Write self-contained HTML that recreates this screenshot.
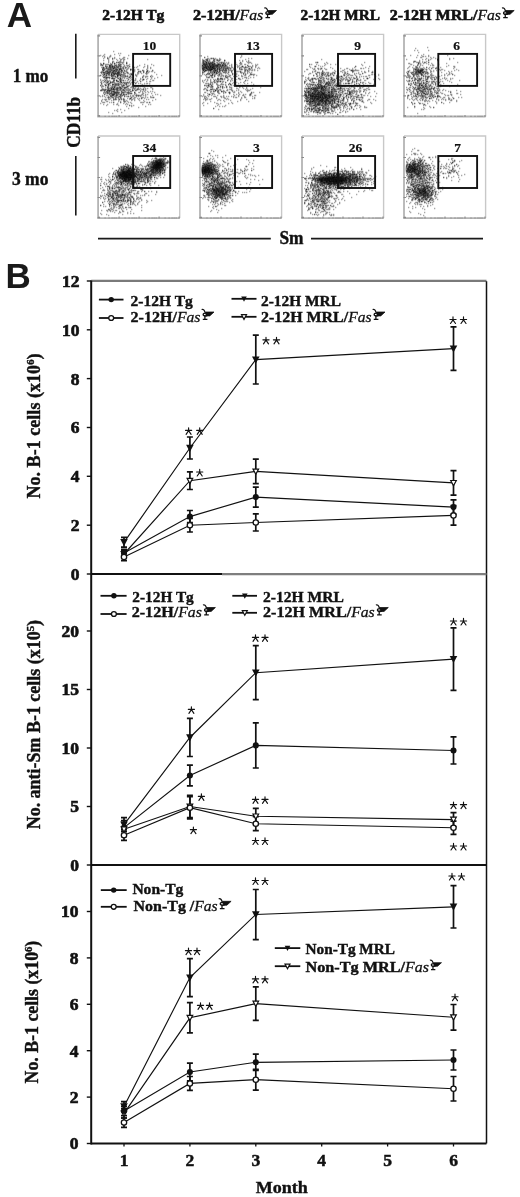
<!DOCTYPE html>
<html><head><meta charset="utf-8"><style>
html,body{margin:0;padding:0;background:#fff;}
body{width:520px;height:1197px;overflow:hidden;}
svg{display:block;font-family:'Liberation Serif', serif;will-change:transform;}
</style></head><body>
<svg width="520" height="1197" viewBox="0 0 520 1197">
<defs><filter id="bl" x="-10%" y="-10%" width="120%" height="120%"><feGaussianBlur stdDeviation="0.5"/></filter><filter id="b1" x="-50%" y="-50%" width="200%" height="200%"><feGaussianBlur stdDeviation="1"/></filter><filter id="b1_2" x="-50%" y="-50%" width="200%" height="200%"><feGaussianBlur stdDeviation="1.2"/></filter><filter id="b1_5" x="-50%" y="-50%" width="200%" height="200%"><feGaussianBlur stdDeviation="1.5"/></filter><filter id="b2" x="-50%" y="-50%" width="200%" height="200%"><feGaussianBlur stdDeviation="2"/></filter><filter id="b3" x="-50%" y="-50%" width="200%" height="200%"><feGaussianBlur stdDeviation="3"/></filter><clipPath id="cp00"><rect x="99.1" y="35.4" width="79.6" height="80.1"/></clipPath><clipPath id="cp01"><rect x="201.0" y="35.4" width="79.6" height="80.1"/></clipPath><clipPath id="cp02"><rect x="303.0" y="35.4" width="79.6" height="80.1"/></clipPath><clipPath id="cp03"><rect x="405.0" y="35.4" width="79.6" height="80.1"/></clipPath><clipPath id="cp10"><rect x="99.1" y="137.0" width="79.6" height="80.1"/></clipPath><clipPath id="cp11"><rect x="201.0" y="137.0" width="79.6" height="80.1"/></clipPath><clipPath id="cp12"><rect x="303.0" y="137.0" width="79.6" height="80.1"/></clipPath><clipPath id="cp13"><rect x="405.0" y="137.0" width="79.6" height="80.1"/></clipPath></defs>
<rect width="520" height="1197" fill="#fff"/>
<text x="6.8" y="27.4" font-size="35" font-weight="bold" font-family="'Liberation Sans', sans-serif" fill="#1a1a1a">A</text>
<text x="5.6" y="288" font-size="35" font-weight="bold" font-family="'Liberation Sans', sans-serif" fill="#1a1a1a">B</text>
<text x="102.3" y="20.2" font-size="15.2" font-weight="bold" textLength="62" lengthAdjust="spacingAndGlyphs" fill="#111" stroke="#111" stroke-width="0.6" >2-12H Tg</text>
<text x="193" y="20.2" font-size="15.2" font-weight="bold" textLength="46.63" lengthAdjust="spacingAndGlyphs" fill="#111" stroke="#111" stroke-width="0.6" >2-12H/</text>
<text x="239.63" y="20.2" font-size="15.2" font-weight="normal" font-style="italic" textLength="23.57" lengthAdjust="spacingAndGlyphs" fill="#111" stroke="#111" stroke-width="0.3" >Fas</text>
<g transform="translate(263.20,20.20) scale(0.950)" fill="none" stroke="#111" stroke-width="1.35"><path d="M1.2 -12.8C3 -13.6 4.2 -12 4.8 -9.6"/><ellipse cx="5.2" cy="-7.6" rx="2.4" ry="1.5"/><path d="M4.6 -7V-2.8M2.4 -2.6H7.2"/><path d="M5.2 -10.2H14L9.6 -6.2H6Z" fill="#111" stroke-width="0.8"/></g>
<text x="300.6" y="20.2" font-size="15.2" font-weight="bold" textLength="79.4" lengthAdjust="spacingAndGlyphs" fill="#111" stroke="#111" stroke-width="0.6" >2-12H MRL</text>
<text x="389.7" y="20.2" font-size="15.2" font-weight="bold" textLength="87.78" lengthAdjust="spacingAndGlyphs" fill="#111" stroke="#111" stroke-width="0.6" >2-12H MRL/</text>
<text x="477.48" y="20.2" font-size="15.2" font-weight="normal" font-style="italic" textLength="23.42" lengthAdjust="spacingAndGlyphs" fill="#111" stroke="#111" stroke-width="0.3" >Fas</text>
<g transform="translate(500.90,20.20) scale(0.950)" fill="none" stroke="#111" stroke-width="1.35"><path d="M1.2 -12.8C3 -13.6 4.2 -12 4.8 -9.6"/><ellipse cx="5.2" cy="-7.6" rx="2.4" ry="1.5"/><path d="M4.6 -7V-2.8M2.4 -2.6H7.2"/><path d="M5.2 -10.2H14L9.6 -6.2H6Z" fill="#111" stroke-width="0.8"/></g>
<text x="12.8" y="81.7" font-size="18" font-weight="bold" textLength="35.6" lengthAdjust="spacingAndGlyphs" fill="#111" stroke="#111" stroke-width="0.4" >1 mo</text>
<text x="11.9" y="185.3" font-size="18" font-weight="bold" textLength="36.5" lengthAdjust="spacingAndGlyphs" fill="#111" stroke="#111" stroke-width="0.4" >3 mo</text>
<text transform="translate(80.2,147.8) rotate(-90)" x="0" y="0" font-size="18" font-weight="bold" textLength="51" lengthAdjust="spacingAndGlyphs" fill="#111" stroke="#111" stroke-width="0.4">CD11b</text>
<path d="M75.8 33.7V78.4M75.8 156V215.4" stroke="#1a1a1a" stroke-width="1.6"/>
<text x="279.4" y="243.5" font-size="18" font-weight="bold" textLength="24.1" lengthAdjust="spacingAndGlyphs" fill="#111" stroke="#111" stroke-width="0.4" >Sm</text>
<path d="M98 238.7H270.8M311 238.7H483" stroke="#1a1a1a" stroke-width="1.7"/>
<g clip-path="url(#cp00)">
<ellipse cx="113.1" cy="70.4" rx="9" ry="5" transform="rotate(0 113.1 70.4)" fill="#000" fill-opacity="0.12" filter="url(#b2)"/>
<ellipse cx="115.1" cy="91.4" rx="9" ry="5" transform="rotate(0 115.1 91.4)" fill="#000" fill-opacity="0.08" filter="url(#b2)"/>
<g filter="url(#bl)" stroke="#000" stroke-width="1.3" stroke-opacity="0.34">
<path d="M111 89.5h1.3M117 87.5h1.3M109 69.5h1.3M113 71.5h1.3M121 74.5h1.3M118 72.5h1.3M120 80.5h1.3M130 76.5h1.3M127 93.5h1.3M136 86.5h1.3M109 90.5h1.3M124 101.5h1.3M112 84.5h1.3M117 90.5h1.3M114 67.5h1.3M118 87.5h1.3M130 78.5h1.3M113 95.5h1.3M112 82.5h1.3M104 72.5h1.3M124 99.5h1.3M117 93.5h1.3M133 87.5h1.3M117 84.5h1.3M105 85.5h1.3M111 92.5h1.3M119 96.5h1.3M110 64.5h1.3M125 68.5h1.3M125 82.5h1.3M111 91.5h1.3M112 63.5h1.3M121 59.5h1.3M100 75.5h1.3M113 72.5h1.3M111 78.5h1.3M110 72.5h1.3M106 85.5h1.3M127 69.5h1.3M106 105.5h1.3M129 82.5h1.3M107 81.5h1.3M114 63.5h1.3M109 73.5h1.3M116 87.5h1.3M107 90.5h1.3M104 90.5h1.3M103 64.5h1.3M103 67.5h1.3M129 77.5h1.3M107 87.5h1.3M107 82.5h1.3M100 55.5h1.3M124 110.5h1.3M120 80.5h1.3M118 93.5h1.3M114 54.5h1.3M128 73.5h1.3M120 62.5h1.3M114 87.5h1.3M102 69.5h1.3M114 92.5h1.3M122 71.5h1.3M114 99.5h1.3M119 84.5h1.3M107 92.5h1.3M108 84.5h1.3M117 75.5h1.3M120 89.5h1.3M108 74.5h1.3M116 59.5h1.3M111 78.5h1.3M120 78.5h1.3M124 102.5h1.3M117 72.5h1.3M100 72.5h1.3M113 80.5h1.3M131 105.5h1.3M105 77.5h1.3M132 90.5h1.3M111 92.5h1.3M115 88.5h1.3M117 67.5h1.3M114 70.5h1.3M111 88.5h1.3M124 57.5h1.3M100 64.5h1.3M111 102.5h1.3M104 99.5h1.3M126 94.5h1.3M116 80.5h1.3M114 63.5h1.3M123 92.5h1.3M108 81.5h1.3M119 99.5h1.3M124 96.5h1.3M117 62.5h1.3M108 75.5h1.3M127 86.5h1.3M120 68.5h1.3M126 83.5h1.3M108 88.5h1.3M105 84.5h1.3M132 82.5h1.3M133 90.5h1.3M116 104.5h1.3M119 58.5h1.3M110 82.5h1.3M103 60.5h1.3M101 81.5h1.3M117 95.5h1.3M109 92.5h1.3M121 82.5h1.3M111 74.5h1.3M123 61.5h1.3M119 84.5h1.3M110 85.5h1.3M113 72.5h1.3M110 82.5h1.3M106 75.5h1.3M101 90.5h1.3M104 56.5h1.3M107 71.5h1.3M121 66.5h1.3M115 71.5h1.3M120 66.5h1.3M116 71.5h1.3M109 66.5h1.3M116 62.5h1.3M113 72.5h1.3M117 81.5h1.3M118 65.5h1.3M117 73.5h1.3M106 70.5h1.3M115 70.5h1.3M109 69.5h1.3M102 65.5h1.3M123 62.5h1.3M105 75.5h1.3M102 76.5h1.3M115 72.5h1.3M112 68.5h1.3M133 67.5h1.3M128 68.5h1.3M123 68.5h1.3M123 73.5h1.3M111 73.5h1.3M109 78.5h1.3M127 68.5h1.3M114 64.5h1.3M117 60.5h1.3M117 60.5h1.3M123 62.5h1.3M102 69.5h1.3M104 74.5h1.3M117 74.5h1.3M102 69.5h1.3M121 70.5h1.3M117 72.5h1.3M114 66.5h1.3M131 73.5h1.3M109 72.5h1.3M109 73.5h1.3M115 68.5h1.3M111 66.5h1.3M111 78.5h1.3M122 74.5h1.3M126 65.5h1.3M111 66.5h1.3M116 73.5h1.3M101 73.5h1.3M125 76.5h1.3M122 68.5h1.3M117 69.5h1.3M121 72.5h1.3M121 68.5h1.3M108 89.5h1.3M112 93.5h1.3M128 91.5h1.3M112 89.5h1.3M124 100.5h1.3M116 93.5h1.3M113 91.5h1.3M118 87.5h1.3M113 97.5h1.3M117 90.5h1.3M122 92.5h1.3M120 94.5h1.3M118 98.5h1.3M116 89.5h1.3M117 90.5h1.3M124 87.5h1.3M114 80.5h1.3M120 97.5h1.3M112 94.5h1.3M117 91.5h1.3M123 94.5h1.3M128 92.5h1.3M118 92.5h1.3M129 89.5h1.3M108 92.5h1.3M118 94.5h1.3M106 99.5h1.3M114 89.5h1.3M113 94.5h1.3M113 88.5h1.3M126 89.5h1.3M120 87.5h1.3M117 88.5h1.3M147 94.5h1.3M143 97.5h1.3M143 88.5h1.3M123 101.5h1.3M143 102.5h1.3M147 102.5h1.3M140 95.5h1.3M136 82.5h1.3M133 105.5h1.3M134 99.5h1.3M130 98.5h1.3M133 98.5h1.3M142 97.5h1.3M147 88.5h1.3M132 88.5h1.3M150 91.5h1.3M142 93.5h1.3M136 95.5h1.3M134 98.5h1.3M142 92.5h1.3M138 89.5h1.3M131 100.5h1.3M130 95.5h1.3M138 95.5h1.3M140 86.5h1.3M147 71.5h1.3M150 76.5h1.3M138 71.5h1.3M142 86.5h1.3M143 72.5h1.3M143 79.5h1.3M143 70.5h1.3M149 71.5h1.3M143 67.5h1.3M147 73.5h1.3M146 73.5h1.3M143 76.5h1.3M150 81.5h1.3M146 76.5h1.3M146 81.5h1.3M134 69.5h1.3M140 71.5h1.3M147 68.5h1.3M142 70.5h1.3M144 64.5h1.3"/>
<path d="M112 78.5h1.3M120 88.5h1.3M107 104.5h1.3M108 98.5h1.3M120 81.5h1.3M109 65.5h1.3M102 95.5h1.3M125 89.5h1.3M118 90.5h1.3M118 84.5h1.3M109 77.5h1.3M117 75.5h1.3M123 84.5h1.3M123 103.5h1.3M131 69.5h1.3M131 103.5h1.3M108 85.5h1.3M125 92.5h1.3M117 76.5h1.3M111 76.5h1.3M114 79.5h1.3M113 89.5h1.3M110 69.5h1.3M115 71.5h1.3M119 79.5h1.3M106 89.5h1.3M112 91.5h1.3M101 84.5h1.3M103 74.5h1.3M134 89.5h1.3M102 68.5h1.3M122 87.5h1.3M119 90.5h1.3M102 80.5h1.3M121 112.5h1.3M117 109.5h1.3M132 82.5h1.3M107 92.5h1.3M129 66.5h1.3M113 86.5h1.3M104 77.5h1.3M111 87.5h1.3M122 86.5h1.3M135 75.5h1.3M124 59.5h1.3M101 86.5h1.3M117 85.5h1.3M123 72.5h1.3M102 56.5h1.3M123 80.5h1.3M121 92.5h1.3M114 79.5h1.3M121 80.5h1.3M116 80.5h1.3M109 91.5h1.3M116 81.5h1.3M122 62.5h1.3M128 85.5h1.3M114 57.5h1.3M127 104.5h1.3M127 58.5h1.3M113 104.5h1.3M110 75.5h1.3M103 92.5h1.3M109 88.5h1.3M128 83.5h1.3M124 91.5h1.3M116 73.5h1.3M110 55.5h1.3M101 90.5h1.3M107 84.5h1.3M112 59.5h1.3M120 53.5h1.3M116 92.5h1.3M124 92.5h1.3M129 81.5h1.3M114 83.5h1.3M124 82.5h1.3M114 89.5h1.3M107 71.5h1.3M128 83.5h1.3M136 90.5h1.3M114 86.5h1.3M113 100.5h1.3M121 74.5h1.3M106 77.5h1.3M117 83.5h1.3M134 92.5h1.3M108 74.5h1.3M108 90.5h1.3M107 80.5h1.3M119 96.5h1.3M131 93.5h1.3M116 92.5h1.3M108 91.5h1.3M120 76.5h1.3M111 89.5h1.3M120 87.5h1.3M124 66.5h1.3M103 89.5h1.3M124 101.5h1.3M127 98.5h1.3M109 80.5h1.3M112 91.5h1.3M130 69.5h1.3M110 88.5h1.3M120 101.5h1.3M108 83.5h1.3M106 91.5h1.3M116 80.5h1.3M102 90.5h1.3M110 98.5h1.3M127 73.5h1.3M108 69.5h1.3M106 78.5h1.3M119 66.5h1.3M109 75.5h1.3M113 74.5h1.3M114 80.5h1.3M104 94.5h1.3M132 74.5h1.3M123 57.5h1.3M111 86.5h1.3M113 78.5h1.3M101 71.5h1.3M122 70.5h1.3M107 68.5h1.3M108 71.5h1.3M118 71.5h1.3M108 70.5h1.3M126 62.5h1.3M110 68.5h1.3M117 66.5h1.3M113 73.5h1.3M116 66.5h1.3M120 78.5h1.3M118 64.5h1.3M112 70.5h1.3M124 70.5h1.3M130 74.5h1.3M113 79.5h1.3M123 64.5h1.3M120 75.5h1.3M114 65.5h1.3M113 75.5h1.3M125 67.5h1.3M108 67.5h1.3M112 75.5h1.3M120 64.5h1.3M115 76.5h1.3M115 71.5h1.3M118 74.5h1.3M116 62.5h1.3M106 67.5h1.3M103 70.5h1.3M119 69.5h1.3M110 65.5h1.3M130 69.5h1.3M115 73.5h1.3M120 64.5h1.3M113 68.5h1.3M111 65.5h1.3M101 72.5h1.3M113 75.5h1.3M120 69.5h1.3M116 74.5h1.3M123 66.5h1.3M103 75.5h1.3M106 74.5h1.3M126 63.5h1.3M118 66.5h1.3M110 75.5h1.3M113 70.5h1.3M118 81.5h1.3M126 67.5h1.3M113 68.5h1.3M108 72.5h1.3M107 80.5h1.3M118 83.5h1.3M112 97.5h1.3M124 96.5h1.3M116 95.5h1.3M123 85.5h1.3M105 89.5h1.3M114 89.5h1.3M113 99.5h1.3M108 90.5h1.3M111 86.5h1.3M112 87.5h1.3M125 88.5h1.3M124 96.5h1.3M130 91.5h1.3M117 97.5h1.3M132 87.5h1.3M116 90.5h1.3M122 86.5h1.3M124 88.5h1.3M123 100.5h1.3M120 102.5h1.3M115 93.5h1.3M102 89.5h1.3M111 100.5h1.3M116 96.5h1.3M114 96.5h1.3M100 96.5h1.3M111 94.5h1.3M120 98.5h1.3M125 94.5h1.3M119 92.5h1.3M104 90.5h1.3M109 93.5h1.3M140 91.5h1.3M139 80.5h1.3M131 106.5h1.3M152 91.5h1.3M150 104.5h1.3M132 90.5h1.3M160 95.5h1.3M142 94.5h1.3M148 99.5h1.3M147 91.5h1.3M139 95.5h1.3M136 96.5h1.3M149 85.5h1.3M141 102.5h1.3M142 102.5h1.3M129 93.5h1.3M128 102.5h1.3M137 88.5h1.3M139 95.5h1.3M128 85.5h1.3M129 99.5h1.3M138 96.5h1.3M145 89.5h1.3M135 87.5h1.3M153 97.5h1.3M140 81.5h1.3M153 65.5h1.3M146 69.5h1.3M141 85.5h1.3M146 72.5h1.3M146 71.5h1.3M154 78.5h1.3M146 71.5h1.3M143 71.5h1.3M130 75.5h1.3M135 88.5h1.3M141 73.5h1.3M140 79.5h1.3M147 71.5h1.3M145 77.5h1.3M146 85.5h1.3M134 67.5h1.3M147 67.5h1.3M142 77.5h1.3M147 83.5h1.3"/>
<path d="M104 79.5h1.3M120 97.5h1.3M105 85.5h1.3M103 75.5h1.3M126 84.5h1.3M115 97.5h1.3M112 78.5h1.3M116 89.5h1.3M114 94.5h1.3M108 81.5h1.3M110 90.5h1.3M113 102.5h1.3M121 69.5h1.3M104 102.5h1.3M127 101.5h1.3M107 93.5h1.3M134 82.5h1.3M114 92.5h1.3M101 87.5h1.3M123 92.5h1.3M104 91.5h1.3M103 77.5h1.3M137 95.5h1.3M113 89.5h1.3M107 82.5h1.3M119 69.5h1.3M120 84.5h1.3M111 96.5h1.3M118 97.5h1.3M114 63.5h1.3M126 70.5h1.3M107 64.5h1.3M113 82.5h1.3M113 73.5h1.3M114 71.5h1.3M109 83.5h1.3M118 99.5h1.3M112 82.5h1.3M117 76.5h1.3M114 86.5h1.3M119 79.5h1.3M117 89.5h1.3M115 92.5h1.3M120 81.5h1.3M116 80.5h1.3M122 80.5h1.3M133 87.5h1.3M100 79.5h1.3M115 92.5h1.3M115 85.5h1.3M117 73.5h1.3M116 85.5h1.3M109 71.5h1.3M101 101.5h1.3M129 77.5h1.3M115 97.5h1.3M106 75.5h1.3M114 87.5h1.3M111 76.5h1.3M105 76.5h1.3M123 85.5h1.3M119 80.5h1.3M124 83.5h1.3M111 78.5h1.3M113 73.5h1.3M116 88.5h1.3M128 86.5h1.3M100 90.5h1.3M109 83.5h1.3M110 82.5h1.3M123 87.5h1.3M104 81.5h1.3M107 73.5h1.3M102 99.5h1.3M120 83.5h1.3M122 89.5h1.3M127 92.5h1.3M131 74.5h1.3M120 79.5h1.3M118 62.5h1.3M105 100.5h1.3M122 80.5h1.3M116 110.5h1.3M118 100.5h1.3M109 65.5h1.3M137 66.5h1.3M118 85.5h1.3M127 78.5h1.3M117 78.5h1.3M102 102.5h1.3M108 60.5h1.3M125 73.5h1.3M126 103.5h1.3M117 92.5h1.3M132 79.5h1.3M112 84.5h1.3M124 74.5h1.3M106 71.5h1.3M106 73.5h1.3M126 76.5h1.3M118 101.5h1.3M109 90.5h1.3M120 65.5h1.3M119 71.5h1.3M110 96.5h1.3M127 101.5h1.3M130 69.5h1.3M101 83.5h1.3M118 81.5h1.3M111 64.5h1.3M118 72.5h1.3M101 65.5h1.3M103 63.5h1.3M115 76.5h1.3M110 95.5h1.3M125 75.5h1.3M115 84.5h1.3M132 89.5h1.3M130 84.5h1.3M106 77.5h1.3M102 96.5h1.3M134 88.5h1.3M116 65.5h1.3M115 73.5h1.3M123 74.5h1.3M115 65.5h1.3M114 71.5h1.3M114 58.5h1.3M113 73.5h1.3M119 74.5h1.3M114 72.5h1.3M118 75.5h1.3M134 70.5h1.3M113 70.5h1.3M112 67.5h1.3M114 72.5h1.3M122 67.5h1.3M103 72.5h1.3M123 68.5h1.3M117 70.5h1.3M118 71.5h1.3M113 67.5h1.3M114 74.5h1.3M107 66.5h1.3M120 60.5h1.3M104 69.5h1.3M108 69.5h1.3M101 67.5h1.3M104 74.5h1.3M120 66.5h1.3M105 76.5h1.3M117 69.5h1.3M104 72.5h1.3M116 74.5h1.3M106 75.5h1.3M123 69.5h1.3M109 70.5h1.3M105 65.5h1.3M110 67.5h1.3M118 72.5h1.3M117 73.5h1.3M113 71.5h1.3M112 66.5h1.3M109 69.5h1.3M113 71.5h1.3M115 67.5h1.3M109 73.5h1.3M106 68.5h1.3M112 72.5h1.3M118 73.5h1.3M109 68.5h1.3M121 71.5h1.3M121 62.5h1.3M113 68.5h1.3M112 61.5h1.3M108 61.5h1.3M111 72.5h1.3M120 75.5h1.3M122 95.5h1.3M113 94.5h1.3M111 93.5h1.3M131 93.5h1.3M113 95.5h1.3M122 85.5h1.3M118 93.5h1.3M107 91.5h1.3M117 94.5h1.3M113 98.5h1.3M127 96.5h1.3M130 98.5h1.3M113 91.5h1.3M130 98.5h1.3M128 93.5h1.3M123 99.5h1.3M113 91.5h1.3M118 93.5h1.3M110 83.5h1.3M112 87.5h1.3M114 91.5h1.3M121 93.5h1.3M127 86.5h1.3M115 86.5h1.3M113 94.5h1.3M114 86.5h1.3M126 94.5h1.3M102 86.5h1.3M125 87.5h1.3M128 94.5h1.3M105 87.5h1.3M104 89.5h1.3M145 94.5h1.3M141 95.5h1.3M152 100.5h1.3M141 98.5h1.3M145 90.5h1.3M124 88.5h1.3M149 102.5h1.3M142 104.5h1.3M146 99.5h1.3M151 87.5h1.3M135 86.5h1.3M141 94.5h1.3M143 93.5h1.3M140 88.5h1.3M138 107.5h1.3M143 90.5h1.3M142 91.5h1.3M124 95.5h1.3M144 101.5h1.3M143 100.5h1.3M143 89.5h1.3M140 88.5h1.3M121 96.5h1.3M142 84.5h1.3M138 87.5h1.3M143 79.5h1.3M147 70.5h1.3M152 70.5h1.3M147 65.5h1.3M140 71.5h1.3M148 72.5h1.3M157 77.5h1.3M143 75.5h1.3M146 71.5h1.3M137 69.5h1.3M143 72.5h1.3M132 70.5h1.3M142 70.5h1.3M135 74.5h1.3M145 88.5h1.3M147 78.5h1.3M143 71.5h1.3M145 73.5h1.3M146 79.5h1.3M151 64.5h1.3"/>
<path d="M126 87.5h1.3M104 76.5h1.3M107 72.5h1.3M119 63.5h1.3M121 94.5h1.3M128 55.5h1.3M117 88.5h1.3M123 58.5h1.3M107 77.5h1.3M130 69.5h1.3M112 86.5h1.3M110 87.5h1.3M112 81.5h1.3M126 63.5h1.3M126 78.5h1.3M103 63.5h1.3M125 80.5h1.3M130 80.5h1.3M118 74.5h1.3M120 95.5h1.3M116 67.5h1.3M121 86.5h1.3M135 80.5h1.3M124 83.5h1.3M118 73.5h1.3M101 64.5h1.3M106 80.5h1.3M113 84.5h1.3M130 91.5h1.3M121 94.5h1.3M123 82.5h1.3M109 56.5h1.3M112 58.5h1.3M114 85.5h1.3M119 61.5h1.3M103 82.5h1.3M113 81.5h1.3M120 77.5h1.3M123 94.5h1.3M127 82.5h1.3M130 73.5h1.3M131 97.5h1.3M127 76.5h1.3M104 84.5h1.3M120 109.5h1.3M131 86.5h1.3M119 87.5h1.3M117 111.5h1.3M108 88.5h1.3M131 77.5h1.3M108 93.5h1.3M117 104.5h1.3M124 87.5h1.3M107 90.5h1.3M119 69.5h1.3M114 78.5h1.3M113 102.5h1.3M108 88.5h1.3M110 93.5h1.3M125 91.5h1.3M119 73.5h1.3M106 81.5h1.3M119 88.5h1.3M102 72.5h1.3M111 74.5h1.3M123 99.5h1.3M138 83.5h1.3M127 92.5h1.3M110 82.5h1.3M117 75.5h1.3M114 78.5h1.3M103 86.5h1.3M122 92.5h1.3M103 82.5h1.3M114 74.5h1.3M121 84.5h1.3M124 70.5h1.3M108 85.5h1.3M105 73.5h1.3M116 99.5h1.3M127 65.5h1.3M114 110.5h1.3M119 99.5h1.3M135 83.5h1.3M107 58.5h1.3M116 80.5h1.3M103 67.5h1.3M135 95.5h1.3M108 62.5h1.3M120 87.5h1.3M114 73.5h1.3M123 67.5h1.3M117 75.5h1.3M112 113.5h1.3M107 73.5h1.3M105 64.5h1.3M108 58.5h1.3M123 90.5h1.3M108 99.5h1.3M103 55.5h1.3M126 92.5h1.3M117 103.5h1.3M100 85.5h1.3M119 74.5h1.3M100 90.5h1.3M113 80.5h1.3M126 106.5h1.3M104 68.5h1.3M103 104.5h1.3M119 70.5h1.3M131 87.5h1.3M127 72.5h1.3M115 85.5h1.3M109 94.5h1.3M125 83.5h1.3M131 82.5h1.3M109 57.5h1.3M116 77.5h1.3M126 100.5h1.3M108 59.5h1.3M122 58.5h1.3M118 78.5h1.3M127 75.5h1.3M119 77.5h1.3M114 67.5h1.3M128 67.5h1.3M116 69.5h1.3M113 75.5h1.3M110 66.5h1.3M112 69.5h1.3M130 76.5h1.3M111 64.5h1.3M105 80.5h1.3M119 72.5h1.3M119 65.5h1.3M116 71.5h1.3M112 65.5h1.3M118 67.5h1.3M123 75.5h1.3M102 69.5h1.3M111 67.5h1.3M103 70.5h1.3M123 59.5h1.3M120 59.5h1.3M110 70.5h1.3M115 69.5h1.3M120 69.5h1.3M117 72.5h1.3M117 77.5h1.3M121 70.5h1.3M121 72.5h1.3M100 63.5h1.3M114 70.5h1.3M112 66.5h1.3M120 75.5h1.3M116 70.5h1.3M100 80.5h1.3M101 72.5h1.3M124 65.5h1.3M111 69.5h1.3M102 70.5h1.3M129 76.5h1.3M129 66.5h1.3M106 79.5h1.3M104 69.5h1.3M109 66.5h1.3M104 76.5h1.3M108 68.5h1.3M110 71.5h1.3M111 73.5h1.3M126 71.5h1.3M128 77.5h1.3M109 67.5h1.3M112 71.5h1.3M110 65.5h1.3M106 66.5h1.3M112 76.5h1.3M110 63.5h1.3M105 78.5h1.3M112 95.5h1.3M117 92.5h1.3M115 92.5h1.3M120 88.5h1.3M120 88.5h1.3M134 85.5h1.3M111 93.5h1.3M111 96.5h1.3M112 97.5h1.3M126 90.5h1.3M108 97.5h1.3M116 94.5h1.3M113 93.5h1.3M112 94.5h1.3M118 96.5h1.3M108 99.5h1.3M101 89.5h1.3M129 98.5h1.3M118 92.5h1.3M111 92.5h1.3M120 96.5h1.3M113 88.5h1.3M108 87.5h1.3M111 88.5h1.3M134 92.5h1.3M124 90.5h1.3M122 90.5h1.3M113 89.5h1.3M122 90.5h1.3M111 97.5h1.3M114 94.5h1.3M110 89.5h1.3M117 92.5h1.3M150 97.5h1.3M141 89.5h1.3M152 97.5h1.3M139 100.5h1.3M140 83.5h1.3M145 106.5h1.3M145 96.5h1.3M139 92.5h1.3M146 102.5h1.3M139 98.5h1.3M129 92.5h1.3M124 85.5h1.3M137 89.5h1.3M138 88.5h1.3M126 96.5h1.3M148 104.5h1.3M144 98.5h1.3M140 90.5h1.3M145 95.5h1.3M143 86.5h1.3M131 99.5h1.3M130 93.5h1.3M130 96.5h1.3M145 97.5h1.3M153 97.5h1.3M142 79.5h1.3M145 76.5h1.3M150 76.5h1.3M128 79.5h1.3M152 70.5h1.3M147 76.5h1.3M143 79.5h1.3M137 81.5h1.3M152 71.5h1.3M147 76.5h1.3M140 81.5h1.3M138 69.5h1.3M152 89.5h1.3M150 79.5h1.3M129 74.5h1.3M151 75.5h1.3M144 83.5h1.3M151 71.5h1.3M156 74.5h1.3M153 80.5h1.3"/>
<path d="M126 85.5h1.3M117 81.5h1.3M110 81.5h1.3M115 99.5h1.3M130 87.5h1.3M132 90.5h1.3M112 95.5h1.3M126 82.5h1.3M128 65.5h1.3M120 82.5h1.3M102 85.5h1.3M125 67.5h1.3M122 63.5h1.3M124 78.5h1.3M128 92.5h1.3M106 95.5h1.3M114 93.5h1.3M112 66.5h1.3M107 57.5h1.3M129 90.5h1.3M120 94.5h1.3M105 71.5h1.3M129 105.5h1.3M133 95.5h1.3M119 87.5h1.3M114 84.5h1.3M104 92.5h1.3M114 90.5h1.3M128 79.5h1.3M123 89.5h1.3M107 89.5h1.3M123 94.5h1.3M121 91.5h1.3M100 82.5h1.3M122 86.5h1.3M140 78.5h1.3M120 80.5h1.3M105 85.5h1.3M122 76.5h1.3M108 112.5h1.3M113 78.5h1.3M109 102.5h1.3M106 82.5h1.3M114 68.5h1.3M119 75.5h1.3M124 73.5h1.3M108 73.5h1.3M113 81.5h1.3M113 84.5h1.3M111 74.5h1.3M107 82.5h1.3M132 66.5h1.3M115 83.5h1.3M126 86.5h1.3M118 83.5h1.3M111 91.5h1.3M102 88.5h1.3M115 77.5h1.3M111 68.5h1.3M104 77.5h1.3M120 64.5h1.3M128 79.5h1.3M116 94.5h1.3M111 90.5h1.3M107 88.5h1.3M105 93.5h1.3M124 76.5h1.3M116 95.5h1.3M117 76.5h1.3M129 85.5h1.3M124 90.5h1.3M120 80.5h1.3M121 76.5h1.3M128 108.5h1.3M114 78.5h1.3M108 77.5h1.3M107 88.5h1.3M127 86.5h1.3M114 67.5h1.3M112 72.5h1.3M114 91.5h1.3M116 84.5h1.3M128 89.5h1.3M116 84.5h1.3M109 94.5h1.3M125 84.5h1.3M121 82.5h1.3M112 91.5h1.3M105 89.5h1.3M115 96.5h1.3M120 94.5h1.3M118 88.5h1.3M134 80.5h1.3M110 68.5h1.3M107 86.5h1.3M123 90.5h1.3M121 99.5h1.3M112 85.5h1.3M127 76.5h1.3M105 97.5h1.3M108 89.5h1.3M108 72.5h1.3M109 74.5h1.3M106 78.5h1.3M135 83.5h1.3M129 85.5h1.3M106 93.5h1.3M105 82.5h1.3M124 71.5h1.3M103 70.5h1.3M118 53.5h1.3M133 96.5h1.3M114 76.5h1.3M107 101.5h1.3M104 96.5h1.3M107 97.5h1.3M117 72.5h1.3M106 77.5h1.3M119 68.5h1.3M114 66.5h1.3M106 75.5h1.3M106 67.5h1.3M113 71.5h1.3M106 67.5h1.3M129 64.5h1.3M100 65.5h1.3M112 67.5h1.3M120 64.5h1.3M124 78.5h1.3M131 74.5h1.3M116 69.5h1.3M117 75.5h1.3M105 66.5h1.3M113 68.5h1.3M120 79.5h1.3M120 61.5h1.3M111 70.5h1.3M125 71.5h1.3M112 72.5h1.3M106 73.5h1.3M120 61.5h1.3M103 72.5h1.3M109 67.5h1.3M109 77.5h1.3M111 75.5h1.3M102 71.5h1.3M117 67.5h1.3M118 64.5h1.3M114 63.5h1.3M104 74.5h1.3M110 69.5h1.3M103 68.5h1.3M108 64.5h1.3M121 70.5h1.3M120 67.5h1.3M100 75.5h1.3M112 77.5h1.3M101 64.5h1.3M106 68.5h1.3M105 80.5h1.3M110 71.5h1.3M121 76.5h1.3M107 70.5h1.3M116 68.5h1.3M121 79.5h1.3M123 76.5h1.3M109 66.5h1.3M112 62.5h1.3M119 64.5h1.3M121 64.5h1.3M113 61.5h1.3M126 72.5h1.3M126 69.5h1.3M114 74.5h1.3M102 89.5h1.3M123 93.5h1.3M131 91.5h1.3M127 88.5h1.3M121 98.5h1.3M108 97.5h1.3M106 92.5h1.3M116 92.5h1.3M108 84.5h1.3M135 90.5h1.3M112 89.5h1.3M107 95.5h1.3M109 91.5h1.3M127 90.5h1.3M114 87.5h1.3M109 83.5h1.3M132 99.5h1.3M121 98.5h1.3M113 94.5h1.3M121 88.5h1.3M105 93.5h1.3M115 98.5h1.3M111 95.5h1.3M107 90.5h1.3M107 93.5h1.3M127 89.5h1.3M116 93.5h1.3M113 91.5h1.3M109 99.5h1.3M110 90.5h1.3M119 94.5h1.3M116 88.5h1.3M103 93.5h1.3M135 93.5h1.3M151 93.5h1.3M125 101.5h1.3M141 98.5h1.3M138 99.5h1.3M130 102.5h1.3M138 92.5h1.3M134 94.5h1.3M149 102.5h1.3M140 96.5h1.3M150 87.5h1.3M140 102.5h1.3M133 88.5h1.3M128 93.5h1.3M130 93.5h1.3M128 96.5h1.3M147 97.5h1.3M136 89.5h1.3M139 89.5h1.3M138 95.5h1.3M145 92.5h1.3M152 88.5h1.3M123 93.5h1.3M155 99.5h1.3M130 98.5h1.3M150 67.5h1.3M138 72.5h1.3M137 72.5h1.3M131 79.5h1.3M147 66.5h1.3M135 79.5h1.3M139 71.5h1.3M146 83.5h1.3M142 80.5h1.3M142 89.5h1.3M144 85.5h1.3M152 76.5h1.3M137 86.5h1.3M149 81.5h1.3M161 75.5h1.3M138 73.5h1.3M146 74.5h1.3M142 76.5h1.3M136 75.5h1.3M142 77.5h1.3"/>
<path d="M118 84.5h1.3M120 74.5h1.3M121 85.5h1.3M115 65.5h1.3M130 89.5h1.3M120 89.5h1.3M100 103.5h1.3M104 94.5h1.3M105 90.5h1.3M123 89.5h1.3M118 85.5h1.3M113 94.5h1.3M116 97.5h1.3M116 91.5h1.3M130 70.5h1.3M113 74.5h1.3M115 84.5h1.3M115 99.5h1.3M101 82.5h1.3M108 96.5h1.3M124 75.5h1.3M122 78.5h1.3M119 55.5h1.3M104 81.5h1.3M121 88.5h1.3M134 92.5h1.3M121 85.5h1.3M113 66.5h1.3M103 102.5h1.3M132 95.5h1.3M110 93.5h1.3M116 83.5h1.3M120 81.5h1.3M131 97.5h1.3M112 78.5h1.3M116 64.5h1.3M106 64.5h1.3M126 83.5h1.3M120 68.5h1.3M121 91.5h1.3M106 91.5h1.3M114 92.5h1.3M113 68.5h1.3M123 80.5h1.3M108 84.5h1.3M103 90.5h1.3M113 92.5h1.3M114 82.5h1.3M131 74.5h1.3M120 89.5h1.3M110 96.5h1.3M119 62.5h1.3M116 95.5h1.3M123 77.5h1.3M112 94.5h1.3M122 77.5h1.3M133 82.5h1.3M120 78.5h1.3M120 102.5h1.3M115 95.5h1.3M114 73.5h1.3M119 82.5h1.3M124 77.5h1.3M119 89.5h1.3M118 66.5h1.3M109 97.5h1.3M120 90.5h1.3M127 72.5h1.3M103 80.5h1.3M103 72.5h1.3M106 83.5h1.3M111 82.5h1.3M112 58.5h1.3M117 75.5h1.3M104 57.5h1.3M107 72.5h1.3M118 73.5h1.3M119 89.5h1.3M105 72.5h1.3M130 83.5h1.3M107 87.5h1.3M117 74.5h1.3M113 68.5h1.3M103 77.5h1.3M113 51.5h1.3M107 58.5h1.3M134 100.5h1.3M101 100.5h1.3M126 62.5h1.3M122 83.5h1.3M127 82.5h1.3M110 67.5h1.3M118 78.5h1.3M116 65.5h1.3M114 93.5h1.3M113 68.5h1.3M106 71.5h1.3M110 56.5h1.3M118 62.5h1.3M116 69.5h1.3M112 95.5h1.3M118 105.5h1.3M123 60.5h1.3M108 86.5h1.3M134 71.5h1.3M119 86.5h1.3M103 58.5h1.3M115 89.5h1.3M100 85.5h1.3M104 54.5h1.3M103 63.5h1.3M123 85.5h1.3M109 65.5h1.3M108 72.5h1.3M128 88.5h1.3M127 80.5h1.3M116 84.5h1.3M102 67.5h1.3M125 104.5h1.3M106 72.5h1.3M135 78.5h1.3M123 82.5h1.3M126 63.5h1.3M102 65.5h1.3M104 73.5h1.3M111 70.5h1.3M115 73.5h1.3M113 76.5h1.3M115 69.5h1.3M119 73.5h1.3M133 72.5h1.3M105 71.5h1.3M112 75.5h1.3M110 67.5h1.3M112 66.5h1.3M118 68.5h1.3M112 73.5h1.3M116 66.5h1.3M109 72.5h1.3M107 77.5h1.3M119 69.5h1.3M103 67.5h1.3M109 71.5h1.3M119 65.5h1.3M123 72.5h1.3M118 70.5h1.3M110 66.5h1.3M122 75.5h1.3M111 74.5h1.3M105 66.5h1.3M103 68.5h1.3M118 72.5h1.3M112 62.5h1.3M105 68.5h1.3M107 73.5h1.3M120 68.5h1.3M127 66.5h1.3M120 73.5h1.3M117 73.5h1.3M108 77.5h1.3M105 68.5h1.3M114 70.5h1.3M105 71.5h1.3M116 66.5h1.3M113 73.5h1.3M125 76.5h1.3M119 72.5h1.3M109 71.5h1.3M102 69.5h1.3M107 77.5h1.3M111 75.5h1.3M102 74.5h1.3M116 70.5h1.3M112 66.5h1.3M120 71.5h1.3M112 72.5h1.3M103 73.5h1.3M107 69.5h1.3M103 69.5h1.3M123 98.5h1.3M121 99.5h1.3M128 96.5h1.3M101 83.5h1.3M128 82.5h1.3M105 99.5h1.3M120 95.5h1.3M126 84.5h1.3M121 90.5h1.3M128 90.5h1.3M106 101.5h1.3M108 90.5h1.3M105 92.5h1.3M103 89.5h1.3M117 89.5h1.3M126 87.5h1.3M122 95.5h1.3M113 88.5h1.3M113 99.5h1.3M125 87.5h1.3M110 95.5h1.3M115 98.5h1.3M121 82.5h1.3M124 94.5h1.3M109 90.5h1.3M121 93.5h1.3M120 95.5h1.3M123 82.5h1.3M111 88.5h1.3M115 92.5h1.3M117 90.5h1.3M112 84.5h1.3M117 87.5h1.3M148 92.5h1.3M135 90.5h1.3M151 97.5h1.3M141 85.5h1.3M121 95.5h1.3M144 91.5h1.3M129 105.5h1.3M136 95.5h1.3M136 94.5h1.3M150 96.5h1.3M134 97.5h1.3M135 97.5h1.3M155 94.5h1.3M137 89.5h1.3M141 97.5h1.3M149 83.5h1.3M144 87.5h1.3M134 93.5h1.3M137 98.5h1.3M132 96.5h1.3M154 92.5h1.3M152 95.5h1.3M133 85.5h1.3M143 95.5h1.3M157 94.5h1.3M137 73.5h1.3M136 76.5h1.3M138 71.5h1.3M151 77.5h1.3M139 65.5h1.3M143 89.5h1.3M140 72.5h1.3M151 78.5h1.3M144 66.5h1.3M147 70.5h1.3M149 85.5h1.3M152 80.5h1.3M150 68.5h1.3M137 74.5h1.3M132 75.5h1.3M146 72.5h1.3M136 67.5h1.3M144 85.5h1.3M147 59.5h1.3M154 72.5h1.3"/>
</g></g>
<path d="M98.1 34.4H179.7V116.5" fill="none" stroke="#c8c8c8" stroke-width="1.4"/>
<path d="M98.1 34.4V116.5H179.7" fill="none" stroke="#b4b4b4" stroke-width="1.8"/>
<path d="M97.6 35.9h2.5M97.6 55.9h2.5M97.6 75.9h2.5M97.6 95.9h2.5M97.6 115.9h2.5M99.1 117.0v-2M119.1 117.0v-2M139.1 117.0v-2M159.1 117.0v-2M179.1 117.0v-2M105.1 117.0v-1.2M109.1 117.0v-1.2M112.1 117.0v-1.2M114.1 117.0v-1.2M116.1 117.0v-1.2M125.1 117.0v-1.2M129.1 117.0v-1.2M132.1 117.0v-1.2M134.1 117.0v-1.2M136.1 117.0v-1.2M145.1 117.0v-1.2M149.1 117.0v-1.2M152.1 117.0v-1.2M154.1 117.0v-1.2M156.1 117.0v-1.2M165.1 117.0v-1.2M169.1 117.0v-1.2M172.1 117.0v-1.2M174.1 117.0v-1.2M176.1 117.0v-1.2" stroke="#8a8a8a" stroke-width="1.1"/>
<rect x="133.1" y="53.9" width="37.1" height="32" fill="none" stroke="#111" stroke-width="1.9"/>
<text x="149.6" y="50.0" font-size="13.5" font-weight="bold" text-anchor="middle" fill="#111" stroke="#111" stroke-width="0.2" >10</text>
<g clip-path="url(#cp01)">
<ellipse cx="208.0" cy="66.4" rx="9" ry="4" transform="rotate(0 208.0 66.4)" fill="#000" fill-opacity="0.3" filter="url(#b1_5)"/>
<g filter="url(#bl)" stroke="#000" stroke-width="1.3" stroke-opacity="0.34">
<path d="M209 64.5h1.3M214 63.5h1.3M203 67.5h1.3M206 67.5h1.3M213 62.5h1.3M206 62.5h1.3M212 74.5h1.3M209 66.5h1.3M218 63.5h1.3M207 68.5h1.3M210 63.5h1.3M206 70.5h1.3M216 65.5h1.3M214 61.5h1.3M215 68.5h1.3M216 73.5h1.3M203 61.5h1.3M224 61.5h1.3M222 66.5h1.3M203 63.5h1.3M219 67.5h1.3M225 66.5h1.3M206 68.5h1.3M207 60.5h1.3M212 62.5h1.3M216 59.5h1.3M218 63.5h1.3M219 69.5h1.3M210 70.5h1.3M210 75.5h1.3M223 65.5h1.3M209 65.5h1.3M207 67.5h1.3M213 67.5h1.3M224 62.5h1.3M209 69.5h1.3M209 70.5h1.3M222 70.5h1.3M209 59.5h1.3M207 73.5h1.3M210 65.5h1.3M203 61.5h1.3M227 67.5h1.3M207 70.5h1.3M210 70.5h1.3M212 64.5h1.3M209 64.5h1.3M203 62.5h1.3M223 64.5h1.3M204 67.5h1.3M218 66.5h1.3M212 68.5h1.3M227 64.5h1.3M215 58.5h1.3M206 64.5h1.3M220 64.5h1.3M220 66.5h1.3M211 66.5h1.3M213 66.5h1.3M219 64.5h1.3M214 72.5h1.3M205 64.5h1.3M203 72.5h1.3M217 69.5h1.3M206 63.5h1.3M210 62.5h1.3M212 64.5h1.3M224 60.5h1.3M209 70.5h1.3M217 62.5h1.3M203 69.5h1.3M207 59.5h1.3M219 59.5h1.3M212 67.5h1.3M202 73.5h1.3M203 69.5h1.3M211 69.5h1.3M219 63.5h1.3M204 65.5h1.3M217 66.5h1.3M206 59.5h1.3M213 60.5h1.3M212 68.5h1.3M205 65.5h1.3M208 66.5h1.3M207 56.5h1.3M211 68.5h1.3M221 63.5h1.3M202 65.5h1.3M227 89.5h1.3M218 66.5h1.3M223 90.5h1.3M206 99.5h1.3M212 94.5h1.3M221 74.5h1.3M211 91.5h1.3M231 102.5h1.3M207 80.5h1.3M216 72.5h1.3M225 70.5h1.3M233 85.5h1.3M220 84.5h1.3M224 97.5h1.3M238 83.5h1.3M217 95.5h1.3M208 83.5h1.3M208 77.5h1.3M227 73.5h1.3M217 85.5h1.3M215 106.5h1.3M206 97.5h1.3M222 91.5h1.3M210 89.5h1.3M207 69.5h1.3M209 90.5h1.3M224 87.5h1.3M211 85.5h1.3M213 93.5h1.3M229 93.5h1.3M212 86.5h1.3M207 98.5h1.3M217 81.5h1.3M229 76.5h1.3M211 82.5h1.3M221 74.5h1.3M221 97.5h1.3M206 74.5h1.3M224 70.5h1.3M221 91.5h1.3M237 101.5h1.3M209 99.5h1.3M205 79.5h1.3M229 89.5h1.3M229 92.5h1.3M225 85.5h1.3M217 90.5h1.3M229 83.5h1.3M204 97.5h1.3M215 79.5h1.3M225 92.5h1.3M209 94.5h1.3M225 75.5h1.3M229 87.5h1.3M231 85.5h1.3M222 82.5h1.3M219 93.5h1.3M207 99.5h1.3M205 100.5h1.3M217 105.5h1.3M224 98.5h1.3M220 73.5h1.3M234 92.5h1.3M218 90.5h1.3M215 90.5h1.3M244 97.5h1.3M210 75.5h1.3M206 76.5h1.3M231 87.5h1.3M233 97.5h1.3M208 85.5h1.3M217 91.5h1.3M257 64.5h1.3M248 68.5h1.3M248 71.5h1.3M251 67.5h1.3M240 71.5h1.3M235 69.5h1.3M242 66.5h1.3M236 71.5h1.3M240 72.5h1.3M252 69.5h1.3M243 74.5h1.3M250 77.5h1.3M257 70.5h1.3M245 74.5h1.3M235 66.5h1.3M255 64.5h1.3M255 65.5h1.3M247 71.5h1.3M252 70.5h1.3M241 76.5h1.3M244 68.5h1.3M248 61.5h1.3M245 77.5h1.3M246 69.5h1.3M247 67.5h1.3M241 76.5h1.3M247 83.5h1.3M243 94.5h1.3M248 101.5h1.3M251 92.5h1.3M254 98.5h1.3M246 87.5h1.3M250 93.5h1.3M234 91.5h1.3M238 92.5h1.3M249 95.5h1.3M218 67.5h1.3M232 67.5h1.3M214 71.5h1.3M233 68.5h1.3M231 78.5h1.3M214 76.5h1.3M209 76.5h1.3M217 68.5h1.3M217 67.5h1.3M231 70.5h1.3M209 67.5h1.3M226 77.5h1.3M223 64.5h1.3M228 72.5h1.3M220 78.5h1.3M207 74.5h1.3M225 73.5h1.3M215 70.5h1.3M226 67.5h1.3M217 69.5h1.3M226 68.5h1.3M225 64.5h1.3M219 75.5h1.3M218 64.5h1.3M226 70.5h1.3"/>
<path d="M219 58.5h1.3M220 65.5h1.3M219 74.5h1.3M219 62.5h1.3M225 69.5h1.3M227 63.5h1.3M211 62.5h1.3M212 69.5h1.3M215 74.5h1.3M209 63.5h1.3M208 58.5h1.3M208 69.5h1.3M214 68.5h1.3M203 70.5h1.3M206 67.5h1.3M217 65.5h1.3M203 68.5h1.3M224 65.5h1.3M208 70.5h1.3M212 67.5h1.3M211 69.5h1.3M210 66.5h1.3M216 67.5h1.3M213 68.5h1.3M202 60.5h1.3M213 59.5h1.3M212 72.5h1.3M215 73.5h1.3M217 59.5h1.3M207 58.5h1.3M205 61.5h1.3M209 65.5h1.3M204 69.5h1.3M215 66.5h1.3M204 71.5h1.3M214 67.5h1.3M209 69.5h1.3M208 67.5h1.3M211 68.5h1.3M212 63.5h1.3M206 64.5h1.3M210 63.5h1.3M209 67.5h1.3M211 67.5h1.3M219 64.5h1.3M219 67.5h1.3M214 63.5h1.3M214 72.5h1.3M204 64.5h1.3M218 72.5h1.3M216 65.5h1.3M215 65.5h1.3M222 69.5h1.3M224 64.5h1.3M213 68.5h1.3M214 72.5h1.3M208 63.5h1.3M225 72.5h1.3M211 67.5h1.3M214 67.5h1.3M214 59.5h1.3M208 70.5h1.3M211 69.5h1.3M221 68.5h1.3M205 70.5h1.3M209 67.5h1.3M217 68.5h1.3M216 72.5h1.3M203 64.5h1.3M214 66.5h1.3M224 66.5h1.3M206 67.5h1.3M212 63.5h1.3M213 64.5h1.3M213 58.5h1.3M209 63.5h1.3M205 65.5h1.3M222 64.5h1.3M211 62.5h1.3M202 72.5h1.3M210 58.5h1.3M206 59.5h1.3M206 60.5h1.3M215 69.5h1.3M214 67.5h1.3M211 67.5h1.3M218 61.5h1.3M214 69.5h1.3M222 62.5h1.3M216 70.5h1.3M214 89.5h1.3M225 98.5h1.3M232 90.5h1.3M240 79.5h1.3M239 87.5h1.3M236 76.5h1.3M208 86.5h1.3M223 84.5h1.3M229 93.5h1.3M218 81.5h1.3M205 88.5h1.3M214 91.5h1.3M208 77.5h1.3M244 81.5h1.3M226 87.5h1.3M230 75.5h1.3M207 65.5h1.3M207 85.5h1.3M235 85.5h1.3M218 78.5h1.3M204 89.5h1.3M228 74.5h1.3M212 77.5h1.3M214 80.5h1.3M210 86.5h1.3M211 72.5h1.3M205 98.5h1.3M205 96.5h1.3M235 83.5h1.3M216 98.5h1.3M218 109.5h1.3M212 93.5h1.3M217 89.5h1.3M207 87.5h1.3M213 108.5h1.3M207 90.5h1.3M213 81.5h1.3M217 88.5h1.3M219 106.5h1.3M220 100.5h1.3M218 87.5h1.3M204 85.5h1.3M229 83.5h1.3M212 89.5h1.3M226 87.5h1.3M214 82.5h1.3M211 75.5h1.3M240 82.5h1.3M243 88.5h1.3M222 87.5h1.3M221 78.5h1.3M214 75.5h1.3M229 83.5h1.3M211 77.5h1.3M226 90.5h1.3M203 82.5h1.3M225 84.5h1.3M223 96.5h1.3M210 84.5h1.3M216 81.5h1.3M209 86.5h1.3M211 69.5h1.3M205 85.5h1.3M203 89.5h1.3M225 77.5h1.3M211 98.5h1.3M244 96.5h1.3M230 84.5h1.3M231 89.5h1.3M246 77.5h1.3M242 78.5h1.3M242 69.5h1.3M235 62.5h1.3M241 66.5h1.3M241 73.5h1.3M254 69.5h1.3M252 74.5h1.3M242 60.5h1.3M247 65.5h1.3M248 58.5h1.3M247 80.5h1.3M245 69.5h1.3M251 68.5h1.3M249 75.5h1.3M240 67.5h1.3M239 71.5h1.3M240 69.5h1.3M235 75.5h1.3M249 69.5h1.3M242 72.5h1.3M251 74.5h1.3M241 72.5h1.3M238 71.5h1.3M245 67.5h1.3M255 66.5h1.3M251 92.5h1.3M249 94.5h1.3M247 89.5h1.3M253 84.5h1.3M249 90.5h1.3M247 90.5h1.3M238 85.5h1.3M250 95.5h1.3M260 87.5h1.3M253 92.5h1.3M215 70.5h1.3M228 67.5h1.3M227 77.5h1.3M219 71.5h1.3M214 67.5h1.3M227 68.5h1.3M225 67.5h1.3M217 71.5h1.3M217 69.5h1.3M231 65.5h1.3M230 70.5h1.3M209 68.5h1.3M210 72.5h1.3M221 65.5h1.3M228 69.5h1.3M237 71.5h1.3M214 68.5h1.3M233 76.5h1.3M210 70.5h1.3M223 68.5h1.3M204 67.5h1.3M217 75.5h1.3M231 71.5h1.3M221 69.5h1.3M235 70.5h1.3"/>
<path d="M221 62.5h1.3M213 65.5h1.3M203 60.5h1.3M203 70.5h1.3M206 68.5h1.3M219 70.5h1.3M220 68.5h1.3M204 61.5h1.3M216 70.5h1.3M222 65.5h1.3M216 70.5h1.3M215 65.5h1.3M208 69.5h1.3M210 62.5h1.3M206 74.5h1.3M210 68.5h1.3M218 67.5h1.3M212 73.5h1.3M212 66.5h1.3M214 72.5h1.3M228 63.5h1.3M216 71.5h1.3M218 72.5h1.3M229 67.5h1.3M212 71.5h1.3M210 72.5h1.3M221 63.5h1.3M215 70.5h1.3M205 66.5h1.3M211 64.5h1.3M202 59.5h1.3M217 68.5h1.3M224 60.5h1.3M204 74.5h1.3M223 67.5h1.3M210 66.5h1.3M206 70.5h1.3M219 60.5h1.3M212 67.5h1.3M219 71.5h1.3M211 69.5h1.3M205 67.5h1.3M202 69.5h1.3M209 68.5h1.3M213 72.5h1.3M208 61.5h1.3M214 64.5h1.3M212 64.5h1.3M221 66.5h1.3M211 65.5h1.3M218 64.5h1.3M218 60.5h1.3M226 70.5h1.3M202 63.5h1.3M210 70.5h1.3M211 69.5h1.3M204 67.5h1.3M207 69.5h1.3M210 66.5h1.3M214 65.5h1.3M206 62.5h1.3M209 68.5h1.3M205 63.5h1.3M211 67.5h1.3M207 61.5h1.3M205 59.5h1.3M229 65.5h1.3M216 67.5h1.3M202 68.5h1.3M214 63.5h1.3M212 75.5h1.3M204 63.5h1.3M223 63.5h1.3M211 69.5h1.3M223 72.5h1.3M212 72.5h1.3M213 71.5h1.3M210 69.5h1.3M207 73.5h1.3M205 70.5h1.3M202 68.5h1.3M218 60.5h1.3M217 66.5h1.3M228 99.5h1.3M243 73.5h1.3M232 74.5h1.3M207 90.5h1.3M217 84.5h1.3M231 79.5h1.3M203 94.5h1.3M223 68.5h1.3M222 84.5h1.3M219 81.5h1.3M217 79.5h1.3M210 79.5h1.3M214 70.5h1.3M230 81.5h1.3M226 77.5h1.3M228 99.5h1.3M212 83.5h1.3M225 92.5h1.3M208 96.5h1.3M236 85.5h1.3M230 84.5h1.3M214 81.5h1.3M226 96.5h1.3M222 79.5h1.3M232 80.5h1.3M218 92.5h1.3M227 98.5h1.3M215 82.5h1.3M203 95.5h1.3M211 76.5h1.3M236 90.5h1.3M217 86.5h1.3M222 86.5h1.3M233 82.5h1.3M206 86.5h1.3M206 85.5h1.3M205 99.5h1.3M216 88.5h1.3M216 97.5h1.3M224 79.5h1.3M210 82.5h1.3M236 88.5h1.3M210 99.5h1.3M219 99.5h1.3M222 67.5h1.3M222 88.5h1.3M231 96.5h1.3M209 73.5h1.3M236 82.5h1.3M212 82.5h1.3M202 74.5h1.3M215 82.5h1.3M214 82.5h1.3M238 78.5h1.3M221 75.5h1.3M204 85.5h1.3M211 85.5h1.3M209 77.5h1.3M214 82.5h1.3M228 92.5h1.3M205 83.5h1.3M220 78.5h1.3M214 96.5h1.3M226 86.5h1.3M218 99.5h1.3M225 92.5h1.3M215 90.5h1.3M237 88.5h1.3M210 89.5h1.3M248 66.5h1.3M244 70.5h1.3M251 70.5h1.3M248 63.5h1.3M247 70.5h1.3M244 77.5h1.3M249 66.5h1.3M248 62.5h1.3M250 73.5h1.3M241 64.5h1.3M245 59.5h1.3M250 62.5h1.3M239 79.5h1.3M249 68.5h1.3M257 68.5h1.3M244 75.5h1.3M250 66.5h1.3M245 64.5h1.3M235 72.5h1.3M246 61.5h1.3M245 70.5h1.3M243 67.5h1.3M245 67.5h1.3M246 61.5h1.3M240 64.5h1.3M239 60.5h1.3M249 68.5h1.3M229 92.5h1.3M242 87.5h1.3M259 92.5h1.3M241 97.5h1.3M242 86.5h1.3M250 94.5h1.3M239 94.5h1.3M243 95.5h1.3M236 94.5h1.3M235 97.5h1.3M214 71.5h1.3M224 70.5h1.3M222 68.5h1.3M231 72.5h1.3M217 71.5h1.3M224 66.5h1.3M231 72.5h1.3M224 72.5h1.3M234 69.5h1.3M221 67.5h1.3M223 70.5h1.3M220 70.5h1.3M219 68.5h1.3M228 76.5h1.3M222 64.5h1.3M222 71.5h1.3M219 74.5h1.3M219 69.5h1.3M226 75.5h1.3M211 64.5h1.3M234 75.5h1.3M211 73.5h1.3M236 74.5h1.3M230 68.5h1.3M223 72.5h1.3"/>
<path d="M217 60.5h1.3M225 65.5h1.3M217 60.5h1.3M225 68.5h1.3M219 65.5h1.3M209 70.5h1.3M207 65.5h1.3M214 60.5h1.3M213 64.5h1.3M205 70.5h1.3M202 65.5h1.3M219 68.5h1.3M223 63.5h1.3M214 69.5h1.3M213 58.5h1.3M219 70.5h1.3M212 62.5h1.3M213 73.5h1.3M204 66.5h1.3M207 60.5h1.3M217 66.5h1.3M223 62.5h1.3M204 57.5h1.3M208 66.5h1.3M205 62.5h1.3M213 66.5h1.3M215 64.5h1.3M221 70.5h1.3M212 67.5h1.3M205 64.5h1.3M204 68.5h1.3M222 65.5h1.3M202 72.5h1.3M214 65.5h1.3M216 66.5h1.3M211 69.5h1.3M206 68.5h1.3M205 62.5h1.3M206 63.5h1.3M218 65.5h1.3M209 70.5h1.3M203 68.5h1.3M220 64.5h1.3M213 64.5h1.3M206 67.5h1.3M210 71.5h1.3M211 71.5h1.3M219 66.5h1.3M209 70.5h1.3M210 68.5h1.3M228 69.5h1.3M203 62.5h1.3M204 65.5h1.3M215 65.5h1.3M214 66.5h1.3M207 66.5h1.3M214 61.5h1.3M215 71.5h1.3M203 70.5h1.3M208 73.5h1.3M208 63.5h1.3M203 61.5h1.3M223 67.5h1.3M213 68.5h1.3M204 66.5h1.3M210 64.5h1.3M202 69.5h1.3M216 69.5h1.3M210 64.5h1.3M214 68.5h1.3M209 64.5h1.3M216 72.5h1.3M217 65.5h1.3M212 64.5h1.3M203 61.5h1.3M209 68.5h1.3M204 71.5h1.3M221 67.5h1.3M211 63.5h1.3M210 67.5h1.3M209 69.5h1.3M203 66.5h1.3M212 65.5h1.3M209 69.5h1.3M213 70.5h1.3M202 68.5h1.3M217 64.5h1.3M211 63.5h1.3M226 87.5h1.3M222 87.5h1.3M218 93.5h1.3M223 91.5h1.3M236 85.5h1.3M236 79.5h1.3M217 91.5h1.3M213 79.5h1.3M212 87.5h1.3M218 104.5h1.3M203 105.5h1.3M220 79.5h1.3M240 99.5h1.3M206 83.5h1.3M227 80.5h1.3M207 77.5h1.3M220 86.5h1.3M218 85.5h1.3M226 86.5h1.3M217 82.5h1.3M216 73.5h1.3M204 80.5h1.3M229 92.5h1.3M220 89.5h1.3M214 94.5h1.3M231 90.5h1.3M219 85.5h1.3M212 88.5h1.3M222 78.5h1.3M220 81.5h1.3M234 95.5h1.3M203 102.5h1.3M223 97.5h1.3M214 80.5h1.3M215 96.5h1.3M217 79.5h1.3M232 83.5h1.3M212 65.5h1.3M233 69.5h1.3M230 87.5h1.3M210 81.5h1.3M207 79.5h1.3M216 88.5h1.3M207 83.5h1.3M209 94.5h1.3M224 106.5h1.3M208 84.5h1.3M206 89.5h1.3M212 75.5h1.3M208 85.5h1.3M210 83.5h1.3M216 84.5h1.3M212 74.5h1.3M223 93.5h1.3M217 79.5h1.3M214 102.5h1.3M238 89.5h1.3M230 80.5h1.3M207 95.5h1.3M220 78.5h1.3M211 86.5h1.3M217 79.5h1.3M236 97.5h1.3M203 99.5h1.3M238 90.5h1.3M225 76.5h1.3M221 83.5h1.3M214 70.5h1.3M213 79.5h1.3M213 91.5h1.3M228 84.5h1.3M236 73.5h1.3M232 73.5h1.3M250 74.5h1.3M245 73.5h1.3M242 61.5h1.3M254 74.5h1.3M258 67.5h1.3M256 75.5h1.3M240 62.5h1.3M238 66.5h1.3M256 65.5h1.3M247 72.5h1.3M243 73.5h1.3M245 70.5h1.3M253 77.5h1.3M248 78.5h1.3M249 72.5h1.3M251 74.5h1.3M242 66.5h1.3M245 74.5h1.3M247 70.5h1.3M239 67.5h1.3M251 63.5h1.3M241 75.5h1.3M240 63.5h1.3M245 75.5h1.3M239 68.5h1.3M252 98.5h1.3M254 97.5h1.3M246 90.5h1.3M240 85.5h1.3M254 97.5h1.3M248 90.5h1.3M251 93.5h1.3M245 89.5h1.3M248 90.5h1.3M250 89.5h1.3M237 65.5h1.3M231 64.5h1.3M228 70.5h1.3M214 68.5h1.3M218 74.5h1.3M212 69.5h1.3M219 68.5h1.3M226 66.5h1.3M211 69.5h1.3M223 76.5h1.3M223 69.5h1.3M223 67.5h1.3M211 69.5h1.3M232 74.5h1.3M216 69.5h1.3M227 68.5h1.3M224 64.5h1.3M237 66.5h1.3M227 76.5h1.3M226 72.5h1.3M224 63.5h1.3M240 72.5h1.3M218 66.5h1.3M210 66.5h1.3M231 66.5h1.3"/>
<path d="M209 74.5h1.3M213 60.5h1.3M219 66.5h1.3M204 64.5h1.3M212 69.5h1.3M215 66.5h1.3M218 69.5h1.3M203 63.5h1.3M220 62.5h1.3M206 60.5h1.3M209 63.5h1.3M214 68.5h1.3M207 68.5h1.3M204 64.5h1.3M209 60.5h1.3M204 69.5h1.3M218 68.5h1.3M217 71.5h1.3M205 61.5h1.3M208 64.5h1.3M225 68.5h1.3M213 61.5h1.3M214 72.5h1.3M215 67.5h1.3M214 67.5h1.3M219 65.5h1.3M217 60.5h1.3M211 69.5h1.3M206 66.5h1.3M221 73.5h1.3M225 65.5h1.3M210 67.5h1.3M224 60.5h1.3M202 65.5h1.3M205 67.5h1.3M209 64.5h1.3M218 75.5h1.3M223 63.5h1.3M212 58.5h1.3M213 70.5h1.3M222 65.5h1.3M217 69.5h1.3M208 64.5h1.3M215 66.5h1.3M202 62.5h1.3M205 66.5h1.3M203 62.5h1.3M213 67.5h1.3M215 67.5h1.3M215 67.5h1.3M219 65.5h1.3M212 65.5h1.3M231 67.5h1.3M205 70.5h1.3M210 66.5h1.3M214 68.5h1.3M207 63.5h1.3M219 66.5h1.3M214 64.5h1.3M207 64.5h1.3M220 59.5h1.3M216 66.5h1.3M205 70.5h1.3M208 62.5h1.3M214 59.5h1.3M213 68.5h1.3M210 69.5h1.3M211 58.5h1.3M226 62.5h1.3M217 68.5h1.3M228 62.5h1.3M203 64.5h1.3M212 67.5h1.3M213 66.5h1.3M222 70.5h1.3M206 68.5h1.3M219 60.5h1.3M220 62.5h1.3M226 68.5h1.3M208 67.5h1.3M217 63.5h1.3M221 66.5h1.3M218 64.5h1.3M214 69.5h1.3M206 62.5h1.3M202 67.5h1.3M203 69.5h1.3M238 93.5h1.3M241 98.5h1.3M220 87.5h1.3M216 80.5h1.3M206 81.5h1.3M204 96.5h1.3M245 80.5h1.3M210 101.5h1.3M230 100.5h1.3M227 78.5h1.3M218 80.5h1.3M231 88.5h1.3M221 91.5h1.3M225 82.5h1.3M224 72.5h1.3M221 91.5h1.3M228 96.5h1.3M235 81.5h1.3M210 84.5h1.3M230 89.5h1.3M228 103.5h1.3M233 96.5h1.3M202 103.5h1.3M205 92.5h1.3M210 92.5h1.3M227 90.5h1.3M234 78.5h1.3M215 90.5h1.3M220 96.5h1.3M232 91.5h1.3M238 78.5h1.3M216 89.5h1.3M229 75.5h1.3M229 86.5h1.3M207 87.5h1.3M209 84.5h1.3M212 68.5h1.3M220 103.5h1.3M221 79.5h1.3M232 70.5h1.3M211 89.5h1.3M217 87.5h1.3M225 105.5h1.3M224 91.5h1.3M224 68.5h1.3M220 81.5h1.3M208 85.5h1.3M211 93.5h1.3M207 103.5h1.3M220 103.5h1.3M210 87.5h1.3M212 84.5h1.3M217 78.5h1.3M223 81.5h1.3M213 108.5h1.3M241 98.5h1.3M222 79.5h1.3M217 65.5h1.3M221 96.5h1.3M232 73.5h1.3M222 106.5h1.3M246 88.5h1.3M202 80.5h1.3M221 84.5h1.3M217 81.5h1.3M223 95.5h1.3M223 100.5h1.3M221 78.5h1.3M207 93.5h1.3M204 71.5h1.3M244 72.5h1.3M242 76.5h1.3M248 69.5h1.3M246 67.5h1.3M244 64.5h1.3M241 69.5h1.3M259 68.5h1.3M247 73.5h1.3M249 70.5h1.3M251 82.5h1.3M248 66.5h1.3M241 67.5h1.3M244 69.5h1.3M253 74.5h1.3M254 70.5h1.3M236 64.5h1.3M241 56.5h1.3M247 65.5h1.3M249 68.5h1.3M239 69.5h1.3M235 74.5h1.3M239 69.5h1.3M243 82.5h1.3M252 66.5h1.3M241 55.5h1.3M246 78.5h1.3M239 78.5h1.3M238 95.5h1.3M241 92.5h1.3M246 85.5h1.3M240 91.5h1.3M246 88.5h1.3M255 95.5h1.3M246 99.5h1.3M242 95.5h1.3M245 94.5h1.3M252 96.5h1.3M230 68.5h1.3M211 75.5h1.3M216 73.5h1.3M230 69.5h1.3M217 69.5h1.3M225 70.5h1.3M231 71.5h1.3M220 66.5h1.3M228 72.5h1.3M218 76.5h1.3M214 69.5h1.3M222 70.5h1.3M221 67.5h1.3M224 71.5h1.3M229 70.5h1.3M223 72.5h1.3M212 77.5h1.3M234 71.5h1.3M228 71.5h1.3M223 65.5h1.3M219 69.5h1.3M211 75.5h1.3M241 68.5h1.3M222 71.5h1.3M218 69.5h1.3"/>
<path d="M216 60.5h1.3M210 69.5h1.3M225 63.5h1.3M213 66.5h1.3M215 68.5h1.3M217 65.5h1.3M212 64.5h1.3M216 62.5h1.3M209 65.5h1.3M204 63.5h1.3M208 68.5h1.3M208 67.5h1.3M202 68.5h1.3M209 61.5h1.3M209 65.5h1.3M212 62.5h1.3M209 61.5h1.3M208 67.5h1.3M213 63.5h1.3M214 68.5h1.3M224 67.5h1.3M212 74.5h1.3M206 62.5h1.3M211 69.5h1.3M227 67.5h1.3M212 67.5h1.3M208 62.5h1.3M206 66.5h1.3M216 64.5h1.3M209 65.5h1.3M206 65.5h1.3M212 66.5h1.3M209 64.5h1.3M227 66.5h1.3M208 66.5h1.3M220 65.5h1.3M209 65.5h1.3M207 59.5h1.3M209 63.5h1.3M212 61.5h1.3M204 60.5h1.3M222 65.5h1.3M217 64.5h1.3M213 65.5h1.3M210 67.5h1.3M209 73.5h1.3M211 65.5h1.3M203 66.5h1.3M209 61.5h1.3M218 64.5h1.3M210 66.5h1.3M219 72.5h1.3M210 67.5h1.3M210 70.5h1.3M202 71.5h1.3M213 68.5h1.3M207 69.5h1.3M202 61.5h1.3M210 70.5h1.3M203 60.5h1.3M208 62.5h1.3M220 68.5h1.3M211 58.5h1.3M204 64.5h1.3M208 72.5h1.3M202 66.5h1.3M203 66.5h1.3M219 69.5h1.3M205 65.5h1.3M211 63.5h1.3M203 67.5h1.3M202 66.5h1.3M206 65.5h1.3M223 69.5h1.3M215 70.5h1.3M208 72.5h1.3M205 68.5h1.3M208 70.5h1.3M210 75.5h1.3M213 63.5h1.3M211 63.5h1.3M221 62.5h1.3M206 64.5h1.3M205 67.5h1.3M204 57.5h1.3M211 63.5h1.3M205 66.5h1.3M213 71.5h1.3M212 67.5h1.3M203 64.5h1.3M203 66.5h1.3M219 72.5h1.3M202 70.5h1.3M223 92.5h1.3M211 89.5h1.3M214 72.5h1.3M221 91.5h1.3M230 77.5h1.3M240 86.5h1.3M210 80.5h1.3M217 100.5h1.3M217 78.5h1.3M204 92.5h1.3M216 83.5h1.3M238 96.5h1.3M220 81.5h1.3M232 78.5h1.3M218 79.5h1.3M204 88.5h1.3M230 84.5h1.3M212 86.5h1.3M228 84.5h1.3M240 100.5h1.3M217 92.5h1.3M218 91.5h1.3M222 86.5h1.3M219 79.5h1.3M233 94.5h1.3M211 89.5h1.3M217 70.5h1.3M220 90.5h1.3M245 85.5h1.3M211 87.5h1.3M232 103.5h1.3M236 76.5h1.3M208 94.5h1.3M220 70.5h1.3M208 74.5h1.3M215 90.5h1.3M206 90.5h1.3M220 76.5h1.3M204 98.5h1.3M225 82.5h1.3M213 96.5h1.3M216 103.5h1.3M217 103.5h1.3M214 74.5h1.3M206 77.5h1.3M211 95.5h1.3M226 99.5h1.3M222 81.5h1.3M227 80.5h1.3M238 75.5h1.3M202 81.5h1.3M214 76.5h1.3M213 91.5h1.3M224 101.5h1.3M239 86.5h1.3M208 69.5h1.3M213 90.5h1.3M219 89.5h1.3M209 94.5h1.3M218 90.5h1.3M218 87.5h1.3M210 91.5h1.3M228 79.5h1.3M220 86.5h1.3M208 74.5h1.3M213 89.5h1.3M202 96.5h1.3M239 68.5h1.3M244 67.5h1.3M245 71.5h1.3M245 66.5h1.3M241 69.5h1.3M250 74.5h1.3M245 80.5h1.3M242 66.5h1.3M251 67.5h1.3M255 67.5h1.3M247 62.5h1.3M244 71.5h1.3M240 71.5h1.3M239 65.5h1.3M248 60.5h1.3M239 63.5h1.3M240 62.5h1.3M240 57.5h1.3M251 72.5h1.3M241 63.5h1.3M249 62.5h1.3M253 75.5h1.3M251 58.5h1.3M252 65.5h1.3M250 69.5h1.3M237 67.5h1.3M248 76.5h1.3M247 91.5h1.3M251 85.5h1.3M236 86.5h1.3M245 97.5h1.3M250 94.5h1.3M254 95.5h1.3M242 85.5h1.3M252 88.5h1.3M233 92.5h1.3M244 83.5h1.3M226 69.5h1.3M225 76.5h1.3M207 66.5h1.3M217 73.5h1.3M226 71.5h1.3M216 65.5h1.3M235 71.5h1.3M226 65.5h1.3M224 78.5h1.3M214 75.5h1.3M223 66.5h1.3M221 76.5h1.3M219 73.5h1.3M222 75.5h1.3M220 72.5h1.3M219 71.5h1.3M225 65.5h1.3M223 75.5h1.3M225 71.5h1.3M229 68.5h1.3M226 69.5h1.3M208 71.5h1.3M225 69.5h1.3M228 68.5h1.3M205 75.5h1.3"/>
</g></g>
<path d="M200.0 34.4H281.6V116.5" fill="none" stroke="#c8c8c8" stroke-width="1.4"/>
<path d="M200.0 34.4V116.5H281.6" fill="none" stroke="#b4b4b4" stroke-width="1.8"/>
<path d="M199.5 35.9h2.5M199.5 55.9h2.5M199.5 75.9h2.5M199.5 95.9h2.5M199.5 115.9h2.5M201.0 117.0v-2M221.0 117.0v-2M241.0 117.0v-2M261.0 117.0v-2M281.0 117.0v-2M207.0 117.0v-1.2M211.0 117.0v-1.2M214.0 117.0v-1.2M216.0 117.0v-1.2M218.0 117.0v-1.2M227.0 117.0v-1.2M231.0 117.0v-1.2M234.0 117.0v-1.2M236.0 117.0v-1.2M238.0 117.0v-1.2M247.0 117.0v-1.2M251.0 117.0v-1.2M254.0 117.0v-1.2M256.0 117.0v-1.2M258.0 117.0v-1.2M267.0 117.0v-1.2M271.0 117.0v-1.2M274.0 117.0v-1.2M276.0 117.0v-1.2M278.0 117.0v-1.2" stroke="#8a8a8a" stroke-width="1.1"/>
<rect x="235.0" y="53.9" width="37.1" height="32" fill="none" stroke="#111" stroke-width="1.9"/>
<text x="253" y="50.0" font-size="13.5" font-weight="bold" text-anchor="middle" fill="#111" stroke="#111" stroke-width="0.2" >13</text>
<g clip-path="url(#cp02)">
<ellipse cx="320.0" cy="97.4" rx="12" ry="7" transform="rotate(0 320.0 97.4)" fill="#000" fill-opacity="0.45" filter="url(#b2)"/>
<ellipse cx="332.0" cy="84.4" rx="12" ry="6" transform="rotate(0 332.0 84.4)" fill="#000" fill-opacity="0.12" filter="url(#b3)"/>
<g filter="url(#bl)" stroke="#000" stroke-width="1.3" stroke-opacity="0.34">
<path d="M333 96.5h1.3M329 91.5h1.3M331 97.5h1.3M314 107.5h1.3M321 99.5h1.3M325 95.5h1.3M317 104.5h1.3M322 108.5h1.3M340 101.5h1.3M319 92.5h1.3M330 94.5h1.3M314 105.5h1.3M324 100.5h1.3M322 100.5h1.3M310 94.5h1.3M327 97.5h1.3M329 95.5h1.3M318 101.5h1.3M312 96.5h1.3M342 99.5h1.3M312 84.5h1.3M308 94.5h1.3M327 100.5h1.3M317 99.5h1.3M323 90.5h1.3M343 104.5h1.3M321 92.5h1.3M313 107.5h1.3M317 88.5h1.3M334 100.5h1.3M339 93.5h1.3M320 97.5h1.3M317 88.5h1.3M313 96.5h1.3M306 109.5h1.3M329 94.5h1.3M329 94.5h1.3M323 98.5h1.3M327 90.5h1.3M325 103.5h1.3M321 97.5h1.3M322 103.5h1.3M334 102.5h1.3M307 88.5h1.3M324 96.5h1.3M334 97.5h1.3M329 96.5h1.3M308 95.5h1.3M317 112.5h1.3M328 84.5h1.3M320 96.5h1.3M315 102.5h1.3M318 99.5h1.3M313 99.5h1.3M323 106.5h1.3M314 102.5h1.3M326 108.5h1.3M317 98.5h1.3M330 84.5h1.3M326 100.5h1.3M330 99.5h1.3M338 102.5h1.3M316 86.5h1.3M315 85.5h1.3M318 99.5h1.3M318 102.5h1.3M333 94.5h1.3M314 111.5h1.3M331 99.5h1.3M320 100.5h1.3M318 112.5h1.3M329 102.5h1.3M325 96.5h1.3M326 92.5h1.3M333 101.5h1.3M335 105.5h1.3M322 96.5h1.3M307 90.5h1.3M312 93.5h1.3M334 97.5h1.3M321 88.5h1.3M315 90.5h1.3M337 98.5h1.3M331 96.5h1.3M312 89.5h1.3M341 90.5h1.3M334 99.5h1.3M310 87.5h1.3M335 95.5h1.3M328 103.5h1.3M315 87.5h1.3M317 88.5h1.3M310 88.5h1.3M333 88.5h1.3M315 90.5h1.3M315 112.5h1.3M337 85.5h1.3M328 95.5h1.3M317 87.5h1.3M324 96.5h1.3M317 104.5h1.3M337 99.5h1.3M309 94.5h1.3M314 90.5h1.3M323 100.5h1.3M327 86.5h1.3M324 82.5h1.3M321 95.5h1.3M330 101.5h1.3M331 111.5h1.3M327 96.5h1.3M327 89.5h1.3M330 94.5h1.3M308 107.5h1.3M333 97.5h1.3M317 98.5h1.3M313 103.5h1.3M313 89.5h1.3M318 104.5h1.3M310 94.5h1.3M317 104.5h1.3M331 108.5h1.3M332 100.5h1.3M321 100.5h1.3M316 89.5h1.3M306 97.5h1.3M334 88.5h1.3M334 91.5h1.3M326 86.5h1.3M318 109.5h1.3M315 96.5h1.3M334 93.5h1.3M315 95.5h1.3M321 104.5h1.3M337 95.5h1.3M328 92.5h1.3M328 98.5h1.3M337 103.5h1.3M320 94.5h1.3M314 87.5h1.3M320 97.5h1.3M331 90.5h1.3M307 104.5h1.3M332 103.5h1.3M318 92.5h1.3M340 94.5h1.3M322 90.5h1.3M325 97.5h1.3M333 98.5h1.3M329 92.5h1.3M314 102.5h1.3M314 99.5h1.3M304 100.5h1.3M334 103.5h1.3M309 94.5h1.3M332 95.5h1.3M325 102.5h1.3M322 94.5h1.3M329 95.5h1.3M331 90.5h1.3M313 102.5h1.3M315 88.5h1.3M321 101.5h1.3M308 107.5h1.3M347 91.5h1.3M327 96.5h1.3M321 94.5h1.3M320 88.5h1.3M324 95.5h1.3M347 101.5h1.3M321 74.5h1.3M310 90.5h1.3M324 65.5h1.3M318 69.5h1.3M326 83.5h1.3M309 108.5h1.3M321 75.5h1.3M329 97.5h1.3M334 82.5h1.3M315 71.5h1.3M323 93.5h1.3M307 99.5h1.3M322 82.5h1.3M335 84.5h1.3M345 83.5h1.3M324 85.5h1.3M327 74.5h1.3M345 79.5h1.3M344 86.5h1.3M311 96.5h1.3M325 73.5h1.3M318 65.5h1.3M325 64.5h1.3M311 97.5h1.3M332 74.5h1.3M312 78.5h1.3M330 83.5h1.3M342 91.5h1.3M322 70.5h1.3M314 90.5h1.3M309 73.5h1.3M334 92.5h1.3M321 94.5h1.3M339 96.5h1.3M322 99.5h1.3M320 86.5h1.3M331 79.5h1.3M307 91.5h1.3M333 92.5h1.3M338 92.5h1.3M342 88.5h1.3M332 100.5h1.3M349 78.5h1.3M335 71.5h1.3M330 103.5h1.3M316 91.5h1.3M328 101.5h1.3M305 88.5h1.3M323 79.5h1.3M342 103.5h1.3M326 69.5h1.3M321 59.5h1.3M325 76.5h1.3M339 90.5h1.3M334 97.5h1.3M338 76.5h1.3M331 83.5h1.3M322 77.5h1.3M334 89.5h1.3M305 81.5h1.3M312 101.5h1.3M312 101.5h1.3M319 73.5h1.3M308 94.5h1.3M318 83.5h1.3M321 96.5h1.3M342 90.5h1.3M341 78.5h1.3M333 80.5h1.3M332 72.5h1.3M307 91.5h1.3M310 98.5h1.3M325 84.5h1.3M320 93.5h1.3M310 79.5h1.3M321 81.5h1.3M307 91.5h1.3M329 103.5h1.3M307 69.5h1.3M324 63.5h1.3M316 106.5h1.3M337 88.5h1.3M334 85.5h1.3M316 90.5h1.3M349 92.5h1.3M309 80.5h1.3M313 78.5h1.3M339 83.5h1.3M352 81.5h1.3M341 88.5h1.3M310 96.5h1.3M309 83.5h1.3M313 88.5h1.3M328 81.5h1.3M331 91.5h1.3M339 88.5h1.3M320 91.5h1.3M312 81.5h1.3M330 64.5h1.3M332 106.5h1.3M323 89.5h1.3M322 95.5h1.3M347 92.5h1.3M317 62.5h1.3M314 88.5h1.3M316 111.5h1.3M311 82.5h1.3M347 71.5h1.3M344 78.5h1.3M369 75.5h1.3M350 75.5h1.3M344 75.5h1.3M343 78.5h1.3M361 76.5h1.3M354 84.5h1.3M367 78.5h1.3M334 79.5h1.3M348 74.5h1.3M359 80.5h1.3M353 70.5h1.3M364 72.5h1.3M348 75.5h1.3M350 78.5h1.3M364 62.5h1.3M372 71.5h1.3M339 76.5h1.3M368 68.5h1.3M357 86.5h1.3M363 68.5h1.3M350 79.5h1.3M345 72.5h1.3M372 72.5h1.3M355 66.5h1.3M360 79.5h1.3M358 80.5h1.3M357 79.5h1.3M353 78.5h1.3M345 83.5h1.3M341 76.5h1.3M354 84.5h1.3M368 82.5h1.3M344 97.5h1.3M374 91.5h1.3M340 109.5h1.3M354 87.5h1.3M356 96.5h1.3M339 91.5h1.3M356 103.5h1.3M355 96.5h1.3M355 94.5h1.3M356 85.5h1.3M365 93.5h1.3M353 101.5h1.3M369 89.5h1.3M364 107.5h1.3M349 93.5h1.3M340 95.5h1.3M359 92.5h1.3M353 103.5h1.3M370 102.5h1.3M333 96.5h1.3M356 93.5h1.3M346 96.5h1.3M336 83.5h1.3M359 105.5h1.3M363 91.5h1.3M334 101.5h1.3M365 107.5h1.3M341 92.5h1.3M353 109.5h1.3M356 104.5h1.3M357 95.5h1.3M365 92.5h1.3M350 94.5h1.3M363 82.5h1.3M354 90.5h1.3M340 90.5h1.3M356 81.5h1.3M350 103.5h1.3M351 96.5h1.3M357 97.5h1.3M352 99.5h1.3M324 109.5h1.3M313 111.5h1.3M320 113.5h1.3M344 105.5h1.3M328 110.5h1.3M314 105.5h1.3M316 106.5h1.3M322 110.5h1.3M321 110.5h1.3M326 110.5h1.3M331 105.5h1.3M335 107.5h1.3M317 112.5h1.3M332 104.5h1.3M305 106.5h1.3M314 108.5h1.3M343 106.5h1.3M339 108.5h1.3M324 114.5h1.3M337 104.5h1.3M315 106.5h1.3M321 110.5h1.3M336 106.5h1.3M334 107.5h1.3M328 112.5h1.3M308 112.5h1.3M318 103.5h1.3M316 99.5h1.3M309 104.5h1.3M310 103.5h1.3M332 107.5h1.3M306 114.5h1.3M320 109.5h1.3M343 110.5h1.3M305 108.5h1.3M345 112.5h1.3M325 110.5h1.3M309 106.5h1.3"/>
<path d="M331 86.5h1.3M319 101.5h1.3M318 99.5h1.3M324 104.5h1.3M317 84.5h1.3M314 94.5h1.3M339 97.5h1.3M318 98.5h1.3M336 85.5h1.3M313 89.5h1.3M321 102.5h1.3M315 94.5h1.3M332 91.5h1.3M326 99.5h1.3M311 105.5h1.3M320 102.5h1.3M319 104.5h1.3M323 93.5h1.3M336 98.5h1.3M324 93.5h1.3M330 97.5h1.3M314 98.5h1.3M322 93.5h1.3M340 104.5h1.3M321 85.5h1.3M328 92.5h1.3M327 98.5h1.3M325 98.5h1.3M324 93.5h1.3M316 101.5h1.3M322 93.5h1.3M319 98.5h1.3M310 97.5h1.3M317 107.5h1.3M315 101.5h1.3M309 93.5h1.3M309 103.5h1.3M342 96.5h1.3M309 92.5h1.3M320 86.5h1.3M331 95.5h1.3M310 91.5h1.3M320 107.5h1.3M315 103.5h1.3M315 92.5h1.3M309 109.5h1.3M343 88.5h1.3M318 96.5h1.3M322 92.5h1.3M332 95.5h1.3M324 96.5h1.3M313 82.5h1.3M338 99.5h1.3M334 107.5h1.3M305 91.5h1.3M322 97.5h1.3M313 101.5h1.3M325 94.5h1.3M343 97.5h1.3M309 88.5h1.3M333 89.5h1.3M321 105.5h1.3M321 91.5h1.3M323 91.5h1.3M315 96.5h1.3M312 106.5h1.3M310 89.5h1.3M313 100.5h1.3M324 85.5h1.3M316 96.5h1.3M318 88.5h1.3M308 92.5h1.3M310 101.5h1.3M324 101.5h1.3M325 97.5h1.3M310 98.5h1.3M321 88.5h1.3M329 95.5h1.3M322 88.5h1.3M314 105.5h1.3M314 100.5h1.3M325 105.5h1.3M333 98.5h1.3M307 86.5h1.3M336 93.5h1.3M337 89.5h1.3M331 91.5h1.3M318 94.5h1.3M309 102.5h1.3M319 90.5h1.3M305 96.5h1.3M344 90.5h1.3M342 100.5h1.3M319 97.5h1.3M317 94.5h1.3M330 85.5h1.3M330 98.5h1.3M313 96.5h1.3M326 100.5h1.3M319 94.5h1.3M317 90.5h1.3M314 90.5h1.3M305 100.5h1.3M312 101.5h1.3M332 89.5h1.3M316 105.5h1.3M322 100.5h1.3M331 93.5h1.3M326 90.5h1.3M311 88.5h1.3M323 103.5h1.3M315 89.5h1.3M310 84.5h1.3M339 104.5h1.3M305 95.5h1.3M332 101.5h1.3M318 88.5h1.3M316 104.5h1.3M325 101.5h1.3M319 86.5h1.3M331 89.5h1.3M326 101.5h1.3M309 105.5h1.3M312 92.5h1.3M317 87.5h1.3M320 93.5h1.3M318 105.5h1.3M340 102.5h1.3M331 87.5h1.3M319 109.5h1.3M318 93.5h1.3M330 85.5h1.3M324 96.5h1.3M315 103.5h1.3M323 86.5h1.3M319 100.5h1.3M318 96.5h1.3M323 94.5h1.3M334 102.5h1.3M343 101.5h1.3M324 86.5h1.3M326 94.5h1.3M341 86.5h1.3M312 99.5h1.3M337 94.5h1.3M328 85.5h1.3M327 95.5h1.3M318 88.5h1.3M319 108.5h1.3M322 102.5h1.3M336 94.5h1.3M306 91.5h1.3M338 102.5h1.3M339 106.5h1.3M332 96.5h1.3M316 98.5h1.3M339 94.5h1.3M320 94.5h1.3M323 86.5h1.3M314 89.5h1.3M340 87.5h1.3M331 96.5h1.3M329 102.5h1.3M328 84.5h1.3M308 100.5h1.3M318 108.5h1.3M312 96.5h1.3M322 101.5h1.3M313 96.5h1.3M351 96.5h1.3M335 96.5h1.3M327 63.5h1.3M342 105.5h1.3M313 75.5h1.3M322 75.5h1.3M309 64.5h1.3M319 87.5h1.3M320 100.5h1.3M328 79.5h1.3M332 89.5h1.3M311 89.5h1.3M304 93.5h1.3M320 84.5h1.3M308 91.5h1.3M315 66.5h1.3M306 101.5h1.3M306 88.5h1.3M312 93.5h1.3M317 68.5h1.3M329 82.5h1.3M322 87.5h1.3M312 95.5h1.3M310 95.5h1.3M329 99.5h1.3M319 96.5h1.3M351 96.5h1.3M308 79.5h1.3M307 101.5h1.3M324 94.5h1.3M331 106.5h1.3M318 84.5h1.3M304 82.5h1.3M334 89.5h1.3M311 84.5h1.3M340 94.5h1.3M330 77.5h1.3M313 112.5h1.3M334 81.5h1.3M343 99.5h1.3M314 71.5h1.3M311 110.5h1.3M322 72.5h1.3M306 90.5h1.3M319 80.5h1.3M315 88.5h1.3M304 81.5h1.3M321 86.5h1.3M320 90.5h1.3M326 87.5h1.3M329 97.5h1.3M338 94.5h1.3M323 103.5h1.3M304 90.5h1.3M312 78.5h1.3M307 97.5h1.3M310 80.5h1.3M328 76.5h1.3M310 92.5h1.3M313 82.5h1.3M305 94.5h1.3M319 93.5h1.3M319 87.5h1.3M349 93.5h1.3M329 85.5h1.3M319 81.5h1.3M335 86.5h1.3M339 82.5h1.3M315 78.5h1.3M350 92.5h1.3M334 79.5h1.3M315 97.5h1.3M347 90.5h1.3M330 74.5h1.3M333 95.5h1.3M345 83.5h1.3M320 80.5h1.3M320 69.5h1.3M310 85.5h1.3M337 85.5h1.3M324 103.5h1.3M321 72.5h1.3M318 82.5h1.3M314 93.5h1.3M331 77.5h1.3M306 80.5h1.3M348 90.5h1.3M324 68.5h1.3M340 78.5h1.3M304 95.5h1.3M331 95.5h1.3M320 78.5h1.3M336 99.5h1.3M323 92.5h1.3M330 79.5h1.3M313 84.5h1.3M317 72.5h1.3M308 77.5h1.3M343 101.5h1.3M315 84.5h1.3M309 84.5h1.3M330 102.5h1.3M326 82.5h1.3M331 81.5h1.3M318 108.5h1.3M310 90.5h1.3M328 108.5h1.3M360 87.5h1.3M365 76.5h1.3M348 83.5h1.3M354 81.5h1.3M352 79.5h1.3M340 80.5h1.3M356 90.5h1.3M360 74.5h1.3M356 76.5h1.3M343 74.5h1.3M360 82.5h1.3M367 78.5h1.3M356 79.5h1.3M363 76.5h1.3M369 77.5h1.3M374 81.5h1.3M347 81.5h1.3M354 81.5h1.3M352 70.5h1.3M372 72.5h1.3M351 70.5h1.3M379 79.5h1.3M361 68.5h1.3M354 81.5h1.3M350 79.5h1.3M349 69.5h1.3M364 71.5h1.3M353 71.5h1.3M342 77.5h1.3M359 84.5h1.3M345 77.5h1.3M356 77.5h1.3M351 77.5h1.3M363 84.5h1.3M353 102.5h1.3M357 91.5h1.3M370 96.5h1.3M361 97.5h1.3M342 103.5h1.3M349 104.5h1.3M351 106.5h1.3M352 90.5h1.3M340 102.5h1.3M350 93.5h1.3M351 86.5h1.3M366 90.5h1.3M358 97.5h1.3M350 91.5h1.3M353 100.5h1.3M357 103.5h1.3M334 99.5h1.3M364 106.5h1.3M346 98.5h1.3M348 94.5h1.3M344 85.5h1.3M337 97.5h1.3M368 93.5h1.3M361 101.5h1.3M339 84.5h1.3M352 92.5h1.3M362 97.5h1.3M349 87.5h1.3M340 83.5h1.3M376 93.5h1.3M345 93.5h1.3M366 90.5h1.3M352 98.5h1.3M346 95.5h1.3M373 99.5h1.3M359 97.5h1.3M358 95.5h1.3M349 83.5h1.3M344 103.5h1.3M341 85.5h1.3M360 100.5h1.3M324 111.5h1.3M317 103.5h1.3M311 108.5h1.3M334 108.5h1.3M322 110.5h1.3M307 108.5h1.3M340 112.5h1.3M347 111.5h1.3M319 110.5h1.3M311 107.5h1.3M319 102.5h1.3M335 112.5h1.3M326 104.5h1.3M310 111.5h1.3M327 108.5h1.3M315 100.5h1.3M327 108.5h1.3M319 109.5h1.3M324 110.5h1.3M323 111.5h1.3M317 112.5h1.3M343 101.5h1.3M338 105.5h1.3M319 109.5h1.3M323 111.5h1.3M315 107.5h1.3M317 111.5h1.3M317 114.5h1.3M318 105.5h1.3M324 108.5h1.3M354 106.5h1.3M324 105.5h1.3M323 108.5h1.3M317 110.5h1.3M337 114.5h1.3M314 110.5h1.3"/>
<path d="M338 99.5h1.3M317 97.5h1.3M308 86.5h1.3M309 99.5h1.3M310 101.5h1.3M338 88.5h1.3M332 102.5h1.3M342 86.5h1.3M310 93.5h1.3M306 101.5h1.3M320 105.5h1.3M314 102.5h1.3M313 100.5h1.3M319 96.5h1.3M318 102.5h1.3M327 88.5h1.3M314 91.5h1.3M315 100.5h1.3M324 101.5h1.3M330 103.5h1.3M314 91.5h1.3M307 110.5h1.3M315 102.5h1.3M312 101.5h1.3M316 89.5h1.3M323 95.5h1.3M312 87.5h1.3M328 103.5h1.3M304 107.5h1.3M310 105.5h1.3M315 97.5h1.3M328 100.5h1.3M310 95.5h1.3M333 98.5h1.3M326 96.5h1.3M322 107.5h1.3M327 109.5h1.3M325 96.5h1.3M318 97.5h1.3M315 103.5h1.3M336 103.5h1.3M325 103.5h1.3M332 96.5h1.3M319 86.5h1.3M328 90.5h1.3M317 96.5h1.3M318 85.5h1.3M314 101.5h1.3M325 96.5h1.3M323 83.5h1.3M314 97.5h1.3M312 109.5h1.3M318 86.5h1.3M319 96.5h1.3M343 98.5h1.3M305 96.5h1.3M337 84.5h1.3M319 105.5h1.3M327 98.5h1.3M309 95.5h1.3M308 93.5h1.3M313 89.5h1.3M326 103.5h1.3M325 90.5h1.3M327 93.5h1.3M322 93.5h1.3M333 108.5h1.3M314 97.5h1.3M319 107.5h1.3M322 96.5h1.3M331 99.5h1.3M329 87.5h1.3M336 96.5h1.3M318 110.5h1.3M326 99.5h1.3M311 101.5h1.3M326 89.5h1.3M333 83.5h1.3M326 102.5h1.3M306 95.5h1.3M328 88.5h1.3M331 100.5h1.3M324 94.5h1.3M342 102.5h1.3M312 105.5h1.3M318 108.5h1.3M312 95.5h1.3M331 97.5h1.3M328 88.5h1.3M323 94.5h1.3M329 95.5h1.3M323 94.5h1.3M323 86.5h1.3M308 88.5h1.3M346 104.5h1.3M329 103.5h1.3M315 90.5h1.3M305 98.5h1.3M327 93.5h1.3M313 90.5h1.3M311 95.5h1.3M311 91.5h1.3M316 109.5h1.3M313 108.5h1.3M308 93.5h1.3M308 91.5h1.3M338 95.5h1.3M334 100.5h1.3M338 88.5h1.3M324 89.5h1.3M341 104.5h1.3M308 98.5h1.3M338 86.5h1.3M312 109.5h1.3M328 95.5h1.3M331 92.5h1.3M334 91.5h1.3M319 84.5h1.3M321 98.5h1.3M324 92.5h1.3M322 87.5h1.3M326 100.5h1.3M311 96.5h1.3M348 97.5h1.3M328 92.5h1.3M335 94.5h1.3M315 88.5h1.3M341 98.5h1.3M329 96.5h1.3M304 91.5h1.3M314 97.5h1.3M313 105.5h1.3M333 99.5h1.3M338 105.5h1.3M320 104.5h1.3M328 83.5h1.3M331 104.5h1.3M323 88.5h1.3M318 91.5h1.3M327 100.5h1.3M321 92.5h1.3M316 90.5h1.3M316 95.5h1.3M324 101.5h1.3M327 101.5h1.3M321 91.5h1.3M316 85.5h1.3M336 91.5h1.3M320 81.5h1.3M314 91.5h1.3M322 99.5h1.3M337 97.5h1.3M330 93.5h1.3M326 96.5h1.3M309 97.5h1.3M313 93.5h1.3M327 85.5h1.3M324 94.5h1.3M321 92.5h1.3M308 100.5h1.3M317 88.5h1.3M305 94.5h1.3M327 98.5h1.3M339 97.5h1.3M306 96.5h1.3M336 103.5h1.3M306 110.5h1.3M326 100.5h1.3M326 105.5h1.3M322 74.5h1.3M341 79.5h1.3M321 94.5h1.3M315 102.5h1.3M312 89.5h1.3M329 87.5h1.3M310 96.5h1.3M308 95.5h1.3M316 74.5h1.3M321 85.5h1.3M332 82.5h1.3M309 66.5h1.3M335 97.5h1.3M320 66.5h1.3M314 102.5h1.3M308 84.5h1.3M312 71.5h1.3M320 68.5h1.3M305 92.5h1.3M316 89.5h1.3M324 75.5h1.3M336 78.5h1.3M313 93.5h1.3M324 94.5h1.3M317 94.5h1.3M340 102.5h1.3M314 78.5h1.3M319 80.5h1.3M313 75.5h1.3M328 97.5h1.3M318 95.5h1.3M317 98.5h1.3M343 79.5h1.3M331 79.5h1.3M347 88.5h1.3M332 99.5h1.3M326 88.5h1.3M323 73.5h1.3M322 89.5h1.3M321 89.5h1.3M314 69.5h1.3M321 74.5h1.3M330 67.5h1.3M319 98.5h1.3M332 88.5h1.3M354 84.5h1.3M327 74.5h1.3M316 87.5h1.3M328 97.5h1.3M343 99.5h1.3M315 98.5h1.3M336 86.5h1.3M329 82.5h1.3M312 103.5h1.3M326 78.5h1.3M327 75.5h1.3M327 73.5h1.3M340 71.5h1.3M311 94.5h1.3M322 88.5h1.3M319 77.5h1.3M308 95.5h1.3M331 79.5h1.3M329 94.5h1.3M319 103.5h1.3M325 104.5h1.3M333 98.5h1.3M324 95.5h1.3M325 74.5h1.3M309 88.5h1.3M312 98.5h1.3M323 72.5h1.3M331 73.5h1.3M324 87.5h1.3M313 82.5h1.3M318 104.5h1.3M312 96.5h1.3M315 73.5h1.3M328 81.5h1.3M332 80.5h1.3M325 88.5h1.3M342 92.5h1.3M331 97.5h1.3M320 97.5h1.3M318 78.5h1.3M313 89.5h1.3M312 99.5h1.3M346 88.5h1.3M314 96.5h1.3M336 94.5h1.3M312 85.5h1.3M309 97.5h1.3M327 103.5h1.3M335 85.5h1.3M321 98.5h1.3M341 71.5h1.3M311 79.5h1.3M310 96.5h1.3M344 74.5h1.3M321 101.5h1.3M321 94.5h1.3M329 87.5h1.3M339 80.5h1.3M320 87.5h1.3M311 93.5h1.3M317 76.5h1.3M324 97.5h1.3M326 62.5h1.3M320 109.5h1.3M344 75.5h1.3M321 87.5h1.3M374 74.5h1.3M366 76.5h1.3M354 67.5h1.3M349 80.5h1.3M357 78.5h1.3M354 73.5h1.3M366 78.5h1.3M354 88.5h1.3M354 82.5h1.3M350 70.5h1.3M346 79.5h1.3M351 70.5h1.3M346 68.5h1.3M368 70.5h1.3M371 72.5h1.3M352 72.5h1.3M352 81.5h1.3M354 73.5h1.3M351 75.5h1.3M360 82.5h1.3M345 73.5h1.3M339 79.5h1.3M351 85.5h1.3M362 65.5h1.3M373 79.5h1.3M356 85.5h1.3M358 72.5h1.3M364 80.5h1.3M365 80.5h1.3M358 73.5h1.3M351 75.5h1.3M342 72.5h1.3M355 69.5h1.3M356 97.5h1.3M351 100.5h1.3M359 87.5h1.3M362 100.5h1.3M360 94.5h1.3M354 98.5h1.3M345 104.5h1.3M356 83.5h1.3M346 93.5h1.3M375 100.5h1.3M342 100.5h1.3M333 90.5h1.3M343 99.5h1.3M368 89.5h1.3M338 101.5h1.3M361 94.5h1.3M353 87.5h1.3M352 103.5h1.3M349 92.5h1.3M362 101.5h1.3M349 94.5h1.3M339 99.5h1.3M351 90.5h1.3M354 92.5h1.3M350 103.5h1.3M352 86.5h1.3M354 100.5h1.3M350 97.5h1.3M358 95.5h1.3M347 106.5h1.3M360 97.5h1.3M352 93.5h1.3M367 100.5h1.3M360 106.5h1.3M359 99.5h1.3M358 85.5h1.3M352 95.5h1.3M340 105.5h1.3M356 99.5h1.3M351 108.5h1.3M343 83.5h1.3M349 105.5h1.3M325 108.5h1.3M318 110.5h1.3M333 111.5h1.3M307 108.5h1.3M340 107.5h1.3M329 104.5h1.3M325 102.5h1.3M333 108.5h1.3M340 107.5h1.3M314 103.5h1.3M321 111.5h1.3M337 101.5h1.3M334 109.5h1.3M345 111.5h1.3M311 111.5h1.3M337 114.5h1.3M314 99.5h1.3M315 109.5h1.3M311 109.5h1.3M319 105.5h1.3M332 100.5h1.3M329 101.5h1.3M323 112.5h1.3M305 105.5h1.3M309 101.5h1.3M316 109.5h1.3M322 107.5h1.3M335 106.5h1.3M331 110.5h1.3M334 109.5h1.3M334 110.5h1.3M323 106.5h1.3M319 109.5h1.3M307 101.5h1.3M304 109.5h1.3M327 109.5h1.3M333 108.5h1.3"/>
<path d="M306 96.5h1.3M332 92.5h1.3M325 101.5h1.3M305 95.5h1.3M306 100.5h1.3M310 92.5h1.3M321 101.5h1.3M339 95.5h1.3M316 94.5h1.3M313 91.5h1.3M317 108.5h1.3M321 89.5h1.3M336 107.5h1.3M317 89.5h1.3M325 84.5h1.3M312 98.5h1.3M328 92.5h1.3M306 95.5h1.3M321 92.5h1.3M325 99.5h1.3M338 84.5h1.3M315 95.5h1.3M333 107.5h1.3M333 87.5h1.3M325 88.5h1.3M326 86.5h1.3M336 89.5h1.3M315 89.5h1.3M325 90.5h1.3M339 89.5h1.3M329 101.5h1.3M313 88.5h1.3M314 93.5h1.3M331 96.5h1.3M334 99.5h1.3M343 91.5h1.3M317 93.5h1.3M347 93.5h1.3M335 97.5h1.3M319 92.5h1.3M312 98.5h1.3M326 102.5h1.3M314 90.5h1.3M332 93.5h1.3M336 91.5h1.3M331 94.5h1.3M315 105.5h1.3M322 97.5h1.3M338 89.5h1.3M332 85.5h1.3M324 80.5h1.3M334 96.5h1.3M319 87.5h1.3M325 107.5h1.3M324 101.5h1.3M320 96.5h1.3M319 103.5h1.3M319 88.5h1.3M328 100.5h1.3M338 101.5h1.3M316 91.5h1.3M320 91.5h1.3M308 91.5h1.3M331 94.5h1.3M322 108.5h1.3M332 93.5h1.3M312 103.5h1.3M326 96.5h1.3M305 94.5h1.3M318 104.5h1.3M329 92.5h1.3M335 93.5h1.3M317 87.5h1.3M325 94.5h1.3M316 94.5h1.3M331 95.5h1.3M324 98.5h1.3M326 99.5h1.3M336 104.5h1.3M317 94.5h1.3M315 93.5h1.3M313 92.5h1.3M328 94.5h1.3M324 86.5h1.3M306 98.5h1.3M338 91.5h1.3M326 97.5h1.3M324 90.5h1.3M313 94.5h1.3M317 88.5h1.3M318 99.5h1.3M318 92.5h1.3M335 90.5h1.3M321 83.5h1.3M309 104.5h1.3M314 96.5h1.3M336 93.5h1.3M317 94.5h1.3M331 106.5h1.3M325 102.5h1.3M312 101.5h1.3M324 89.5h1.3M309 99.5h1.3M329 93.5h1.3M317 86.5h1.3M320 100.5h1.3M330 100.5h1.3M322 99.5h1.3M314 98.5h1.3M324 106.5h1.3M322 106.5h1.3M316 96.5h1.3M321 98.5h1.3M318 96.5h1.3M324 107.5h1.3M321 86.5h1.3M321 100.5h1.3M318 93.5h1.3M328 107.5h1.3M310 100.5h1.3M327 98.5h1.3M322 105.5h1.3M323 100.5h1.3M317 105.5h1.3M321 92.5h1.3M342 89.5h1.3M322 93.5h1.3M320 95.5h1.3M312 93.5h1.3M316 93.5h1.3M314 82.5h1.3M318 86.5h1.3M304 91.5h1.3M327 82.5h1.3M338 104.5h1.3M317 99.5h1.3M325 94.5h1.3M334 89.5h1.3M318 105.5h1.3M325 94.5h1.3M317 92.5h1.3M314 91.5h1.3M316 91.5h1.3M308 92.5h1.3M304 95.5h1.3M316 102.5h1.3M323 90.5h1.3M319 97.5h1.3M343 98.5h1.3M317 103.5h1.3M335 98.5h1.3M322 93.5h1.3M318 101.5h1.3M321 98.5h1.3M332 102.5h1.3M315 85.5h1.3M315 95.5h1.3M322 100.5h1.3M322 93.5h1.3M324 96.5h1.3M306 99.5h1.3M306 103.5h1.3M348 91.5h1.3M333 100.5h1.3M323 98.5h1.3M321 105.5h1.3M327 108.5h1.3M332 95.5h1.3M308 92.5h1.3M323 93.5h1.3M313 95.5h1.3M329 97.5h1.3M319 87.5h1.3M308 91.5h1.3M333 72.5h1.3M340 81.5h1.3M336 75.5h1.3M322 87.5h1.3M310 95.5h1.3M340 88.5h1.3M338 91.5h1.3M309 80.5h1.3M322 71.5h1.3M329 75.5h1.3M317 100.5h1.3M325 87.5h1.3M344 71.5h1.3M322 87.5h1.3M338 85.5h1.3M339 86.5h1.3M316 86.5h1.3M310 102.5h1.3M339 89.5h1.3M340 68.5h1.3M307 78.5h1.3M306 69.5h1.3M334 73.5h1.3M321 76.5h1.3M311 78.5h1.3M318 94.5h1.3M318 80.5h1.3M318 88.5h1.3M318 100.5h1.3M344 72.5h1.3M342 91.5h1.3M309 86.5h1.3M304 83.5h1.3M314 88.5h1.3M323 88.5h1.3M330 95.5h1.3M328 82.5h1.3M324 92.5h1.3M326 83.5h1.3M320 84.5h1.3M328 96.5h1.3M304 71.5h1.3M318 81.5h1.3M318 83.5h1.3M337 63.5h1.3M321 78.5h1.3M332 73.5h1.3M311 88.5h1.3M322 73.5h1.3M304 81.5h1.3M311 98.5h1.3M319 75.5h1.3M332 80.5h1.3M330 81.5h1.3M320 82.5h1.3M323 77.5h1.3M319 74.5h1.3M305 92.5h1.3M312 96.5h1.3M316 91.5h1.3M331 89.5h1.3M311 64.5h1.3M315 62.5h1.3M320 97.5h1.3M311 96.5h1.3M334 90.5h1.3M321 99.5h1.3M331 78.5h1.3M342 79.5h1.3M325 69.5h1.3M330 75.5h1.3M310 73.5h1.3M332 68.5h1.3M313 87.5h1.3M321 88.5h1.3M319 75.5h1.3M328 82.5h1.3M317 84.5h1.3M312 72.5h1.3M308 87.5h1.3M312 87.5h1.3M318 88.5h1.3M328 75.5h1.3M306 84.5h1.3M324 74.5h1.3M331 82.5h1.3M316 99.5h1.3M334 98.5h1.3M312 79.5h1.3M326 94.5h1.3M323 88.5h1.3M335 64.5h1.3M337 101.5h1.3M315 92.5h1.3M353 91.5h1.3M329 83.5h1.3M333 103.5h1.3M317 62.5h1.3M315 89.5h1.3M330 74.5h1.3M306 92.5h1.3M329 88.5h1.3M330 80.5h1.3M336 96.5h1.3M328 78.5h1.3M325 97.5h1.3M328 72.5h1.3M317 78.5h1.3M340 87.5h1.3M348 81.5h1.3M359 74.5h1.3M352 71.5h1.3M368 75.5h1.3M355 78.5h1.3M349 74.5h1.3M342 80.5h1.3M347 73.5h1.3M343 70.5h1.3M341 76.5h1.3M356 83.5h1.3M344 72.5h1.3M353 77.5h1.3M363 78.5h1.3M369 66.5h1.3M336 78.5h1.3M378 75.5h1.3M356 80.5h1.3M356 81.5h1.3M365 67.5h1.3M354 78.5h1.3M356 73.5h1.3M363 86.5h1.3M371 74.5h1.3M347 79.5h1.3M347 75.5h1.3M349 77.5h1.3M348 80.5h1.3M362 83.5h1.3M378 74.5h1.3M348 77.5h1.3M349 80.5h1.3M378 75.5h1.3M360 90.5h1.3M359 91.5h1.3M362 97.5h1.3M348 97.5h1.3M349 103.5h1.3M356 92.5h1.3M363 102.5h1.3M363 95.5h1.3M350 88.5h1.3M340 100.5h1.3M368 99.5h1.3M361 99.5h1.3M351 92.5h1.3M347 108.5h1.3M347 100.5h1.3M364 90.5h1.3M364 95.5h1.3M360 88.5h1.3M361 96.5h1.3M345 103.5h1.3M353 97.5h1.3M343 107.5h1.3M362 98.5h1.3M351 107.5h1.3M344 88.5h1.3M354 96.5h1.3M352 91.5h1.3M359 90.5h1.3M365 89.5h1.3M368 87.5h1.3M353 109.5h1.3M349 91.5h1.3M347 99.5h1.3M349 108.5h1.3M361 95.5h1.3M350 95.5h1.3M353 98.5h1.3M340 110.5h1.3M356 108.5h1.3M355 103.5h1.3M343 85.5h1.3M356 91.5h1.3M332 100.5h1.3M339 112.5h1.3M325 106.5h1.3M332 103.5h1.3M327 104.5h1.3M327 112.5h1.3M315 106.5h1.3M304 112.5h1.3M317 108.5h1.3M323 110.5h1.3M313 108.5h1.3M317 112.5h1.3M307 103.5h1.3M309 110.5h1.3M317 108.5h1.3M318 110.5h1.3M316 112.5h1.3M330 108.5h1.3M316 105.5h1.3M325 111.5h1.3M328 108.5h1.3M330 109.5h1.3M325 104.5h1.3M328 105.5h1.3M325 108.5h1.3M315 110.5h1.3M312 109.5h1.3M329 107.5h1.3M319 113.5h1.3M319 107.5h1.3M305 112.5h1.3M333 107.5h1.3M326 106.5h1.3M330 113.5h1.3M314 107.5h1.3M327 110.5h1.3M313 100.5h1.3M332 111.5h1.3M318 101.5h1.3"/>
<path d="M329 103.5h1.3M306 95.5h1.3M333 88.5h1.3M330 85.5h1.3M335 91.5h1.3M312 101.5h1.3M320 97.5h1.3M313 84.5h1.3M313 97.5h1.3M309 92.5h1.3M328 106.5h1.3M326 97.5h1.3M325 100.5h1.3M308 97.5h1.3M308 104.5h1.3M328 98.5h1.3M312 82.5h1.3M340 95.5h1.3M326 99.5h1.3M320 100.5h1.3M314 109.5h1.3M315 98.5h1.3M321 87.5h1.3M314 84.5h1.3M309 94.5h1.3M306 93.5h1.3M324 95.5h1.3M309 101.5h1.3M337 96.5h1.3M308 93.5h1.3M343 95.5h1.3M312 93.5h1.3M336 85.5h1.3M311 104.5h1.3M325 95.5h1.3M319 109.5h1.3M324 95.5h1.3M311 95.5h1.3M314 94.5h1.3M319 109.5h1.3M321 99.5h1.3M317 90.5h1.3M331 103.5h1.3M335 96.5h1.3M306 84.5h1.3M325 96.5h1.3M309 90.5h1.3M322 93.5h1.3M329 87.5h1.3M332 96.5h1.3M311 95.5h1.3M325 95.5h1.3M316 88.5h1.3M307 101.5h1.3M328 87.5h1.3M316 96.5h1.3M341 94.5h1.3M320 96.5h1.3M329 96.5h1.3M307 89.5h1.3M325 102.5h1.3M316 98.5h1.3M313 95.5h1.3M325 96.5h1.3M307 100.5h1.3M323 107.5h1.3M318 97.5h1.3M308 95.5h1.3M323 102.5h1.3M338 101.5h1.3M326 95.5h1.3M325 89.5h1.3M328 102.5h1.3M343 100.5h1.3M312 108.5h1.3M330 91.5h1.3M320 89.5h1.3M319 94.5h1.3M329 98.5h1.3M331 103.5h1.3M332 90.5h1.3M327 99.5h1.3M311 93.5h1.3M319 104.5h1.3M335 100.5h1.3M315 94.5h1.3M317 104.5h1.3M323 97.5h1.3M332 91.5h1.3M335 107.5h1.3M317 99.5h1.3M315 96.5h1.3M318 103.5h1.3M311 109.5h1.3M333 107.5h1.3M320 103.5h1.3M306 94.5h1.3M317 98.5h1.3M310 101.5h1.3M343 103.5h1.3M342 93.5h1.3M309 108.5h1.3M329 89.5h1.3M346 102.5h1.3M308 101.5h1.3M310 98.5h1.3M315 97.5h1.3M331 104.5h1.3M331 94.5h1.3M314 88.5h1.3M311 94.5h1.3M310 94.5h1.3M325 96.5h1.3M332 90.5h1.3M319 92.5h1.3M333 94.5h1.3M328 105.5h1.3M318 111.5h1.3M312 89.5h1.3M320 85.5h1.3M310 81.5h1.3M325 88.5h1.3M322 104.5h1.3M333 107.5h1.3M331 101.5h1.3M314 84.5h1.3M310 102.5h1.3M320 95.5h1.3M307 92.5h1.3M328 89.5h1.3M310 89.5h1.3M322 101.5h1.3M306 95.5h1.3M323 94.5h1.3M309 101.5h1.3M333 96.5h1.3M319 112.5h1.3M317 92.5h1.3M311 106.5h1.3M320 83.5h1.3M318 88.5h1.3M309 101.5h1.3M328 100.5h1.3M322 93.5h1.3M312 97.5h1.3M321 87.5h1.3M308 92.5h1.3M310 96.5h1.3M333 106.5h1.3M323 102.5h1.3M321 82.5h1.3M327 95.5h1.3M327 98.5h1.3M324 87.5h1.3M331 87.5h1.3M308 88.5h1.3M317 96.5h1.3M330 102.5h1.3M315 91.5h1.3M304 101.5h1.3M322 103.5h1.3M315 104.5h1.3M322 98.5h1.3M309 102.5h1.3M325 105.5h1.3M306 89.5h1.3M319 100.5h1.3M311 108.5h1.3M328 102.5h1.3M318 96.5h1.3M320 97.5h1.3M323 94.5h1.3M311 109.5h1.3M327 100.5h1.3M322 87.5h1.3M340 82.5h1.3M322 71.5h1.3M322 66.5h1.3M312 68.5h1.3M310 84.5h1.3M312 85.5h1.3M309 64.5h1.3M321 95.5h1.3M332 87.5h1.3M340 94.5h1.3M306 90.5h1.3M331 92.5h1.3M327 91.5h1.3M312 79.5h1.3M331 77.5h1.3M322 86.5h1.3M334 70.5h1.3M307 97.5h1.3M327 84.5h1.3M320 78.5h1.3M321 77.5h1.3M333 79.5h1.3M327 72.5h1.3M321 68.5h1.3M347 73.5h1.3M328 87.5h1.3M340 90.5h1.3M333 91.5h1.3M318 97.5h1.3M323 81.5h1.3M326 75.5h1.3M338 92.5h1.3M333 75.5h1.3M328 91.5h1.3M330 97.5h1.3M316 62.5h1.3M333 82.5h1.3M326 72.5h1.3M313 69.5h1.3M346 105.5h1.3M312 108.5h1.3M314 78.5h1.3M325 84.5h1.3M320 82.5h1.3M328 84.5h1.3M322 96.5h1.3M318 87.5h1.3M318 85.5h1.3M331 93.5h1.3M325 86.5h1.3M336 101.5h1.3M340 82.5h1.3M314 85.5h1.3M321 88.5h1.3M314 98.5h1.3M316 64.5h1.3M324 86.5h1.3M323 98.5h1.3M326 83.5h1.3M336 76.5h1.3M318 88.5h1.3M328 73.5h1.3M311 88.5h1.3M327 83.5h1.3M328 75.5h1.3M312 97.5h1.3M318 80.5h1.3M330 73.5h1.3M334 72.5h1.3M336 87.5h1.3M319 87.5h1.3M328 85.5h1.3M340 88.5h1.3M310 67.5h1.3M320 80.5h1.3M315 70.5h1.3M335 96.5h1.3M318 72.5h1.3M307 85.5h1.3M324 78.5h1.3M337 62.5h1.3M304 97.5h1.3M321 82.5h1.3M322 73.5h1.3M324 78.5h1.3M322 79.5h1.3M316 79.5h1.3M314 68.5h1.3M314 86.5h1.3M331 78.5h1.3M323 89.5h1.3M332 104.5h1.3M334 102.5h1.3M314 66.5h1.3M332 78.5h1.3M311 98.5h1.3M304 82.5h1.3M314 89.5h1.3M323 78.5h1.3M305 77.5h1.3M316 73.5h1.3M313 98.5h1.3M328 85.5h1.3M324 72.5h1.3M322 86.5h1.3M329 90.5h1.3M340 89.5h1.3M341 81.5h1.3M343 75.5h1.3M354 70.5h1.3M346 74.5h1.3M345 80.5h1.3M356 70.5h1.3M354 78.5h1.3M359 77.5h1.3M351 70.5h1.3M352 82.5h1.3M352 75.5h1.3M359 76.5h1.3M353 85.5h1.3M347 80.5h1.3M354 74.5h1.3M365 83.5h1.3M341 76.5h1.3M373 84.5h1.3M347 83.5h1.3M358 83.5h1.3M355 66.5h1.3M352 75.5h1.3M342 70.5h1.3M346 76.5h1.3M367 78.5h1.3M368 71.5h1.3M360 68.5h1.3M372 74.5h1.3M348 83.5h1.3M348 81.5h1.3M362 82.5h1.3M352 80.5h1.3M362 73.5h1.3M354 91.5h1.3M335 91.5h1.3M348 88.5h1.3M340 87.5h1.3M366 88.5h1.3M356 97.5h1.3M375 96.5h1.3M343 94.5h1.3M348 103.5h1.3M349 94.5h1.3M362 101.5h1.3M355 105.5h1.3M351 91.5h1.3M345 93.5h1.3M358 99.5h1.3M371 103.5h1.3M356 94.5h1.3M350 96.5h1.3M356 99.5h1.3M359 100.5h1.3M346 95.5h1.3M350 93.5h1.3M363 91.5h1.3M335 89.5h1.3M349 94.5h1.3M348 83.5h1.3M360 91.5h1.3M367 85.5h1.3M334 101.5h1.3M346 83.5h1.3M359 107.5h1.3M361 94.5h1.3M363 89.5h1.3M351 86.5h1.3M350 104.5h1.3M367 95.5h1.3M347 94.5h1.3M345 104.5h1.3M345 86.5h1.3M349 91.5h1.3M359 88.5h1.3M367 88.5h1.3M326 107.5h1.3M325 107.5h1.3M306 106.5h1.3M312 108.5h1.3M318 111.5h1.3M313 100.5h1.3M331 106.5h1.3M308 108.5h1.3M337 105.5h1.3M313 105.5h1.3M331 107.5h1.3M323 103.5h1.3M308 114.5h1.3M336 105.5h1.3M332 113.5h1.3M328 110.5h1.3M343 108.5h1.3M328 110.5h1.3M323 109.5h1.3M338 106.5h1.3M317 104.5h1.3M322 107.5h1.3M316 110.5h1.3M322 110.5h1.3M313 108.5h1.3M346 109.5h1.3M337 104.5h1.3M331 109.5h1.3M329 112.5h1.3M310 103.5h1.3M313 108.5h1.3M334 107.5h1.3M304 111.5h1.3"/>
<path d="M322 92.5h1.3M328 96.5h1.3M317 84.5h1.3M326 95.5h1.3M311 88.5h1.3M310 99.5h1.3M340 84.5h1.3M308 97.5h1.3M338 100.5h1.3M320 112.5h1.3M306 111.5h1.3M313 94.5h1.3M324 81.5h1.3M306 98.5h1.3M325 109.5h1.3M317 93.5h1.3M318 98.5h1.3M309 88.5h1.3M308 88.5h1.3M331 91.5h1.3M318 93.5h1.3M309 102.5h1.3M324 87.5h1.3M327 82.5h1.3M314 101.5h1.3M316 110.5h1.3M307 101.5h1.3M329 96.5h1.3M324 86.5h1.3M346 97.5h1.3M326 97.5h1.3M314 105.5h1.3M328 95.5h1.3M318 85.5h1.3M333 86.5h1.3M338 105.5h1.3M320 97.5h1.3M332 97.5h1.3M316 90.5h1.3M318 86.5h1.3M331 92.5h1.3M336 85.5h1.3M318 93.5h1.3M322 92.5h1.3M321 88.5h1.3M316 100.5h1.3M323 102.5h1.3M332 98.5h1.3M318 108.5h1.3M322 89.5h1.3M313 91.5h1.3M335 103.5h1.3M324 93.5h1.3M320 91.5h1.3M321 90.5h1.3M325 97.5h1.3M322 105.5h1.3M315 104.5h1.3M324 98.5h1.3M319 101.5h1.3M331 91.5h1.3M308 89.5h1.3M327 109.5h1.3M322 92.5h1.3M320 100.5h1.3M305 92.5h1.3M322 87.5h1.3M307 96.5h1.3M305 98.5h1.3M322 97.5h1.3M310 100.5h1.3M308 103.5h1.3M325 108.5h1.3M331 91.5h1.3M314 97.5h1.3M325 100.5h1.3M345 90.5h1.3M330 101.5h1.3M328 94.5h1.3M305 95.5h1.3M344 93.5h1.3M319 95.5h1.3M324 87.5h1.3M312 95.5h1.3M343 98.5h1.3M322 101.5h1.3M333 93.5h1.3M315 87.5h1.3M330 105.5h1.3M320 95.5h1.3M316 96.5h1.3M318 92.5h1.3M318 91.5h1.3M321 94.5h1.3M307 92.5h1.3M316 108.5h1.3M317 98.5h1.3M320 101.5h1.3M321 89.5h1.3M309 91.5h1.3M311 102.5h1.3M327 79.5h1.3M322 90.5h1.3M311 90.5h1.3M336 107.5h1.3M322 99.5h1.3M310 95.5h1.3M325 98.5h1.3M312 93.5h1.3M317 94.5h1.3M340 84.5h1.3M337 106.5h1.3M332 100.5h1.3M316 88.5h1.3M314 101.5h1.3M318 95.5h1.3M322 94.5h1.3M306 88.5h1.3M349 93.5h1.3M322 95.5h1.3M306 101.5h1.3M321 87.5h1.3M325 92.5h1.3M317 90.5h1.3M317 96.5h1.3M317 93.5h1.3M332 99.5h1.3M328 101.5h1.3M325 101.5h1.3M314 92.5h1.3M318 90.5h1.3M329 92.5h1.3M315 91.5h1.3M325 91.5h1.3M312 96.5h1.3M328 95.5h1.3M311 101.5h1.3M317 90.5h1.3M314 94.5h1.3M314 104.5h1.3M323 93.5h1.3M304 94.5h1.3M330 96.5h1.3M325 98.5h1.3M325 111.5h1.3M332 89.5h1.3M317 104.5h1.3M340 96.5h1.3M310 99.5h1.3M326 103.5h1.3M317 101.5h1.3M316 94.5h1.3M332 110.5h1.3M323 90.5h1.3M331 105.5h1.3M343 97.5h1.3M308 94.5h1.3M319 84.5h1.3M310 86.5h1.3M323 94.5h1.3M312 80.5h1.3M317 96.5h1.3M321 93.5h1.3M331 100.5h1.3M328 96.5h1.3M332 93.5h1.3M327 104.5h1.3M329 92.5h1.3M336 99.5h1.3M335 91.5h1.3M335 99.5h1.3M311 103.5h1.3M307 96.5h1.3M325 103.5h1.3M334 102.5h1.3M345 102.5h1.3M313 105.5h1.3M326 76.5h1.3M323 90.5h1.3M308 91.5h1.3M320 76.5h1.3M340 92.5h1.3M321 86.5h1.3M341 100.5h1.3M312 98.5h1.3M306 96.5h1.3M311 99.5h1.3M315 92.5h1.3M329 85.5h1.3M332 95.5h1.3M340 76.5h1.3M310 104.5h1.3M334 85.5h1.3M304 88.5h1.3M336 77.5h1.3M305 86.5h1.3M316 76.5h1.3M336 85.5h1.3M315 79.5h1.3M322 87.5h1.3M319 88.5h1.3M320 85.5h1.3M320 99.5h1.3M321 80.5h1.3M344 69.5h1.3M314 96.5h1.3M313 87.5h1.3M313 88.5h1.3M318 68.5h1.3M323 80.5h1.3M315 66.5h1.3M321 68.5h1.3M307 83.5h1.3M334 101.5h1.3M344 73.5h1.3M317 75.5h1.3M316 106.5h1.3M324 91.5h1.3M332 80.5h1.3M319 82.5h1.3M319 72.5h1.3M337 97.5h1.3M307 98.5h1.3M308 74.5h1.3M325 83.5h1.3M345 96.5h1.3M336 98.5h1.3M306 99.5h1.3M316 74.5h1.3M317 72.5h1.3M351 82.5h1.3M328 94.5h1.3M337 104.5h1.3M326 82.5h1.3M324 87.5h1.3M315 108.5h1.3M322 73.5h1.3M327 83.5h1.3M322 75.5h1.3M337 96.5h1.3M326 78.5h1.3M323 86.5h1.3M332 100.5h1.3M305 79.5h1.3M307 96.5h1.3M312 92.5h1.3M311 84.5h1.3M316 82.5h1.3M339 77.5h1.3M322 101.5h1.3M322 86.5h1.3M320 91.5h1.3M334 73.5h1.3M321 85.5h1.3M308 78.5h1.3M323 98.5h1.3M346 78.5h1.3M334 81.5h1.3M332 84.5h1.3M329 83.5h1.3M318 92.5h1.3M318 97.5h1.3M338 98.5h1.3M321 73.5h1.3M319 77.5h1.3M331 89.5h1.3M318 81.5h1.3M318 79.5h1.3M324 104.5h1.3M313 111.5h1.3M336 98.5h1.3M323 74.5h1.3M315 88.5h1.3M309 91.5h1.3M318 94.5h1.3M334 96.5h1.3M325 98.5h1.3M344 89.5h1.3M315 110.5h1.3M322 85.5h1.3M326 84.5h1.3M335 80.5h1.3M341 100.5h1.3M321 93.5h1.3M338 88.5h1.3M360 80.5h1.3M361 71.5h1.3M357 79.5h1.3M338 73.5h1.3M369 83.5h1.3M356 77.5h1.3M356 76.5h1.3M359 84.5h1.3M349 83.5h1.3M374 74.5h1.3M347 68.5h1.3M333 75.5h1.3M357 70.5h1.3M378 78.5h1.3M351 83.5h1.3M358 89.5h1.3M365 72.5h1.3M375 76.5h1.3M356 80.5h1.3M355 75.5h1.3M340 80.5h1.3M355 70.5h1.3M352 70.5h1.3M352 68.5h1.3M362 73.5h1.3M348 83.5h1.3M348 80.5h1.3M346 77.5h1.3M358 70.5h1.3M352 71.5h1.3M352 69.5h1.3M361 64.5h1.3M370 83.5h1.3M349 89.5h1.3M349 92.5h1.3M369 92.5h1.3M353 101.5h1.3M341 103.5h1.3M359 99.5h1.3M355 105.5h1.3M349 104.5h1.3M357 96.5h1.3M335 95.5h1.3M351 100.5h1.3M334 106.5h1.3M353 93.5h1.3M348 89.5h1.3M353 96.5h1.3M366 107.5h1.3M351 86.5h1.3M353 89.5h1.3M350 106.5h1.3M348 96.5h1.3M351 99.5h1.3M350 92.5h1.3M340 88.5h1.3M353 90.5h1.3M364 89.5h1.3M347 99.5h1.3M356 103.5h1.3M362 87.5h1.3M350 103.5h1.3M344 89.5h1.3M355 102.5h1.3M351 94.5h1.3M350 98.5h1.3M348 94.5h1.3M369 99.5h1.3M360 109.5h1.3M354 88.5h1.3M351 107.5h1.3M355 91.5h1.3M347 90.5h1.3M346 95.5h1.3M357 105.5h1.3M349 109.5h1.3M325 113.5h1.3M310 106.5h1.3M332 106.5h1.3M333 105.5h1.3M324 104.5h1.3M326 103.5h1.3M332 107.5h1.3M323 105.5h1.3M309 109.5h1.3M311 109.5h1.3M327 106.5h1.3M344 106.5h1.3M326 110.5h1.3M315 108.5h1.3M317 108.5h1.3M339 107.5h1.3M332 107.5h1.3M324 112.5h1.3M337 109.5h1.3M319 110.5h1.3M317 104.5h1.3M324 113.5h1.3M321 110.5h1.3M328 109.5h1.3M327 104.5h1.3M327 112.5h1.3M328 112.5h1.3M344 105.5h1.3M345 107.5h1.3M309 108.5h1.3M342 111.5h1.3M326 109.5h1.3M315 106.5h1.3M337 109.5h1.3M336 106.5h1.3"/>
</g></g>
<path d="M302.0 34.4H383.6V116.5" fill="none" stroke="#c8c8c8" stroke-width="1.4"/>
<path d="M302.0 34.4V116.5H383.6" fill="none" stroke="#b4b4b4" stroke-width="1.8"/>
<path d="M301.5 35.9h2.5M301.5 55.9h2.5M301.5 75.9h2.5M301.5 95.9h2.5M301.5 115.9h2.5M303.0 117.0v-2M323.0 117.0v-2M343.0 117.0v-2M363.0 117.0v-2M383.0 117.0v-2M309.0 117.0v-1.2M313.0 117.0v-1.2M316.0 117.0v-1.2M318.0 117.0v-1.2M320.0 117.0v-1.2M329.0 117.0v-1.2M333.0 117.0v-1.2M336.0 117.0v-1.2M338.0 117.0v-1.2M340.0 117.0v-1.2M349.0 117.0v-1.2M353.0 117.0v-1.2M356.0 117.0v-1.2M358.0 117.0v-1.2M360.0 117.0v-1.2M369.0 117.0v-1.2M373.0 117.0v-1.2M376.0 117.0v-1.2M378.0 117.0v-1.2M380.0 117.0v-1.2" stroke="#8a8a8a" stroke-width="1.1"/>
<rect x="338.0" y="53.9" width="37.1" height="32" fill="none" stroke="#111" stroke-width="1.9"/>
<text x="357.5" y="50.0" font-size="13.5" font-weight="bold" text-anchor="middle" fill="#111" stroke="#111" stroke-width="0.2" >9</text>
<g clip-path="url(#cp03)">
<ellipse cx="419.0" cy="70.9" rx="3" ry="1.5" transform="rotate(0 419.0 70.9)" fill="#000" fill-opacity="0.6" filter="url(#b1)"/>
<ellipse cx="424.0" cy="89.4" rx="7" ry="7" transform="rotate(0 424.0 89.4)" fill="#000" fill-opacity="0.12" filter="url(#b2)"/>
<g filter="url(#bl)" stroke="#000" stroke-width="1.3" stroke-opacity="0.34">
<path d="M416 66.5h1.3M426 73.5h1.3M409 80.5h1.3M406 80.5h1.3M428 73.5h1.3M431 73.5h1.3M424 71.5h1.3M418 72.5h1.3M425 80.5h1.3M424 96.5h1.3M407 97.5h1.3M432 65.5h1.3M419 85.5h1.3M425 94.5h1.3M418 83.5h1.3M407 77.5h1.3M421 55.5h1.3M416 57.5h1.3M412 97.5h1.3M413 76.5h1.3M408 81.5h1.3M432 75.5h1.3M422 85.5h1.3M425 73.5h1.3M427 88.5h1.3M434 79.5h1.3M422 86.5h1.3M416 96.5h1.3M431 71.5h1.3M437 59.5h1.3M415 74.5h1.3M419 61.5h1.3M425 99.5h1.3M415 69.5h1.3M412 78.5h1.3M437 96.5h1.3M415 48.5h1.3M414 80.5h1.3M413 90.5h1.3M417 65.5h1.3M422 89.5h1.3M418 63.5h1.3M422 96.5h1.3M408 80.5h1.3M424 93.5h1.3M416 85.5h1.3M429 98.5h1.3M423 75.5h1.3M413 65.5h1.3M419 72.5h1.3M425 77.5h1.3M414 78.5h1.3M422 96.5h1.3M428 64.5h1.3M416 89.5h1.3M408 77.5h1.3M414 88.5h1.3M409 63.5h1.3M414 107.5h1.3M426 79.5h1.3M408 84.5h1.3M420 72.5h1.3M422 84.5h1.3M422 74.5h1.3M411 73.5h1.3M415 82.5h1.3M422 71.5h1.3M408 71.5h1.3M431 86.5h1.3M423 63.5h1.3M426 98.5h1.3M428 55.5h1.3M418 82.5h1.3M431 93.5h1.3M407 73.5h1.3M426 67.5h1.3M427 78.5h1.3M417 77.5h1.3M423 56.5h1.3M419 79.5h1.3M420 65.5h1.3M407 107.5h1.3M425 99.5h1.3M432 88.5h1.3M426 58.5h1.3M441 69.5h1.3M414 106.5h1.3M433 75.5h1.3M429 67.5h1.3M409 87.5h1.3M428 100.5h1.3M414 61.5h1.3M419 67.5h1.3M425 99.5h1.3M426 85.5h1.3M414 88.5h1.3M430 85.5h1.3M424 104.5h1.3M428 76.5h1.3M417 64.5h1.3M442 78.5h1.3M424 68.5h1.3M419 99.5h1.3M431 83.5h1.3M412 99.5h1.3M420 100.5h1.3M421 83.5h1.3M425 97.5h1.3M434 91.5h1.3M440 84.5h1.3M430 96.5h1.3M424 95.5h1.3M423 87.5h1.3M416 98.5h1.3M419 90.5h1.3M435 96.5h1.3M419 103.5h1.3M428 84.5h1.3M423 104.5h1.3M426 85.5h1.3M439 96.5h1.3M418 88.5h1.3M423 92.5h1.3M440 92.5h1.3M428 85.5h1.3M421 85.5h1.3M432 86.5h1.3M424 91.5h1.3M419 85.5h1.3M431 88.5h1.3M430 95.5h1.3M425 91.5h1.3M430 91.5h1.3M420 90.5h1.3M426 88.5h1.3M419 72.5h1.3M422 70.5h1.3M420 69.5h1.3M422 70.5h1.3M423 69.5h1.3M422 70.5h1.3M422 69.5h1.3M414 71.5h1.3M419 73.5h1.3M420 70.5h1.3M417 70.5h1.3M421 68.5h1.3M449 81.5h1.3M450 78.5h1.3M459 80.5h1.3M452 74.5h1.3M442 69.5h1.3M449 72.5h1.3M441 72.5h1.3M451 82.5h1.3M443 99.5h1.3M433 97.5h1.3M456 100.5h1.3M438 95.5h1.3M428 96.5h1.3M460 94.5h1.3M449 102.5h1.3M441 93.5h1.3M436 99.5h1.3M450 92.5h1.3M451 94.5h1.3M437 90.5h1.3"/>
<path d="M415 85.5h1.3M413 83.5h1.3M419 84.5h1.3M432 67.5h1.3M425 71.5h1.3M430 75.5h1.3M415 71.5h1.3M412 67.5h1.3M407 95.5h1.3M421 93.5h1.3M416 79.5h1.3M411 84.5h1.3M411 78.5h1.3M413 76.5h1.3M444 77.5h1.3M424 88.5h1.3M427 78.5h1.3M414 99.5h1.3M438 96.5h1.3M408 76.5h1.3M440 67.5h1.3M436 70.5h1.3M416 75.5h1.3M436 88.5h1.3M421 91.5h1.3M431 76.5h1.3M430 92.5h1.3M412 72.5h1.3M406 76.5h1.3M421 73.5h1.3M415 87.5h1.3M410 85.5h1.3M412 74.5h1.3M418 71.5h1.3M420 74.5h1.3M422 92.5h1.3M438 82.5h1.3M435 85.5h1.3M415 70.5h1.3M421 57.5h1.3M418 63.5h1.3M430 107.5h1.3M430 85.5h1.3M434 88.5h1.3M419 78.5h1.3M415 84.5h1.3M417 69.5h1.3M428 60.5h1.3M422 95.5h1.3M430 59.5h1.3M417 93.5h1.3M423 80.5h1.3M411 64.5h1.3M414 84.5h1.3M415 66.5h1.3M429 96.5h1.3M409 99.5h1.3M418 96.5h1.3M424 62.5h1.3M408 74.5h1.3M416 73.5h1.3M422 80.5h1.3M416 74.5h1.3M422 75.5h1.3M421 82.5h1.3M421 94.5h1.3M408 84.5h1.3M426 83.5h1.3M431 68.5h1.3M415 66.5h1.3M422 100.5h1.3M433 57.5h1.3M428 62.5h1.3M417 80.5h1.3M407 74.5h1.3M420 79.5h1.3M433 67.5h1.3M425 91.5h1.3M427 81.5h1.3M426 83.5h1.3M423 54.5h1.3M421 91.5h1.3M417 68.5h1.3M419 83.5h1.3M417 78.5h1.3M434 79.5h1.3M437 86.5h1.3M431 58.5h1.3M421 97.5h1.3M415 73.5h1.3M431 95.5h1.3M432 94.5h1.3M423 76.5h1.3M418 91.5h1.3M431 79.5h1.3M425 73.5h1.3M423 96.5h1.3M419 85.5h1.3M427 76.5h1.3M423 69.5h1.3M413 74.5h1.3M436 91.5h1.3M424 62.5h1.3M435 92.5h1.3M435 84.5h1.3M436 86.5h1.3M413 95.5h1.3M414 93.5h1.3M437 92.5h1.3M425 86.5h1.3M432 96.5h1.3M421 96.5h1.3M420 95.5h1.3M421 85.5h1.3M430 96.5h1.3M437 89.5h1.3M432 92.5h1.3M430 90.5h1.3M422 87.5h1.3M411 94.5h1.3M432 83.5h1.3M439 96.5h1.3M433 97.5h1.3M434 90.5h1.3M423 98.5h1.3M426 83.5h1.3M431 97.5h1.3M429 89.5h1.3M420 80.5h1.3M420 95.5h1.3M418 89.5h1.3M428 92.5h1.3M437 95.5h1.3M419 84.5h1.3M432 94.5h1.3M425 94.5h1.3M423 72.5h1.3M424 71.5h1.3M422 70.5h1.3M422 72.5h1.3M418 71.5h1.3M418 68.5h1.3M414 69.5h1.3M413 70.5h1.3M418 69.5h1.3M416 67.5h1.3M420 73.5h1.3M421 70.5h1.3M439 76.5h1.3M446 73.5h1.3M449 58.5h1.3M440 67.5h1.3M454 66.5h1.3M454 70.5h1.3M450 79.5h1.3M450 79.5h1.3M430 89.5h1.3M448 95.5h1.3M434 96.5h1.3M450 94.5h1.3M442 90.5h1.3M433 89.5h1.3M451 99.5h1.3M448 91.5h1.3M436 92.5h1.3M450 91.5h1.3M449 86.5h1.3M449 99.5h1.3"/>
<path d="M411 72.5h1.3M425 78.5h1.3M416 91.5h1.3M428 62.5h1.3M426 94.5h1.3M413 82.5h1.3M407 71.5h1.3M435 79.5h1.3M436 103.5h1.3M424 87.5h1.3M420 70.5h1.3M426 76.5h1.3M424 93.5h1.3M428 90.5h1.3M411 98.5h1.3M417 65.5h1.3M417 74.5h1.3M422 59.5h1.3M427 72.5h1.3M435 83.5h1.3M425 96.5h1.3M428 77.5h1.3M412 103.5h1.3M435 79.5h1.3M417 55.5h1.3M418 81.5h1.3M417 80.5h1.3M431 68.5h1.3M411 96.5h1.3M415 68.5h1.3M429 69.5h1.3M420 87.5h1.3M433 81.5h1.3M419 90.5h1.3M420 71.5h1.3M437 95.5h1.3M416 89.5h1.3M421 85.5h1.3M427 89.5h1.3M408 83.5h1.3M435 68.5h1.3M424 62.5h1.3M427 79.5h1.3M433 88.5h1.3M432 77.5h1.3M423 76.5h1.3M426 83.5h1.3M423 83.5h1.3M419 103.5h1.3M421 74.5h1.3M422 68.5h1.3M414 84.5h1.3M424 101.5h1.3M410 76.5h1.3M433 107.5h1.3M409 78.5h1.3M413 75.5h1.3M418 79.5h1.3M431 63.5h1.3M438 91.5h1.3M414 73.5h1.3M417 50.5h1.3M417 74.5h1.3M408 75.5h1.3M425 76.5h1.3M423 89.5h1.3M424 93.5h1.3M413 68.5h1.3M414 68.5h1.3M417 92.5h1.3M409 81.5h1.3M431 93.5h1.3M425 90.5h1.3M415 87.5h1.3M409 91.5h1.3M415 82.5h1.3M437 92.5h1.3M440 70.5h1.3M408 95.5h1.3M414 50.5h1.3M418 88.5h1.3M416 67.5h1.3M426 93.5h1.3M427 79.5h1.3M415 72.5h1.3M417 81.5h1.3M421 78.5h1.3M435 84.5h1.3M418 62.5h1.3M427 83.5h1.3M409 89.5h1.3M407 98.5h1.3M415 67.5h1.3M431 82.5h1.3M417 97.5h1.3M425 90.5h1.3M417 94.5h1.3M426 69.5h1.3M414 75.5h1.3M424 88.5h1.3M436 77.5h1.3M431 88.5h1.3M428 93.5h1.3M429 95.5h1.3M417 97.5h1.3M423 93.5h1.3M429 94.5h1.3M427 103.5h1.3M415 93.5h1.3M422 91.5h1.3M407 81.5h1.3M418 80.5h1.3M432 79.5h1.3M427 91.5h1.3M429 86.5h1.3M416 99.5h1.3M420 91.5h1.3M414 103.5h1.3M413 89.5h1.3M434 87.5h1.3M425 101.5h1.3M423 107.5h1.3M419 86.5h1.3M426 100.5h1.3M432 96.5h1.3M429 101.5h1.3M423 91.5h1.3M436 102.5h1.3M437 96.5h1.3M425 89.5h1.3M414 89.5h1.3M423 86.5h1.3M434 81.5h1.3M418 85.5h1.3M415 84.5h1.3M415 69.5h1.3M420 70.5h1.3M416 71.5h1.3M422 69.5h1.3M418 72.5h1.3M416 71.5h1.3M421 71.5h1.3M418 69.5h1.3M413 72.5h1.3M421 69.5h1.3M422 72.5h1.3M447 55.5h1.3M444 75.5h1.3M446 78.5h1.3M453 66.5h1.3M453 68.5h1.3M451 73.5h1.3M446 66.5h1.3M454 67.5h1.3M452 78.5h1.3M450 92.5h1.3M450 100.5h1.3M438 88.5h1.3M443 97.5h1.3M451 95.5h1.3M435 96.5h1.3M453 98.5h1.3M443 103.5h1.3M439 90.5h1.3M460 91.5h1.3M456 93.5h1.3"/>
<path d="M409 76.5h1.3M418 80.5h1.3M431 91.5h1.3M423 105.5h1.3M423 80.5h1.3M407 68.5h1.3M432 95.5h1.3M408 71.5h1.3M427 74.5h1.3M417 72.5h1.3M413 75.5h1.3M414 77.5h1.3M413 71.5h1.3M410 90.5h1.3M418 102.5h1.3M437 59.5h1.3M425 97.5h1.3M417 70.5h1.3M423 67.5h1.3M427 86.5h1.3M418 75.5h1.3M433 81.5h1.3M407 73.5h1.3M423 72.5h1.3M434 78.5h1.3M415 94.5h1.3M416 96.5h1.3M410 85.5h1.3M429 81.5h1.3M436 77.5h1.3M421 109.5h1.3M427 87.5h1.3M426 72.5h1.3M417 88.5h1.3M421 74.5h1.3M416 76.5h1.3M422 85.5h1.3M410 87.5h1.3M419 84.5h1.3M426 79.5h1.3M409 75.5h1.3M425 100.5h1.3M410 90.5h1.3M423 72.5h1.3M435 83.5h1.3M423 73.5h1.3M418 64.5h1.3M426 86.5h1.3M428 60.5h1.3M422 103.5h1.3M417 62.5h1.3M420 68.5h1.3M423 82.5h1.3M428 50.5h1.3M428 68.5h1.3M420 63.5h1.3M430 94.5h1.3M425 86.5h1.3M434 94.5h1.3M415 79.5h1.3M433 89.5h1.3M426 81.5h1.3M419 95.5h1.3M435 68.5h1.3M413 74.5h1.3M411 73.5h1.3M433 107.5h1.3M426 67.5h1.3M418 78.5h1.3M423 67.5h1.3M430 77.5h1.3M428 68.5h1.3M418 73.5h1.3M410 55.5h1.3M423 93.5h1.3M419 84.5h1.3M422 72.5h1.3M416 71.5h1.3M419 84.5h1.3M435 82.5h1.3M408 63.5h1.3M409 89.5h1.3M426 61.5h1.3M430 89.5h1.3M422 92.5h1.3M440 81.5h1.3M421 88.5h1.3M418 63.5h1.3M419 71.5h1.3M431 75.5h1.3M418 78.5h1.3M418 71.5h1.3M413 73.5h1.3M414 79.5h1.3M428 59.5h1.3M415 61.5h1.3M425 85.5h1.3M417 70.5h1.3M418 80.5h1.3M430 71.5h1.3M433 77.5h1.3M429 76.5h1.3M412 80.5h1.3M422 99.5h1.3M426 97.5h1.3M425 84.5h1.3M421 85.5h1.3M409 80.5h1.3M421 78.5h1.3M427 94.5h1.3M424 100.5h1.3M422 91.5h1.3M428 91.5h1.3M411 92.5h1.3M420 83.5h1.3M439 82.5h1.3M436 93.5h1.3M417 87.5h1.3M429 89.5h1.3M425 85.5h1.3M426 88.5h1.3M419 87.5h1.3M419 93.5h1.3M417 94.5h1.3M415 95.5h1.3M423 95.5h1.3M419 87.5h1.3M436 93.5h1.3M436 78.5h1.3M424 89.5h1.3M422 95.5h1.3M425 94.5h1.3M421 95.5h1.3M440 86.5h1.3M413 92.5h1.3M432 95.5h1.3M418 70.5h1.3M419 72.5h1.3M416 72.5h1.3M421 70.5h1.3M416 68.5h1.3M420 68.5h1.3M413 71.5h1.3M416 70.5h1.3M421 70.5h1.3M420 71.5h1.3M416 71.5h1.3M436 67.5h1.3M449 59.5h1.3M445 79.5h1.3M449 74.5h1.3M448 74.5h1.3M448 65.5h1.3M448 71.5h1.3M458 70.5h1.3M456 69.5h1.3M441 102.5h1.3M445 95.5h1.3M438 99.5h1.3M456 90.5h1.3M441 99.5h1.3M442 93.5h1.3M456 101.5h1.3M445 100.5h1.3M429 98.5h1.3M441 99.5h1.3M437 96.5h1.3"/>
<path d="M417 94.5h1.3M409 84.5h1.3M422 97.5h1.3M420 64.5h1.3M427 77.5h1.3M408 72.5h1.3M427 73.5h1.3M419 78.5h1.3M420 88.5h1.3M417 89.5h1.3M418 95.5h1.3M438 78.5h1.3M423 97.5h1.3M415 95.5h1.3M419 60.5h1.3M422 99.5h1.3M412 86.5h1.3M415 72.5h1.3M408 67.5h1.3M417 76.5h1.3M421 77.5h1.3M433 65.5h1.3M417 73.5h1.3M435 76.5h1.3M417 83.5h1.3M411 83.5h1.3M426 69.5h1.3M413 93.5h1.3M431 81.5h1.3M408 88.5h1.3M414 88.5h1.3M406 77.5h1.3M423 83.5h1.3M417 85.5h1.3M423 109.5h1.3M412 104.5h1.3M425 84.5h1.3M427 101.5h1.3M408 95.5h1.3M430 57.5h1.3M412 77.5h1.3M418 52.5h1.3M411 81.5h1.3M422 62.5h1.3M417 86.5h1.3M415 73.5h1.3M430 98.5h1.3M425 76.5h1.3M424 108.5h1.3M422 56.5h1.3M414 96.5h1.3M425 62.5h1.3M432 82.5h1.3M413 62.5h1.3M437 59.5h1.3M417 76.5h1.3M434 87.5h1.3M424 89.5h1.3M428 56.5h1.3M425 56.5h1.3M419 76.5h1.3M414 80.5h1.3M424 85.5h1.3M430 84.5h1.3M415 78.5h1.3M421 94.5h1.3M422 61.5h1.3M419 72.5h1.3M417 91.5h1.3M425 88.5h1.3M412 74.5h1.3M430 72.5h1.3M418 87.5h1.3M407 89.5h1.3M410 94.5h1.3M414 61.5h1.3M431 78.5h1.3M417 80.5h1.3M412 77.5h1.3M425 75.5h1.3M416 73.5h1.3M422 65.5h1.3M416 74.5h1.3M438 100.5h1.3M406 87.5h1.3M413 87.5h1.3M421 88.5h1.3M425 88.5h1.3M424 85.5h1.3M441 85.5h1.3M433 84.5h1.3M418 76.5h1.3M411 102.5h1.3M426 63.5h1.3M430 70.5h1.3M413 91.5h1.3M413 93.5h1.3M417 92.5h1.3M411 78.5h1.3M420 90.5h1.3M426 81.5h1.3M410 64.5h1.3M425 79.5h1.3M420 73.5h1.3M420 103.5h1.3M421 90.5h1.3M427 97.5h1.3M420 87.5h1.3M419 88.5h1.3M420 87.5h1.3M422 96.5h1.3M413 100.5h1.3M431 77.5h1.3M440 85.5h1.3M429 106.5h1.3M429 88.5h1.3M430 88.5h1.3M437 88.5h1.3M416 90.5h1.3M438 93.5h1.3M429 98.5h1.3M421 94.5h1.3M421 75.5h1.3M421 93.5h1.3M416 94.5h1.3M443 89.5h1.3M423 90.5h1.3M430 91.5h1.3M428 82.5h1.3M422 90.5h1.3M424 83.5h1.3M415 89.5h1.3M431 87.5h1.3M431 94.5h1.3M420 79.5h1.3M415 69.5h1.3M418 71.5h1.3M426 70.5h1.3M426 71.5h1.3M420 72.5h1.3M420 70.5h1.3M421 70.5h1.3M421 73.5h1.3M421 69.5h1.3M420 70.5h1.3M425 69.5h1.3M422 69.5h1.3M452 74.5h1.3M442 81.5h1.3M457 62.5h1.3M440 79.5h1.3M449 73.5h1.3M444 78.5h1.3M443 83.5h1.3M457 84.5h1.3M433 95.5h1.3M453 98.5h1.3M435 101.5h1.3M447 95.5h1.3M448 97.5h1.3M437 93.5h1.3M436 93.5h1.3M458 97.5h1.3M449 98.5h1.3M448 99.5h1.3M437 97.5h1.3M457 93.5h1.3"/>
<path d="M426 81.5h1.3M420 78.5h1.3M423 78.5h1.3M415 83.5h1.3M426 81.5h1.3M427 72.5h1.3M415 82.5h1.3M419 83.5h1.3M427 89.5h1.3M424 104.5h1.3M406 92.5h1.3M431 74.5h1.3M423 82.5h1.3M419 80.5h1.3M430 93.5h1.3M418 86.5h1.3M418 86.5h1.3M420 83.5h1.3M412 80.5h1.3M415 79.5h1.3M425 82.5h1.3M433 70.5h1.3M427 81.5h1.3M425 72.5h1.3M409 70.5h1.3M426 87.5h1.3M433 88.5h1.3M411 93.5h1.3M406 59.5h1.3M433 71.5h1.3M414 74.5h1.3M441 75.5h1.3M411 102.5h1.3M432 81.5h1.3M422 87.5h1.3M430 78.5h1.3M409 66.5h1.3M419 88.5h1.3M438 64.5h1.3M419 85.5h1.3M435 58.5h1.3M418 86.5h1.3M417 113.5h1.3M410 83.5h1.3M418 74.5h1.3M439 69.5h1.3M413 82.5h1.3M423 78.5h1.3M432 64.5h1.3M417 67.5h1.3M415 96.5h1.3M430 74.5h1.3M430 65.5h1.3M434 82.5h1.3M419 62.5h1.3M415 78.5h1.3M412 88.5h1.3M406 72.5h1.3M414 74.5h1.3M425 84.5h1.3M428 76.5h1.3M406 89.5h1.3M435 90.5h1.3M417 88.5h1.3M413 61.5h1.3M412 72.5h1.3M417 100.5h1.3M421 81.5h1.3M429 86.5h1.3M421 75.5h1.3M410 83.5h1.3M424 74.5h1.3M436 68.5h1.3M423 89.5h1.3M423 72.5h1.3M427 77.5h1.3M407 75.5h1.3M414 106.5h1.3M417 74.5h1.3M437 60.5h1.3M416 62.5h1.3M420 98.5h1.3M436 81.5h1.3M416 69.5h1.3M420 57.5h1.3M420 96.5h1.3M414 103.5h1.3M419 84.5h1.3M421 74.5h1.3M417 92.5h1.3M417 91.5h1.3M419 66.5h1.3M427 47.5h1.3M434 77.5h1.3M420 72.5h1.3M419 81.5h1.3M438 82.5h1.3M436 98.5h1.3M413 69.5h1.3M425 105.5h1.3M409 77.5h1.3M410 72.5h1.3M425 59.5h1.3M427 93.5h1.3M424 93.5h1.3M428 87.5h1.3M432 100.5h1.3M407 90.5h1.3M438 87.5h1.3M434 92.5h1.3M427 94.5h1.3M428 89.5h1.3M421 91.5h1.3M425 86.5h1.3M417 82.5h1.3M421 98.5h1.3M426 92.5h1.3M413 96.5h1.3M439 89.5h1.3M416 83.5h1.3M419 79.5h1.3M420 84.5h1.3M418 89.5h1.3M415 98.5h1.3M413 87.5h1.3M418 93.5h1.3M410 92.5h1.3M417 91.5h1.3M407 96.5h1.3M423 86.5h1.3M419 89.5h1.3M429 85.5h1.3M412 91.5h1.3M423 87.5h1.3M431 98.5h1.3M420 92.5h1.3M423 71.5h1.3M423 72.5h1.3M416 72.5h1.3M420 70.5h1.3M417 71.5h1.3M420 72.5h1.3M422 70.5h1.3M421 71.5h1.3M420 71.5h1.3M422 70.5h1.3M419 72.5h1.3M419 70.5h1.3M453 58.5h1.3M447 80.5h1.3M447 75.5h1.3M454 75.5h1.3M451 71.5h1.3M444 74.5h1.3M444 70.5h1.3M446 63.5h1.3M438 90.5h1.3M448 98.5h1.3M440 97.5h1.3M445 90.5h1.3M444 97.5h1.3M451 100.5h1.3M441 102.5h1.3M442 98.5h1.3M445 99.5h1.3M461 97.5h1.3M452 97.5h1.3M444 94.5h1.3"/>
</g></g>
<path d="M404.0 34.4H485.6V116.5" fill="none" stroke="#c8c8c8" stroke-width="1.4"/>
<path d="M404.0 34.4V116.5H485.6" fill="none" stroke="#b4b4b4" stroke-width="1.8"/>
<path d="M403.5 35.9h2.5M403.5 55.9h2.5M403.5 75.9h2.5M403.5 95.9h2.5M403.5 115.9h2.5M405.0 117.0v-2M425.0 117.0v-2M445.0 117.0v-2M465.0 117.0v-2M485.0 117.0v-2M411.0 117.0v-1.2M415.0 117.0v-1.2M418.0 117.0v-1.2M420.0 117.0v-1.2M422.0 117.0v-1.2M431.0 117.0v-1.2M435.0 117.0v-1.2M438.0 117.0v-1.2M440.0 117.0v-1.2M442.0 117.0v-1.2M451.0 117.0v-1.2M455.0 117.0v-1.2M458.0 117.0v-1.2M460.0 117.0v-1.2M462.0 117.0v-1.2M471.0 117.0v-1.2M475.0 117.0v-1.2M478.0 117.0v-1.2M480.0 117.0v-1.2M482.0 117.0v-1.2" stroke="#8a8a8a" stroke-width="1.1"/>
<rect x="438.3" y="53.9" width="38.8" height="32" fill="none" stroke="#111" stroke-width="1.9"/>
<text x="456.6" y="50.0" font-size="13.5" font-weight="bold" text-anchor="middle" fill="#111" stroke="#111" stroke-width="0.2" >6</text>
<g clip-path="url(#cp10)">
<ellipse cx="127.1" cy="175.0" rx="8" ry="5.5" transform="rotate(0 127.1 175.0)" fill="#000" fill-opacity="0.75" filter="url(#b1_5)"/>
<ellipse cx="158.1" cy="165.0" rx="6" ry="4" transform="rotate(-30 158.1 165.0)" fill="#000" fill-opacity="0.75" filter="url(#b1_5)"/>
<ellipse cx="145.1" cy="176.0" rx="8" ry="4" transform="rotate(-15 145.1 176.0)" fill="#000" fill-opacity="0.3" filter="url(#b2)"/>
<ellipse cx="118.1" cy="196.0" rx="10" ry="8" transform="rotate(0 118.1 196.0)" fill="#000" fill-opacity="0.1" filter="url(#b3)"/>
<g filter="url(#bl)" stroke="#000" stroke-width="1.3" stroke-opacity="0.34">
<path d="M122 175.5h1.3M126 170.5h1.3M132 173.5h1.3M121 175.5h1.3M129 171.5h1.3M125 174.5h1.3M124 168.5h1.3M125 176.5h1.3M134 174.5h1.3M126 172.5h1.3M127 179.5h1.3M123 171.5h1.3M134 175.5h1.3M123 175.5h1.3M133 177.5h1.3M124 176.5h1.3M118 171.5h1.3M135 181.5h1.3M131 177.5h1.3M135 173.5h1.3M138 171.5h1.3M117 172.5h1.3M117 173.5h1.3M132 178.5h1.3M119 168.5h1.3M129 182.5h1.3M129 170.5h1.3M135 180.5h1.3M121 179.5h1.3M132 184.5h1.3M129 178.5h1.3M132 173.5h1.3M126 170.5h1.3M128 166.5h1.3M125 173.5h1.3M122 174.5h1.3M120 174.5h1.3M124 173.5h1.3M123 173.5h1.3M135 176.5h1.3M127 167.5h1.3M128 173.5h1.3M136 177.5h1.3M133 175.5h1.3M130 179.5h1.3M121 181.5h1.3M121 172.5h1.3M123 180.5h1.3M134 175.5h1.3M124 167.5h1.3M120 172.5h1.3M122 179.5h1.3M131 174.5h1.3M120 166.5h1.3M128 170.5h1.3M127 179.5h1.3M140 175.5h1.3M121 184.5h1.3M119 177.5h1.3M124 179.5h1.3M112 176.5h1.3M126 167.5h1.3M118 173.5h1.3M121 175.5h1.3M127 174.5h1.3M135 173.5h1.3M118 174.5h1.3M129 179.5h1.3M129 171.5h1.3M125 180.5h1.3M123 168.5h1.3M129 168.5h1.3M117 179.5h1.3M124 172.5h1.3M129 177.5h1.3M112 174.5h1.3M124 175.5h1.3M134 175.5h1.3M128 174.5h1.3M125 175.5h1.3M124 178.5h1.3M132 170.5h1.3M118 174.5h1.3M122 178.5h1.3M120 167.5h1.3M125 173.5h1.3M121 176.5h1.3M125 179.5h1.3M119 176.5h1.3M129 169.5h1.3M137 168.5h1.3M128 181.5h1.3M128 180.5h1.3M123 175.5h1.3M130 175.5h1.3M124 175.5h1.3M136 170.5h1.3M125 181.5h1.3M132 170.5h1.3M136 174.5h1.3M119 175.5h1.3M130 178.5h1.3M141 170.5h1.3M129 179.5h1.3M124 171.5h1.3M127 179.5h1.3M128 178.5h1.3M133 179.5h1.3M119 175.5h1.3M127 166.5h1.3M130 170.5h1.3M126 171.5h1.3M130 177.5h1.3M130 171.5h1.3M130 171.5h1.3M125 179.5h1.3M125 172.5h1.3M131 174.5h1.3M123 176.5h1.3M130 168.5h1.3M124 174.5h1.3M131 170.5h1.3M126 172.5h1.3M126 174.5h1.3M127 172.5h1.3M135 174.5h1.3M134 176.5h1.3M128 180.5h1.3M125 177.5h1.3M131 174.5h1.3M131 167.5h1.3M125 176.5h1.3M123 180.5h1.3M117 178.5h1.3M124 174.5h1.3M121 179.5h1.3M129 170.5h1.3M128 177.5h1.3M126 176.5h1.3M127 177.5h1.3M123 178.5h1.3M118 180.5h1.3M123 170.5h1.3M122 179.5h1.3M123 178.5h1.3M116 172.5h1.3M120 172.5h1.3M122 181.5h1.3M128 177.5h1.3M122 171.5h1.3M114 177.5h1.3M126 177.5h1.3M134 184.5h1.3M140 172.5h1.3M136 174.5h1.3M121 183.5h1.3M134 169.5h1.3M127 175.5h1.3M137 167.5h1.3M114 174.5h1.3M130 167.5h1.3M122 172.5h1.3M126 179.5h1.3M142 172.5h1.3M130 183.5h1.3M129 173.5h1.3M116 178.5h1.3M152 170.5h1.3M156 170.5h1.3M150 168.5h1.3M157 171.5h1.3M159 162.5h1.3M162 164.5h1.3M155 170.5h1.3M147 171.5h1.3M153 163.5h1.3M160 170.5h1.3M167 163.5h1.3M160 163.5h1.3M156 156.5h1.3M158 164.5h1.3M148 170.5h1.3M163 166.5h1.3M158 163.5h1.3M155 167.5h1.3M156 161.5h1.3M163 164.5h1.3M160 173.5h1.3M165 169.5h1.3M162 164.5h1.3M151 170.5h1.3M159 158.5h1.3M159 166.5h1.3M152 164.5h1.3M163 163.5h1.3M150 166.5h1.3M147 171.5h1.3M153 168.5h1.3M164 163.5h1.3M158 166.5h1.3M159 165.5h1.3M162 173.5h1.3M159 162.5h1.3M157 168.5h1.3M159 167.5h1.3M157 162.5h1.3M151 169.5h1.3M159 168.5h1.3M150 173.5h1.3M155 171.5h1.3M151 164.5h1.3M163 159.5h1.3M167 161.5h1.3M160 170.5h1.3M155 164.5h1.3M158 170.5h1.3M155 170.5h1.3M146 166.5h1.3M157 165.5h1.3M156 166.5h1.3M158 172.5h1.3M147 168.5h1.3M160 166.5h1.3M156 168.5h1.3M160 169.5h1.3M149 163.5h1.3M163 168.5h1.3M152 166.5h1.3M156 164.5h1.3M156 166.5h1.3M160 163.5h1.3M157 160.5h1.3M165 169.5h1.3M156 170.5h1.3M160 166.5h1.3M162 170.5h1.3M153 162.5h1.3M156 165.5h1.3M158 160.5h1.3M155 169.5h1.3M155 161.5h1.3M150 168.5h1.3M156 162.5h1.3M163 168.5h1.3M156 165.5h1.3M164 170.5h1.3M154 170.5h1.3M160 164.5h1.3M156 165.5h1.3M161 163.5h1.3M158 164.5h1.3M160 161.5h1.3M157 173.5h1.3M155 166.5h1.3M148 162.5h1.3M158 165.5h1.3M167 167.5h1.3M164 166.5h1.3M154 167.5h1.3M152 169.5h1.3M150 167.5h1.3M153 171.5h1.3M152 171.5h1.3M159 170.5h1.3M157 164.5h1.3M155 169.5h1.3M169 162.5h1.3M163 162.5h1.3M156 169.5h1.3M153 161.5h1.3M161 163.5h1.3M152 171.5h1.3M155 158.5h1.3M153 161.5h1.3M158 172.5h1.3M156 164.5h1.3M161 166.5h1.3M152 163.5h1.3M165 168.5h1.3M154 170.5h1.3M153 163.5h1.3M159 159.5h1.3M157 166.5h1.3M155 169.5h1.3M162 165.5h1.3M141 175.5h1.3M143 181.5h1.3M147 180.5h1.3M141 177.5h1.3M152 181.5h1.3M139 179.5h1.3M148 180.5h1.3M150 170.5h1.3M157 178.5h1.3M149 177.5h1.3M137 172.5h1.3M146 172.5h1.3M136 184.5h1.3M138 183.5h1.3M150 175.5h1.3M144 173.5h1.3M147 163.5h1.3M159 171.5h1.3M157 162.5h1.3M139 174.5h1.3M142 177.5h1.3M148 180.5h1.3M152 167.5h1.3M145 173.5h1.3M148 173.5h1.3M144 170.5h1.3M147 182.5h1.3M132 179.5h1.3M145 178.5h1.3M147 181.5h1.3M133 182.5h1.3M140 176.5h1.3M145 182.5h1.3M153 166.5h1.3M147 171.5h1.3M147 169.5h1.3M140 171.5h1.3M153 172.5h1.3M146 173.5h1.3M160 173.5h1.3M145 179.5h1.3M145 173.5h1.3M152 172.5h1.3M151 173.5h1.3M152 161.5h1.3M146 175.5h1.3M149 180.5h1.3M151 170.5h1.3M139 165.5h1.3M156 168.5h1.3M157 170.5h1.3M150 171.5h1.3M148 179.5h1.3M164 174.5h1.3M144 184.5h1.3M153 167.5h1.3M136 181.5h1.3M117 202.5h1.3M123 200.5h1.3M124 188.5h1.3M133 190.5h1.3M121 195.5h1.3M127 188.5h1.3M109 177.5h1.3M109 202.5h1.3M124 203.5h1.3M125 187.5h1.3M112 190.5h1.3M129 197.5h1.3M101 214.5h1.3M128 197.5h1.3M110 203.5h1.3M117 194.5h1.3M116 184.5h1.3M119 211.5h1.3M108 176.5h1.3M110 181.5h1.3M112 203.5h1.3M109 205.5h1.3M125 187.5h1.3M100 213.5h1.3M123 198.5h1.3M100 179.5h1.3M125 200.5h1.3M128 193.5h1.3M130 204.5h1.3M118 187.5h1.3M108 193.5h1.3M118 200.5h1.3M120 204.5h1.3M113 204.5h1.3M106 184.5h1.3M103 189.5h1.3M112 209.5h1.3M122 192.5h1.3M146 193.5h1.3M134 194.5h1.3M125 207.5h1.3M122 191.5h1.3M118 194.5h1.3M102 202.5h1.3M108 182.5h1.3M116 191.5h1.3M116 183.5h1.3M111 197.5h1.3M120 202.5h1.3M109 204.5h1.3M132 190.5h1.3M125 184.5h1.3M115 194.5h1.3M116 190.5h1.3M111 197.5h1.3M132 197.5h1.3M109 187.5h1.3M107 186.5h1.3M126 197.5h1.3M113 200.5h1.3M130 201.5h1.3M137 178.5h1.3M113 203.5h1.3M116 197.5h1.3M122 195.5h1.3M130 196.5h1.3M102 190.5h1.3M118 208.5h1.3M116 190.5h1.3M109 209.5h1.3M131 189.5h1.3M122 211.5h1.3M114 201.5h1.3M125 190.5h1.3M121 195.5h1.3M136 186.5h1.3M116 183.5h1.3M130 202.5h1.3M120 212.5h1.3M140 181.5h1.3M138 193.5h1.3M123 188.5h1.3M105 206.5h1.3M115 193.5h1.3M121 197.5h1.3M133 198.5h1.3M106 194.5h1.3M130 204.5h1.3M127 197.5h1.3M107 195.5h1.3M127 187.5h1.3M112 188.5h1.3M122 186.5h1.3M134 190.5h1.3M140 198.5h1.3M127 181.5h1.3M100 195.5h1.3M100 185.5h1.3M100 213.5h1.3M106 194.5h1.3M130 196.5h1.3M112 177.5h1.3M151 200.5h1.3M128 170.5h1.3M112 179.5h1.3M140 188.5h1.3M135 180.5h1.3M110 181.5h1.3M141 191.5h1.3M130 196.5h1.3M128 193.5h1.3M129 191.5h1.3M109 173.5h1.3M131 196.5h1.3M132 172.5h1.3M140 189.5h1.3M109 181.5h1.3M122 176.5h1.3M142 171.5h1.3M132 170.5h1.3M119 200.5h1.3M134 184.5h1.3M115 193.5h1.3M121 186.5h1.3M131 181.5h1.3M118 196.5h1.3"/>
<path d="M130 176.5h1.3M125 169.5h1.3M133 180.5h1.3M131 170.5h1.3M134 182.5h1.3M129 168.5h1.3M140 176.5h1.3M128 173.5h1.3M129 169.5h1.3M123 175.5h1.3M128 171.5h1.3M122 167.5h1.3M120 173.5h1.3M124 175.5h1.3M123 172.5h1.3M124 173.5h1.3M116 176.5h1.3M127 184.5h1.3M125 181.5h1.3M128 175.5h1.3M135 176.5h1.3M127 176.5h1.3M134 169.5h1.3M131 177.5h1.3M132 173.5h1.3M132 178.5h1.3M126 182.5h1.3M137 175.5h1.3M140 178.5h1.3M115 176.5h1.3M126 177.5h1.3M130 168.5h1.3M127 177.5h1.3M117 172.5h1.3M123 175.5h1.3M129 177.5h1.3M124 172.5h1.3M125 164.5h1.3M127 175.5h1.3M129 171.5h1.3M124 176.5h1.3M120 180.5h1.3M128 177.5h1.3M123 173.5h1.3M126 177.5h1.3M134 176.5h1.3M120 173.5h1.3M126 172.5h1.3M130 177.5h1.3M128 174.5h1.3M132 177.5h1.3M135 167.5h1.3M133 177.5h1.3M124 177.5h1.3M134 179.5h1.3M132 168.5h1.3M121 182.5h1.3M131 176.5h1.3M142 177.5h1.3M136 170.5h1.3M123 165.5h1.3M135 173.5h1.3M136 174.5h1.3M122 185.5h1.3M122 174.5h1.3M136 176.5h1.3M128 170.5h1.3M137 169.5h1.3M129 171.5h1.3M137 177.5h1.3M126 177.5h1.3M127 176.5h1.3M129 180.5h1.3M130 167.5h1.3M120 174.5h1.3M117 180.5h1.3M113 173.5h1.3M129 175.5h1.3M128 181.5h1.3M124 174.5h1.3M123 172.5h1.3M129 179.5h1.3M128 171.5h1.3M121 170.5h1.3M134 176.5h1.3M124 178.5h1.3M123 172.5h1.3M133 176.5h1.3M124 173.5h1.3M130 181.5h1.3M124 181.5h1.3M119 174.5h1.3M124 176.5h1.3M123 169.5h1.3M129 173.5h1.3M127 172.5h1.3M122 177.5h1.3M123 175.5h1.3M120 175.5h1.3M131 172.5h1.3M120 178.5h1.3M134 180.5h1.3M130 178.5h1.3M121 167.5h1.3M129 171.5h1.3M131 169.5h1.3M120 182.5h1.3M129 172.5h1.3M126 175.5h1.3M130 174.5h1.3M129 173.5h1.3M133 174.5h1.3M126 176.5h1.3M128 173.5h1.3M121 173.5h1.3M136 172.5h1.3M125 185.5h1.3M115 180.5h1.3M119 178.5h1.3M124 171.5h1.3M123 174.5h1.3M129 177.5h1.3M129 180.5h1.3M119 176.5h1.3M118 171.5h1.3M130 184.5h1.3M125 180.5h1.3M130 172.5h1.3M126 181.5h1.3M121 172.5h1.3M116 182.5h1.3M127 183.5h1.3M130 179.5h1.3M131 179.5h1.3M129 175.5h1.3M128 178.5h1.3M126 174.5h1.3M121 173.5h1.3M132 170.5h1.3M126 173.5h1.3M124 178.5h1.3M121 176.5h1.3M122 177.5h1.3M137 174.5h1.3M126 177.5h1.3M131 175.5h1.3M127 180.5h1.3M120 181.5h1.3M135 180.5h1.3M120 170.5h1.3M131 180.5h1.3M116 176.5h1.3M128 169.5h1.3M130 171.5h1.3M133 175.5h1.3M134 175.5h1.3M137 179.5h1.3M140 171.5h1.3M129 181.5h1.3M123 183.5h1.3M126 183.5h1.3M124 179.5h1.3M131 177.5h1.3M134 174.5h1.3M130 168.5h1.3M140 177.5h1.3M134 181.5h1.3M158 168.5h1.3M157 167.5h1.3M161 166.5h1.3M157 163.5h1.3M162 170.5h1.3M156 171.5h1.3M150 170.5h1.3M162 162.5h1.3M161 163.5h1.3M158 164.5h1.3M152 164.5h1.3M160 164.5h1.3M149 164.5h1.3M153 173.5h1.3M154 168.5h1.3M160 160.5h1.3M157 168.5h1.3M151 167.5h1.3M160 162.5h1.3M158 163.5h1.3M151 165.5h1.3M153 164.5h1.3M162 160.5h1.3M151 162.5h1.3M162 158.5h1.3M160 156.5h1.3M152 169.5h1.3M155 168.5h1.3M158 164.5h1.3M158 163.5h1.3M155 163.5h1.3M154 168.5h1.3M157 167.5h1.3M157 164.5h1.3M160 161.5h1.3M154 160.5h1.3M159 171.5h1.3M168 162.5h1.3M157 159.5h1.3M159 159.5h1.3M160 170.5h1.3M163 170.5h1.3M156 165.5h1.3M154 172.5h1.3M157 163.5h1.3M157 168.5h1.3M152 172.5h1.3M164 169.5h1.3M164 163.5h1.3M156 161.5h1.3M154 165.5h1.3M155 170.5h1.3M157 169.5h1.3M154 164.5h1.3M148 164.5h1.3M164 165.5h1.3M163 169.5h1.3M156 167.5h1.3M160 172.5h1.3M150 174.5h1.3M161 163.5h1.3M154 171.5h1.3M161 168.5h1.3M164 162.5h1.3M157 165.5h1.3M160 164.5h1.3M158 165.5h1.3M155 161.5h1.3M158 159.5h1.3M154 175.5h1.3M155 161.5h1.3M151 167.5h1.3M167 160.5h1.3M162 167.5h1.3M159 168.5h1.3M155 175.5h1.3M156 170.5h1.3M155 157.5h1.3M162 160.5h1.3M159 169.5h1.3M158 165.5h1.3M157 162.5h1.3M156 158.5h1.3M154 158.5h1.3M159 164.5h1.3M161 165.5h1.3M160 170.5h1.3M160 169.5h1.3M167 162.5h1.3M165 165.5h1.3M156 168.5h1.3M155 166.5h1.3M153 167.5h1.3M160 156.5h1.3M156 162.5h1.3M161 165.5h1.3M155 167.5h1.3M159 162.5h1.3M155 165.5h1.3M155 167.5h1.3M162 163.5h1.3M155 171.5h1.3M160 163.5h1.3M156 164.5h1.3M154 167.5h1.3M151 167.5h1.3M161 167.5h1.3M155 168.5h1.3M153 166.5h1.3M152 163.5h1.3M157 162.5h1.3M153 162.5h1.3M163 163.5h1.3M162 163.5h1.3M157 167.5h1.3M161 162.5h1.3M158 166.5h1.3M153 169.5h1.3M143 180.5h1.3M141 165.5h1.3M162 172.5h1.3M143 179.5h1.3M151 169.5h1.3M145 173.5h1.3M154 177.5h1.3M142 175.5h1.3M159 174.5h1.3M147 173.5h1.3M147 165.5h1.3M149 171.5h1.3M145 182.5h1.3M141 180.5h1.3M147 168.5h1.3M153 169.5h1.3M136 167.5h1.3M164 172.5h1.3M142 168.5h1.3M148 176.5h1.3M149 175.5h1.3M144 178.5h1.3M147 165.5h1.3M140 176.5h1.3M151 176.5h1.3M149 174.5h1.3M133 173.5h1.3M140 164.5h1.3M139 178.5h1.3M147 179.5h1.3M158 166.5h1.3M153 167.5h1.3M136 174.5h1.3M141 178.5h1.3M151 171.5h1.3M147 169.5h1.3M154 171.5h1.3M159 169.5h1.3M153 165.5h1.3M151 169.5h1.3M151 171.5h1.3M132 181.5h1.3M143 177.5h1.3M146 165.5h1.3M150 177.5h1.3M154 182.5h1.3M155 171.5h1.3M146 175.5h1.3M152 168.5h1.3M162 171.5h1.3M153 170.5h1.3M154 179.5h1.3M144 175.5h1.3M164 165.5h1.3M153 167.5h1.3M148 174.5h1.3M151 167.5h1.3M135 205.5h1.3M123 180.5h1.3M134 193.5h1.3M104 184.5h1.3M116 207.5h1.3M124 195.5h1.3M108 191.5h1.3M117 193.5h1.3M137 204.5h1.3M107 210.5h1.3M121 178.5h1.3M111 197.5h1.3M108 196.5h1.3M117 195.5h1.3M119 187.5h1.3M129 188.5h1.3M114 197.5h1.3M123 190.5h1.3M141 189.5h1.3M118 202.5h1.3M130 204.5h1.3M100 205.5h1.3M127 213.5h1.3M107 210.5h1.3M108 198.5h1.3M134 180.5h1.3M127 201.5h1.3M111 202.5h1.3M141 210.5h1.3M120 184.5h1.3M110 195.5h1.3M127 196.5h1.3M127 212.5h1.3M119 206.5h1.3M124 198.5h1.3M120 205.5h1.3M131 197.5h1.3M112 186.5h1.3M104 190.5h1.3M131 201.5h1.3M133 201.5h1.3M127 199.5h1.3M138 191.5h1.3M118 189.5h1.3M112 198.5h1.3M130 207.5h1.3M117 191.5h1.3M111 200.5h1.3M115 195.5h1.3M108 209.5h1.3M137 197.5h1.3M138 180.5h1.3M114 192.5h1.3M123 194.5h1.3M133 199.5h1.3M120 194.5h1.3M128 200.5h1.3M112 201.5h1.3M130 200.5h1.3M107 192.5h1.3M130 199.5h1.3M116 203.5h1.3M126 192.5h1.3M114 212.5h1.3M117 196.5h1.3M119 207.5h1.3M113 205.5h1.3M109 181.5h1.3M134 186.5h1.3M100 185.5h1.3M121 184.5h1.3M102 187.5h1.3M115 184.5h1.3M128 203.5h1.3M119 190.5h1.3M111 180.5h1.3M118 200.5h1.3M118 191.5h1.3M112 191.5h1.3M119 190.5h1.3M128 194.5h1.3M142 195.5h1.3M132 202.5h1.3M114 188.5h1.3M113 191.5h1.3M123 192.5h1.3M108 192.5h1.3M121 200.5h1.3M125 188.5h1.3M109 188.5h1.3M122 194.5h1.3M107 211.5h1.3M123 201.5h1.3M141 181.5h1.3M123 184.5h1.3M110 192.5h1.3M144 194.5h1.3M115 190.5h1.3M131 183.5h1.3M117 193.5h1.3M121 196.5h1.3M145 171.5h1.3M114 188.5h1.3M140 181.5h1.3M118 188.5h1.3M147 201.5h1.3M129 188.5h1.3M119 178.5h1.3M127 175.5h1.3M121 183.5h1.3M118 201.5h1.3M131 181.5h1.3M141 178.5h1.3M143 173.5h1.3M128 192.5h1.3M131 184.5h1.3M129 200.5h1.3M133 202.5h1.3M129 181.5h1.3M104 182.5h1.3M106 183.5h1.3M123 187.5h1.3M129 194.5h1.3M142 195.5h1.3M114 186.5h1.3M130 186.5h1.3"/>
<path d="M126 175.5h1.3M131 168.5h1.3M130 178.5h1.3M123 167.5h1.3M123 172.5h1.3M120 184.5h1.3M132 175.5h1.3M131 184.5h1.3M120 182.5h1.3M135 169.5h1.3M128 166.5h1.3M131 183.5h1.3M115 174.5h1.3M132 174.5h1.3M126 171.5h1.3M130 179.5h1.3M127 174.5h1.3M121 178.5h1.3M129 177.5h1.3M133 177.5h1.3M129 177.5h1.3M122 173.5h1.3M138 175.5h1.3M135 176.5h1.3M132 173.5h1.3M120 172.5h1.3M128 166.5h1.3M119 175.5h1.3M129 167.5h1.3M127 181.5h1.3M124 173.5h1.3M114 171.5h1.3M126 174.5h1.3M130 168.5h1.3M137 181.5h1.3M131 164.5h1.3M122 178.5h1.3M122 182.5h1.3M124 176.5h1.3M120 169.5h1.3M130 178.5h1.3M130 171.5h1.3M122 172.5h1.3M123 180.5h1.3M128 176.5h1.3M129 174.5h1.3M122 173.5h1.3M132 171.5h1.3M118 182.5h1.3M121 174.5h1.3M131 182.5h1.3M130 174.5h1.3M132 167.5h1.3M127 168.5h1.3M124 169.5h1.3M132 182.5h1.3M135 167.5h1.3M133 170.5h1.3M126 177.5h1.3M126 167.5h1.3M121 177.5h1.3M121 171.5h1.3M133 174.5h1.3M123 180.5h1.3M127 171.5h1.3M122 179.5h1.3M126 181.5h1.3M131 176.5h1.3M130 173.5h1.3M134 173.5h1.3M126 172.5h1.3M129 176.5h1.3M127 167.5h1.3M127 185.5h1.3M139 181.5h1.3M136 177.5h1.3M127 174.5h1.3M122 168.5h1.3M125 175.5h1.3M128 185.5h1.3M118 176.5h1.3M135 182.5h1.3M127 169.5h1.3M139 173.5h1.3M124 178.5h1.3M125 174.5h1.3M127 184.5h1.3M134 179.5h1.3M127 174.5h1.3M124 173.5h1.3M127 170.5h1.3M120 177.5h1.3M129 175.5h1.3M133 173.5h1.3M123 173.5h1.3M127 167.5h1.3M135 166.5h1.3M134 181.5h1.3M140 175.5h1.3M124 175.5h1.3M121 177.5h1.3M135 171.5h1.3M118 173.5h1.3M129 173.5h1.3M130 174.5h1.3M128 179.5h1.3M130 175.5h1.3M128 170.5h1.3M127 172.5h1.3M128 180.5h1.3M125 176.5h1.3M120 174.5h1.3M124 178.5h1.3M125 168.5h1.3M132 181.5h1.3M117 183.5h1.3M136 166.5h1.3M138 171.5h1.3M121 166.5h1.3M125 182.5h1.3M122 169.5h1.3M121 171.5h1.3M128 171.5h1.3M132 178.5h1.3M128 173.5h1.3M130 168.5h1.3M123 169.5h1.3M136 173.5h1.3M129 176.5h1.3M126 169.5h1.3M122 171.5h1.3M121 174.5h1.3M123 171.5h1.3M129 185.5h1.3M126 179.5h1.3M126 179.5h1.3M136 171.5h1.3M129 174.5h1.3M121 169.5h1.3M129 171.5h1.3M136 177.5h1.3M125 174.5h1.3M128 179.5h1.3M131 169.5h1.3M123 177.5h1.3M130 168.5h1.3M137 175.5h1.3M119 174.5h1.3M125 171.5h1.3M117 171.5h1.3M125 180.5h1.3M119 172.5h1.3M133 175.5h1.3M128 180.5h1.3M127 168.5h1.3M128 176.5h1.3M140 172.5h1.3M133 177.5h1.3M132 174.5h1.3M126 180.5h1.3M128 168.5h1.3M130 177.5h1.3M142 172.5h1.3M125 166.5h1.3M122 175.5h1.3M127 180.5h1.3M131 168.5h1.3M159 160.5h1.3M159 162.5h1.3M152 170.5h1.3M156 160.5h1.3M156 174.5h1.3M157 161.5h1.3M156 162.5h1.3M163 164.5h1.3M152 170.5h1.3M156 170.5h1.3M157 172.5h1.3M162 161.5h1.3M160 166.5h1.3M154 165.5h1.3M153 168.5h1.3M156 170.5h1.3M157 163.5h1.3M158 165.5h1.3M157 166.5h1.3M163 165.5h1.3M165 165.5h1.3M156 172.5h1.3M156 169.5h1.3M156 166.5h1.3M160 171.5h1.3M156 170.5h1.3M157 161.5h1.3M160 166.5h1.3M160 165.5h1.3M157 160.5h1.3M159 163.5h1.3M154 166.5h1.3M157 167.5h1.3M156 169.5h1.3M163 160.5h1.3M154 164.5h1.3M159 173.5h1.3M158 169.5h1.3M161 166.5h1.3M151 167.5h1.3M157 164.5h1.3M161 160.5h1.3M158 167.5h1.3M154 168.5h1.3M157 165.5h1.3M158 159.5h1.3M160 158.5h1.3M159 171.5h1.3M157 172.5h1.3M160 165.5h1.3M162 170.5h1.3M158 164.5h1.3M158 169.5h1.3M159 171.5h1.3M157 169.5h1.3M160 167.5h1.3M148 172.5h1.3M161 163.5h1.3M156 164.5h1.3M158 162.5h1.3M151 172.5h1.3M157 166.5h1.3M154 172.5h1.3M159 162.5h1.3M148 172.5h1.3M158 168.5h1.3M160 163.5h1.3M151 163.5h1.3M159 166.5h1.3M159 169.5h1.3M159 159.5h1.3M158 169.5h1.3M155 175.5h1.3M150 162.5h1.3M164 170.5h1.3M159 171.5h1.3M158 163.5h1.3M158 172.5h1.3M160 162.5h1.3M165 158.5h1.3M153 172.5h1.3M156 165.5h1.3M151 166.5h1.3M152 162.5h1.3M152 170.5h1.3M149 171.5h1.3M155 168.5h1.3M153 166.5h1.3M160 159.5h1.3M159 168.5h1.3M160 171.5h1.3M164 159.5h1.3M159 168.5h1.3M165 162.5h1.3M164 166.5h1.3M149 168.5h1.3M148 165.5h1.3M152 162.5h1.3M152 167.5h1.3M163 164.5h1.3M153 174.5h1.3M156 169.5h1.3M162 163.5h1.3M155 167.5h1.3M164 161.5h1.3M153 165.5h1.3M148 166.5h1.3M147 169.5h1.3M155 167.5h1.3M160 166.5h1.3M166 163.5h1.3M153 167.5h1.3M162 167.5h1.3M153 165.5h1.3M155 162.5h1.3M157 165.5h1.3M152 172.5h1.3M144 172.5h1.3M141 174.5h1.3M145 168.5h1.3M150 183.5h1.3M149 172.5h1.3M135 175.5h1.3M131 174.5h1.3M137 178.5h1.3M151 174.5h1.3M155 175.5h1.3M150 164.5h1.3M153 171.5h1.3M136 183.5h1.3M151 170.5h1.3M135 173.5h1.3M149 183.5h1.3M141 174.5h1.3M150 185.5h1.3M155 175.5h1.3M144 176.5h1.3M138 183.5h1.3M147 180.5h1.3M147 165.5h1.3M148 181.5h1.3M140 174.5h1.3M155 173.5h1.3M139 169.5h1.3M154 165.5h1.3M148 172.5h1.3M152 175.5h1.3M155 172.5h1.3M155 168.5h1.3M147 170.5h1.3M153 174.5h1.3M152 172.5h1.3M160 170.5h1.3M138 179.5h1.3M139 169.5h1.3M144 174.5h1.3M151 177.5h1.3M151 168.5h1.3M146 172.5h1.3M160 171.5h1.3M145 177.5h1.3M159 172.5h1.3M151 164.5h1.3M146 169.5h1.3M150 175.5h1.3M144 166.5h1.3M155 172.5h1.3M150 171.5h1.3M153 175.5h1.3M137 178.5h1.3M142 172.5h1.3M153 173.5h1.3M151 169.5h1.3M147 171.5h1.3M139 174.5h1.3M120 196.5h1.3M112 179.5h1.3M109 193.5h1.3M133 201.5h1.3M112 211.5h1.3M134 204.5h1.3M121 204.5h1.3M117 193.5h1.3M127 175.5h1.3M121 192.5h1.3M112 196.5h1.3M130 195.5h1.3M109 187.5h1.3M122 204.5h1.3M118 186.5h1.3M128 189.5h1.3M117 198.5h1.3M121 191.5h1.3M127 186.5h1.3M141 205.5h1.3M101 192.5h1.3M113 210.5h1.3M125 195.5h1.3M112 193.5h1.3M135 201.5h1.3M110 190.5h1.3M133 180.5h1.3M135 190.5h1.3M116 187.5h1.3M121 208.5h1.3M112 185.5h1.3M125 201.5h1.3M107 197.5h1.3M130 213.5h1.3M114 183.5h1.3M122 194.5h1.3M107 197.5h1.3M118 197.5h1.3M130 198.5h1.3M116 195.5h1.3M115 205.5h1.3M121 209.5h1.3M121 191.5h1.3M139 198.5h1.3M115 191.5h1.3M113 198.5h1.3M132 203.5h1.3M110 201.5h1.3M102 202.5h1.3M104 195.5h1.3M118 195.5h1.3M138 181.5h1.3M108 200.5h1.3M109 196.5h1.3M111 187.5h1.3M103 204.5h1.3M120 185.5h1.3M125 196.5h1.3M114 185.5h1.3M128 186.5h1.3M119 205.5h1.3M136 198.5h1.3M129 197.5h1.3M130 202.5h1.3M127 200.5h1.3M124 195.5h1.3M110 194.5h1.3M118 183.5h1.3M130 200.5h1.3M113 208.5h1.3M126 196.5h1.3M112 194.5h1.3M122 207.5h1.3M142 190.5h1.3M114 206.5h1.3M105 198.5h1.3M123 181.5h1.3M120 195.5h1.3M119 197.5h1.3M100 188.5h1.3M114 185.5h1.3M117 200.5h1.3M122 203.5h1.3M114 188.5h1.3M113 204.5h1.3M128 183.5h1.3M119 195.5h1.3M123 195.5h1.3M112 195.5h1.3M124 195.5h1.3M115 193.5h1.3M110 211.5h1.3M116 177.5h1.3M113 199.5h1.3M119 181.5h1.3M124 183.5h1.3M130 172.5h1.3M141 179.5h1.3M122 204.5h1.3M132 182.5h1.3M112 168.5h1.3M110 179.5h1.3M117 180.5h1.3M137 186.5h1.3M134 182.5h1.3M120 184.5h1.3M103 183.5h1.3M124 191.5h1.3M144 195.5h1.3M118 175.5h1.3M137 192.5h1.3M158 185.5h1.3M111 188.5h1.3M142 181.5h1.3M132 196.5h1.3M105 179.5h1.3M145 174.5h1.3M132 184.5h1.3M148 195.5h1.3M134 176.5h1.3M110 193.5h1.3"/>
<path d="M129 170.5h1.3M127 174.5h1.3M119 177.5h1.3M123 166.5h1.3M137 181.5h1.3M116 175.5h1.3M125 180.5h1.3M114 181.5h1.3M128 174.5h1.3M118 179.5h1.3M132 181.5h1.3M118 174.5h1.3M135 179.5h1.3M119 177.5h1.3M133 165.5h1.3M133 174.5h1.3M129 174.5h1.3M117 177.5h1.3M136 173.5h1.3M115 172.5h1.3M125 178.5h1.3M129 179.5h1.3M112 176.5h1.3M131 176.5h1.3M130 174.5h1.3M128 174.5h1.3M126 175.5h1.3M130 172.5h1.3M129 174.5h1.3M127 170.5h1.3M128 179.5h1.3M123 169.5h1.3M129 176.5h1.3M124 180.5h1.3M126 169.5h1.3M123 176.5h1.3M132 176.5h1.3M133 169.5h1.3M127 175.5h1.3M121 173.5h1.3M125 174.5h1.3M140 171.5h1.3M131 175.5h1.3M127 176.5h1.3M124 176.5h1.3M132 179.5h1.3M130 169.5h1.3M120 177.5h1.3M123 172.5h1.3M116 177.5h1.3M125 172.5h1.3M133 173.5h1.3M121 176.5h1.3M127 175.5h1.3M132 172.5h1.3M133 174.5h1.3M126 167.5h1.3M133 173.5h1.3M120 175.5h1.3M122 176.5h1.3M127 178.5h1.3M121 175.5h1.3M120 171.5h1.3M119 178.5h1.3M131 175.5h1.3M130 179.5h1.3M124 179.5h1.3M128 182.5h1.3M123 177.5h1.3M119 176.5h1.3M128 174.5h1.3M123 168.5h1.3M126 173.5h1.3M116 179.5h1.3M122 170.5h1.3M131 177.5h1.3M143 174.5h1.3M125 177.5h1.3M123 177.5h1.3M128 175.5h1.3M127 177.5h1.3M116 170.5h1.3M125 173.5h1.3M125 171.5h1.3M127 183.5h1.3M134 174.5h1.3M122 170.5h1.3M124 178.5h1.3M138 174.5h1.3M135 176.5h1.3M129 174.5h1.3M122 173.5h1.3M127 172.5h1.3M129 168.5h1.3M121 174.5h1.3M134 172.5h1.3M117 182.5h1.3M129 177.5h1.3M128 174.5h1.3M125 170.5h1.3M115 175.5h1.3M128 177.5h1.3M130 177.5h1.3M126 174.5h1.3M134 177.5h1.3M128 169.5h1.3M132 178.5h1.3M132 182.5h1.3M128 174.5h1.3M133 173.5h1.3M131 170.5h1.3M126 176.5h1.3M121 182.5h1.3M119 172.5h1.3M140 175.5h1.3M127 177.5h1.3M117 172.5h1.3M131 172.5h1.3M132 173.5h1.3M130 177.5h1.3M135 166.5h1.3M120 177.5h1.3M127 171.5h1.3M120 175.5h1.3M127 172.5h1.3M123 176.5h1.3M133 175.5h1.3M138 169.5h1.3M134 168.5h1.3M127 172.5h1.3M134 176.5h1.3M124 176.5h1.3M120 174.5h1.3M133 175.5h1.3M141 173.5h1.3M125 180.5h1.3M128 172.5h1.3M136 171.5h1.3M130 166.5h1.3M125 174.5h1.3M118 175.5h1.3M124 175.5h1.3M129 175.5h1.3M128 168.5h1.3M131 181.5h1.3M131 177.5h1.3M131 174.5h1.3M130 173.5h1.3M121 175.5h1.3M126 178.5h1.3M128 170.5h1.3M128 180.5h1.3M125 175.5h1.3M131 173.5h1.3M133 177.5h1.3M125 181.5h1.3M125 173.5h1.3M133 170.5h1.3M124 166.5h1.3M121 168.5h1.3M122 181.5h1.3M124 172.5h1.3M141 169.5h1.3M133 170.5h1.3M132 169.5h1.3M131 173.5h1.3M132 175.5h1.3M157 169.5h1.3M152 158.5h1.3M154 172.5h1.3M157 164.5h1.3M159 173.5h1.3M159 164.5h1.3M155 161.5h1.3M161 168.5h1.3M164 172.5h1.3M155 169.5h1.3M156 173.5h1.3M154 162.5h1.3M158 164.5h1.3M155 167.5h1.3M158 165.5h1.3M158 166.5h1.3M151 167.5h1.3M150 170.5h1.3M154 172.5h1.3M153 165.5h1.3M160 163.5h1.3M153 165.5h1.3M156 158.5h1.3M154 164.5h1.3M155 172.5h1.3M150 167.5h1.3M155 161.5h1.3M160 160.5h1.3M160 167.5h1.3M156 167.5h1.3M159 167.5h1.3M150 169.5h1.3M154 168.5h1.3M159 167.5h1.3M160 161.5h1.3M161 164.5h1.3M159 161.5h1.3M156 163.5h1.3M156 160.5h1.3M156 165.5h1.3M154 172.5h1.3M161 167.5h1.3M151 169.5h1.3M157 170.5h1.3M159 168.5h1.3M155 158.5h1.3M163 164.5h1.3M152 163.5h1.3M164 158.5h1.3M153 169.5h1.3M160 174.5h1.3M154 169.5h1.3M158 169.5h1.3M154 173.5h1.3M153 167.5h1.3M159 160.5h1.3M161 170.5h1.3M156 168.5h1.3M159 167.5h1.3M159 170.5h1.3M158 162.5h1.3M151 167.5h1.3M162 166.5h1.3M158 173.5h1.3M151 170.5h1.3M150 165.5h1.3M157 167.5h1.3M150 167.5h1.3M157 163.5h1.3M163 166.5h1.3M156 163.5h1.3M153 160.5h1.3M155 165.5h1.3M155 168.5h1.3M153 166.5h1.3M159 162.5h1.3M161 169.5h1.3M158 174.5h1.3M162 165.5h1.3M150 165.5h1.3M162 173.5h1.3M153 168.5h1.3M161 162.5h1.3M163 157.5h1.3M155 172.5h1.3M152 166.5h1.3M158 160.5h1.3M151 166.5h1.3M159 170.5h1.3M161 159.5h1.3M167 162.5h1.3M161 168.5h1.3M160 167.5h1.3M161 169.5h1.3M168 161.5h1.3M156 165.5h1.3M162 168.5h1.3M151 162.5h1.3M154 164.5h1.3M156 167.5h1.3M155 167.5h1.3M155 174.5h1.3M154 163.5h1.3M156 161.5h1.3M162 159.5h1.3M156 167.5h1.3M159 165.5h1.3M159 160.5h1.3M158 170.5h1.3M149 161.5h1.3M155 165.5h1.3M161 165.5h1.3M156 164.5h1.3M161 167.5h1.3M159 164.5h1.3M160 161.5h1.3M155 181.5h1.3M141 171.5h1.3M144 181.5h1.3M143 173.5h1.3M151 179.5h1.3M147 182.5h1.3M156 168.5h1.3M143 174.5h1.3M148 177.5h1.3M139 175.5h1.3M152 174.5h1.3M158 168.5h1.3M144 180.5h1.3M154 177.5h1.3M146 170.5h1.3M134 182.5h1.3M143 173.5h1.3M143 179.5h1.3M148 166.5h1.3M160 172.5h1.3M150 175.5h1.3M145 166.5h1.3M134 178.5h1.3M155 168.5h1.3M144 176.5h1.3M150 174.5h1.3M143 175.5h1.3M143 168.5h1.3M152 171.5h1.3M138 183.5h1.3M140 171.5h1.3M139 179.5h1.3M144 173.5h1.3M139 177.5h1.3M151 171.5h1.3M136 179.5h1.3M141 168.5h1.3M142 169.5h1.3M142 176.5h1.3M157 173.5h1.3M138 167.5h1.3M150 169.5h1.3M152 173.5h1.3M157 173.5h1.3M160 177.5h1.3M147 172.5h1.3M158 169.5h1.3M164 175.5h1.3M145 169.5h1.3M155 172.5h1.3M150 181.5h1.3M147 172.5h1.3M150 169.5h1.3M150 165.5h1.3M157 170.5h1.3M147 177.5h1.3M138 172.5h1.3M146 173.5h1.3M144 172.5h1.3M109 194.5h1.3M132 187.5h1.3M119 191.5h1.3M109 204.5h1.3M121 193.5h1.3M128 177.5h1.3M122 206.5h1.3M103 198.5h1.3M109 201.5h1.3M128 199.5h1.3M136 196.5h1.3M121 188.5h1.3M114 178.5h1.3M130 201.5h1.3M114 200.5h1.3M108 190.5h1.3M125 184.5h1.3M123 191.5h1.3M118 204.5h1.3M112 187.5h1.3M122 181.5h1.3M122 206.5h1.3M124 194.5h1.3M110 182.5h1.3M106 214.5h1.3M107 188.5h1.3M123 211.5h1.3M130 207.5h1.3M140 197.5h1.3M113 192.5h1.3M120 180.5h1.3M112 194.5h1.3M108 186.5h1.3M101 177.5h1.3M130 211.5h1.3M109 210.5h1.3M113 206.5h1.3M100 183.5h1.3M119 208.5h1.3M129 207.5h1.3M119 183.5h1.3M125 179.5h1.3M127 195.5h1.3M115 193.5h1.3M123 197.5h1.3M131 196.5h1.3M110 196.5h1.3M120 189.5h1.3M109 199.5h1.3M113 198.5h1.3M116 202.5h1.3M121 183.5h1.3M123 199.5h1.3M114 203.5h1.3M133 203.5h1.3M108 196.5h1.3M120 200.5h1.3M124 179.5h1.3M116 199.5h1.3M106 210.5h1.3M109 191.5h1.3M119 192.5h1.3M128 189.5h1.3M115 182.5h1.3M110 194.5h1.3M116 210.5h1.3M126 207.5h1.3M139 201.5h1.3M122 197.5h1.3M103 190.5h1.3M121 204.5h1.3M127 204.5h1.3M115 173.5h1.3M110 196.5h1.3M119 187.5h1.3M125 193.5h1.3M137 203.5h1.3M114 191.5h1.3M127 198.5h1.3M112 198.5h1.3M117 187.5h1.3M135 182.5h1.3M108 195.5h1.3M129 192.5h1.3M108 195.5h1.3M130 190.5h1.3M116 195.5h1.3M112 197.5h1.3M108 199.5h1.3M141 199.5h1.3M114 207.5h1.3M121 189.5h1.3M115 201.5h1.3M124 197.5h1.3M104 201.5h1.3M121 204.5h1.3M113 195.5h1.3M119 200.5h1.3M117 204.5h1.3M156 192.5h1.3M121 194.5h1.3M148 178.5h1.3M109 188.5h1.3M142 189.5h1.3M135 187.5h1.3M127 174.5h1.3M119 189.5h1.3M121 175.5h1.3M123 181.5h1.3M116 197.5h1.3M122 201.5h1.3M130 199.5h1.3M136 195.5h1.3M129 188.5h1.3M126 187.5h1.3M119 196.5h1.3M126 202.5h1.3M117 183.5h1.3M150 167.5h1.3M140 188.5h1.3M131 192.5h1.3M125 178.5h1.3M130 187.5h1.3M113 207.5h1.3"/>
<path d="M126 178.5h1.3M125 176.5h1.3M118 174.5h1.3M117 176.5h1.3M127 177.5h1.3M132 177.5h1.3M133 177.5h1.3M124 180.5h1.3M118 170.5h1.3M118 173.5h1.3M126 178.5h1.3M130 172.5h1.3M127 176.5h1.3M126 172.5h1.3M128 173.5h1.3M137 173.5h1.3M125 173.5h1.3M122 179.5h1.3M138 179.5h1.3M129 175.5h1.3M126 178.5h1.3M135 172.5h1.3M137 172.5h1.3M128 171.5h1.3M129 183.5h1.3M124 166.5h1.3M135 175.5h1.3M132 174.5h1.3M122 166.5h1.3M127 176.5h1.3M137 174.5h1.3M134 173.5h1.3M125 179.5h1.3M129 171.5h1.3M118 175.5h1.3M130 178.5h1.3M119 172.5h1.3M132 175.5h1.3M130 172.5h1.3M117 174.5h1.3M126 177.5h1.3M122 173.5h1.3M129 170.5h1.3M121 169.5h1.3M130 175.5h1.3M126 176.5h1.3M128 180.5h1.3M127 172.5h1.3M122 170.5h1.3M120 177.5h1.3M115 170.5h1.3M126 181.5h1.3M135 181.5h1.3M123 181.5h1.3M120 174.5h1.3M130 168.5h1.3M134 165.5h1.3M130 176.5h1.3M117 175.5h1.3M115 173.5h1.3M125 177.5h1.3M125 178.5h1.3M120 176.5h1.3M120 173.5h1.3M123 180.5h1.3M127 181.5h1.3M121 170.5h1.3M126 172.5h1.3M132 168.5h1.3M116 182.5h1.3M136 169.5h1.3M133 173.5h1.3M129 174.5h1.3M128 179.5h1.3M126 179.5h1.3M139 179.5h1.3M126 174.5h1.3M126 178.5h1.3M129 171.5h1.3M139 176.5h1.3M122 169.5h1.3M124 171.5h1.3M124 174.5h1.3M136 177.5h1.3M119 176.5h1.3M129 174.5h1.3M116 177.5h1.3M128 178.5h1.3M129 179.5h1.3M132 173.5h1.3M126 177.5h1.3M125 176.5h1.3M126 180.5h1.3M126 174.5h1.3M126 179.5h1.3M127 167.5h1.3M130 168.5h1.3M125 174.5h1.3M117 171.5h1.3M125 177.5h1.3M134 171.5h1.3M128 169.5h1.3M112 176.5h1.3M126 176.5h1.3M115 174.5h1.3M132 177.5h1.3M113 179.5h1.3M122 172.5h1.3M123 173.5h1.3M129 180.5h1.3M125 174.5h1.3M141 177.5h1.3M126 176.5h1.3M120 176.5h1.3M131 175.5h1.3M126 166.5h1.3M123 178.5h1.3M126 172.5h1.3M124 179.5h1.3M128 165.5h1.3M133 169.5h1.3M129 179.5h1.3M123 183.5h1.3M133 172.5h1.3M133 174.5h1.3M119 168.5h1.3M126 179.5h1.3M127 164.5h1.3M131 175.5h1.3M138 173.5h1.3M122 178.5h1.3M126 176.5h1.3M120 178.5h1.3M137 173.5h1.3M118 172.5h1.3M133 175.5h1.3M122 176.5h1.3M126 177.5h1.3M142 172.5h1.3M116 177.5h1.3M121 183.5h1.3M137 171.5h1.3M127 176.5h1.3M133 175.5h1.3M126 175.5h1.3M137 178.5h1.3M119 177.5h1.3M121 175.5h1.3M125 175.5h1.3M116 176.5h1.3M130 179.5h1.3M127 170.5h1.3M120 175.5h1.3M138 178.5h1.3M123 175.5h1.3M123 172.5h1.3M132 171.5h1.3M133 175.5h1.3M130 172.5h1.3M133 173.5h1.3M137 178.5h1.3M134 172.5h1.3M123 171.5h1.3M131 172.5h1.3M121 167.5h1.3M125 175.5h1.3M150 163.5h1.3M156 170.5h1.3M155 169.5h1.3M158 162.5h1.3M155 167.5h1.3M156 171.5h1.3M155 162.5h1.3M166 162.5h1.3M154 166.5h1.3M155 170.5h1.3M160 167.5h1.3M158 162.5h1.3M154 163.5h1.3M154 168.5h1.3M157 167.5h1.3M159 167.5h1.3M157 169.5h1.3M154 162.5h1.3M155 171.5h1.3M156 162.5h1.3M151 174.5h1.3M157 166.5h1.3M161 162.5h1.3M157 169.5h1.3M159 160.5h1.3M151 167.5h1.3M159 165.5h1.3M158 164.5h1.3M153 170.5h1.3M153 173.5h1.3M158 167.5h1.3M165 159.5h1.3M151 174.5h1.3M163 159.5h1.3M163 172.5h1.3M159 165.5h1.3M159 170.5h1.3M158 171.5h1.3M157 165.5h1.3M156 168.5h1.3M163 164.5h1.3M153 160.5h1.3M154 174.5h1.3M156 159.5h1.3M164 166.5h1.3M160 169.5h1.3M153 169.5h1.3M156 167.5h1.3M160 165.5h1.3M151 167.5h1.3M157 163.5h1.3M156 167.5h1.3M152 165.5h1.3M155 164.5h1.3M159 163.5h1.3M154 167.5h1.3M154 168.5h1.3M155 169.5h1.3M160 166.5h1.3M160 159.5h1.3M153 172.5h1.3M149 173.5h1.3M155 165.5h1.3M155 168.5h1.3M151 167.5h1.3M146 170.5h1.3M160 172.5h1.3M159 161.5h1.3M159 167.5h1.3M163 163.5h1.3M153 163.5h1.3M162 161.5h1.3M156 169.5h1.3M161 167.5h1.3M163 163.5h1.3M156 169.5h1.3M156 162.5h1.3M160 169.5h1.3M163 160.5h1.3M163 162.5h1.3M157 171.5h1.3M156 164.5h1.3M161 167.5h1.3M157 161.5h1.3M156 168.5h1.3M157 166.5h1.3M147 164.5h1.3M152 167.5h1.3M160 161.5h1.3M162 167.5h1.3M163 166.5h1.3M153 165.5h1.3M165 158.5h1.3M159 164.5h1.3M157 163.5h1.3M152 169.5h1.3M160 162.5h1.3M154 167.5h1.3M159 169.5h1.3M164 164.5h1.3M152 167.5h1.3M165 167.5h1.3M164 160.5h1.3M160 163.5h1.3M149 171.5h1.3M148 169.5h1.3M149 166.5h1.3M163 169.5h1.3M151 159.5h1.3M163 161.5h1.3M153 170.5h1.3M161 162.5h1.3M155 160.5h1.3M163 160.5h1.3M160 169.5h1.3M148 165.5h1.3M157 162.5h1.3M141 170.5h1.3M146 173.5h1.3M137 171.5h1.3M141 174.5h1.3M142 169.5h1.3M160 175.5h1.3M158 163.5h1.3M146 185.5h1.3M144 176.5h1.3M138 172.5h1.3M142 166.5h1.3M153 175.5h1.3M140 172.5h1.3M150 175.5h1.3M145 176.5h1.3M162 169.5h1.3M138 174.5h1.3M150 178.5h1.3M137 180.5h1.3M151 174.5h1.3M154 174.5h1.3M148 177.5h1.3M151 177.5h1.3M138 174.5h1.3M147 176.5h1.3M147 176.5h1.3M144 182.5h1.3M146 175.5h1.3M145 167.5h1.3M145 169.5h1.3M139 177.5h1.3M148 172.5h1.3M146 170.5h1.3M147 179.5h1.3M154 177.5h1.3M146 172.5h1.3M145 174.5h1.3M158 176.5h1.3M146 177.5h1.3M157 175.5h1.3M139 183.5h1.3M137 175.5h1.3M156 166.5h1.3M150 175.5h1.3M149 168.5h1.3M134 177.5h1.3M146 176.5h1.3M157 165.5h1.3M145 183.5h1.3M162 173.5h1.3M144 184.5h1.3M147 178.5h1.3M142 184.5h1.3M156 178.5h1.3M152 164.5h1.3M149 176.5h1.3M150 179.5h1.3M157 171.5h1.3M120 207.5h1.3M127 195.5h1.3M121 188.5h1.3M116 204.5h1.3M131 191.5h1.3M100 205.5h1.3M108 209.5h1.3M112 201.5h1.3M119 189.5h1.3M146 200.5h1.3M102 195.5h1.3M113 199.5h1.3M110 183.5h1.3M117 195.5h1.3M121 195.5h1.3M137 191.5h1.3M121 205.5h1.3M113 184.5h1.3M120 198.5h1.3M121 195.5h1.3M114 193.5h1.3M128 189.5h1.3M108 203.5h1.3M110 198.5h1.3M121 200.5h1.3M111 208.5h1.3M116 192.5h1.3M128 200.5h1.3M122 199.5h1.3M108 199.5h1.3M121 201.5h1.3M118 187.5h1.3M127 194.5h1.3M133 190.5h1.3M120 187.5h1.3M132 197.5h1.3M112 179.5h1.3M101 196.5h1.3M115 198.5h1.3M113 172.5h1.3M118 201.5h1.3M145 193.5h1.3M130 192.5h1.3M111 205.5h1.3M117 199.5h1.3M127 189.5h1.3M104 193.5h1.3M118 190.5h1.3M118 191.5h1.3M106 180.5h1.3M111 196.5h1.3M122 187.5h1.3M113 199.5h1.3M101 179.5h1.3M130 194.5h1.3M100 198.5h1.3M134 183.5h1.3M138 199.5h1.3M144 191.5h1.3M112 199.5h1.3M108 195.5h1.3M119 212.5h1.3M137 193.5h1.3M112 195.5h1.3M126 209.5h1.3M103 197.5h1.3M127 189.5h1.3M120 200.5h1.3M122 188.5h1.3M127 177.5h1.3M109 206.5h1.3M114 204.5h1.3M124 201.5h1.3M112 194.5h1.3M132 204.5h1.3M111 207.5h1.3M130 203.5h1.3M123 208.5h1.3M111 190.5h1.3M116 186.5h1.3M136 187.5h1.3M127 201.5h1.3M122 194.5h1.3M129 192.5h1.3M141 207.5h1.3M115 210.5h1.3M120 195.5h1.3M121 184.5h1.3M119 205.5h1.3M109 204.5h1.3M110 208.5h1.3M114 204.5h1.3M118 213.5h1.3M117 201.5h1.3M131 209.5h1.3M113 184.5h1.3M138 202.5h1.3M116 200.5h1.3M121 178.5h1.3M123 200.5h1.3M107 201.5h1.3M117 174.5h1.3M109 186.5h1.3M124 197.5h1.3M137 185.5h1.3M133 181.5h1.3M109 189.5h1.3M141 189.5h1.3M133 179.5h1.3M131 182.5h1.3M139 186.5h1.3M125 200.5h1.3M145 193.5h1.3M112 188.5h1.3M141 181.5h1.3M109 184.5h1.3M113 198.5h1.3M108 174.5h1.3M137 198.5h1.3M157 175.5h1.3M105 186.5h1.3M125 179.5h1.3M108 186.5h1.3M123 190.5h1.3M116 190.5h1.3M134 188.5h1.3"/>
<path d="M124 180.5h1.3M129 172.5h1.3M122 171.5h1.3M133 171.5h1.3M117 173.5h1.3M127 168.5h1.3M131 178.5h1.3M121 174.5h1.3M120 174.5h1.3M128 182.5h1.3M120 181.5h1.3M117 176.5h1.3M124 175.5h1.3M131 171.5h1.3M120 177.5h1.3M118 167.5h1.3M127 170.5h1.3M128 179.5h1.3M128 168.5h1.3M132 177.5h1.3M122 179.5h1.3M127 173.5h1.3M135 178.5h1.3M116 170.5h1.3M137 180.5h1.3M122 174.5h1.3M136 176.5h1.3M132 175.5h1.3M130 179.5h1.3M122 171.5h1.3M130 183.5h1.3M128 175.5h1.3M130 181.5h1.3M126 175.5h1.3M129 172.5h1.3M118 181.5h1.3M127 176.5h1.3M122 178.5h1.3M119 174.5h1.3M117 177.5h1.3M123 174.5h1.3M131 181.5h1.3M129 168.5h1.3M129 173.5h1.3M124 168.5h1.3M133 168.5h1.3M128 169.5h1.3M130 179.5h1.3M134 175.5h1.3M128 165.5h1.3M131 171.5h1.3M124 176.5h1.3M127 171.5h1.3M130 179.5h1.3M131 171.5h1.3M124 172.5h1.3M139 170.5h1.3M136 169.5h1.3M132 182.5h1.3M132 181.5h1.3M121 170.5h1.3M120 174.5h1.3M138 178.5h1.3M128 175.5h1.3M124 166.5h1.3M133 173.5h1.3M133 174.5h1.3M130 166.5h1.3M119 173.5h1.3M129 180.5h1.3M113 174.5h1.3M119 181.5h1.3M131 169.5h1.3M128 176.5h1.3M133 172.5h1.3M136 170.5h1.3M125 168.5h1.3M122 173.5h1.3M121 169.5h1.3M131 172.5h1.3M134 175.5h1.3M126 171.5h1.3M119 169.5h1.3M129 181.5h1.3M133 178.5h1.3M127 165.5h1.3M127 171.5h1.3M129 184.5h1.3M137 170.5h1.3M125 173.5h1.3M132 168.5h1.3M119 168.5h1.3M130 180.5h1.3M125 179.5h1.3M124 185.5h1.3M131 169.5h1.3M124 178.5h1.3M123 176.5h1.3M138 169.5h1.3M122 176.5h1.3M127 171.5h1.3M138 174.5h1.3M137 168.5h1.3M124 174.5h1.3M131 175.5h1.3M134 175.5h1.3M126 171.5h1.3M113 173.5h1.3M123 169.5h1.3M126 176.5h1.3M121 176.5h1.3M136 174.5h1.3M128 167.5h1.3M118 175.5h1.3M127 170.5h1.3M129 170.5h1.3M137 171.5h1.3M126 175.5h1.3M127 183.5h1.3M136 183.5h1.3M125 166.5h1.3M118 170.5h1.3M131 183.5h1.3M131 172.5h1.3M129 172.5h1.3M126 167.5h1.3M126 177.5h1.3M130 180.5h1.3M135 175.5h1.3M128 175.5h1.3M120 182.5h1.3M134 169.5h1.3M123 177.5h1.3M128 182.5h1.3M118 169.5h1.3M118 170.5h1.3M133 168.5h1.3M127 173.5h1.3M118 184.5h1.3M128 177.5h1.3M128 169.5h1.3M130 177.5h1.3M127 177.5h1.3M134 180.5h1.3M130 174.5h1.3M123 171.5h1.3M123 167.5h1.3M138 177.5h1.3M123 181.5h1.3M126 175.5h1.3M129 174.5h1.3M123 172.5h1.3M129 180.5h1.3M135 175.5h1.3M131 177.5h1.3M126 168.5h1.3M125 164.5h1.3M123 173.5h1.3M125 176.5h1.3M119 179.5h1.3M118 178.5h1.3M125 177.5h1.3M132 180.5h1.3M130 170.5h1.3M139 176.5h1.3M136 168.5h1.3M151 170.5h1.3M161 167.5h1.3M148 161.5h1.3M155 166.5h1.3M155 160.5h1.3M157 171.5h1.3M160 168.5h1.3M160 160.5h1.3M163 164.5h1.3M155 166.5h1.3M161 165.5h1.3M153 168.5h1.3M150 168.5h1.3M153 167.5h1.3M164 170.5h1.3M153 168.5h1.3M156 162.5h1.3M159 175.5h1.3M160 171.5h1.3M152 170.5h1.3M160 167.5h1.3M158 162.5h1.3M158 168.5h1.3M160 172.5h1.3M152 162.5h1.3M160 165.5h1.3M155 163.5h1.3M157 166.5h1.3M153 170.5h1.3M150 166.5h1.3M165 164.5h1.3M164 171.5h1.3M159 163.5h1.3M156 171.5h1.3M160 170.5h1.3M151 173.5h1.3M156 170.5h1.3M161 158.5h1.3M157 166.5h1.3M161 167.5h1.3M151 173.5h1.3M163 168.5h1.3M161 167.5h1.3M160 164.5h1.3M162 168.5h1.3M158 172.5h1.3M156 161.5h1.3M157 166.5h1.3M157 161.5h1.3M154 166.5h1.3M157 164.5h1.3M153 161.5h1.3M157 170.5h1.3M159 164.5h1.3M154 164.5h1.3M161 169.5h1.3M149 169.5h1.3M155 163.5h1.3M163 164.5h1.3M161 165.5h1.3M164 170.5h1.3M156 162.5h1.3M159 165.5h1.3M163 156.5h1.3M154 162.5h1.3M161 165.5h1.3M153 169.5h1.3M154 165.5h1.3M151 172.5h1.3M151 161.5h1.3M157 167.5h1.3M152 167.5h1.3M152 168.5h1.3M159 167.5h1.3M158 167.5h1.3M166 162.5h1.3M159 164.5h1.3M161 169.5h1.3M155 169.5h1.3M158 160.5h1.3M158 164.5h1.3M156 163.5h1.3M158 165.5h1.3M156 164.5h1.3M156 167.5h1.3M160 160.5h1.3M156 168.5h1.3M162 161.5h1.3M154 170.5h1.3M150 168.5h1.3M158 172.5h1.3M165 163.5h1.3M155 165.5h1.3M162 164.5h1.3M146 169.5h1.3M162 167.5h1.3M158 162.5h1.3M158 163.5h1.3M150 166.5h1.3M157 167.5h1.3M155 166.5h1.3M160 169.5h1.3M156 162.5h1.3M149 164.5h1.3M161 160.5h1.3M157 169.5h1.3M155 172.5h1.3M162 167.5h1.3M153 162.5h1.3M157 162.5h1.3M161 159.5h1.3M156 167.5h1.3M157 163.5h1.3M156 167.5h1.3M160 171.5h1.3M157 169.5h1.3M160 169.5h1.3M155 173.5h1.3M150 177.5h1.3M145 173.5h1.3M146 177.5h1.3M157 166.5h1.3M142 185.5h1.3M153 171.5h1.3M146 175.5h1.3M140 174.5h1.3M153 170.5h1.3M153 175.5h1.3M163 177.5h1.3M150 178.5h1.3M133 171.5h1.3M152 169.5h1.3M132 178.5h1.3M157 172.5h1.3M152 171.5h1.3M152 171.5h1.3M150 176.5h1.3M145 174.5h1.3M148 171.5h1.3M146 177.5h1.3M153 169.5h1.3M143 170.5h1.3M161 171.5h1.3M140 168.5h1.3M145 175.5h1.3M144 174.5h1.3M141 177.5h1.3M147 180.5h1.3M147 178.5h1.3M143 174.5h1.3M152 172.5h1.3M134 181.5h1.3M151 161.5h1.3M159 171.5h1.3M148 165.5h1.3M149 167.5h1.3M154 183.5h1.3M136 171.5h1.3M151 174.5h1.3M138 176.5h1.3M156 173.5h1.3M143 169.5h1.3M143 171.5h1.3M156 171.5h1.3M141 169.5h1.3M139 171.5h1.3M143 173.5h1.3M149 184.5h1.3M156 177.5h1.3M141 173.5h1.3M149 175.5h1.3M138 172.5h1.3M133 173.5h1.3M148 168.5h1.3M151 172.5h1.3M108 180.5h1.3M115 199.5h1.3M138 197.5h1.3M115 204.5h1.3M107 193.5h1.3M115 183.5h1.3M122 195.5h1.3M117 194.5h1.3M111 209.5h1.3M108 179.5h1.3M136 199.5h1.3M109 192.5h1.3M122 190.5h1.3M121 200.5h1.3M107 186.5h1.3M122 195.5h1.3M103 206.5h1.3M120 205.5h1.3M127 193.5h1.3M109 192.5h1.3M130 186.5h1.3M122 194.5h1.3M115 191.5h1.3M118 182.5h1.3M121 197.5h1.3M125 189.5h1.3M117 201.5h1.3M127 193.5h1.3M129 192.5h1.3M124 195.5h1.3M129 198.5h1.3M125 207.5h1.3M120 188.5h1.3M107 190.5h1.3M144 191.5h1.3M128 174.5h1.3M117 200.5h1.3M112 196.5h1.3M116 197.5h1.3M115 187.5h1.3M113 193.5h1.3M131 190.5h1.3M120 198.5h1.3M112 193.5h1.3M101 210.5h1.3M118 196.5h1.3M116 198.5h1.3M116 185.5h1.3M130 178.5h1.3M106 194.5h1.3M123 174.5h1.3M116 202.5h1.3M128 190.5h1.3M120 175.5h1.3M128 205.5h1.3M146 202.5h1.3M136 193.5h1.3M124 196.5h1.3M113 194.5h1.3M107 189.5h1.3M108 215.5h1.3M119 190.5h1.3M121 182.5h1.3M100 196.5h1.3M133 199.5h1.3M119 194.5h1.3M110 210.5h1.3M125 181.5h1.3M113 196.5h1.3M125 194.5h1.3M133 213.5h1.3M122 195.5h1.3M133 198.5h1.3M128 207.5h1.3M113 194.5h1.3M105 196.5h1.3M117 192.5h1.3M120 196.5h1.3M120 197.5h1.3M107 194.5h1.3M101 181.5h1.3M116 197.5h1.3M104 199.5h1.3M112 188.5h1.3M126 194.5h1.3M113 203.5h1.3M141 200.5h1.3M132 182.5h1.3M134 200.5h1.3M118 206.5h1.3M108 180.5h1.3M114 192.5h1.3M122 210.5h1.3M122 214.5h1.3M113 195.5h1.3M127 200.5h1.3M111 197.5h1.3M113 191.5h1.3M124 189.5h1.3M127 183.5h1.3M118 182.5h1.3M147 181.5h1.3M118 197.5h1.3M156 191.5h1.3M155 194.5h1.3M148 181.5h1.3M140 195.5h1.3M116 193.5h1.3M121 176.5h1.3M151 191.5h1.3M119 178.5h1.3M123 199.5h1.3M150 188.5h1.3M112 193.5h1.3M123 173.5h1.3M148 191.5h1.3M126 185.5h1.3M133 179.5h1.3M133 193.5h1.3M117 187.5h1.3M109 194.5h1.3M129 192.5h1.3"/>
</g></g>
<path d="M98.1 136.0H179.7V218.1" fill="none" stroke="#c8c8c8" stroke-width="1.4"/>
<path d="M98.1 136.0V218.1H179.7" fill="none" stroke="#b4b4b4" stroke-width="1.8"/>
<path d="M97.6 137.5h2.5M97.6 157.5h2.5M97.6 177.5h2.5M97.6 197.5h2.5M97.6 217.5h2.5M99.1 218.6v-2M119.1 218.6v-2M139.1 218.6v-2M159.1 218.6v-2M179.1 218.6v-2M105.1 218.6v-1.2M109.1 218.6v-1.2M112.1 218.6v-1.2M114.1 218.6v-1.2M116.1 218.6v-1.2M125.1 218.6v-1.2M129.1 218.6v-1.2M132.1 218.6v-1.2M134.1 218.6v-1.2M136.1 218.6v-1.2M145.1 218.6v-1.2M149.1 218.6v-1.2M152.1 218.6v-1.2M154.1 218.6v-1.2M156.1 218.6v-1.2M165.1 218.6v-1.2M169.1 218.6v-1.2M172.1 218.6v-1.2M174.1 218.6v-1.2M176.1 218.6v-1.2" stroke="#8a8a8a" stroke-width="1.1"/>
<rect x="133.1" y="156.0" width="37.1" height="32" fill="none" stroke="#111" stroke-width="1.9"/>
<text x="149.6" y="151.6" font-size="13.5" font-weight="bold" text-anchor="middle" fill="#111" stroke="#111" stroke-width="0.2" >34</text>
<g clip-path="url(#cp11)">
<ellipse cx="206.0" cy="170.0" rx="6" ry="4.5" transform="rotate(0 206.0 170.0)" fill="#000" fill-opacity="0.65" filter="url(#b1_5)"/>
<ellipse cx="220.0" cy="192.0" rx="7" ry="5" transform="rotate(0 220.0 192.0)" fill="#000" fill-opacity="0.45" filter="url(#b1_5)"/>
<ellipse cx="215.0" cy="182.0" rx="8" ry="10" transform="rotate(0 215.0 182.0)" fill="#000" fill-opacity="0.15" filter="url(#b3)"/>
<g filter="url(#bl)" stroke="#000" stroke-width="1.3" stroke-opacity="0.34">
<path d="M208 171.5h1.3M212 172.5h1.3M207 176.5h1.3M206 169.5h1.3M203 165.5h1.3M206 168.5h1.3M204 172.5h1.3M206 174.5h1.3M207 174.5h1.3M202 174.5h1.3M210 171.5h1.3M209 172.5h1.3M204 166.5h1.3M209 160.5h1.3M204 167.5h1.3M211 170.5h1.3M203 170.5h1.3M213 165.5h1.3M209 168.5h1.3M204 170.5h1.3M213 167.5h1.3M213 172.5h1.3M210 173.5h1.3M203 170.5h1.3M212 173.5h1.3M212 170.5h1.3M205 167.5h1.3M208 168.5h1.3M214 168.5h1.3M210 169.5h1.3M209 171.5h1.3M202 163.5h1.3M214 168.5h1.3M205 170.5h1.3M205 176.5h1.3M209 171.5h1.3M212 170.5h1.3M211 175.5h1.3M205 174.5h1.3M210 167.5h1.3M202 177.5h1.3M207 176.5h1.3M210 171.5h1.3M213 169.5h1.3M202 169.5h1.3M202 171.5h1.3M208 168.5h1.3M206 174.5h1.3M206 169.5h1.3M208 165.5h1.3M208 167.5h1.3M210 176.5h1.3M202 172.5h1.3M215 170.5h1.3M205 172.5h1.3M213 172.5h1.3M213 170.5h1.3M204 173.5h1.3M207 167.5h1.3M208 172.5h1.3M215 172.5h1.3M202 170.5h1.3M204 169.5h1.3M205 174.5h1.3M205 171.5h1.3M209 163.5h1.3M209 172.5h1.3M211 178.5h1.3M215 174.5h1.3M210 167.5h1.3M211 172.5h1.3M204 167.5h1.3M204 164.5h1.3M205 163.5h1.3M209 170.5h1.3M207 170.5h1.3M205 163.5h1.3M213 174.5h1.3M213 172.5h1.3M205 175.5h1.3M212 176.5h1.3M202 169.5h1.3M205 166.5h1.3M205 169.5h1.3M208 169.5h1.3M213 166.5h1.3M208 168.5h1.3M207 160.5h1.3M203 169.5h1.3M210 202.5h1.3M217 186.5h1.3M220 193.5h1.3M225 198.5h1.3M221 190.5h1.3M216 189.5h1.3M213 188.5h1.3M226 187.5h1.3M208 186.5h1.3M224 189.5h1.3M206 191.5h1.3M218 189.5h1.3M225 187.5h1.3M223 200.5h1.3M217 190.5h1.3M218 187.5h1.3M227 192.5h1.3M216 191.5h1.3M215 192.5h1.3M228 187.5h1.3M226 199.5h1.3M219 188.5h1.3M214 196.5h1.3M217 183.5h1.3M212 188.5h1.3M230 184.5h1.3M228 188.5h1.3M219 193.5h1.3M218 190.5h1.3M218 191.5h1.3M222 189.5h1.3M230 190.5h1.3M215 191.5h1.3M226 191.5h1.3M215 184.5h1.3M227 188.5h1.3M225 185.5h1.3M214 187.5h1.3M211 183.5h1.3M224 184.5h1.3M207 189.5h1.3M222 182.5h1.3M229 193.5h1.3M214 192.5h1.3M216 201.5h1.3M228 189.5h1.3M216 193.5h1.3M235 192.5h1.3M216 190.5h1.3M221 187.5h1.3M227 201.5h1.3M230 197.5h1.3M208 187.5h1.3M216 181.5h1.3M223 190.5h1.3M214 197.5h1.3M223 198.5h1.3M218 191.5h1.3M224 185.5h1.3M216 188.5h1.3M204 190.5h1.3M215 187.5h1.3M215 189.5h1.3M223 188.5h1.3M228 194.5h1.3M216 195.5h1.3M213 190.5h1.3M221 196.5h1.3M211 198.5h1.3M217 194.5h1.3M222 187.5h1.3M227 191.5h1.3M220 185.5h1.3M225 193.5h1.3M215 194.5h1.3M229 188.5h1.3M219 173.5h1.3M215 155.5h1.3M228 169.5h1.3M211 189.5h1.3M218 183.5h1.3M223 161.5h1.3M218 165.5h1.3M212 201.5h1.3M227 181.5h1.3M208 181.5h1.3M211 210.5h1.3M218 175.5h1.3M224 179.5h1.3M213 186.5h1.3M216 189.5h1.3M217 177.5h1.3M230 171.5h1.3M224 173.5h1.3M223 187.5h1.3M213 186.5h1.3M208 187.5h1.3M218 190.5h1.3M208 206.5h1.3M215 180.5h1.3M226 170.5h1.3M211 181.5h1.3M220 183.5h1.3M235 192.5h1.3M223 178.5h1.3M224 201.5h1.3M204 182.5h1.3M211 170.5h1.3M222 178.5h1.3M211 190.5h1.3M213 189.5h1.3M225 186.5h1.3M217 180.5h1.3M215 197.5h1.3M211 178.5h1.3M217 155.5h1.3M222 170.5h1.3M209 153.5h1.3M218 190.5h1.3M215 165.5h1.3M210 164.5h1.3M206 185.5h1.3M224 194.5h1.3M204 179.5h1.3M228 163.5h1.3M203 167.5h1.3M212 201.5h1.3M218 189.5h1.3M210 190.5h1.3M219 180.5h1.3M212 193.5h1.3M220 193.5h1.3M206 181.5h1.3M209 162.5h1.3M208 168.5h1.3M211 181.5h1.3M232 170.5h1.3M217 205.5h1.3M213 158.5h1.3M214 179.5h1.3M209 184.5h1.3M211 166.5h1.3M211 171.5h1.3M224 195.5h1.3M207 177.5h1.3M229 175.5h1.3M225 205.5h1.3M214 180.5h1.3M222 180.5h1.3M209 189.5h1.3M213 198.5h1.3M219 195.5h1.3M216 172.5h1.3M208 170.5h1.3M215 177.5h1.3M214 189.5h1.3M234 188.5h1.3M232 173.5h1.3M206 188.5h1.3M208 187.5h1.3M210 165.5h1.3M210 158.5h1.3M204 171.5h1.3M207 193.5h1.3M217 171.5h1.3M217 174.5h1.3M228 176.5h1.3M213 179.5h1.3M215 198.5h1.3M217 178.5h1.3M214 182.5h1.3M226 181.5h1.3M204 185.5h1.3M225 205.5h1.3M212 189.5h1.3M206 180.5h1.3M211 191.5h1.3M230 178.5h1.3M218 199.5h1.3M234 167.5h1.3M229 174.5h1.3M220 185.5h1.3M204 176.5h1.3M221 188.5h1.3M227 185.5h1.3M246 166.5h1.3M246 192.5h1.3M244 171.5h1.3M244 192.5h1.3M255 176.5h1.3M239 173.5h1.3M242 171.5h1.3M242 173.5h1.3M248 164.5h1.3M252 175.5h1.3M244 170.5h1.3M244 168.5h1.3"/>
<path d="M210 169.5h1.3M208 168.5h1.3M204 169.5h1.3M205 173.5h1.3M213 172.5h1.3M206 166.5h1.3M208 168.5h1.3M212 168.5h1.3M208 176.5h1.3M203 165.5h1.3M203 171.5h1.3M214 171.5h1.3M207 168.5h1.3M211 173.5h1.3M205 170.5h1.3M202 175.5h1.3M206 177.5h1.3M205 169.5h1.3M216 173.5h1.3M204 167.5h1.3M215 166.5h1.3M209 166.5h1.3M207 173.5h1.3M206 171.5h1.3M209 171.5h1.3M207 165.5h1.3M215 169.5h1.3M203 171.5h1.3M208 168.5h1.3M205 167.5h1.3M209 172.5h1.3M205 168.5h1.3M210 167.5h1.3M204 172.5h1.3M208 176.5h1.3M211 173.5h1.3M214 168.5h1.3M204 171.5h1.3M207 170.5h1.3M214 170.5h1.3M203 163.5h1.3M203 164.5h1.3M206 174.5h1.3M213 166.5h1.3M212 167.5h1.3M205 173.5h1.3M208 163.5h1.3M204 176.5h1.3M205 168.5h1.3M215 171.5h1.3M202 171.5h1.3M207 163.5h1.3M202 165.5h1.3M209 170.5h1.3M206 176.5h1.3M202 171.5h1.3M207 163.5h1.3M205 173.5h1.3M211 166.5h1.3M213 164.5h1.3M212 172.5h1.3M202 175.5h1.3M204 170.5h1.3M208 176.5h1.3M210 164.5h1.3M207 170.5h1.3M205 175.5h1.3M207 176.5h1.3M208 172.5h1.3M212 178.5h1.3M212 166.5h1.3M202 172.5h1.3M208 174.5h1.3M202 170.5h1.3M205 169.5h1.3M210 169.5h1.3M212 169.5h1.3M209 176.5h1.3M209 190.5h1.3M221 195.5h1.3M214 182.5h1.3M220 183.5h1.3M214 194.5h1.3M221 198.5h1.3M221 191.5h1.3M214 193.5h1.3M226 189.5h1.3M214 189.5h1.3M215 196.5h1.3M224 195.5h1.3M229 195.5h1.3M229 189.5h1.3M207 197.5h1.3M222 195.5h1.3M227 194.5h1.3M223 194.5h1.3M229 183.5h1.3M228 186.5h1.3M219 184.5h1.3M220 189.5h1.3M218 194.5h1.3M223 187.5h1.3M220 190.5h1.3M222 198.5h1.3M226 185.5h1.3M234 191.5h1.3M216 188.5h1.3M222 184.5h1.3M214 199.5h1.3M217 197.5h1.3M215 192.5h1.3M213 194.5h1.3M228 186.5h1.3M219 197.5h1.3M226 193.5h1.3M231 189.5h1.3M209 189.5h1.3M211 193.5h1.3M233 184.5h1.3M225 189.5h1.3M230 195.5h1.3M217 196.5h1.3M222 192.5h1.3M227 199.5h1.3M219 188.5h1.3M216 200.5h1.3M212 187.5h1.3M227 196.5h1.3M220 195.5h1.3M216 193.5h1.3M216 197.5h1.3M224 198.5h1.3M213 196.5h1.3M223 187.5h1.3M218 191.5h1.3M212 188.5h1.3M222 188.5h1.3M208 193.5h1.3M220 187.5h1.3M225 192.5h1.3M229 187.5h1.3M216 187.5h1.3M210 188.5h1.3M233 190.5h1.3M220 197.5h1.3M215 197.5h1.3M220 191.5h1.3M225 193.5h1.3M228 190.5h1.3M220 195.5h1.3M237 193.5h1.3M227 190.5h1.3M206 192.5h1.3M214 181.5h1.3M223 186.5h1.3M231 171.5h1.3M211 164.5h1.3M212 164.5h1.3M235 191.5h1.3M219 188.5h1.3M209 192.5h1.3M225 201.5h1.3M213 199.5h1.3M212 175.5h1.3M214 197.5h1.3M212 196.5h1.3M212 185.5h1.3M223 161.5h1.3M210 176.5h1.3M208 176.5h1.3M221 191.5h1.3M212 197.5h1.3M209 193.5h1.3M212 171.5h1.3M220 197.5h1.3M226 170.5h1.3M218 177.5h1.3M211 165.5h1.3M220 186.5h1.3M214 169.5h1.3M217 174.5h1.3M206 168.5h1.3M210 188.5h1.3M221 187.5h1.3M207 156.5h1.3M217 175.5h1.3M211 178.5h1.3M211 165.5h1.3M227 187.5h1.3M222 160.5h1.3M215 170.5h1.3M232 169.5h1.3M230 166.5h1.3M217 195.5h1.3M203 188.5h1.3M211 198.5h1.3M212 176.5h1.3M213 151.5h1.3M205 171.5h1.3M208 190.5h1.3M211 195.5h1.3M230 169.5h1.3M208 191.5h1.3M212 204.5h1.3M219 185.5h1.3M221 195.5h1.3M216 178.5h1.3M222 177.5h1.3M207 175.5h1.3M219 174.5h1.3M208 176.5h1.3M210 180.5h1.3M217 164.5h1.3M238 191.5h1.3M224 194.5h1.3M219 183.5h1.3M204 180.5h1.3M225 176.5h1.3M213 208.5h1.3M218 179.5h1.3M209 175.5h1.3M207 197.5h1.3M215 171.5h1.3M207 192.5h1.3M206 172.5h1.3M216 180.5h1.3M214 176.5h1.3M212 183.5h1.3M206 175.5h1.3M202 183.5h1.3M213 190.5h1.3M227 197.5h1.3M211 185.5h1.3M223 182.5h1.3M214 173.5h1.3M209 184.5h1.3M210 178.5h1.3M210 163.5h1.3M230 187.5h1.3M211 173.5h1.3M222 170.5h1.3M217 176.5h1.3M227 172.5h1.3M221 194.5h1.3M215 179.5h1.3M223 182.5h1.3M222 183.5h1.3M230 189.5h1.3M208 197.5h1.3M213 195.5h1.3M231 185.5h1.3M218 191.5h1.3M214 191.5h1.3M215 171.5h1.3M235 169.5h1.3M203 195.5h1.3M227 163.5h1.3M204 170.5h1.3M211 169.5h1.3M210 155.5h1.3M213 184.5h1.3M246 189.5h1.3M254 175.5h1.3M250 175.5h1.3M258 180.5h1.3M250 174.5h1.3M236 181.5h1.3M247 169.5h1.3M245 169.5h1.3M241 170.5h1.3M253 169.5h1.3M248 174.5h1.3M246 178.5h1.3"/>
<path d="M214 164.5h1.3M207 165.5h1.3M211 169.5h1.3M209 168.5h1.3M209 170.5h1.3M214 168.5h1.3M204 171.5h1.3M210 173.5h1.3M211 172.5h1.3M202 175.5h1.3M215 171.5h1.3M206 163.5h1.3M207 163.5h1.3M206 171.5h1.3M207 172.5h1.3M212 170.5h1.3M210 174.5h1.3M209 171.5h1.3M205 166.5h1.3M207 169.5h1.3M204 170.5h1.3M204 173.5h1.3M203 171.5h1.3M215 173.5h1.3M206 171.5h1.3M204 170.5h1.3M207 164.5h1.3M211 170.5h1.3M207 174.5h1.3M204 173.5h1.3M206 172.5h1.3M205 170.5h1.3M206 171.5h1.3M208 168.5h1.3M202 167.5h1.3M206 160.5h1.3M208 164.5h1.3M205 175.5h1.3M207 168.5h1.3M202 168.5h1.3M203 174.5h1.3M206 173.5h1.3M203 175.5h1.3M207 163.5h1.3M206 163.5h1.3M213 168.5h1.3M205 169.5h1.3M203 174.5h1.3M205 171.5h1.3M205 175.5h1.3M204 170.5h1.3M214 170.5h1.3M207 165.5h1.3M205 173.5h1.3M203 175.5h1.3M213 173.5h1.3M207 169.5h1.3M205 169.5h1.3M211 175.5h1.3M212 174.5h1.3M211 167.5h1.3M212 164.5h1.3M208 174.5h1.3M210 173.5h1.3M207 170.5h1.3M211 170.5h1.3M208 171.5h1.3M205 164.5h1.3M205 174.5h1.3M205 174.5h1.3M217 169.5h1.3M214 165.5h1.3M209 176.5h1.3M207 167.5h1.3M213 177.5h1.3M213 166.5h1.3M202 171.5h1.3M209 165.5h1.3M204 166.5h1.3M206 170.5h1.3M208 169.5h1.3M208 171.5h1.3M229 192.5h1.3M220 191.5h1.3M230 182.5h1.3M230 188.5h1.3M215 198.5h1.3M217 189.5h1.3M226 192.5h1.3M226 194.5h1.3M226 191.5h1.3M228 181.5h1.3M207 193.5h1.3M220 197.5h1.3M232 195.5h1.3M225 197.5h1.3M211 182.5h1.3M220 196.5h1.3M216 192.5h1.3M226 186.5h1.3M226 201.5h1.3M214 180.5h1.3M220 194.5h1.3M211 188.5h1.3M217 196.5h1.3M213 199.5h1.3M221 190.5h1.3M224 198.5h1.3M218 191.5h1.3M225 198.5h1.3M232 185.5h1.3M217 183.5h1.3M219 189.5h1.3M219 189.5h1.3M221 191.5h1.3M219 195.5h1.3M227 197.5h1.3M217 188.5h1.3M217 203.5h1.3M232 191.5h1.3M215 195.5h1.3M217 188.5h1.3M219 191.5h1.3M227 191.5h1.3M213 185.5h1.3M207 193.5h1.3M221 192.5h1.3M225 194.5h1.3M220 196.5h1.3M221 182.5h1.3M222 192.5h1.3M218 195.5h1.3M230 182.5h1.3M232 188.5h1.3M212 196.5h1.3M220 192.5h1.3M215 194.5h1.3M216 198.5h1.3M222 191.5h1.3M215 186.5h1.3M224 188.5h1.3M219 190.5h1.3M212 186.5h1.3M229 190.5h1.3M223 194.5h1.3M215 187.5h1.3M222 192.5h1.3M221 184.5h1.3M230 195.5h1.3M221 189.5h1.3M214 190.5h1.3M214 192.5h1.3M213 186.5h1.3M221 198.5h1.3M220 194.5h1.3M222 190.5h1.3M215 186.5h1.3M230 193.5h1.3M218 190.5h1.3M212 159.5h1.3M221 208.5h1.3M216 178.5h1.3M208 187.5h1.3M223 190.5h1.3M226 200.5h1.3M217 176.5h1.3M215 201.5h1.3M212 191.5h1.3M206 194.5h1.3M205 181.5h1.3M214 184.5h1.3M203 186.5h1.3M207 189.5h1.3M231 174.5h1.3M221 181.5h1.3M202 198.5h1.3M217 175.5h1.3M212 180.5h1.3M207 189.5h1.3M211 173.5h1.3M227 174.5h1.3M227 178.5h1.3M218 190.5h1.3M212 207.5h1.3M205 174.5h1.3M214 170.5h1.3M212 177.5h1.3M215 190.5h1.3M202 190.5h1.3M225 179.5h1.3M210 188.5h1.3M213 170.5h1.3M211 150.5h1.3M203 184.5h1.3M222 193.5h1.3M215 164.5h1.3M217 167.5h1.3M213 190.5h1.3M216 165.5h1.3M205 175.5h1.3M208 153.5h1.3M209 186.5h1.3M215 194.5h1.3M204 191.5h1.3M229 175.5h1.3M216 171.5h1.3M204 195.5h1.3M219 185.5h1.3M209 183.5h1.3M204 188.5h1.3M205 197.5h1.3M229 178.5h1.3M213 173.5h1.3M226 193.5h1.3M212 187.5h1.3M214 194.5h1.3M214 204.5h1.3M215 173.5h1.3M231 185.5h1.3M226 181.5h1.3M212 163.5h1.3M212 156.5h1.3M217 177.5h1.3M221 183.5h1.3M211 200.5h1.3M208 162.5h1.3M218 167.5h1.3M204 183.5h1.3M217 163.5h1.3M209 166.5h1.3M224 170.5h1.3M224 168.5h1.3M207 184.5h1.3M216 171.5h1.3M226 173.5h1.3M221 199.5h1.3M221 188.5h1.3M224 170.5h1.3M215 195.5h1.3M232 177.5h1.3M220 178.5h1.3M212 170.5h1.3M215 206.5h1.3M206 187.5h1.3M216 194.5h1.3M219 185.5h1.3M213 167.5h1.3M215 167.5h1.3M217 179.5h1.3M210 185.5h1.3M214 178.5h1.3M209 172.5h1.3M208 200.5h1.3M202 185.5h1.3M211 185.5h1.3M224 162.5h1.3M210 183.5h1.3M208 173.5h1.3M224 180.5h1.3M207 194.5h1.3M206 179.5h1.3M223 193.5h1.3M244 170.5h1.3M245 177.5h1.3M251 170.5h1.3M253 160.5h1.3M232 178.5h1.3M249 191.5h1.3M240 172.5h1.3M237 159.5h1.3M250 182.5h1.3M238 173.5h1.3M242 192.5h1.3"/>
<path d="M203 167.5h1.3M205 168.5h1.3M209 175.5h1.3M213 170.5h1.3M205 176.5h1.3M205 169.5h1.3M203 169.5h1.3M204 169.5h1.3M205 170.5h1.3M210 162.5h1.3M202 169.5h1.3M210 167.5h1.3M209 173.5h1.3M213 171.5h1.3M210 168.5h1.3M206 162.5h1.3M205 170.5h1.3M205 166.5h1.3M208 163.5h1.3M209 170.5h1.3M205 169.5h1.3M209 171.5h1.3M214 169.5h1.3M205 162.5h1.3M205 168.5h1.3M215 167.5h1.3M202 172.5h1.3M205 169.5h1.3M217 171.5h1.3M214 166.5h1.3M210 172.5h1.3M207 172.5h1.3M208 168.5h1.3M209 172.5h1.3M204 173.5h1.3M203 168.5h1.3M208 166.5h1.3M205 172.5h1.3M210 170.5h1.3M206 161.5h1.3M211 170.5h1.3M215 172.5h1.3M211 172.5h1.3M216 169.5h1.3M203 168.5h1.3M208 173.5h1.3M203 167.5h1.3M212 169.5h1.3M210 166.5h1.3M211 172.5h1.3M211 167.5h1.3M207 170.5h1.3M202 167.5h1.3M214 171.5h1.3M208 169.5h1.3M204 170.5h1.3M205 169.5h1.3M209 169.5h1.3M209 164.5h1.3M205 167.5h1.3M206 169.5h1.3M204 171.5h1.3M205 166.5h1.3M211 169.5h1.3M203 173.5h1.3M208 167.5h1.3M216 174.5h1.3M205 165.5h1.3M203 174.5h1.3M204 172.5h1.3M207 171.5h1.3M210 169.5h1.3M202 169.5h1.3M207 167.5h1.3M210 172.5h1.3M206 164.5h1.3M212 174.5h1.3M202 173.5h1.3M205 167.5h1.3M207 176.5h1.3M213 172.5h1.3M204 173.5h1.3M206 192.5h1.3M211 185.5h1.3M224 196.5h1.3M216 197.5h1.3M207 186.5h1.3M229 191.5h1.3M223 187.5h1.3M228 192.5h1.3M219 194.5h1.3M225 189.5h1.3M213 189.5h1.3M218 185.5h1.3M212 194.5h1.3M221 197.5h1.3M222 181.5h1.3M221 185.5h1.3M227 189.5h1.3M226 186.5h1.3M227 188.5h1.3M215 190.5h1.3M213 190.5h1.3M230 191.5h1.3M219 193.5h1.3M219 186.5h1.3M220 192.5h1.3M220 203.5h1.3M228 187.5h1.3M230 198.5h1.3M224 185.5h1.3M216 192.5h1.3M230 190.5h1.3M218 190.5h1.3M215 193.5h1.3M232 199.5h1.3M213 194.5h1.3M209 194.5h1.3M213 186.5h1.3M217 190.5h1.3M217 189.5h1.3M225 186.5h1.3M221 191.5h1.3M211 190.5h1.3M214 200.5h1.3M221 197.5h1.3M217 195.5h1.3M220 184.5h1.3M212 189.5h1.3M216 182.5h1.3M221 191.5h1.3M223 189.5h1.3M235 195.5h1.3M221 189.5h1.3M217 188.5h1.3M224 193.5h1.3M215 195.5h1.3M226 192.5h1.3M218 194.5h1.3M218 191.5h1.3M222 188.5h1.3M214 201.5h1.3M216 197.5h1.3M218 194.5h1.3M209 197.5h1.3M222 197.5h1.3M211 191.5h1.3M225 184.5h1.3M209 186.5h1.3M214 181.5h1.3M222 194.5h1.3M221 186.5h1.3M228 186.5h1.3M225 192.5h1.3M208 199.5h1.3M215 186.5h1.3M222 193.5h1.3M214 165.5h1.3M220 178.5h1.3M238 187.5h1.3M210 173.5h1.3M205 178.5h1.3M222 196.5h1.3M209 185.5h1.3M209 165.5h1.3M213 167.5h1.3M218 182.5h1.3M221 187.5h1.3M207 160.5h1.3M210 193.5h1.3M233 190.5h1.3M226 178.5h1.3M221 178.5h1.3M211 167.5h1.3M227 187.5h1.3M229 197.5h1.3M216 188.5h1.3M213 194.5h1.3M221 178.5h1.3M227 184.5h1.3M211 170.5h1.3M212 192.5h1.3M232 193.5h1.3M217 191.5h1.3M211 179.5h1.3M227 165.5h1.3M224 205.5h1.3M226 182.5h1.3M221 175.5h1.3M215 206.5h1.3M218 189.5h1.3M213 177.5h1.3M221 199.5h1.3M212 169.5h1.3M207 189.5h1.3M211 172.5h1.3M212 176.5h1.3M219 179.5h1.3M219 164.5h1.3M237 172.5h1.3M220 165.5h1.3M204 191.5h1.3M215 185.5h1.3M223 171.5h1.3M214 178.5h1.3M209 159.5h1.3M229 174.5h1.3M208 194.5h1.3M214 160.5h1.3M219 174.5h1.3M219 184.5h1.3M212 170.5h1.3M224 172.5h1.3M228 171.5h1.3M217 185.5h1.3M207 191.5h1.3M214 200.5h1.3M214 161.5h1.3M212 164.5h1.3M206 187.5h1.3M222 171.5h1.3M224 194.5h1.3M204 190.5h1.3M222 186.5h1.3M212 172.5h1.3M235 164.5h1.3M223 178.5h1.3M220 190.5h1.3M219 164.5h1.3M205 187.5h1.3M213 185.5h1.3M220 175.5h1.3M212 174.5h1.3M202 166.5h1.3M214 181.5h1.3M218 168.5h1.3M219 164.5h1.3M203 190.5h1.3M211 179.5h1.3M212 179.5h1.3M219 166.5h1.3M206 175.5h1.3M217 178.5h1.3M216 191.5h1.3M219 186.5h1.3M218 168.5h1.3M208 189.5h1.3M219 176.5h1.3M223 186.5h1.3M218 186.5h1.3M220 192.5h1.3M218 168.5h1.3M213 201.5h1.3M220 182.5h1.3M228 188.5h1.3M211 164.5h1.3M212 193.5h1.3M214 190.5h1.3M217 180.5h1.3M227 175.5h1.3M209 183.5h1.3M218 177.5h1.3M206 179.5h1.3M221 176.5h1.3M246 170.5h1.3M259 184.5h1.3M240 170.5h1.3M244 173.5h1.3M252 163.5h1.3M251 170.5h1.3M246 166.5h1.3M233 165.5h1.3M250 179.5h1.3M250 189.5h1.3M242 171.5h1.3"/>
<path d="M206 164.5h1.3M206 172.5h1.3M214 165.5h1.3M207 167.5h1.3M205 168.5h1.3M209 171.5h1.3M212 170.5h1.3M208 172.5h1.3M204 171.5h1.3M205 165.5h1.3M208 168.5h1.3M215 171.5h1.3M207 165.5h1.3M202 173.5h1.3M205 177.5h1.3M202 165.5h1.3M205 169.5h1.3M212 170.5h1.3M207 169.5h1.3M209 177.5h1.3M211 169.5h1.3M207 170.5h1.3M211 173.5h1.3M213 174.5h1.3M208 163.5h1.3M205 168.5h1.3M218 172.5h1.3M205 170.5h1.3M210 162.5h1.3M205 168.5h1.3M208 166.5h1.3M203 178.5h1.3M208 163.5h1.3M204 171.5h1.3M206 170.5h1.3M211 162.5h1.3M211 168.5h1.3M205 172.5h1.3M202 170.5h1.3M212 169.5h1.3M209 179.5h1.3M212 171.5h1.3M207 168.5h1.3M208 170.5h1.3M208 166.5h1.3M205 166.5h1.3M204 164.5h1.3M207 175.5h1.3M202 165.5h1.3M208 165.5h1.3M208 167.5h1.3M211 165.5h1.3M208 169.5h1.3M212 172.5h1.3M210 168.5h1.3M207 161.5h1.3M203 167.5h1.3M211 172.5h1.3M205 167.5h1.3M208 171.5h1.3M208 172.5h1.3M205 170.5h1.3M211 162.5h1.3M212 172.5h1.3M214 170.5h1.3M205 165.5h1.3M207 169.5h1.3M204 169.5h1.3M208 178.5h1.3M206 167.5h1.3M210 168.5h1.3M203 173.5h1.3M208 172.5h1.3M218 170.5h1.3M214 169.5h1.3M209 163.5h1.3M206 171.5h1.3M206 169.5h1.3M208 171.5h1.3M212 171.5h1.3M209 174.5h1.3M206 165.5h1.3M204 163.5h1.3M220 198.5h1.3M222 199.5h1.3M229 191.5h1.3M226 194.5h1.3M221 183.5h1.3M226 192.5h1.3M208 197.5h1.3M219 192.5h1.3M228 190.5h1.3M225 192.5h1.3M218 192.5h1.3M208 196.5h1.3M221 184.5h1.3M224 189.5h1.3M218 195.5h1.3M216 191.5h1.3M215 198.5h1.3M213 189.5h1.3M219 192.5h1.3M226 184.5h1.3M220 203.5h1.3M222 195.5h1.3M224 181.5h1.3M211 193.5h1.3M225 198.5h1.3M224 183.5h1.3M222 197.5h1.3M216 193.5h1.3M222 187.5h1.3M218 200.5h1.3M225 186.5h1.3M216 197.5h1.3M211 190.5h1.3M220 186.5h1.3M219 184.5h1.3M215 187.5h1.3M215 191.5h1.3M223 196.5h1.3M218 184.5h1.3M211 194.5h1.3M225 188.5h1.3M225 197.5h1.3M228 187.5h1.3M223 193.5h1.3M220 187.5h1.3M213 191.5h1.3M220 186.5h1.3M218 199.5h1.3M210 194.5h1.3M222 188.5h1.3M212 192.5h1.3M216 191.5h1.3M208 192.5h1.3M224 196.5h1.3M229 187.5h1.3M222 197.5h1.3M217 190.5h1.3M219 190.5h1.3M219 194.5h1.3M218 193.5h1.3M221 189.5h1.3M221 192.5h1.3M222 194.5h1.3M219 197.5h1.3M210 190.5h1.3M218 196.5h1.3M225 185.5h1.3M218 194.5h1.3M216 189.5h1.3M220 192.5h1.3M222 194.5h1.3M222 190.5h1.3M209 195.5h1.3M223 200.5h1.3M222 198.5h1.3M216 162.5h1.3M217 173.5h1.3M229 202.5h1.3M224 175.5h1.3M228 179.5h1.3M218 210.5h1.3M205 165.5h1.3M228 196.5h1.3M214 190.5h1.3M211 179.5h1.3M215 169.5h1.3M227 173.5h1.3M220 175.5h1.3M225 182.5h1.3M203 158.5h1.3M214 196.5h1.3M223 191.5h1.3M222 157.5h1.3M222 190.5h1.3M203 184.5h1.3M227 190.5h1.3M216 206.5h1.3M207 171.5h1.3M228 181.5h1.3M228 190.5h1.3M207 176.5h1.3M223 166.5h1.3M205 177.5h1.3M216 184.5h1.3M226 177.5h1.3M209 165.5h1.3M218 182.5h1.3M217 184.5h1.3M203 190.5h1.3M206 176.5h1.3M224 203.5h1.3M217 200.5h1.3M204 178.5h1.3M223 194.5h1.3M228 182.5h1.3M206 185.5h1.3M212 173.5h1.3M229 185.5h1.3M212 186.5h1.3M209 175.5h1.3M218 175.5h1.3M227 179.5h1.3M214 189.5h1.3M222 166.5h1.3M222 182.5h1.3M216 193.5h1.3M210 191.5h1.3M222 164.5h1.3M222 178.5h1.3M234 186.5h1.3M220 204.5h1.3M212 188.5h1.3M221 193.5h1.3M213 181.5h1.3M217 180.5h1.3M227 187.5h1.3M228 168.5h1.3M211 173.5h1.3M203 190.5h1.3M208 195.5h1.3M226 186.5h1.3M226 191.5h1.3M219 192.5h1.3M217 157.5h1.3M224 176.5h1.3M218 204.5h1.3M221 178.5h1.3M228 190.5h1.3M222 204.5h1.3M208 190.5h1.3M221 201.5h1.3M204 184.5h1.3M229 179.5h1.3M217 212.5h1.3M212 176.5h1.3M217 176.5h1.3M225 190.5h1.3M202 180.5h1.3M223 188.5h1.3M215 179.5h1.3M229 182.5h1.3M214 171.5h1.3M215 198.5h1.3M213 202.5h1.3M204 196.5h1.3M218 174.5h1.3M204 178.5h1.3M213 180.5h1.3M215 203.5h1.3M211 167.5h1.3M216 169.5h1.3M212 178.5h1.3M234 184.5h1.3M225 155.5h1.3M207 181.5h1.3M205 168.5h1.3M211 179.5h1.3M232 201.5h1.3M204 187.5h1.3M202 171.5h1.3M212 182.5h1.3M217 171.5h1.3M230 187.5h1.3M203 197.5h1.3M218 181.5h1.3M239 181.5h1.3M249 162.5h1.3M240 184.5h1.3M244 176.5h1.3M246 159.5h1.3M262 179.5h1.3M232 171.5h1.3M236 172.5h1.3M240 169.5h1.3M254 179.5h1.3M245 166.5h1.3M237 169.5h1.3"/>
<path d="M203 168.5h1.3M210 165.5h1.3M210 171.5h1.3M207 162.5h1.3M204 175.5h1.3M206 170.5h1.3M206 166.5h1.3M203 168.5h1.3M208 172.5h1.3M207 165.5h1.3M204 169.5h1.3M210 174.5h1.3M211 163.5h1.3M203 174.5h1.3M211 169.5h1.3M204 178.5h1.3M212 166.5h1.3M208 168.5h1.3M202 168.5h1.3M204 171.5h1.3M206 172.5h1.3M204 164.5h1.3M204 174.5h1.3M204 168.5h1.3M206 165.5h1.3M202 172.5h1.3M208 167.5h1.3M210 172.5h1.3M203 170.5h1.3M211 173.5h1.3M213 169.5h1.3M206 164.5h1.3M202 172.5h1.3M208 165.5h1.3M213 165.5h1.3M203 174.5h1.3M209 168.5h1.3M208 173.5h1.3M217 166.5h1.3M218 170.5h1.3M208 177.5h1.3M210 173.5h1.3M209 167.5h1.3M211 169.5h1.3M202 176.5h1.3M202 173.5h1.3M207 166.5h1.3M203 167.5h1.3M211 169.5h1.3M203 173.5h1.3M209 165.5h1.3M209 169.5h1.3M203 174.5h1.3M212 161.5h1.3M210 171.5h1.3M205 168.5h1.3M202 169.5h1.3M203 161.5h1.3M206 172.5h1.3M204 176.5h1.3M206 168.5h1.3M211 165.5h1.3M207 169.5h1.3M209 174.5h1.3M202 167.5h1.3M207 161.5h1.3M210 172.5h1.3M208 174.5h1.3M211 168.5h1.3M205 174.5h1.3M211 172.5h1.3M208 168.5h1.3M216 167.5h1.3M206 178.5h1.3M202 171.5h1.3M205 171.5h1.3M203 172.5h1.3M211 169.5h1.3M208 169.5h1.3M205 168.5h1.3M205 174.5h1.3M204 165.5h1.3M214 184.5h1.3M213 181.5h1.3M227 190.5h1.3M216 195.5h1.3M233 184.5h1.3M216 188.5h1.3M233 190.5h1.3M214 190.5h1.3M222 202.5h1.3M209 189.5h1.3M219 187.5h1.3M217 194.5h1.3M226 190.5h1.3M230 190.5h1.3M222 193.5h1.3M214 190.5h1.3M226 195.5h1.3M216 197.5h1.3M215 186.5h1.3M220 197.5h1.3M215 188.5h1.3M222 187.5h1.3M227 198.5h1.3M222 194.5h1.3M220 181.5h1.3M225 190.5h1.3M207 199.5h1.3M210 185.5h1.3M228 198.5h1.3M224 189.5h1.3M217 196.5h1.3M232 187.5h1.3M219 192.5h1.3M222 191.5h1.3M216 192.5h1.3M217 188.5h1.3M225 191.5h1.3M217 194.5h1.3M211 201.5h1.3M213 192.5h1.3M213 192.5h1.3M219 195.5h1.3M220 202.5h1.3M213 193.5h1.3M226 195.5h1.3M227 194.5h1.3M213 194.5h1.3M227 190.5h1.3M220 196.5h1.3M229 189.5h1.3M235 192.5h1.3M205 188.5h1.3M219 196.5h1.3M224 183.5h1.3M215 196.5h1.3M216 193.5h1.3M222 192.5h1.3M216 196.5h1.3M225 185.5h1.3M213 191.5h1.3M217 196.5h1.3M213 188.5h1.3M221 197.5h1.3M228 195.5h1.3M224 193.5h1.3M218 184.5h1.3M229 196.5h1.3M217 189.5h1.3M225 199.5h1.3M215 200.5h1.3M216 195.5h1.3M225 188.5h1.3M217 195.5h1.3M214 189.5h1.3M210 197.5h1.3M207 176.5h1.3M203 174.5h1.3M220 197.5h1.3M225 189.5h1.3M218 182.5h1.3M226 169.5h1.3M211 171.5h1.3M227 164.5h1.3M225 172.5h1.3M224 178.5h1.3M223 193.5h1.3M232 182.5h1.3M232 195.5h1.3M214 181.5h1.3M225 168.5h1.3M217 177.5h1.3M225 162.5h1.3M213 202.5h1.3M216 190.5h1.3M215 180.5h1.3M214 181.5h1.3M226 169.5h1.3M214 197.5h1.3M217 201.5h1.3M212 189.5h1.3M237 176.5h1.3M233 184.5h1.3M213 183.5h1.3M214 173.5h1.3M217 173.5h1.3M223 185.5h1.3M216 171.5h1.3M216 179.5h1.3M227 160.5h1.3M218 191.5h1.3M217 193.5h1.3M216 198.5h1.3M223 183.5h1.3M217 183.5h1.3M223 173.5h1.3M210 211.5h1.3M209 191.5h1.3M211 195.5h1.3M212 161.5h1.3M225 191.5h1.3M221 183.5h1.3M223 191.5h1.3M229 182.5h1.3M223 194.5h1.3M206 181.5h1.3M206 178.5h1.3M232 183.5h1.3M218 188.5h1.3M230 174.5h1.3M205 189.5h1.3M221 172.5h1.3M219 183.5h1.3M221 178.5h1.3M205 174.5h1.3M205 178.5h1.3M211 179.5h1.3M210 173.5h1.3M207 194.5h1.3M202 176.5h1.3M208 195.5h1.3M209 153.5h1.3M202 170.5h1.3M207 175.5h1.3M209 165.5h1.3M213 168.5h1.3M231 200.5h1.3M216 170.5h1.3M210 183.5h1.3M216 185.5h1.3M233 173.5h1.3M220 186.5h1.3M211 182.5h1.3M222 191.5h1.3M224 182.5h1.3M216 173.5h1.3M229 182.5h1.3M208 182.5h1.3M213 206.5h1.3M230 158.5h1.3M206 182.5h1.3M219 176.5h1.3M229 185.5h1.3M217 181.5h1.3M216 182.5h1.3M203 163.5h1.3M208 192.5h1.3M224 183.5h1.3M224 194.5h1.3M212 198.5h1.3M206 178.5h1.3M205 181.5h1.3M216 209.5h1.3M213 180.5h1.3M227 190.5h1.3M228 180.5h1.3M204 178.5h1.3M217 182.5h1.3M215 202.5h1.3M219 173.5h1.3M208 184.5h1.3M206 190.5h1.3M225 187.5h1.3M253 166.5h1.3M251 168.5h1.3M245 175.5h1.3M258 175.5h1.3M248 187.5h1.3M249 184.5h1.3M244 173.5h1.3M246 183.5h1.3M233 175.5h1.3M247 177.5h1.3M234 167.5h1.3M248 160.5h1.3"/>
</g></g>
<path d="M200.0 136.0H281.6V218.1" fill="none" stroke="#c8c8c8" stroke-width="1.4"/>
<path d="M200.0 136.0V218.1H281.6" fill="none" stroke="#b4b4b4" stroke-width="1.8"/>
<path d="M199.5 137.5h2.5M199.5 157.5h2.5M199.5 177.5h2.5M199.5 197.5h2.5M199.5 217.5h2.5M201.0 218.6v-2M221.0 218.6v-2M241.0 218.6v-2M261.0 218.6v-2M281.0 218.6v-2M207.0 218.6v-1.2M211.0 218.6v-1.2M214.0 218.6v-1.2M216.0 218.6v-1.2M218.0 218.6v-1.2M227.0 218.6v-1.2M231.0 218.6v-1.2M234.0 218.6v-1.2M236.0 218.6v-1.2M238.0 218.6v-1.2M247.0 218.6v-1.2M251.0 218.6v-1.2M254.0 218.6v-1.2M256.0 218.6v-1.2M258.0 218.6v-1.2M267.0 218.6v-1.2M271.0 218.6v-1.2M274.0 218.6v-1.2M276.0 218.6v-1.2M278.0 218.6v-1.2" stroke="#8a8a8a" stroke-width="1.1"/>
<rect x="235.0" y="156.0" width="37.1" height="32" fill="none" stroke="#111" stroke-width="1.9"/>
<text x="256.3" y="151.6" font-size="13.5" font-weight="bold" text-anchor="middle" fill="#111" stroke="#111" stroke-width="0.2" >3</text>
<g clip-path="url(#cp12)">
<ellipse cx="332.0" cy="180.0" rx="15" ry="4.2" transform="rotate(0 332.0 180.0)" fill="#000" fill-opacity="0.7" filter="url(#b1_2)"/>
<ellipse cx="352.0" cy="178.0" rx="10" ry="3" transform="rotate(0 352.0 178.0)" fill="#000" fill-opacity="0.3" filter="url(#b1_5)"/>
<ellipse cx="320.0" cy="196.0" rx="8" ry="8" transform="rotate(40 320.0 196.0)" fill="#000" fill-opacity="0.12" filter="url(#b3)"/>
<g filter="url(#bl)" stroke="#000" stroke-width="1.3" stroke-opacity="0.34">
<path d="M333 183.5h1.3M324 185.5h1.3M351 181.5h1.3M326 183.5h1.3M331 180.5h1.3M347 178.5h1.3M336 176.5h1.3M351 180.5h1.3M349 175.5h1.3M342 180.5h1.3M315 175.5h1.3M335 178.5h1.3M318 185.5h1.3M337 177.5h1.3M340 174.5h1.3M326 175.5h1.3M349 181.5h1.3M347 184.5h1.3M310 178.5h1.3M332 177.5h1.3M330 182.5h1.3M343 173.5h1.3M332 179.5h1.3M333 182.5h1.3M348 181.5h1.3M333 179.5h1.3M319 179.5h1.3M344 171.5h1.3M349 181.5h1.3M339 180.5h1.3M333 174.5h1.3M360 184.5h1.3M342 178.5h1.3M337 180.5h1.3M340 176.5h1.3M330 181.5h1.3M327 181.5h1.3M320 177.5h1.3M334 173.5h1.3M336 177.5h1.3M349 177.5h1.3M356 182.5h1.3M345 177.5h1.3M320 171.5h1.3M332 170.5h1.3M351 181.5h1.3M329 177.5h1.3M321 184.5h1.3M340 183.5h1.3M325 177.5h1.3M331 181.5h1.3M325 177.5h1.3M336 173.5h1.3M325 175.5h1.3M354 184.5h1.3M320 183.5h1.3M350 180.5h1.3M327 176.5h1.3M339 180.5h1.3M340 174.5h1.3M332 178.5h1.3M346 181.5h1.3M348 180.5h1.3M324 180.5h1.3M333 170.5h1.3M325 179.5h1.3M329 173.5h1.3M320 179.5h1.3M336 180.5h1.3M342 174.5h1.3M326 181.5h1.3M323 174.5h1.3M345 178.5h1.3M337 184.5h1.3M335 187.5h1.3M359 177.5h1.3M320 175.5h1.3M315 172.5h1.3M344 180.5h1.3M330 185.5h1.3M320 179.5h1.3M323 174.5h1.3M337 187.5h1.3M333 179.5h1.3M315 181.5h1.3M340 180.5h1.3M337 180.5h1.3M320 178.5h1.3M324 182.5h1.3M349 181.5h1.3M321 181.5h1.3M314 177.5h1.3M337 180.5h1.3M359 176.5h1.3M317 175.5h1.3M326 175.5h1.3M325 179.5h1.3M331 174.5h1.3M341 177.5h1.3M345 182.5h1.3M337 175.5h1.3M342 183.5h1.3M344 173.5h1.3M336 181.5h1.3M351 180.5h1.3M344 180.5h1.3M333 177.5h1.3M350 175.5h1.3M345 178.5h1.3M344 185.5h1.3M323 180.5h1.3M335 178.5h1.3M329 179.5h1.3M340 186.5h1.3M318 173.5h1.3M335 180.5h1.3M344 187.5h1.3M331 175.5h1.3M329 183.5h1.3M328 184.5h1.3M338 176.5h1.3M322 183.5h1.3M325 179.5h1.3M351 180.5h1.3M353 178.5h1.3M348 177.5h1.3M337 178.5h1.3M357 179.5h1.3M328 173.5h1.3M332 181.5h1.3M328 180.5h1.3M355 177.5h1.3M349 183.5h1.3M330 187.5h1.3M336 175.5h1.3M321 180.5h1.3M333 187.5h1.3M316 184.5h1.3M340 179.5h1.3M349 177.5h1.3M336 177.5h1.3M333 188.5h1.3M331 175.5h1.3M324 172.5h1.3M340 176.5h1.3M326 181.5h1.3M350 182.5h1.3M331 177.5h1.3M321 183.5h1.3M320 181.5h1.3M324 179.5h1.3M336 189.5h1.3M340 182.5h1.3M356 185.5h1.3M335 175.5h1.3M326 171.5h1.3M353 178.5h1.3M314 177.5h1.3M327 178.5h1.3M329 171.5h1.3M352 185.5h1.3M327 184.5h1.3M357 173.5h1.3M348 186.5h1.3M329 178.5h1.3M325 177.5h1.3M341 176.5h1.3M336 177.5h1.3M338 180.5h1.3M326 181.5h1.3M354 181.5h1.3M339 186.5h1.3M344 173.5h1.3M337 180.5h1.3M333 181.5h1.3M341 175.5h1.3M356 176.5h1.3M335 178.5h1.3M331 174.5h1.3M341 171.5h1.3M354 178.5h1.3M332 177.5h1.3M328 183.5h1.3M331 181.5h1.3M360 173.5h1.3M334 182.5h1.3M320 180.5h1.3M339 171.5h1.3M343 175.5h1.3M354 183.5h1.3M341 186.5h1.3M349 180.5h1.3M334 181.5h1.3M340 178.5h1.3M321 180.5h1.3M345 183.5h1.3M328 176.5h1.3M331 179.5h1.3M325 174.5h1.3M321 182.5h1.3M349 179.5h1.3M369 175.5h1.3M347 178.5h1.3M346 171.5h1.3M345 170.5h1.3M343 180.5h1.3M365 175.5h1.3M344 170.5h1.3M336 176.5h1.3M362 183.5h1.3M345 171.5h1.3M337 180.5h1.3M339 174.5h1.3M360 171.5h1.3M329 180.5h1.3M357 178.5h1.3M353 181.5h1.3M363 179.5h1.3M345 179.5h1.3M343 179.5h1.3M348 178.5h1.3M370 178.5h1.3M353 181.5h1.3M332 178.5h1.3M356 183.5h1.3M353 174.5h1.3M358 187.5h1.3M340 177.5h1.3M374 181.5h1.3M339 181.5h1.3M355 177.5h1.3M342 175.5h1.3M341 181.5h1.3M354 174.5h1.3M353 180.5h1.3M349 177.5h1.3M364 178.5h1.3M346 179.5h1.3M352 177.5h1.3M350 176.5h1.3M341 179.5h1.3M359 171.5h1.3M351 174.5h1.3M343 174.5h1.3M336 179.5h1.3M346 173.5h1.3M360 182.5h1.3M371 179.5h1.3M361 171.5h1.3M352 178.5h1.3M323 201.5h1.3M335 198.5h1.3M319 200.5h1.3M312 214.5h1.3M324 209.5h1.3M318 200.5h1.3M318 190.5h1.3M315 191.5h1.3M317 184.5h1.3M334 198.5h1.3M309 209.5h1.3M323 201.5h1.3M325 192.5h1.3M326 209.5h1.3M310 191.5h1.3M313 204.5h1.3M328 190.5h1.3M333 183.5h1.3M315 190.5h1.3M316 200.5h1.3M311 198.5h1.3M309 208.5h1.3M314 204.5h1.3M334 184.5h1.3M318 191.5h1.3M317 204.5h1.3M305 189.5h1.3M318 214.5h1.3M329 194.5h1.3M321 193.5h1.3M319 193.5h1.3M311 175.5h1.3M323 198.5h1.3M332 203.5h1.3M318 201.5h1.3M325 205.5h1.3M310 203.5h1.3M314 192.5h1.3M316 200.5h1.3M327 192.5h1.3M323 207.5h1.3M310 205.5h1.3M326 202.5h1.3M324 199.5h1.3M315 211.5h1.3M308 189.5h1.3M322 200.5h1.3M333 205.5h1.3M314 186.5h1.3M341 199.5h1.3M329 194.5h1.3M337 204.5h1.3M308 209.5h1.3M328 197.5h1.3M305 200.5h1.3M324 204.5h1.3M320 188.5h1.3M324 200.5h1.3M325 188.5h1.3M320 204.5h1.3M319 210.5h1.3M323 203.5h1.3M316 199.5h1.3M318 197.5h1.3M313 186.5h1.3M321 198.5h1.3M308 204.5h1.3M318 194.5h1.3M314 214.5h1.3M323 205.5h1.3M323 215.5h1.3M323 190.5h1.3M312 200.5h1.3M308 196.5h1.3M314 185.5h1.3M316 191.5h1.3M312 198.5h1.3M312 202.5h1.3M308 193.5h1.3M320 206.5h1.3M316 190.5h1.3M333 214.5h1.3M304 203.5h1.3M328 188.5h1.3M325 193.5h1.3M317 201.5h1.3M330 215.5h1.3M325 206.5h1.3M338 191.5h1.3M318 207.5h1.3M324 199.5h1.3M325 203.5h1.3M324 210.5h1.3M322 189.5h1.3M318 189.5h1.3M323 191.5h1.3M343 196.5h1.3M317 186.5h1.3M317 215.5h1.3M328 180.5h1.3M325 188.5h1.3M323 192.5h1.3M305 193.5h1.3M325 208.5h1.3M318 199.5h1.3M318 197.5h1.3M318 186.5h1.3M310 199.5h1.3M314 179.5h1.3M371 176.5h1.3M323 175.5h1.3M330 190.5h1.3M310 185.5h1.3M317 179.5h1.3M356 181.5h1.3M313 167.5h1.3M350 173.5h1.3M321 175.5h1.3M331 187.5h1.3M330 183.5h1.3M336 195.5h1.3M327 191.5h1.3M334 177.5h1.3M325 174.5h1.3M349 182.5h1.3M340 180.5h1.3M328 192.5h1.3M342 186.5h1.3M305 193.5h1.3M323 170.5h1.3M360 180.5h1.3M344 182.5h1.3M317 182.5h1.3M349 193.5h1.3M339 185.5h1.3M331 179.5h1.3M331 196.5h1.3M354 176.5h1.3"/>
<path d="M328 180.5h1.3M327 178.5h1.3M313 178.5h1.3M344 175.5h1.3M334 172.5h1.3M320 179.5h1.3M340 171.5h1.3M339 184.5h1.3M339 178.5h1.3M336 175.5h1.3M360 182.5h1.3M353 185.5h1.3M338 183.5h1.3M324 178.5h1.3M338 185.5h1.3M333 179.5h1.3M329 181.5h1.3M315 182.5h1.3M343 188.5h1.3M316 177.5h1.3M345 177.5h1.3M327 179.5h1.3M359 174.5h1.3M316 178.5h1.3M352 175.5h1.3M350 184.5h1.3M323 182.5h1.3M328 182.5h1.3M348 172.5h1.3M350 180.5h1.3M333 183.5h1.3M344 178.5h1.3M321 181.5h1.3M343 176.5h1.3M355 177.5h1.3M333 177.5h1.3M337 178.5h1.3M363 180.5h1.3M339 174.5h1.3M320 178.5h1.3M337 188.5h1.3M337 182.5h1.3M316 181.5h1.3M354 183.5h1.3M338 176.5h1.3M322 178.5h1.3M326 176.5h1.3M345 179.5h1.3M325 179.5h1.3M329 179.5h1.3M346 180.5h1.3M332 174.5h1.3M349 181.5h1.3M329 170.5h1.3M326 172.5h1.3M329 180.5h1.3M347 177.5h1.3M342 174.5h1.3M320 176.5h1.3M326 188.5h1.3M316 182.5h1.3M336 182.5h1.3M351 179.5h1.3M350 180.5h1.3M347 181.5h1.3M330 178.5h1.3M326 181.5h1.3M337 181.5h1.3M345 174.5h1.3M343 173.5h1.3M333 177.5h1.3M327 184.5h1.3M317 178.5h1.3M346 171.5h1.3M360 182.5h1.3M338 172.5h1.3M357 180.5h1.3M327 184.5h1.3M355 182.5h1.3M343 182.5h1.3M339 179.5h1.3M316 175.5h1.3M335 187.5h1.3M334 183.5h1.3M351 179.5h1.3M346 183.5h1.3M338 178.5h1.3M317 181.5h1.3M322 179.5h1.3M315 178.5h1.3M359 181.5h1.3M348 173.5h1.3M332 178.5h1.3M306 182.5h1.3M352 174.5h1.3M345 179.5h1.3M341 183.5h1.3M338 177.5h1.3M334 177.5h1.3M342 176.5h1.3M327 180.5h1.3M334 180.5h1.3M317 180.5h1.3M345 180.5h1.3M320 178.5h1.3M336 174.5h1.3M329 174.5h1.3M340 179.5h1.3M347 185.5h1.3M331 175.5h1.3M335 179.5h1.3M338 176.5h1.3M324 176.5h1.3M337 170.5h1.3M338 185.5h1.3M315 181.5h1.3M355 177.5h1.3M340 179.5h1.3M339 181.5h1.3M330 174.5h1.3M339 178.5h1.3M338 176.5h1.3M334 182.5h1.3M326 186.5h1.3M328 177.5h1.3M332 180.5h1.3M320 179.5h1.3M314 174.5h1.3M354 178.5h1.3M326 178.5h1.3M338 186.5h1.3M317 180.5h1.3M342 176.5h1.3M346 183.5h1.3M354 185.5h1.3M331 182.5h1.3M324 174.5h1.3M344 178.5h1.3M344 177.5h1.3M347 184.5h1.3M340 183.5h1.3M334 176.5h1.3M333 181.5h1.3M314 177.5h1.3M318 176.5h1.3M344 175.5h1.3M330 181.5h1.3M343 175.5h1.3M345 185.5h1.3M355 184.5h1.3M350 182.5h1.3M336 177.5h1.3M335 187.5h1.3M344 184.5h1.3M335 173.5h1.3M348 186.5h1.3M319 179.5h1.3M343 186.5h1.3M337 176.5h1.3M328 172.5h1.3M333 175.5h1.3M349 179.5h1.3M330 181.5h1.3M351 180.5h1.3M340 178.5h1.3M341 180.5h1.3M351 186.5h1.3M332 181.5h1.3M347 176.5h1.3M341 176.5h1.3M324 174.5h1.3M330 182.5h1.3M336 181.5h1.3M333 179.5h1.3M338 178.5h1.3M336 175.5h1.3M331 183.5h1.3M323 182.5h1.3M334 176.5h1.3M326 176.5h1.3M320 178.5h1.3M322 177.5h1.3M341 182.5h1.3M325 180.5h1.3M332 180.5h1.3M315 179.5h1.3M360 181.5h1.3M350 174.5h1.3M334 176.5h1.3M323 177.5h1.3M341 169.5h1.3M355 180.5h1.3M334 182.5h1.3M355 180.5h1.3M353 182.5h1.3M319 178.5h1.3M356 177.5h1.3M314 185.5h1.3M326 180.5h1.3M315 174.5h1.3M342 182.5h1.3M341 178.5h1.3M350 181.5h1.3M363 184.5h1.3M334 180.5h1.3M352 178.5h1.3M359 180.5h1.3M357 172.5h1.3M339 183.5h1.3M342 171.5h1.3M341 176.5h1.3M342 174.5h1.3M334 173.5h1.3M352 176.5h1.3M348 174.5h1.3M343 173.5h1.3M354 173.5h1.3M344 178.5h1.3M354 180.5h1.3M357 180.5h1.3M354 174.5h1.3M356 177.5h1.3M338 179.5h1.3M349 173.5h1.3M353 178.5h1.3M364 180.5h1.3M359 172.5h1.3M338 175.5h1.3M355 180.5h1.3M354 182.5h1.3M356 179.5h1.3M346 182.5h1.3M358 183.5h1.3M362 171.5h1.3M355 175.5h1.3M356 180.5h1.3M367 179.5h1.3M352 174.5h1.3M373 178.5h1.3M336 181.5h1.3M356 182.5h1.3M352 176.5h1.3M339 176.5h1.3M368 181.5h1.3M349 180.5h1.3M355 180.5h1.3M338 183.5h1.3M346 176.5h1.3M332 178.5h1.3M365 186.5h1.3M327 209.5h1.3M332 181.5h1.3M304 200.5h1.3M313 195.5h1.3M325 192.5h1.3M322 185.5h1.3M325 187.5h1.3M320 197.5h1.3M324 193.5h1.3M324 194.5h1.3M326 207.5h1.3M316 189.5h1.3M316 196.5h1.3M316 189.5h1.3M317 186.5h1.3M327 202.5h1.3M304 196.5h1.3M314 198.5h1.3M328 194.5h1.3M332 177.5h1.3M321 208.5h1.3M329 187.5h1.3M339 185.5h1.3M326 199.5h1.3M328 196.5h1.3M342 194.5h1.3M307 198.5h1.3M316 187.5h1.3M313 190.5h1.3M306 189.5h1.3M315 198.5h1.3M321 196.5h1.3M305 191.5h1.3M304 202.5h1.3M321 203.5h1.3M325 200.5h1.3M328 188.5h1.3M309 204.5h1.3M307 185.5h1.3M312 198.5h1.3M324 194.5h1.3M321 179.5h1.3M332 188.5h1.3M314 193.5h1.3M304 178.5h1.3M315 199.5h1.3M323 188.5h1.3M323 209.5h1.3M323 191.5h1.3M322 197.5h1.3M331 215.5h1.3M319 187.5h1.3M327 202.5h1.3M336 190.5h1.3M304 203.5h1.3M311 202.5h1.3M310 207.5h1.3M328 174.5h1.3M311 204.5h1.3M329 193.5h1.3M325 197.5h1.3M332 196.5h1.3M316 194.5h1.3M322 206.5h1.3M311 202.5h1.3M323 201.5h1.3M315 196.5h1.3M318 206.5h1.3M311 201.5h1.3M322 195.5h1.3M324 210.5h1.3M311 203.5h1.3M332 174.5h1.3M312 197.5h1.3M318 194.5h1.3M335 195.5h1.3M314 190.5h1.3M317 204.5h1.3M320 193.5h1.3M310 173.5h1.3M311 180.5h1.3M312 196.5h1.3M315 212.5h1.3M321 196.5h1.3M323 199.5h1.3M308 178.5h1.3M323 192.5h1.3M310 186.5h1.3M311 186.5h1.3M313 191.5h1.3M325 198.5h1.3M319 193.5h1.3M341 194.5h1.3M340 192.5h1.3M313 201.5h1.3M329 187.5h1.3M312 208.5h1.3M330 192.5h1.3M309 198.5h1.3M317 212.5h1.3M338 199.5h1.3M347 182.5h1.3M348 186.5h1.3M344 174.5h1.3M327 180.5h1.3M304 173.5h1.3M332 188.5h1.3M330 181.5h1.3M312 185.5h1.3M332 183.5h1.3M317 180.5h1.3M314 184.5h1.3M324 174.5h1.3M335 167.5h1.3M340 189.5h1.3M339 191.5h1.3M346 177.5h1.3M344 168.5h1.3M340 177.5h1.3M335 184.5h1.3M338 182.5h1.3M335 183.5h1.3M320 190.5h1.3M313 187.5h1.3M320 178.5h1.3M322 170.5h1.3M320 176.5h1.3M312 193.5h1.3M348 179.5h1.3M306 180.5h1.3M328 184.5h1.3M318 177.5h1.3"/>
<path d="M323 173.5h1.3M359 182.5h1.3M325 179.5h1.3M348 185.5h1.3M346 180.5h1.3M355 184.5h1.3M338 175.5h1.3M358 173.5h1.3M331 179.5h1.3M330 181.5h1.3M339 175.5h1.3M330 183.5h1.3M336 174.5h1.3M348 183.5h1.3M334 179.5h1.3M342 175.5h1.3M319 176.5h1.3M326 174.5h1.3M332 178.5h1.3M328 179.5h1.3M362 182.5h1.3M345 178.5h1.3M352 174.5h1.3M326 171.5h1.3M318 180.5h1.3M354 181.5h1.3M339 174.5h1.3M340 184.5h1.3M341 174.5h1.3M344 181.5h1.3M319 175.5h1.3M345 182.5h1.3M334 184.5h1.3M327 178.5h1.3M341 186.5h1.3M354 185.5h1.3M333 180.5h1.3M345 182.5h1.3M324 172.5h1.3M343 173.5h1.3M344 178.5h1.3M333 175.5h1.3M338 184.5h1.3M348 185.5h1.3M347 178.5h1.3M340 183.5h1.3M344 180.5h1.3M341 182.5h1.3M321 183.5h1.3M327 175.5h1.3M326 186.5h1.3M319 176.5h1.3M344 171.5h1.3M337 179.5h1.3M359 176.5h1.3M326 182.5h1.3M325 178.5h1.3M324 178.5h1.3M312 178.5h1.3M343 184.5h1.3M352 181.5h1.3M349 177.5h1.3M323 185.5h1.3M341 182.5h1.3M324 174.5h1.3M319 184.5h1.3M329 176.5h1.3M305 178.5h1.3M317 179.5h1.3M348 179.5h1.3M328 178.5h1.3M329 183.5h1.3M346 174.5h1.3M315 179.5h1.3M324 179.5h1.3M353 175.5h1.3M341 187.5h1.3M332 185.5h1.3M327 182.5h1.3M315 179.5h1.3M329 179.5h1.3M334 182.5h1.3M333 174.5h1.3M335 183.5h1.3M317 178.5h1.3M314 175.5h1.3M333 184.5h1.3M336 180.5h1.3M341 177.5h1.3M348 187.5h1.3M333 178.5h1.3M331 184.5h1.3M330 188.5h1.3M335 177.5h1.3M333 177.5h1.3M331 181.5h1.3M356 178.5h1.3M336 181.5h1.3M348 179.5h1.3M334 179.5h1.3M334 181.5h1.3M322 177.5h1.3M327 182.5h1.3M326 174.5h1.3M330 184.5h1.3M312 177.5h1.3M326 176.5h1.3M346 177.5h1.3M349 181.5h1.3M333 182.5h1.3M319 176.5h1.3M332 177.5h1.3M339 176.5h1.3M339 175.5h1.3M337 174.5h1.3M336 170.5h1.3M358 178.5h1.3M350 175.5h1.3M356 174.5h1.3M329 181.5h1.3M326 186.5h1.3M335 181.5h1.3M331 179.5h1.3M314 176.5h1.3M335 178.5h1.3M349 177.5h1.3M334 177.5h1.3M334 177.5h1.3M333 174.5h1.3M355 178.5h1.3M325 174.5h1.3M344 181.5h1.3M341 181.5h1.3M341 179.5h1.3M323 174.5h1.3M327 182.5h1.3M339 174.5h1.3M320 179.5h1.3M346 182.5h1.3M324 179.5h1.3M322 181.5h1.3M352 183.5h1.3M336 185.5h1.3M328 178.5h1.3M329 173.5h1.3M318 173.5h1.3M323 172.5h1.3M311 182.5h1.3M358 185.5h1.3M322 174.5h1.3M352 183.5h1.3M338 183.5h1.3M330 179.5h1.3M355 179.5h1.3M334 185.5h1.3M336 179.5h1.3M326 181.5h1.3M317 180.5h1.3M319 180.5h1.3M344 188.5h1.3M339 175.5h1.3M337 175.5h1.3M344 180.5h1.3M306 178.5h1.3M347 180.5h1.3M345 182.5h1.3M350 183.5h1.3M332 183.5h1.3M347 174.5h1.3M322 178.5h1.3M345 182.5h1.3M322 184.5h1.3M328 183.5h1.3M334 176.5h1.3M323 183.5h1.3M345 184.5h1.3M326 173.5h1.3M319 179.5h1.3M321 180.5h1.3M327 182.5h1.3M324 182.5h1.3M340 181.5h1.3M343 183.5h1.3M345 173.5h1.3M341 186.5h1.3M325 179.5h1.3M317 186.5h1.3M342 183.5h1.3M314 180.5h1.3M336 177.5h1.3M335 178.5h1.3M365 183.5h1.3M327 176.5h1.3M329 178.5h1.3M312 184.5h1.3M335 182.5h1.3M325 179.5h1.3M341 187.5h1.3M329 177.5h1.3M349 175.5h1.3M338 172.5h1.3M361 183.5h1.3M364 177.5h1.3M349 182.5h1.3M346 181.5h1.3M367 181.5h1.3M344 181.5h1.3M357 178.5h1.3M356 176.5h1.3M348 176.5h1.3M367 184.5h1.3M360 186.5h1.3M338 175.5h1.3M356 179.5h1.3M352 183.5h1.3M354 171.5h1.3M370 178.5h1.3M369 178.5h1.3M353 177.5h1.3M357 176.5h1.3M352 169.5h1.3M351 174.5h1.3M350 176.5h1.3M349 176.5h1.3M352 171.5h1.3M359 183.5h1.3M363 179.5h1.3M354 185.5h1.3M345 175.5h1.3M351 184.5h1.3M337 177.5h1.3M365 179.5h1.3M347 186.5h1.3M348 180.5h1.3M351 177.5h1.3M347 176.5h1.3M362 177.5h1.3M349 181.5h1.3M345 177.5h1.3M350 171.5h1.3M351 174.5h1.3M361 181.5h1.3M339 182.5h1.3M358 172.5h1.3M347 178.5h1.3M365 172.5h1.3M350 179.5h1.3M368 179.5h1.3M351 170.5h1.3M368 178.5h1.3M320 195.5h1.3M317 195.5h1.3M325 205.5h1.3M311 206.5h1.3M311 187.5h1.3M311 183.5h1.3M317 204.5h1.3M327 198.5h1.3M304 195.5h1.3M314 195.5h1.3M328 197.5h1.3M328 192.5h1.3M343 189.5h1.3M314 214.5h1.3M308 195.5h1.3M317 200.5h1.3M336 187.5h1.3M310 201.5h1.3M326 192.5h1.3M318 195.5h1.3M335 189.5h1.3M308 203.5h1.3M314 205.5h1.3M306 192.5h1.3M327 200.5h1.3M336 188.5h1.3M320 194.5h1.3M323 196.5h1.3M322 184.5h1.3M333 206.5h1.3M333 215.5h1.3M336 182.5h1.3M324 201.5h1.3M313 185.5h1.3M313 184.5h1.3M318 189.5h1.3M329 214.5h1.3M316 193.5h1.3M320 205.5h1.3M316 191.5h1.3M318 190.5h1.3M313 179.5h1.3M330 205.5h1.3M326 190.5h1.3M338 183.5h1.3M316 214.5h1.3M315 206.5h1.3M327 193.5h1.3M319 183.5h1.3M324 193.5h1.3M320 192.5h1.3M323 202.5h1.3M316 192.5h1.3M324 188.5h1.3M327 200.5h1.3M322 201.5h1.3M319 192.5h1.3M315 178.5h1.3M329 200.5h1.3M320 198.5h1.3M333 198.5h1.3M329 177.5h1.3M313 188.5h1.3M327 205.5h1.3M312 200.5h1.3M312 208.5h1.3M312 188.5h1.3M320 185.5h1.3M312 189.5h1.3M320 194.5h1.3M315 205.5h1.3M323 205.5h1.3M323 205.5h1.3M320 204.5h1.3M306 189.5h1.3M325 191.5h1.3M317 189.5h1.3M307 195.5h1.3M305 185.5h1.3M335 187.5h1.3M323 193.5h1.3M328 201.5h1.3M315 194.5h1.3M334 202.5h1.3M318 201.5h1.3M320 199.5h1.3M315 197.5h1.3M312 183.5h1.3M321 175.5h1.3M330 192.5h1.3M322 207.5h1.3M313 200.5h1.3M320 199.5h1.3M309 191.5h1.3M321 198.5h1.3M314 178.5h1.3M318 207.5h1.3M318 196.5h1.3M312 190.5h1.3M317 199.5h1.3M322 203.5h1.3M329 186.5h1.3M351 186.5h1.3M333 173.5h1.3M346 172.5h1.3M341 180.5h1.3M363 175.5h1.3M319 172.5h1.3M315 185.5h1.3M358 173.5h1.3M315 173.5h1.3M322 185.5h1.3M331 178.5h1.3M361 169.5h1.3M337 177.5h1.3M313 184.5h1.3M334 184.5h1.3M335 180.5h1.3M315 176.5h1.3M326 188.5h1.3M331 189.5h1.3M364 190.5h1.3M342 181.5h1.3M323 194.5h1.3M333 181.5h1.3M321 178.5h1.3M338 176.5h1.3M316 185.5h1.3M323 192.5h1.3M323 177.5h1.3M331 189.5h1.3M358 185.5h1.3M339 173.5h1.3M334 178.5h1.3M334 185.5h1.3"/>
<path d="M322 178.5h1.3M362 177.5h1.3M348 174.5h1.3M331 180.5h1.3M324 176.5h1.3M335 186.5h1.3M326 180.5h1.3M337 174.5h1.3M357 177.5h1.3M326 182.5h1.3M335 181.5h1.3M339 180.5h1.3M332 176.5h1.3M350 176.5h1.3M336 173.5h1.3M326 175.5h1.3M338 179.5h1.3M328 179.5h1.3M341 178.5h1.3M342 177.5h1.3M327 174.5h1.3M338 175.5h1.3M334 175.5h1.3M331 174.5h1.3M336 183.5h1.3M323 182.5h1.3M341 180.5h1.3M342 179.5h1.3M328 176.5h1.3M314 186.5h1.3M342 176.5h1.3M334 176.5h1.3M335 179.5h1.3M323 176.5h1.3M355 176.5h1.3M343 180.5h1.3M330 176.5h1.3M322 175.5h1.3M325 177.5h1.3M311 182.5h1.3M320 184.5h1.3M331 177.5h1.3M357 179.5h1.3M342 176.5h1.3M310 174.5h1.3M329 178.5h1.3M340 180.5h1.3M344 181.5h1.3M344 179.5h1.3M359 176.5h1.3M348 178.5h1.3M319 182.5h1.3M323 187.5h1.3M327 178.5h1.3M331 179.5h1.3M360 176.5h1.3M346 178.5h1.3M334 179.5h1.3M322 181.5h1.3M332 178.5h1.3M317 180.5h1.3M321 186.5h1.3M336 182.5h1.3M331 173.5h1.3M353 180.5h1.3M336 182.5h1.3M349 185.5h1.3M319 178.5h1.3M335 177.5h1.3M349 177.5h1.3M341 184.5h1.3M332 181.5h1.3M320 182.5h1.3M349 185.5h1.3M349 180.5h1.3M336 180.5h1.3M326 184.5h1.3M313 178.5h1.3M343 180.5h1.3M338 183.5h1.3M336 182.5h1.3M337 180.5h1.3M331 178.5h1.3M322 180.5h1.3M349 173.5h1.3M332 179.5h1.3M333 173.5h1.3M349 177.5h1.3M321 179.5h1.3M333 177.5h1.3M320 174.5h1.3M355 176.5h1.3M335 183.5h1.3M321 181.5h1.3M326 174.5h1.3M347 177.5h1.3M342 179.5h1.3M312 172.5h1.3M322 180.5h1.3M331 178.5h1.3M322 179.5h1.3M329 181.5h1.3M323 172.5h1.3M343 178.5h1.3M318 176.5h1.3M329 184.5h1.3M350 185.5h1.3M356 180.5h1.3M322 175.5h1.3M321 179.5h1.3M326 179.5h1.3M345 176.5h1.3M324 178.5h1.3M340 180.5h1.3M342 173.5h1.3M341 175.5h1.3M320 175.5h1.3M344 175.5h1.3M345 180.5h1.3M331 181.5h1.3M317 177.5h1.3M339 177.5h1.3M350 174.5h1.3M336 182.5h1.3M355 184.5h1.3M344 179.5h1.3M318 182.5h1.3M331 179.5h1.3M340 179.5h1.3M337 175.5h1.3M340 177.5h1.3M313 178.5h1.3M356 174.5h1.3M331 178.5h1.3M305 179.5h1.3M329 174.5h1.3M333 172.5h1.3M327 178.5h1.3M352 179.5h1.3M337 178.5h1.3M355 182.5h1.3M341 181.5h1.3M333 185.5h1.3M336 183.5h1.3M332 176.5h1.3M324 183.5h1.3M325 172.5h1.3M324 186.5h1.3M345 178.5h1.3M338 177.5h1.3M340 177.5h1.3M329 180.5h1.3M344 177.5h1.3M321 183.5h1.3M328 178.5h1.3M311 183.5h1.3M333 175.5h1.3M333 178.5h1.3M347 185.5h1.3M332 175.5h1.3M338 178.5h1.3M320 180.5h1.3M324 178.5h1.3M321 183.5h1.3M325 174.5h1.3M325 175.5h1.3M324 182.5h1.3M312 184.5h1.3M323 178.5h1.3M361 183.5h1.3M332 179.5h1.3M313 174.5h1.3M345 178.5h1.3M328 186.5h1.3M343 174.5h1.3M342 180.5h1.3M347 177.5h1.3M360 178.5h1.3M328 183.5h1.3M339 178.5h1.3M332 176.5h1.3M338 170.5h1.3M322 176.5h1.3M349 178.5h1.3M321 184.5h1.3M337 179.5h1.3M345 181.5h1.3M337 180.5h1.3M333 180.5h1.3M338 187.5h1.3M347 174.5h1.3M337 175.5h1.3M331 183.5h1.3M356 177.5h1.3M346 180.5h1.3M318 180.5h1.3M349 184.5h1.3M317 175.5h1.3M336 177.5h1.3M330 178.5h1.3M344 175.5h1.3M360 175.5h1.3M359 179.5h1.3M337 183.5h1.3M356 181.5h1.3M332 173.5h1.3M331 177.5h1.3M354 178.5h1.3M349 173.5h1.3M353 173.5h1.3M341 181.5h1.3M370 175.5h1.3M353 171.5h1.3M374 177.5h1.3M343 178.5h1.3M340 173.5h1.3M342 180.5h1.3M331 175.5h1.3M352 179.5h1.3M366 173.5h1.3M344 176.5h1.3M352 178.5h1.3M339 182.5h1.3M343 177.5h1.3M352 172.5h1.3M336 173.5h1.3M356 175.5h1.3M335 184.5h1.3M342 177.5h1.3M347 185.5h1.3M359 174.5h1.3M346 182.5h1.3M357 180.5h1.3M330 173.5h1.3M349 177.5h1.3M334 175.5h1.3M348 182.5h1.3M350 173.5h1.3M359 183.5h1.3M362 178.5h1.3M342 183.5h1.3M352 178.5h1.3M348 171.5h1.3M359 184.5h1.3M359 184.5h1.3M342 172.5h1.3M364 179.5h1.3M364 179.5h1.3M351 179.5h1.3M364 176.5h1.3M317 195.5h1.3M315 183.5h1.3M319 191.5h1.3M319 194.5h1.3M318 189.5h1.3M318 210.5h1.3M327 179.5h1.3M324 176.5h1.3M321 191.5h1.3M307 195.5h1.3M307 199.5h1.3M331 176.5h1.3M305 190.5h1.3M314 181.5h1.3M313 189.5h1.3M307 187.5h1.3M319 173.5h1.3M307 210.5h1.3M318 192.5h1.3M313 199.5h1.3M338 192.5h1.3M326 194.5h1.3M325 214.5h1.3M327 212.5h1.3M328 177.5h1.3M331 197.5h1.3M313 189.5h1.3M324 186.5h1.3M333 183.5h1.3M326 187.5h1.3M329 208.5h1.3M313 202.5h1.3M318 180.5h1.3M310 188.5h1.3M318 209.5h1.3M312 189.5h1.3M325 178.5h1.3M326 198.5h1.3M337 182.5h1.3M307 205.5h1.3M334 188.5h1.3M322 211.5h1.3M323 207.5h1.3M325 192.5h1.3M312 189.5h1.3M321 196.5h1.3M320 188.5h1.3M331 193.5h1.3M317 190.5h1.3M328 209.5h1.3M322 199.5h1.3M324 191.5h1.3M308 209.5h1.3M331 193.5h1.3M314 199.5h1.3M328 208.5h1.3M317 190.5h1.3M305 200.5h1.3M327 197.5h1.3M318 181.5h1.3M335 200.5h1.3M323 189.5h1.3M322 189.5h1.3M311 185.5h1.3M310 185.5h1.3M315 187.5h1.3M328 194.5h1.3M328 194.5h1.3M329 196.5h1.3M325 192.5h1.3M329 185.5h1.3M328 205.5h1.3M314 203.5h1.3M323 214.5h1.3M317 185.5h1.3M323 185.5h1.3M311 207.5h1.3M330 196.5h1.3M329 187.5h1.3M334 199.5h1.3M324 203.5h1.3M324 196.5h1.3M320 185.5h1.3M322 202.5h1.3M334 189.5h1.3M311 184.5h1.3M316 206.5h1.3M316 180.5h1.3M306 189.5h1.3M339 202.5h1.3M309 197.5h1.3M325 195.5h1.3M322 194.5h1.3M328 191.5h1.3M332 206.5h1.3M308 207.5h1.3M325 213.5h1.3M316 175.5h1.3M321 201.5h1.3M338 185.5h1.3M322 198.5h1.3M324 186.5h1.3M322 193.5h1.3M333 192.5h1.3M340 183.5h1.3M320 165.5h1.3M370 180.5h1.3M357 171.5h1.3M333 181.5h1.3M324 176.5h1.3M342 178.5h1.3M321 185.5h1.3M355 182.5h1.3M327 195.5h1.3M347 191.5h1.3M334 183.5h1.3M371 190.5h1.3M312 180.5h1.3M321 183.5h1.3M348 182.5h1.3M369 189.5h1.3M367 178.5h1.3M312 179.5h1.3M329 175.5h1.3M350 183.5h1.3M365 184.5h1.3M361 179.5h1.3M358 191.5h1.3M350 167.5h1.3M330 177.5h1.3M328 183.5h1.3M346 176.5h1.3M339 192.5h1.3M342 172.5h1.3"/>
<path d="M341 186.5h1.3M340 174.5h1.3M332 181.5h1.3M342 182.5h1.3M315 180.5h1.3M323 177.5h1.3M333 177.5h1.3M343 177.5h1.3M338 180.5h1.3M340 185.5h1.3M352 171.5h1.3M317 187.5h1.3M321 180.5h1.3M324 180.5h1.3M344 181.5h1.3M329 182.5h1.3M327 178.5h1.3M348 183.5h1.3M323 177.5h1.3M342 176.5h1.3M333 179.5h1.3M349 179.5h1.3M334 183.5h1.3M350 175.5h1.3M335 180.5h1.3M331 176.5h1.3M320 182.5h1.3M350 178.5h1.3M349 176.5h1.3M342 179.5h1.3M350 179.5h1.3M324 173.5h1.3M337 174.5h1.3M345 178.5h1.3M327 180.5h1.3M331 186.5h1.3M353 176.5h1.3M334 183.5h1.3M346 177.5h1.3M333 176.5h1.3M348 178.5h1.3M351 179.5h1.3M336 174.5h1.3M338 179.5h1.3M331 183.5h1.3M333 174.5h1.3M336 181.5h1.3M335 179.5h1.3M330 178.5h1.3M338 181.5h1.3M336 180.5h1.3M348 181.5h1.3M323 185.5h1.3M328 183.5h1.3M345 177.5h1.3M336 179.5h1.3M345 185.5h1.3M334 173.5h1.3M331 183.5h1.3M337 177.5h1.3M322 183.5h1.3M333 182.5h1.3M336 180.5h1.3M312 178.5h1.3M331 175.5h1.3M322 178.5h1.3M330 177.5h1.3M309 177.5h1.3M313 179.5h1.3M317 175.5h1.3M328 179.5h1.3M340 178.5h1.3M317 184.5h1.3M340 178.5h1.3M342 177.5h1.3M339 177.5h1.3M350 176.5h1.3M339 183.5h1.3M343 178.5h1.3M336 176.5h1.3M321 177.5h1.3M343 179.5h1.3M334 178.5h1.3M334 180.5h1.3M330 179.5h1.3M337 175.5h1.3M320 174.5h1.3M346 172.5h1.3M334 181.5h1.3M351 179.5h1.3M345 186.5h1.3M338 181.5h1.3M323 185.5h1.3M346 183.5h1.3M330 181.5h1.3M336 178.5h1.3M325 180.5h1.3M339 182.5h1.3M325 178.5h1.3M315 186.5h1.3M322 179.5h1.3M350 184.5h1.3M333 181.5h1.3M347 184.5h1.3M345 182.5h1.3M325 182.5h1.3M338 173.5h1.3M333 178.5h1.3M345 179.5h1.3M343 180.5h1.3M340 177.5h1.3M320 177.5h1.3M335 181.5h1.3M341 176.5h1.3M335 185.5h1.3M329 183.5h1.3M310 177.5h1.3M329 183.5h1.3M321 179.5h1.3M344 188.5h1.3M357 176.5h1.3M340 180.5h1.3M312 185.5h1.3M336 183.5h1.3M334 183.5h1.3M327 183.5h1.3M349 179.5h1.3M344 185.5h1.3M325 181.5h1.3M318 178.5h1.3M343 176.5h1.3M352 173.5h1.3M333 181.5h1.3M331 178.5h1.3M326 178.5h1.3M347 179.5h1.3M353 182.5h1.3M316 184.5h1.3M333 184.5h1.3M331 184.5h1.3M353 179.5h1.3M329 174.5h1.3M334 179.5h1.3M313 176.5h1.3M348 174.5h1.3M324 179.5h1.3M341 183.5h1.3M330 173.5h1.3M325 184.5h1.3M330 185.5h1.3M325 175.5h1.3M351 175.5h1.3M356 181.5h1.3M316 178.5h1.3M320 177.5h1.3M329 188.5h1.3M332 178.5h1.3M314 178.5h1.3M343 179.5h1.3M338 176.5h1.3M352 182.5h1.3M341 176.5h1.3M317 182.5h1.3M312 178.5h1.3M350 182.5h1.3M329 176.5h1.3M342 177.5h1.3M355 177.5h1.3M334 169.5h1.3M324 173.5h1.3M351 180.5h1.3M324 187.5h1.3M329 175.5h1.3M349 184.5h1.3M324 179.5h1.3M347 179.5h1.3M334 178.5h1.3M332 180.5h1.3M347 183.5h1.3M343 182.5h1.3M337 182.5h1.3M330 184.5h1.3M328 184.5h1.3M337 173.5h1.3M332 176.5h1.3M339 175.5h1.3M353 172.5h1.3M319 176.5h1.3M329 185.5h1.3M349 188.5h1.3M331 179.5h1.3M330 177.5h1.3M322 171.5h1.3M339 186.5h1.3M344 175.5h1.3M351 175.5h1.3M331 171.5h1.3M315 184.5h1.3M334 174.5h1.3M329 181.5h1.3M334 170.5h1.3M361 168.5h1.3M354 172.5h1.3M349 182.5h1.3M348 175.5h1.3M354 174.5h1.3M346 184.5h1.3M357 181.5h1.3M359 174.5h1.3M357 178.5h1.3M352 181.5h1.3M359 178.5h1.3M355 177.5h1.3M361 172.5h1.3M367 184.5h1.3M361 174.5h1.3M358 180.5h1.3M363 182.5h1.3M361 169.5h1.3M363 174.5h1.3M359 176.5h1.3M341 181.5h1.3M354 181.5h1.3M345 177.5h1.3M369 179.5h1.3M348 178.5h1.3M341 174.5h1.3M362 172.5h1.3M347 178.5h1.3M341 180.5h1.3M357 180.5h1.3M339 182.5h1.3M345 178.5h1.3M371 182.5h1.3M344 174.5h1.3M357 178.5h1.3M341 171.5h1.3M366 178.5h1.3M345 175.5h1.3M339 181.5h1.3M352 177.5h1.3M333 175.5h1.3M340 184.5h1.3M345 170.5h1.3M372 179.5h1.3M353 174.5h1.3M375 176.5h1.3M367 179.5h1.3M338 178.5h1.3M362 173.5h1.3M318 187.5h1.3M328 186.5h1.3M324 192.5h1.3M322 204.5h1.3M324 183.5h1.3M323 211.5h1.3M308 204.5h1.3M318 196.5h1.3M306 199.5h1.3M328 197.5h1.3M326 205.5h1.3M313 195.5h1.3M312 201.5h1.3M316 193.5h1.3M308 200.5h1.3M322 184.5h1.3M322 195.5h1.3M329 196.5h1.3M329 196.5h1.3M312 207.5h1.3M308 203.5h1.3M336 198.5h1.3M333 186.5h1.3M320 185.5h1.3M310 212.5h1.3M318 196.5h1.3M335 207.5h1.3M331 195.5h1.3M328 195.5h1.3M308 208.5h1.3M325 187.5h1.3M322 207.5h1.3M314 183.5h1.3M313 188.5h1.3M320 207.5h1.3M310 184.5h1.3M315 212.5h1.3M315 197.5h1.3M312 200.5h1.3M328 193.5h1.3M326 213.5h1.3M312 193.5h1.3M336 195.5h1.3M314 206.5h1.3M315 188.5h1.3M328 195.5h1.3M329 192.5h1.3M310 184.5h1.3M312 190.5h1.3M324 190.5h1.3M335 201.5h1.3M324 179.5h1.3M321 201.5h1.3M319 190.5h1.3M325 211.5h1.3M329 186.5h1.3M306 206.5h1.3M318 182.5h1.3M323 207.5h1.3M321 188.5h1.3M314 183.5h1.3M339 203.5h1.3M311 182.5h1.3M314 202.5h1.3M306 191.5h1.3M320 185.5h1.3M314 196.5h1.3M323 195.5h1.3M331 214.5h1.3M331 192.5h1.3M319 199.5h1.3M344 200.5h1.3M315 197.5h1.3M323 209.5h1.3M319 205.5h1.3M313 201.5h1.3M316 201.5h1.3M328 178.5h1.3M309 194.5h1.3M316 204.5h1.3M331 178.5h1.3M323 178.5h1.3M316 206.5h1.3M329 209.5h1.3M314 203.5h1.3M326 190.5h1.3M322 208.5h1.3M334 193.5h1.3M323 190.5h1.3M330 191.5h1.3M336 196.5h1.3M304 188.5h1.3M320 212.5h1.3M316 205.5h1.3M329 192.5h1.3M324 202.5h1.3M322 205.5h1.3M316 192.5h1.3M327 179.5h1.3M316 193.5h1.3M313 197.5h1.3M363 191.5h1.3M322 171.5h1.3M373 183.5h1.3M355 174.5h1.3M311 168.5h1.3M329 186.5h1.3M327 191.5h1.3M323 185.5h1.3M335 175.5h1.3M308 183.5h1.3M311 169.5h1.3M360 179.5h1.3M335 181.5h1.3M323 194.5h1.3M342 198.5h1.3M340 173.5h1.3M325 181.5h1.3M328 174.5h1.3M345 182.5h1.3M366 172.5h1.3M334 167.5h1.3M306 189.5h1.3M343 186.5h1.3M339 180.5h1.3M346 182.5h1.3M326 166.5h1.3M310 171.5h1.3M351 197.5h1.3M324 186.5h1.3M325 173.5h1.3M356 194.5h1.3M368 170.5h1.3"/>
<path d="M340 181.5h1.3M339 177.5h1.3M323 177.5h1.3M362 179.5h1.3M338 180.5h1.3M330 187.5h1.3M335 176.5h1.3M326 178.5h1.3M316 178.5h1.3M315 179.5h1.3M334 175.5h1.3M334 175.5h1.3M326 180.5h1.3M335 181.5h1.3M346 177.5h1.3M346 179.5h1.3M321 176.5h1.3M337 184.5h1.3M338 188.5h1.3M328 180.5h1.3M343 180.5h1.3M318 178.5h1.3M357 182.5h1.3M350 178.5h1.3M350 180.5h1.3M334 176.5h1.3M330 178.5h1.3M317 183.5h1.3M347 182.5h1.3M343 175.5h1.3M341 183.5h1.3M340 183.5h1.3M355 177.5h1.3M343 178.5h1.3M339 184.5h1.3M324 183.5h1.3M337 175.5h1.3M337 174.5h1.3M332 177.5h1.3M316 178.5h1.3M345 181.5h1.3M342 176.5h1.3M352 181.5h1.3M327 178.5h1.3M308 178.5h1.3M327 182.5h1.3M326 178.5h1.3M348 182.5h1.3M343 181.5h1.3M352 184.5h1.3M335 182.5h1.3M321 180.5h1.3M341 177.5h1.3M325 178.5h1.3M330 177.5h1.3M354 177.5h1.3M315 175.5h1.3M328 181.5h1.3M362 180.5h1.3M341 181.5h1.3M339 180.5h1.3M342 181.5h1.3M354 174.5h1.3M323 179.5h1.3M326 185.5h1.3M360 179.5h1.3M314 175.5h1.3M331 174.5h1.3M349 175.5h1.3M321 180.5h1.3M348 184.5h1.3M326 179.5h1.3M349 176.5h1.3M323 182.5h1.3M305 182.5h1.3M341 180.5h1.3M333 180.5h1.3M345 183.5h1.3M330 173.5h1.3M342 179.5h1.3M343 177.5h1.3M318 179.5h1.3M365 180.5h1.3M319 177.5h1.3M329 180.5h1.3M318 186.5h1.3M350 177.5h1.3M347 186.5h1.3M336 172.5h1.3M334 173.5h1.3M331 176.5h1.3M337 179.5h1.3M349 180.5h1.3M334 177.5h1.3M331 180.5h1.3M352 174.5h1.3M334 184.5h1.3M327 179.5h1.3M318 178.5h1.3M325 180.5h1.3M326 177.5h1.3M342 178.5h1.3M315 179.5h1.3M327 177.5h1.3M338 177.5h1.3M347 182.5h1.3M332 177.5h1.3M329 183.5h1.3M331 184.5h1.3M342 183.5h1.3M366 181.5h1.3M349 181.5h1.3M328 180.5h1.3M348 173.5h1.3M334 173.5h1.3M343 177.5h1.3M333 186.5h1.3M327 181.5h1.3M339 174.5h1.3M347 187.5h1.3M336 185.5h1.3M321 174.5h1.3M348 176.5h1.3M321 178.5h1.3M326 181.5h1.3M354 174.5h1.3M308 182.5h1.3M341 178.5h1.3M365 178.5h1.3M333 174.5h1.3M329 181.5h1.3M327 174.5h1.3M333 175.5h1.3M319 177.5h1.3M315 180.5h1.3M356 179.5h1.3M341 176.5h1.3M337 187.5h1.3M333 177.5h1.3M337 180.5h1.3M328 177.5h1.3M333 177.5h1.3M338 179.5h1.3M342 176.5h1.3M340 176.5h1.3M318 179.5h1.3M336 181.5h1.3M341 175.5h1.3M349 178.5h1.3M342 184.5h1.3M326 177.5h1.3M330 183.5h1.3M335 172.5h1.3M309 175.5h1.3M311 178.5h1.3M357 182.5h1.3M332 186.5h1.3M343 183.5h1.3M338 173.5h1.3M343 173.5h1.3M319 179.5h1.3M357 181.5h1.3M323 180.5h1.3M304 178.5h1.3M329 173.5h1.3M342 184.5h1.3M347 171.5h1.3M309 178.5h1.3M326 178.5h1.3M322 180.5h1.3M350 183.5h1.3M340 187.5h1.3M336 181.5h1.3M359 178.5h1.3M329 173.5h1.3M322 186.5h1.3M342 176.5h1.3M342 186.5h1.3M325 175.5h1.3M342 184.5h1.3M352 180.5h1.3M320 181.5h1.3M308 183.5h1.3M340 180.5h1.3M342 180.5h1.3M335 179.5h1.3M338 178.5h1.3M339 178.5h1.3M319 178.5h1.3M342 174.5h1.3M336 180.5h1.3M352 178.5h1.3M336 177.5h1.3M344 183.5h1.3M355 185.5h1.3M356 181.5h1.3M354 179.5h1.3M327 180.5h1.3M315 174.5h1.3M336 183.5h1.3M341 178.5h1.3M355 184.5h1.3M354 181.5h1.3M339 179.5h1.3M349 179.5h1.3M342 179.5h1.3M347 172.5h1.3M340 180.5h1.3M358 183.5h1.3M331 180.5h1.3M352 175.5h1.3M349 179.5h1.3M346 176.5h1.3M336 174.5h1.3M361 176.5h1.3M346 174.5h1.3M348 171.5h1.3M345 178.5h1.3M348 181.5h1.3M350 181.5h1.3M337 177.5h1.3M354 183.5h1.3M364 174.5h1.3M365 180.5h1.3M343 181.5h1.3M341 175.5h1.3M373 181.5h1.3M342 183.5h1.3M347 182.5h1.3M355 177.5h1.3M363 178.5h1.3M348 178.5h1.3M346 180.5h1.3M340 177.5h1.3M354 180.5h1.3M341 175.5h1.3M358 179.5h1.3M356 185.5h1.3M356 180.5h1.3M365 180.5h1.3M363 174.5h1.3M371 184.5h1.3M361 179.5h1.3M339 177.5h1.3M342 170.5h1.3M345 179.5h1.3M342 172.5h1.3M352 176.5h1.3M363 175.5h1.3M343 180.5h1.3M319 190.5h1.3M316 190.5h1.3M329 202.5h1.3M330 184.5h1.3M326 199.5h1.3M326 194.5h1.3M306 196.5h1.3M312 208.5h1.3M318 194.5h1.3M341 188.5h1.3M321 200.5h1.3M317 208.5h1.3M329 207.5h1.3M314 187.5h1.3M317 198.5h1.3M325 188.5h1.3M315 190.5h1.3M322 192.5h1.3M304 202.5h1.3M318 193.5h1.3M321 197.5h1.3M321 177.5h1.3M326 180.5h1.3M323 201.5h1.3M316 199.5h1.3M321 205.5h1.3M319 204.5h1.3M330 205.5h1.3M306 196.5h1.3M324 198.5h1.3M307 187.5h1.3M308 189.5h1.3M329 177.5h1.3M320 199.5h1.3M331 206.5h1.3M336 185.5h1.3M318 186.5h1.3M320 194.5h1.3M327 192.5h1.3M328 191.5h1.3M319 184.5h1.3M327 193.5h1.3M318 201.5h1.3M338 191.5h1.3M316 208.5h1.3M324 203.5h1.3M310 187.5h1.3M326 206.5h1.3M306 200.5h1.3M329 195.5h1.3M325 203.5h1.3M312 206.5h1.3M328 197.5h1.3M309 198.5h1.3M315 203.5h1.3M307 191.5h1.3M324 203.5h1.3M308 188.5h1.3M319 205.5h1.3M318 188.5h1.3M314 200.5h1.3M321 211.5h1.3M308 195.5h1.3M326 212.5h1.3M311 175.5h1.3M327 191.5h1.3M321 201.5h1.3M316 209.5h1.3M337 197.5h1.3M325 183.5h1.3M317 201.5h1.3M323 189.5h1.3M322 182.5h1.3M325 187.5h1.3M337 192.5h1.3M324 180.5h1.3M326 203.5h1.3M334 185.5h1.3M327 199.5h1.3M329 212.5h1.3M324 199.5h1.3M322 208.5h1.3M312 180.5h1.3M329 196.5h1.3M327 184.5h1.3M325 201.5h1.3M314 177.5h1.3M307 194.5h1.3M320 184.5h1.3M320 201.5h1.3M321 181.5h1.3M324 197.5h1.3M306 191.5h1.3M318 193.5h1.3M324 193.5h1.3M315 190.5h1.3M333 209.5h1.3M315 209.5h1.3M325 207.5h1.3M331 203.5h1.3M310 213.5h1.3M313 175.5h1.3M305 178.5h1.3M330 181.5h1.3M372 190.5h1.3M326 179.5h1.3M327 181.5h1.3M323 195.5h1.3M306 176.5h1.3M319 189.5h1.3M327 190.5h1.3M321 176.5h1.3M332 190.5h1.3M352 172.5h1.3M362 185.5h1.3M362 181.5h1.3M315 180.5h1.3M321 179.5h1.3M351 182.5h1.3M344 174.5h1.3M339 173.5h1.3M343 181.5h1.3M329 185.5h1.3M326 180.5h1.3M328 174.5h1.3M335 177.5h1.3M312 177.5h1.3M324 184.5h1.3M313 179.5h1.3M356 174.5h1.3M343 191.5h1.3M337 177.5h1.3M338 173.5h1.3M326 178.5h1.3"/>
</g></g>
<path d="M302.0 136.0H383.6V218.1" fill="none" stroke="#c8c8c8" stroke-width="1.4"/>
<path d="M302.0 136.0V218.1H383.6" fill="none" stroke="#b4b4b4" stroke-width="1.8"/>
<path d="M301.5 137.5h2.5M301.5 157.5h2.5M301.5 177.5h2.5M301.5 197.5h2.5M301.5 217.5h2.5M303.0 218.6v-2M323.0 218.6v-2M343.0 218.6v-2M363.0 218.6v-2M383.0 218.6v-2M309.0 218.6v-1.2M313.0 218.6v-1.2M316.0 218.6v-1.2M318.0 218.6v-1.2M320.0 218.6v-1.2M329.0 218.6v-1.2M333.0 218.6v-1.2M336.0 218.6v-1.2M338.0 218.6v-1.2M340.0 218.6v-1.2M349.0 218.6v-1.2M353.0 218.6v-1.2M356.0 218.6v-1.2M358.0 218.6v-1.2M360.0 218.6v-1.2M369.0 218.6v-1.2M373.0 218.6v-1.2M376.0 218.6v-1.2M378.0 218.6v-1.2M380.0 218.6v-1.2" stroke="#8a8a8a" stroke-width="1.1"/>
<rect x="338.0" y="156.0" width="37.1" height="32" fill="none" stroke="#111" stroke-width="1.9"/>
<text x="355.6" y="151.6" font-size="13.5" font-weight="bold" text-anchor="middle" fill="#111" stroke="#111" stroke-width="0.2" >26</text>
<g clip-path="url(#cp13)">
<ellipse cx="412.0" cy="169.0" rx="7" ry="4.5" transform="rotate(0 412.0 169.0)" fill="#000" fill-opacity="0.45" filter="url(#b1_5)"/>
<ellipse cx="422.0" cy="193.0" rx="6" ry="4" transform="rotate(0 422.0 193.0)" fill="#000" fill-opacity="0.35" filter="url(#b1_5)"/>
<ellipse cx="419.0" cy="182.0" rx="8" ry="10" transform="rotate(0 419.0 182.0)" fill="#000" fill-opacity="0.12" filter="url(#b3)"/>
<g filter="url(#bl)" stroke="#000" stroke-width="1.3" stroke-opacity="0.34">
<path d="M413 164.5h1.3M424 171.5h1.3M415 174.5h1.3M406 165.5h1.3M413 171.5h1.3M419 160.5h1.3M407 169.5h1.3M407 162.5h1.3M412 160.5h1.3M406 175.5h1.3M413 168.5h1.3M412 167.5h1.3M415 168.5h1.3M408 169.5h1.3M422 167.5h1.3M411 174.5h1.3M414 164.5h1.3M413 169.5h1.3M421 163.5h1.3M421 166.5h1.3M414 170.5h1.3M419 168.5h1.3M423 165.5h1.3M412 171.5h1.3M409 170.5h1.3M409 164.5h1.3M412 168.5h1.3M417 163.5h1.3M410 170.5h1.3M412 166.5h1.3M420 164.5h1.3M409 165.5h1.3M417 159.5h1.3M408 170.5h1.3M420 165.5h1.3M408 167.5h1.3M411 171.5h1.3M428 164.5h1.3M414 161.5h1.3M422 172.5h1.3M422 166.5h1.3M411 165.5h1.3M416 163.5h1.3M425 170.5h1.3M415 169.5h1.3M406 166.5h1.3M413 175.5h1.3M415 161.5h1.3M418 168.5h1.3M415 166.5h1.3M419 167.5h1.3M412 168.5h1.3M417 168.5h1.3M413 165.5h1.3M407 171.5h1.3M426 168.5h1.3M412 172.5h1.3M424 167.5h1.3M418 173.5h1.3M419 171.5h1.3M412 166.5h1.3M416 174.5h1.3M422 168.5h1.3M418 162.5h1.3M409 174.5h1.3M415 172.5h1.3M412 162.5h1.3M406 161.5h1.3M422 170.5h1.3M421 178.5h1.3M421 165.5h1.3M418 175.5h1.3M409 172.5h1.3M416 167.5h1.3M413 162.5h1.3M414 166.5h1.3M413 170.5h1.3M415 198.5h1.3M431 193.5h1.3M427 193.5h1.3M425 195.5h1.3M413 198.5h1.3M411 195.5h1.3M418 189.5h1.3M423 185.5h1.3M430 198.5h1.3M424 192.5h1.3M434 191.5h1.3M435 193.5h1.3M412 190.5h1.3M427 193.5h1.3M425 195.5h1.3M427 195.5h1.3M416 198.5h1.3M432 191.5h1.3M421 184.5h1.3M424 186.5h1.3M421 192.5h1.3M414 194.5h1.3M431 198.5h1.3M418 191.5h1.3M415 194.5h1.3M426 203.5h1.3M426 195.5h1.3M424 202.5h1.3M416 191.5h1.3M424 192.5h1.3M419 193.5h1.3M423 188.5h1.3M410 194.5h1.3M428 191.5h1.3M419 190.5h1.3M424 186.5h1.3M418 199.5h1.3M424 192.5h1.3M421 195.5h1.3M415 192.5h1.3M417 188.5h1.3M413 192.5h1.3M421 194.5h1.3M424 190.5h1.3M431 198.5h1.3M417 197.5h1.3M426 188.5h1.3M414 192.5h1.3M429 194.5h1.3M415 185.5h1.3M420 193.5h1.3M414 191.5h1.3M425 192.5h1.3M428 197.5h1.3M429 195.5h1.3M431 192.5h1.3M429 200.5h1.3M426 194.5h1.3M414 192.5h1.3M418 200.5h1.3M414 203.5h1.3M427 190.5h1.3M430 191.5h1.3M412 195.5h1.3M423 191.5h1.3M426 193.5h1.3M420 193.5h1.3M412 200.5h1.3M424 191.5h1.3M427 194.5h1.3M426 200.5h1.3M416 195.5h1.3M419 199.5h1.3M423 199.5h1.3M425 186.5h1.3M428 203.5h1.3M416 169.5h1.3M427 183.5h1.3M408 160.5h1.3M406 154.5h1.3M417 190.5h1.3M420 158.5h1.3M424 180.5h1.3M424 192.5h1.3M433 167.5h1.3M433 165.5h1.3M425 182.5h1.3M406 201.5h1.3M413 178.5h1.3M432 165.5h1.3M425 191.5h1.3M422 190.5h1.3M416 195.5h1.3M416 195.5h1.3M436 182.5h1.3M424 191.5h1.3M442 189.5h1.3M430 202.5h1.3M428 189.5h1.3M409 211.5h1.3M406 166.5h1.3M418 189.5h1.3M421 164.5h1.3M419 165.5h1.3M429 186.5h1.3M413 176.5h1.3M406 175.5h1.3M420 172.5h1.3M417 171.5h1.3M428 157.5h1.3M431 188.5h1.3M429 182.5h1.3M414 199.5h1.3M421 185.5h1.3M421 185.5h1.3M414 197.5h1.3M417 195.5h1.3M415 194.5h1.3M419 191.5h1.3M419 162.5h1.3M423 182.5h1.3M418 191.5h1.3M415 199.5h1.3M417 184.5h1.3M420 175.5h1.3M412 199.5h1.3M425 202.5h1.3M422 188.5h1.3M415 180.5h1.3M413 183.5h1.3M425 175.5h1.3M432 161.5h1.3M416 166.5h1.3M410 167.5h1.3M422 171.5h1.3M436 178.5h1.3M419 178.5h1.3M409 169.5h1.3M428 179.5h1.3M421 181.5h1.3M410 212.5h1.3M431 187.5h1.3M427 169.5h1.3M417 180.5h1.3M410 172.5h1.3M426 177.5h1.3M426 184.5h1.3M414 169.5h1.3M425 185.5h1.3M418 184.5h1.3M422 184.5h1.3M418 200.5h1.3M423 165.5h1.3M408 179.5h1.3M440 188.5h1.3M422 166.5h1.3M410 183.5h1.3M439 175.5h1.3M429 175.5h1.3M411 178.5h1.3M430 198.5h1.3M415 207.5h1.3M421 193.5h1.3M425 189.5h1.3M408 178.5h1.3M430 199.5h1.3M409 196.5h1.3M420 163.5h1.3M413 165.5h1.3M413 153.5h1.3M435 198.5h1.3M442 187.5h1.3M419 192.5h1.3M411 185.5h1.3M413 186.5h1.3M421 179.5h1.3M407 186.5h1.3M424 174.5h1.3M426 178.5h1.3M417 175.5h1.3M425 199.5h1.3M428 192.5h1.3M419 175.5h1.3M411 182.5h1.3M417 176.5h1.3M410 189.5h1.3M426 177.5h1.3M423 175.5h1.3M410 170.5h1.3M427 188.5h1.3M424 167.5h1.3M424 170.5h1.3M411 179.5h1.3M414 158.5h1.3M413 168.5h1.3M421 186.5h1.3M406 190.5h1.3M420 162.5h1.3M430 198.5h1.3M432 191.5h1.3M427 186.5h1.3M423 183.5h1.3M440 168.5h1.3M454 171.5h1.3M448 173.5h1.3M448 169.5h1.3M443 173.5h1.3M449 164.5h1.3M451 170.5h1.3M439 161.5h1.3M442 173.5h1.3M446 164.5h1.3M458 171.5h1.3M443 177.5h1.3M457 173.5h1.3M452 169.5h1.3M456 172.5h1.3M456 164.5h1.3M452 160.5h1.3"/>
<path d="M422 164.5h1.3M413 164.5h1.3M414 169.5h1.3M414 167.5h1.3M417 165.5h1.3M411 166.5h1.3M415 172.5h1.3M407 169.5h1.3M415 161.5h1.3M418 171.5h1.3M411 166.5h1.3M414 163.5h1.3M406 173.5h1.3M412 163.5h1.3M411 168.5h1.3M418 160.5h1.3M414 164.5h1.3M407 164.5h1.3M424 172.5h1.3M420 164.5h1.3M414 166.5h1.3M418 167.5h1.3M418 172.5h1.3M409 166.5h1.3M420 168.5h1.3M419 176.5h1.3M418 164.5h1.3M417 168.5h1.3M416 175.5h1.3M415 172.5h1.3M408 166.5h1.3M410 175.5h1.3M418 171.5h1.3M412 176.5h1.3M424 172.5h1.3M427 171.5h1.3M422 175.5h1.3M418 173.5h1.3M411 177.5h1.3M426 176.5h1.3M417 170.5h1.3M413 165.5h1.3M416 173.5h1.3M411 175.5h1.3M425 174.5h1.3M421 171.5h1.3M419 169.5h1.3M416 159.5h1.3M427 165.5h1.3M409 164.5h1.3M412 176.5h1.3M411 173.5h1.3M414 176.5h1.3M414 163.5h1.3M419 166.5h1.3M417 170.5h1.3M419 163.5h1.3M410 169.5h1.3M414 171.5h1.3M417 175.5h1.3M418 165.5h1.3M419 175.5h1.3M412 170.5h1.3M409 174.5h1.3M415 163.5h1.3M416 175.5h1.3M411 168.5h1.3M417 168.5h1.3M411 171.5h1.3M408 171.5h1.3M412 169.5h1.3M417 174.5h1.3M410 170.5h1.3M408 169.5h1.3M419 171.5h1.3M414 169.5h1.3M413 173.5h1.3M412 169.5h1.3M421 193.5h1.3M418 193.5h1.3M412 198.5h1.3M421 189.5h1.3M428 190.5h1.3M416 187.5h1.3M435 188.5h1.3M416 191.5h1.3M412 190.5h1.3M413 184.5h1.3M414 194.5h1.3M425 191.5h1.3M421 199.5h1.3M430 195.5h1.3M421 199.5h1.3M422 197.5h1.3M421 190.5h1.3M421 193.5h1.3M432 190.5h1.3M434 189.5h1.3M425 188.5h1.3M428 186.5h1.3M424 191.5h1.3M420 190.5h1.3M423 195.5h1.3M421 197.5h1.3M418 198.5h1.3M421 191.5h1.3M422 191.5h1.3M421 190.5h1.3M432 200.5h1.3M423 197.5h1.3M427 199.5h1.3M431 193.5h1.3M419 182.5h1.3M419 201.5h1.3M416 184.5h1.3M423 193.5h1.3M413 195.5h1.3M418 190.5h1.3M419 192.5h1.3M425 195.5h1.3M429 183.5h1.3M419 191.5h1.3M425 197.5h1.3M432 188.5h1.3M413 190.5h1.3M425 198.5h1.3M422 192.5h1.3M420 195.5h1.3M430 199.5h1.3M420 193.5h1.3M414 185.5h1.3M430 193.5h1.3M417 192.5h1.3M408 190.5h1.3M427 201.5h1.3M427 197.5h1.3M420 196.5h1.3M428 193.5h1.3M417 192.5h1.3M431 194.5h1.3M423 194.5h1.3M421 188.5h1.3M418 197.5h1.3M424 202.5h1.3M426 199.5h1.3M415 189.5h1.3M418 199.5h1.3M423 187.5h1.3M417 192.5h1.3M424 188.5h1.3M425 193.5h1.3M418 199.5h1.3M427 188.5h1.3M429 191.5h1.3M419 169.5h1.3M431 188.5h1.3M422 175.5h1.3M425 180.5h1.3M418 182.5h1.3M413 196.5h1.3M429 178.5h1.3M409 203.5h1.3M423 206.5h1.3M421 160.5h1.3M415 154.5h1.3M414 166.5h1.3M416 186.5h1.3M415 196.5h1.3M406 172.5h1.3M420 194.5h1.3M422 169.5h1.3M416 159.5h1.3M424 178.5h1.3M430 182.5h1.3M414 188.5h1.3M424 187.5h1.3M430 174.5h1.3M418 162.5h1.3M418 190.5h1.3M418 201.5h1.3M430 159.5h1.3M409 191.5h1.3M429 187.5h1.3M422 179.5h1.3M411 154.5h1.3M421 194.5h1.3M409 181.5h1.3M426 186.5h1.3M410 185.5h1.3M432 175.5h1.3M422 163.5h1.3M409 177.5h1.3M425 172.5h1.3M428 187.5h1.3M415 198.5h1.3M419 173.5h1.3M431 182.5h1.3M439 182.5h1.3M432 157.5h1.3M408 182.5h1.3M409 175.5h1.3M415 196.5h1.3M409 182.5h1.3M415 188.5h1.3M427 169.5h1.3M417 188.5h1.3M409 171.5h1.3M414 189.5h1.3M421 161.5h1.3M420 189.5h1.3M426 182.5h1.3M412 189.5h1.3M437 179.5h1.3M429 157.5h1.3M440 166.5h1.3M438 185.5h1.3M422 201.5h1.3M422 175.5h1.3M419 200.5h1.3M415 187.5h1.3M408 189.5h1.3M410 177.5h1.3M429 175.5h1.3M428 165.5h1.3M420 159.5h1.3M424 201.5h1.3M415 202.5h1.3M408 194.5h1.3M418 174.5h1.3M409 175.5h1.3M416 179.5h1.3M418 157.5h1.3M422 173.5h1.3M414 172.5h1.3M433 175.5h1.3M428 201.5h1.3M424 198.5h1.3M423 162.5h1.3M430 169.5h1.3M416 197.5h1.3M411 188.5h1.3M424 173.5h1.3M422 159.5h1.3M422 175.5h1.3M417 173.5h1.3M435 194.5h1.3M422 186.5h1.3M421 204.5h1.3M420 161.5h1.3M407 193.5h1.3M414 187.5h1.3M422 183.5h1.3M420 192.5h1.3M415 181.5h1.3M435 191.5h1.3M420 176.5h1.3M423 156.5h1.3M407 180.5h1.3M408 187.5h1.3M428 171.5h1.3M438 189.5h1.3M424 160.5h1.3M412 174.5h1.3M427 194.5h1.3M418 150.5h1.3M407 172.5h1.3M443 177.5h1.3M437 178.5h1.3M433 174.5h1.3M433 168.5h1.3M429 178.5h1.3M425 183.5h1.3M417 192.5h1.3M419 165.5h1.3M422 157.5h1.3M415 198.5h1.3M433 183.5h1.3M413 184.5h1.3M449 167.5h1.3M452 162.5h1.3M459 161.5h1.3M449 172.5h1.3M450 172.5h1.3M452 169.5h1.3M437 171.5h1.3M454 165.5h1.3M443 166.5h1.3M449 170.5h1.3M454 166.5h1.3M440 172.5h1.3M446 177.5h1.3M446 166.5h1.3M443 173.5h1.3M443 168.5h1.3M454 160.5h1.3"/>
<path d="M411 174.5h1.3M420 178.5h1.3M407 168.5h1.3M410 164.5h1.3M409 171.5h1.3M422 163.5h1.3M408 166.5h1.3M406 171.5h1.3M411 166.5h1.3M418 165.5h1.3M415 167.5h1.3M417 165.5h1.3M414 163.5h1.3M425 165.5h1.3M411 177.5h1.3M417 173.5h1.3M411 165.5h1.3M408 175.5h1.3M423 161.5h1.3M427 166.5h1.3M422 162.5h1.3M414 173.5h1.3M419 173.5h1.3M417 174.5h1.3M417 166.5h1.3M415 168.5h1.3M409 171.5h1.3M406 164.5h1.3M414 164.5h1.3M414 175.5h1.3M422 172.5h1.3M417 169.5h1.3M415 169.5h1.3M408 169.5h1.3M418 174.5h1.3M407 176.5h1.3M411 172.5h1.3M409 172.5h1.3M410 178.5h1.3M418 162.5h1.3M412 166.5h1.3M408 177.5h1.3M413 162.5h1.3M414 159.5h1.3M413 165.5h1.3M411 175.5h1.3M417 166.5h1.3M420 164.5h1.3M419 167.5h1.3M414 171.5h1.3M415 170.5h1.3M414 173.5h1.3M409 164.5h1.3M406 165.5h1.3M413 165.5h1.3M420 171.5h1.3M414 167.5h1.3M414 165.5h1.3M415 164.5h1.3M409 167.5h1.3M414 175.5h1.3M408 172.5h1.3M420 164.5h1.3M420 177.5h1.3M407 159.5h1.3M414 171.5h1.3M410 168.5h1.3M420 167.5h1.3M425 169.5h1.3M425 168.5h1.3M425 171.5h1.3M422 167.5h1.3M411 171.5h1.3M421 169.5h1.3M417 164.5h1.3M411 169.5h1.3M417 173.5h1.3M415 171.5h1.3M417 168.5h1.3M423 170.5h1.3M428 196.5h1.3M425 187.5h1.3M428 185.5h1.3M416 197.5h1.3M427 189.5h1.3M416 189.5h1.3M414 188.5h1.3M422 181.5h1.3M421 192.5h1.3M427 197.5h1.3M419 196.5h1.3M419 190.5h1.3M416 195.5h1.3M426 191.5h1.3M425 189.5h1.3M429 197.5h1.3M430 194.5h1.3M424 194.5h1.3M420 189.5h1.3M421 192.5h1.3M430 197.5h1.3M432 187.5h1.3M421 190.5h1.3M424 191.5h1.3M411 190.5h1.3M413 192.5h1.3M423 189.5h1.3M412 190.5h1.3M423 195.5h1.3M423 192.5h1.3M417 197.5h1.3M428 190.5h1.3M423 197.5h1.3M428 189.5h1.3M425 191.5h1.3M431 195.5h1.3M425 192.5h1.3M407 189.5h1.3M430 202.5h1.3M432 194.5h1.3M424 191.5h1.3M422 194.5h1.3M423 192.5h1.3M427 190.5h1.3M426 198.5h1.3M427 187.5h1.3M414 186.5h1.3M414 188.5h1.3M424 192.5h1.3M406 191.5h1.3M415 194.5h1.3M427 188.5h1.3M415 191.5h1.3M425 199.5h1.3M419 191.5h1.3M428 196.5h1.3M416 194.5h1.3M423 191.5h1.3M432 185.5h1.3M409 189.5h1.3M419 189.5h1.3M427 190.5h1.3M424 181.5h1.3M420 192.5h1.3M419 196.5h1.3M424 188.5h1.3M418 193.5h1.3M426 192.5h1.3M423 194.5h1.3M415 185.5h1.3M424 190.5h1.3M427 186.5h1.3M417 187.5h1.3M428 196.5h1.3M411 194.5h1.3M413 191.5h1.3M406 189.5h1.3M417 187.5h1.3M419 169.5h1.3M414 154.5h1.3M413 162.5h1.3M414 175.5h1.3M408 158.5h1.3M415 195.5h1.3M411 168.5h1.3M428 170.5h1.3M417 166.5h1.3M437 175.5h1.3M437 199.5h1.3M406 171.5h1.3M432 177.5h1.3M418 195.5h1.3M413 192.5h1.3M422 192.5h1.3M410 189.5h1.3M415 194.5h1.3M418 176.5h1.3M429 179.5h1.3M420 188.5h1.3M429 200.5h1.3M430 188.5h1.3M410 175.5h1.3M406 194.5h1.3M423 188.5h1.3M426 163.5h1.3M411 181.5h1.3M434 177.5h1.3M422 182.5h1.3M437 173.5h1.3M408 164.5h1.3M434 174.5h1.3M408 183.5h1.3M424 189.5h1.3M437 194.5h1.3M435 196.5h1.3M417 192.5h1.3M416 195.5h1.3M407 178.5h1.3M429 189.5h1.3M415 173.5h1.3M429 199.5h1.3M427 205.5h1.3M430 167.5h1.3M419 180.5h1.3M419 170.5h1.3M427 198.5h1.3M410 194.5h1.3M430 178.5h1.3M417 193.5h1.3M427 175.5h1.3M433 173.5h1.3M426 172.5h1.3M432 170.5h1.3M416 170.5h1.3M423 174.5h1.3M417 193.5h1.3M416 192.5h1.3M422 167.5h1.3M426 171.5h1.3M414 167.5h1.3M420 170.5h1.3M422 190.5h1.3M420 185.5h1.3M407 180.5h1.3M430 177.5h1.3M416 171.5h1.3M432 180.5h1.3M422 170.5h1.3M412 165.5h1.3M431 200.5h1.3M420 174.5h1.3M430 196.5h1.3M433 186.5h1.3M424 196.5h1.3M411 184.5h1.3M422 198.5h1.3M420 177.5h1.3M418 186.5h1.3M413 186.5h1.3M408 187.5h1.3M416 185.5h1.3M408 176.5h1.3M423 181.5h1.3M417 187.5h1.3M424 183.5h1.3M412 184.5h1.3M420 174.5h1.3M432 186.5h1.3M424 172.5h1.3M411 176.5h1.3M416 169.5h1.3M416 174.5h1.3M424 188.5h1.3M415 190.5h1.3M413 168.5h1.3M422 185.5h1.3M416 192.5h1.3M409 179.5h1.3M419 185.5h1.3M423 180.5h1.3M415 187.5h1.3M407 174.5h1.3M413 187.5h1.3M413 161.5h1.3M414 169.5h1.3M408 172.5h1.3M428 174.5h1.3M425 167.5h1.3M427 195.5h1.3M419 204.5h1.3M411 168.5h1.3M423 174.5h1.3M412 179.5h1.3M447 171.5h1.3M451 170.5h1.3M458 175.5h1.3M453 170.5h1.3M452 162.5h1.3M453 172.5h1.3M451 163.5h1.3M449 172.5h1.3M448 176.5h1.3M446 163.5h1.3M451 180.5h1.3M458 177.5h1.3M445 165.5h1.3M457 174.5h1.3M452 158.5h1.3M450 162.5h1.3M451 158.5h1.3"/>
<path d="M417 176.5h1.3M416 176.5h1.3M413 162.5h1.3M407 163.5h1.3M413 171.5h1.3M412 171.5h1.3M406 168.5h1.3M419 159.5h1.3M424 170.5h1.3M409 165.5h1.3M417 166.5h1.3M416 166.5h1.3M420 172.5h1.3M415 175.5h1.3M415 166.5h1.3M420 162.5h1.3M418 174.5h1.3M410 170.5h1.3M422 169.5h1.3M408 168.5h1.3M422 171.5h1.3M418 166.5h1.3M421 170.5h1.3M408 172.5h1.3M414 169.5h1.3M409 166.5h1.3M411 168.5h1.3M415 164.5h1.3M418 170.5h1.3M415 163.5h1.3M419 178.5h1.3M408 177.5h1.3M415 169.5h1.3M415 173.5h1.3M426 165.5h1.3M418 172.5h1.3M420 160.5h1.3M415 166.5h1.3M407 170.5h1.3M415 174.5h1.3M412 168.5h1.3M411 168.5h1.3M412 164.5h1.3M416 167.5h1.3M414 169.5h1.3M409 164.5h1.3M410 172.5h1.3M421 171.5h1.3M410 166.5h1.3M414 173.5h1.3M425 165.5h1.3M407 173.5h1.3M406 162.5h1.3M414 167.5h1.3M407 164.5h1.3M422 172.5h1.3M412 167.5h1.3M411 174.5h1.3M414 170.5h1.3M406 167.5h1.3M418 172.5h1.3M409 170.5h1.3M406 170.5h1.3M407 165.5h1.3M418 171.5h1.3M420 170.5h1.3M422 175.5h1.3M410 175.5h1.3M413 168.5h1.3M413 176.5h1.3M414 171.5h1.3M407 174.5h1.3M417 167.5h1.3M413 160.5h1.3M415 166.5h1.3M414 169.5h1.3M414 166.5h1.3M425 189.5h1.3M431 192.5h1.3M411 191.5h1.3M424 193.5h1.3M424 190.5h1.3M425 196.5h1.3M425 194.5h1.3M425 189.5h1.3M431 195.5h1.3M412 184.5h1.3M434 187.5h1.3M410 184.5h1.3M430 198.5h1.3M426 192.5h1.3M415 199.5h1.3M409 192.5h1.3M423 189.5h1.3M425 195.5h1.3M418 188.5h1.3M416 202.5h1.3M425 190.5h1.3M410 196.5h1.3M421 201.5h1.3M423 193.5h1.3M433 190.5h1.3M419 194.5h1.3M423 196.5h1.3M422 193.5h1.3M414 191.5h1.3M427 181.5h1.3M429 190.5h1.3M420 183.5h1.3M412 199.5h1.3M416 185.5h1.3M426 186.5h1.3M422 190.5h1.3M421 191.5h1.3M425 194.5h1.3M433 190.5h1.3M422 195.5h1.3M418 189.5h1.3M420 190.5h1.3M422 190.5h1.3M417 195.5h1.3M424 196.5h1.3M426 195.5h1.3M434 196.5h1.3M427 193.5h1.3M415 190.5h1.3M431 184.5h1.3M419 188.5h1.3M419 199.5h1.3M418 193.5h1.3M432 184.5h1.3M433 192.5h1.3M417 193.5h1.3M412 185.5h1.3M428 195.5h1.3M425 192.5h1.3M430 195.5h1.3M420 192.5h1.3M418 194.5h1.3M421 193.5h1.3M424 195.5h1.3M428 197.5h1.3M432 199.5h1.3M426 191.5h1.3M419 198.5h1.3M429 199.5h1.3M415 192.5h1.3M427 187.5h1.3M421 191.5h1.3M422 197.5h1.3M423 193.5h1.3M428 182.5h1.3M423 185.5h1.3M435 175.5h1.3M432 202.5h1.3M421 170.5h1.3M415 179.5h1.3M419 175.5h1.3M418 173.5h1.3M439 188.5h1.3M408 207.5h1.3M428 174.5h1.3M406 182.5h1.3M406 167.5h1.3M418 195.5h1.3M410 174.5h1.3M414 148.5h1.3M418 186.5h1.3M419 179.5h1.3M432 179.5h1.3M413 186.5h1.3M430 167.5h1.3M418 174.5h1.3M426 185.5h1.3M418 178.5h1.3M426 166.5h1.3M417 174.5h1.3M415 188.5h1.3M412 149.5h1.3M427 186.5h1.3M421 175.5h1.3M416 171.5h1.3M421 154.5h1.3M431 198.5h1.3M419 168.5h1.3M423 176.5h1.3M412 197.5h1.3M417 180.5h1.3M413 165.5h1.3M409 176.5h1.3M427 173.5h1.3M426 195.5h1.3M419 189.5h1.3M417 182.5h1.3M414 173.5h1.3M431 172.5h1.3M412 179.5h1.3M433 193.5h1.3M432 186.5h1.3M430 205.5h1.3M419 185.5h1.3M421 171.5h1.3M419 190.5h1.3M425 163.5h1.3M425 182.5h1.3M417 204.5h1.3M435 180.5h1.3M435 192.5h1.3M413 176.5h1.3M420 181.5h1.3M429 169.5h1.3M408 176.5h1.3M420 178.5h1.3M414 162.5h1.3M417 188.5h1.3M423 190.5h1.3M414 197.5h1.3M421 176.5h1.3M422 168.5h1.3M419 201.5h1.3M414 182.5h1.3M406 196.5h1.3M429 179.5h1.3M426 193.5h1.3M438 192.5h1.3M407 187.5h1.3M413 170.5h1.3M412 177.5h1.3M427 181.5h1.3M407 193.5h1.3M423 191.5h1.3M419 158.5h1.3M423 178.5h1.3M415 182.5h1.3M428 187.5h1.3M424 187.5h1.3M422 181.5h1.3M427 182.5h1.3M418 175.5h1.3M420 181.5h1.3M417 181.5h1.3M425 172.5h1.3M411 191.5h1.3M417 163.5h1.3M412 174.5h1.3M424 166.5h1.3M424 172.5h1.3M420 177.5h1.3M421 183.5h1.3M412 188.5h1.3M428 201.5h1.3M421 177.5h1.3M422 208.5h1.3M418 195.5h1.3M435 194.5h1.3M429 177.5h1.3M422 191.5h1.3M426 177.5h1.3M429 180.5h1.3M411 176.5h1.3M412 170.5h1.3M427 178.5h1.3M416 186.5h1.3M413 172.5h1.3M417 184.5h1.3M415 187.5h1.3M421 160.5h1.3M422 191.5h1.3M411 184.5h1.3M415 198.5h1.3M428 175.5h1.3M429 165.5h1.3M423 188.5h1.3M430 177.5h1.3M416 166.5h1.3M452 166.5h1.3M455 170.5h1.3M452 162.5h1.3M457 166.5h1.3M446 168.5h1.3M451 163.5h1.3M441 164.5h1.3M456 164.5h1.3M453 168.5h1.3M441 171.5h1.3M451 159.5h1.3M450 170.5h1.3M454 161.5h1.3M450 170.5h1.3M445 168.5h1.3M450 170.5h1.3M452 167.5h1.3"/>
<path d="M414 172.5h1.3M417 165.5h1.3M419 172.5h1.3M411 168.5h1.3M414 169.5h1.3M421 168.5h1.3M407 171.5h1.3M412 167.5h1.3M410 166.5h1.3M409 169.5h1.3M421 173.5h1.3M414 179.5h1.3M412 175.5h1.3M428 168.5h1.3M424 166.5h1.3M418 163.5h1.3M415 179.5h1.3M422 167.5h1.3M407 170.5h1.3M420 161.5h1.3M410 159.5h1.3M417 177.5h1.3M420 171.5h1.3M430 169.5h1.3M413 163.5h1.3M409 167.5h1.3M424 165.5h1.3M426 172.5h1.3M422 165.5h1.3M420 170.5h1.3M407 168.5h1.3M418 174.5h1.3M416 172.5h1.3M411 177.5h1.3M420 168.5h1.3M412 170.5h1.3M419 165.5h1.3M413 171.5h1.3M423 167.5h1.3M411 172.5h1.3M417 172.5h1.3M411 169.5h1.3M424 175.5h1.3M420 178.5h1.3M411 172.5h1.3M410 165.5h1.3M418 172.5h1.3M420 172.5h1.3M417 164.5h1.3M420 161.5h1.3M415 178.5h1.3M414 164.5h1.3M418 165.5h1.3M421 166.5h1.3M423 171.5h1.3M412 169.5h1.3M424 168.5h1.3M410 162.5h1.3M411 169.5h1.3M409 166.5h1.3M410 172.5h1.3M422 168.5h1.3M423 168.5h1.3M412 167.5h1.3M408 167.5h1.3M430 170.5h1.3M422 170.5h1.3M418 162.5h1.3M411 174.5h1.3M410 170.5h1.3M409 164.5h1.3M420 172.5h1.3M421 170.5h1.3M418 162.5h1.3M416 172.5h1.3M412 168.5h1.3M412 164.5h1.3M410 168.5h1.3M418 171.5h1.3M412 167.5h1.3M416 193.5h1.3M422 191.5h1.3M429 190.5h1.3M425 193.5h1.3M425 196.5h1.3M413 197.5h1.3M424 190.5h1.3M427 185.5h1.3M423 196.5h1.3M427 194.5h1.3M424 189.5h1.3M430 188.5h1.3M418 196.5h1.3M420 192.5h1.3M423 191.5h1.3M419 190.5h1.3M419 202.5h1.3M417 202.5h1.3M425 199.5h1.3M422 194.5h1.3M419 194.5h1.3M431 193.5h1.3M428 196.5h1.3M418 199.5h1.3M435 192.5h1.3M420 187.5h1.3M431 192.5h1.3M429 192.5h1.3M431 190.5h1.3M426 188.5h1.3M424 193.5h1.3M425 194.5h1.3M427 195.5h1.3M434 189.5h1.3M427 188.5h1.3M419 188.5h1.3M420 190.5h1.3M415 198.5h1.3M408 196.5h1.3M431 186.5h1.3M421 198.5h1.3M432 194.5h1.3M419 191.5h1.3M417 193.5h1.3M430 188.5h1.3M430 191.5h1.3M420 193.5h1.3M414 192.5h1.3M413 192.5h1.3M423 196.5h1.3M413 184.5h1.3M426 185.5h1.3M423 196.5h1.3M410 187.5h1.3M424 196.5h1.3M427 196.5h1.3M428 190.5h1.3M430 186.5h1.3M423 189.5h1.3M433 199.5h1.3M418 189.5h1.3M427 194.5h1.3M426 194.5h1.3M407 189.5h1.3M421 187.5h1.3M412 193.5h1.3M408 198.5h1.3M411 197.5h1.3M433 201.5h1.3M422 200.5h1.3M423 193.5h1.3M430 187.5h1.3M408 191.5h1.3M427 193.5h1.3M417 194.5h1.3M425 183.5h1.3M410 192.5h1.3M420 214.5h1.3M417 194.5h1.3M424 160.5h1.3M426 180.5h1.3M418 188.5h1.3M435 157.5h1.3M431 163.5h1.3M415 204.5h1.3M411 182.5h1.3M416 169.5h1.3M423 166.5h1.3M420 185.5h1.3M412 177.5h1.3M409 176.5h1.3M412 183.5h1.3M406 170.5h1.3M417 172.5h1.3M412 175.5h1.3M415 172.5h1.3M414 161.5h1.3M418 170.5h1.3M431 177.5h1.3M421 176.5h1.3M417 200.5h1.3M422 173.5h1.3M436 176.5h1.3M432 191.5h1.3M409 157.5h1.3M418 184.5h1.3M424 169.5h1.3M420 187.5h1.3M424 197.5h1.3M419 176.5h1.3M431 197.5h1.3M422 189.5h1.3M419 182.5h1.3M414 181.5h1.3M418 176.5h1.3M427 195.5h1.3M420 153.5h1.3M427 195.5h1.3M429 187.5h1.3M432 190.5h1.3M429 157.5h1.3M417 173.5h1.3M423 177.5h1.3M414 189.5h1.3M425 174.5h1.3M420 204.5h1.3M411 200.5h1.3M428 168.5h1.3M414 153.5h1.3M429 177.5h1.3M418 186.5h1.3M425 175.5h1.3M427 178.5h1.3M412 177.5h1.3M422 199.5h1.3M408 170.5h1.3M428 182.5h1.3M425 198.5h1.3M414 183.5h1.3M419 190.5h1.3M423 174.5h1.3M409 171.5h1.3M423 186.5h1.3M413 181.5h1.3M413 179.5h1.3M417 169.5h1.3M425 179.5h1.3M419 200.5h1.3M411 151.5h1.3M413 197.5h1.3M430 172.5h1.3M412 206.5h1.3M423 195.5h1.3M414 183.5h1.3M421 183.5h1.3M413 177.5h1.3M421 201.5h1.3M423 215.5h1.3M422 169.5h1.3M412 208.5h1.3M420 195.5h1.3M407 181.5h1.3M417 154.5h1.3M411 163.5h1.3M428 194.5h1.3M420 169.5h1.3M422 180.5h1.3M413 190.5h1.3M414 160.5h1.3M421 187.5h1.3M411 176.5h1.3M409 187.5h1.3M432 204.5h1.3M436 191.5h1.3M418 171.5h1.3M419 182.5h1.3M406 183.5h1.3M420 193.5h1.3M433 184.5h1.3M425 192.5h1.3M416 173.5h1.3M407 170.5h1.3M432 194.5h1.3M412 189.5h1.3M415 153.5h1.3M421 178.5h1.3M413 168.5h1.3M409 191.5h1.3M437 168.5h1.3M410 163.5h1.3M424 187.5h1.3M416 182.5h1.3M418 173.5h1.3M419 184.5h1.3M445 173.5h1.3M454 171.5h1.3M461 175.5h1.3M448 159.5h1.3M458 165.5h1.3M454 170.5h1.3M458 181.5h1.3M456 172.5h1.3M453 171.5h1.3M448 175.5h1.3M454 160.5h1.3M452 171.5h1.3M451 177.5h1.3M449 172.5h1.3M441 166.5h1.3M448 166.5h1.3"/>
<path d="M408 168.5h1.3M418 166.5h1.3M415 165.5h1.3M417 161.5h1.3M413 170.5h1.3M409 178.5h1.3M424 172.5h1.3M410 176.5h1.3M416 164.5h1.3M422 163.5h1.3M420 178.5h1.3M413 169.5h1.3M417 170.5h1.3M412 171.5h1.3M426 168.5h1.3M417 166.5h1.3M416 164.5h1.3M425 173.5h1.3M414 171.5h1.3M409 166.5h1.3M417 166.5h1.3M419 163.5h1.3M423 171.5h1.3M422 163.5h1.3M425 163.5h1.3M415 169.5h1.3M410 162.5h1.3M426 165.5h1.3M409 167.5h1.3M410 167.5h1.3M411 167.5h1.3M413 166.5h1.3M414 164.5h1.3M419 170.5h1.3M420 171.5h1.3M420 165.5h1.3M414 169.5h1.3M416 173.5h1.3M411 166.5h1.3M415 163.5h1.3M419 169.5h1.3M412 163.5h1.3M414 168.5h1.3M411 161.5h1.3M416 173.5h1.3M417 174.5h1.3M412 164.5h1.3M419 170.5h1.3M415 167.5h1.3M419 167.5h1.3M418 164.5h1.3M416 174.5h1.3M423 164.5h1.3M419 168.5h1.3M412 168.5h1.3M421 166.5h1.3M412 179.5h1.3M416 166.5h1.3M406 166.5h1.3M412 167.5h1.3M428 168.5h1.3M421 173.5h1.3M406 166.5h1.3M418 172.5h1.3M421 160.5h1.3M416 169.5h1.3M417 160.5h1.3M412 167.5h1.3M414 169.5h1.3M419 171.5h1.3M412 160.5h1.3M413 166.5h1.3M410 169.5h1.3M413 168.5h1.3M418 170.5h1.3M414 164.5h1.3M417 166.5h1.3M423 199.5h1.3M430 188.5h1.3M418 196.5h1.3M412 194.5h1.3M425 197.5h1.3M421 201.5h1.3M429 195.5h1.3M424 188.5h1.3M432 198.5h1.3M411 199.5h1.3M431 195.5h1.3M424 195.5h1.3M423 200.5h1.3M429 192.5h1.3M408 192.5h1.3M414 189.5h1.3M434 195.5h1.3M417 185.5h1.3M422 189.5h1.3M424 199.5h1.3M417 189.5h1.3M427 195.5h1.3M420 199.5h1.3M422 198.5h1.3M428 201.5h1.3M423 194.5h1.3M427 196.5h1.3M416 196.5h1.3M425 192.5h1.3M430 189.5h1.3M417 196.5h1.3M423 184.5h1.3M425 190.5h1.3M415 194.5h1.3M428 193.5h1.3M418 193.5h1.3M412 186.5h1.3M432 190.5h1.3M425 187.5h1.3M426 196.5h1.3M414 189.5h1.3M423 186.5h1.3M426 199.5h1.3M415 192.5h1.3M431 187.5h1.3M407 191.5h1.3M426 198.5h1.3M425 189.5h1.3M419 196.5h1.3M426 199.5h1.3M409 189.5h1.3M415 194.5h1.3M418 188.5h1.3M429 196.5h1.3M413 194.5h1.3M428 194.5h1.3M429 191.5h1.3M415 191.5h1.3M427 182.5h1.3M432 192.5h1.3M424 187.5h1.3M424 192.5h1.3M408 192.5h1.3M428 185.5h1.3M425 187.5h1.3M424 193.5h1.3M416 192.5h1.3M417 197.5h1.3M424 190.5h1.3M427 191.5h1.3M421 186.5h1.3M428 194.5h1.3M423 191.5h1.3M413 190.5h1.3M431 194.5h1.3M429 187.5h1.3M420 161.5h1.3M424 186.5h1.3M417 160.5h1.3M419 191.5h1.3M417 195.5h1.3M428 176.5h1.3M423 190.5h1.3M422 178.5h1.3M436 197.5h1.3M420 206.5h1.3M415 168.5h1.3M417 150.5h1.3M411 184.5h1.3M423 191.5h1.3M419 199.5h1.3M417 190.5h1.3M440 191.5h1.3M417 203.5h1.3M419 173.5h1.3M420 172.5h1.3M432 180.5h1.3M406 171.5h1.3M420 200.5h1.3M422 172.5h1.3M420 179.5h1.3M429 165.5h1.3M429 184.5h1.3M424 212.5h1.3M427 206.5h1.3M427 192.5h1.3M420 174.5h1.3M424 185.5h1.3M418 195.5h1.3M428 172.5h1.3M425 187.5h1.3M423 173.5h1.3M423 175.5h1.3M415 167.5h1.3M424 187.5h1.3M409 196.5h1.3M423 175.5h1.3M424 209.5h1.3M421 189.5h1.3M423 175.5h1.3M424 177.5h1.3M421 195.5h1.3M426 187.5h1.3M418 172.5h1.3M413 167.5h1.3M416 177.5h1.3M417 177.5h1.3M423 166.5h1.3M421 198.5h1.3M419 161.5h1.3M431 180.5h1.3M412 164.5h1.3M423 194.5h1.3M411 177.5h1.3M436 182.5h1.3M423 175.5h1.3M419 167.5h1.3M429 173.5h1.3M413 186.5h1.3M427 165.5h1.3M415 183.5h1.3M410 177.5h1.3M418 213.5h1.3M421 188.5h1.3M434 169.5h1.3M425 172.5h1.3M424 179.5h1.3M433 181.5h1.3M424 174.5h1.3M435 156.5h1.3M416 164.5h1.3M419 160.5h1.3M424 185.5h1.3M410 202.5h1.3M423 189.5h1.3M413 164.5h1.3M419 163.5h1.3M434 166.5h1.3M436 173.5h1.3M422 188.5h1.3M417 198.5h1.3M419 163.5h1.3M409 178.5h1.3M420 166.5h1.3M413 191.5h1.3M412 170.5h1.3M413 167.5h1.3M426 180.5h1.3M440 168.5h1.3M426 186.5h1.3M424 176.5h1.3M427 167.5h1.3M414 191.5h1.3M410 162.5h1.3M428 176.5h1.3M412 181.5h1.3M411 166.5h1.3M415 170.5h1.3M423 197.5h1.3M411 180.5h1.3M406 179.5h1.3M416 195.5h1.3M422 166.5h1.3M414 167.5h1.3M429 167.5h1.3M429 184.5h1.3M419 184.5h1.3M414 175.5h1.3M414 188.5h1.3M418 179.5h1.3M422 185.5h1.3M419 192.5h1.3M412 180.5h1.3M419 181.5h1.3M427 197.5h1.3M410 165.5h1.3M429 184.5h1.3M421 164.5h1.3M414 191.5h1.3M434 208.5h1.3M428 171.5h1.3M453 176.5h1.3M452 168.5h1.3M450 173.5h1.3M451 171.5h1.3M461 160.5h1.3M434 166.5h1.3M454 165.5h1.3M444 167.5h1.3M447 172.5h1.3M448 172.5h1.3M464 174.5h1.3M450 173.5h1.3M453 161.5h1.3M446 178.5h1.3M459 179.5h1.3M459 168.5h1.3"/>
</g></g>
<path d="M404.0 136.0H485.6V218.1" fill="none" stroke="#c8c8c8" stroke-width="1.4"/>
<path d="M404.0 136.0V218.1H485.6" fill="none" stroke="#b4b4b4" stroke-width="1.8"/>
<path d="M403.5 137.5h2.5M403.5 157.5h2.5M403.5 177.5h2.5M403.5 197.5h2.5M403.5 217.5h2.5M405.0 218.6v-2M425.0 218.6v-2M445.0 218.6v-2M465.0 218.6v-2M485.0 218.6v-2M411.0 218.6v-1.2M415.0 218.6v-1.2M418.0 218.6v-1.2M420.0 218.6v-1.2M422.0 218.6v-1.2M431.0 218.6v-1.2M435.0 218.6v-1.2M438.0 218.6v-1.2M440.0 218.6v-1.2M442.0 218.6v-1.2M451.0 218.6v-1.2M455.0 218.6v-1.2M458.0 218.6v-1.2M460.0 218.6v-1.2M462.0 218.6v-1.2M471.0 218.6v-1.2M475.0 218.6v-1.2M478.0 218.6v-1.2M480.0 218.6v-1.2M482.0 218.6v-1.2" stroke="#8a8a8a" stroke-width="1.1"/>
<rect x="438.3" y="156.0" width="38.8" height="32" fill="none" stroke="#111" stroke-width="1.9"/>
<text x="457.6" y="151.6" font-size="13.5" font-weight="bold" text-anchor="middle" fill="#111" stroke="#111" stroke-width="0.2" >7</text>
<path d="M91.2 280.9H486.5" stroke="#7a7a7a" stroke-width="2.4"/>
<path d="M486.5 281.2V1143.5" stroke="#111" stroke-width="1.5"/>
<path d="M91.2 280.5V1144.5" stroke="#111" stroke-width="2"/>
<path d="M91.2 574H222M91.2 865H486.5M91.2 1143.6H486.5" stroke="#111" stroke-width="2"/>
<path d="M222 574.1H486.5" stroke="#7e7e7e" stroke-width="2.4"/>
<path d="M86.8 574.0H91.2" stroke="#111" stroke-width="1.4"/>
<text x="79.6" y="579.9" font-size="17.5" font-weight="bold" text-anchor="end" fill="#111" stroke="#111" stroke-width="0.65" >0</text>
<path d="M86.8 525.2H91.2" stroke="#111" stroke-width="1.4"/>
<text x="79.6" y="531.1" font-size="17.5" font-weight="bold" text-anchor="end" fill="#111" stroke="#111" stroke-width="0.65" >2</text>
<path d="M86.8 476.3H91.2" stroke="#111" stroke-width="1.4"/>
<text x="79.6" y="482.2" font-size="17.5" font-weight="bold" text-anchor="end" fill="#111" stroke="#111" stroke-width="0.65" >4</text>
<path d="M86.8 427.5H91.2" stroke="#111" stroke-width="1.4"/>
<text x="79.6" y="433.4" font-size="17.5" font-weight="bold" text-anchor="end" fill="#111" stroke="#111" stroke-width="0.65" >6</text>
<path d="M86.8 378.6H91.2" stroke="#111" stroke-width="1.4"/>
<text x="79.6" y="384.5" font-size="17.5" font-weight="bold" text-anchor="end" fill="#111" stroke="#111" stroke-width="0.65" >8</text>
<path d="M86.8 329.8H91.2" stroke="#111" stroke-width="1.4"/>
<text x="79.6" y="335.7" font-size="17.5" font-weight="bold" text-anchor="end" fill="#111" stroke="#111" stroke-width="0.65" >10</text>
<path d="M86.8 281.0H91.2" stroke="#111" stroke-width="1.4"/>
<text x="79.6" y="286.9" font-size="17.5" font-weight="bold" text-anchor="end" fill="#111" stroke="#111" stroke-width="0.65" >12</text>
<path d="M86.8 865.0H91.2" stroke="#111" stroke-width="1.4"/>
<text x="79.0" y="870.9" font-size="17.5" font-weight="bold" text-anchor="end" fill="#111" stroke="#111" stroke-width="0.65" >0</text>
<path d="M86.8 806.5H91.2" stroke="#111" stroke-width="1.4"/>
<text x="79.0" y="812.4" font-size="17.5" font-weight="bold" text-anchor="end" fill="#111" stroke="#111" stroke-width="0.65" >5</text>
<path d="M86.8 748.0H91.2" stroke="#111" stroke-width="1.4"/>
<text x="79.0" y="753.9" font-size="17.5" font-weight="bold" text-anchor="end" fill="#111" stroke="#111" stroke-width="0.65" >10</text>
<path d="M86.8 689.5H91.2" stroke="#111" stroke-width="1.4"/>
<text x="79.0" y="695.4" font-size="17.5" font-weight="bold" text-anchor="end" fill="#111" stroke="#111" stroke-width="0.65" >15</text>
<path d="M86.8 631.0H91.2" stroke="#111" stroke-width="1.4"/>
<text x="79.0" y="636.9" font-size="17.5" font-weight="bold" text-anchor="end" fill="#111" stroke="#111" stroke-width="0.65" >20</text>
<path d="M86.8 1143.5H91.2" stroke="#111" stroke-width="1.4"/>
<text x="78.6" y="1149.4" font-size="17.5" font-weight="bold" text-anchor="end" fill="#111" stroke="#111" stroke-width="0.65" >0</text>
<path d="M86.8 1097.1H91.2" stroke="#111" stroke-width="1.4"/>
<text x="78.6" y="1103.0" font-size="17.5" font-weight="bold" text-anchor="end" fill="#111" stroke="#111" stroke-width="0.65" >2</text>
<path d="M86.8 1050.7H91.2" stroke="#111" stroke-width="1.4"/>
<text x="78.6" y="1056.6" font-size="17.5" font-weight="bold" text-anchor="end" fill="#111" stroke="#111" stroke-width="0.65" >4</text>
<path d="M86.8 1004.3H91.2" stroke="#111" stroke-width="1.4"/>
<text x="78.6" y="1010.2" font-size="17.5" font-weight="bold" text-anchor="end" fill="#111" stroke="#111" stroke-width="0.65" >6</text>
<path d="M86.8 957.9H91.2" stroke="#111" stroke-width="1.4"/>
<text x="78.6" y="963.8" font-size="17.5" font-weight="bold" text-anchor="end" fill="#111" stroke="#111" stroke-width="0.65" >8</text>
<path d="M86.8 911.5H91.2" stroke="#111" stroke-width="1.4"/>
<text x="78.6" y="917.4" font-size="17.5" font-weight="bold" text-anchor="end" fill="#111" stroke="#111" stroke-width="0.65" >10</text>
<path d="M124.0 1143.6V1146.5" stroke="#111" stroke-width="1.3"/>
<text x="124.0" y="1166.3" font-size="17.5" font-weight="bold" text-anchor="middle" fill="#111" stroke="#111" stroke-width="0.5" >1</text>
<path d="M189.9 1143.6V1146.5" stroke="#111" stroke-width="1.3"/>
<text x="189.9" y="1166.3" font-size="17.5" font-weight="bold" text-anchor="middle" fill="#111" stroke="#111" stroke-width="0.5" >2</text>
<path d="M255.8 1143.6V1146.5" stroke="#111" stroke-width="1.3"/>
<text x="255.8" y="1166.3" font-size="17.5" font-weight="bold" text-anchor="middle" fill="#111" stroke="#111" stroke-width="0.5" >3</text>
<path d="M321.70000000000005 1143.6V1146.5" stroke="#111" stroke-width="1.3"/>
<text x="321.70000000000005" y="1166.3" font-size="17.5" font-weight="bold" text-anchor="middle" fill="#111" stroke="#111" stroke-width="0.5" >4</text>
<path d="M387.6 1143.6V1146.5" stroke="#111" stroke-width="1.3"/>
<text x="387.6" y="1166.3" font-size="17.5" font-weight="bold" text-anchor="middle" fill="#111" stroke="#111" stroke-width="0.5" >5</text>
<path d="M453.5 1143.6V1146.5" stroke="#111" stroke-width="1.3"/>
<text x="453.5" y="1166.3" font-size="17.5" font-weight="bold" text-anchor="middle" fill="#111" stroke="#111" stroke-width="0.5" >6</text>
<text x="255.8" y="1193.2" font-size="16.8" font-weight="bold" textLength="52" lengthAdjust="spacingAndGlyphs" fill="#111" stroke="#111" stroke-width="0.4" >Month</text>
<text transform="translate(40.1,498.6) rotate(-90)" x="0" y="0" font-size="18.5" font-weight="bold" textLength="145.20000000000005" lengthAdjust="spacingAndGlyphs" fill="#111" stroke="#111" stroke-width="0.4">No. B-1 cells (x10<tspan dy="-6" font-size="11">6</tspan><tspan dy="6">)</tspan></text>
<text transform="translate(39.8,829.3) rotate(-90)" x="0" y="0" font-size="18.5" font-weight="bold" textLength="209.29999999999995" lengthAdjust="spacingAndGlyphs" fill="#111" stroke="#111" stroke-width="0.4">No. anti-Sm B-1 cells (x10<tspan dy="-6" font-size="11">5</tspan><tspan dy="6">)</tspan></text>
<text transform="translate(38.1,1083.4) rotate(-90)" x="0" y="0" font-size="18.5" font-weight="bold" textLength="142.70000000000005" lengthAdjust="spacingAndGlyphs" fill="#111" stroke="#111" stroke-width="0.4">No. B-1 cells (x10<tspan dy="-6" font-size="11">6</tspan><tspan dy="6">)</tspan></text>
<path d="M124.0 537.4V547.1M121.0 537.4H127.0M121.0 547.1H127.0" stroke="#111" stroke-width="1.7"/>
<path d="M189.9 437.0V459.0M186.9 437.0H192.9M186.9 459.0H192.9" stroke="#111" stroke-width="1.7"/>
<path d="M255.8 335.2V384.0M252.8 335.2H258.8M252.8 384.0H258.8" stroke="#111" stroke-width="1.7"/>
<path d="M453.5 326.9V370.3M450.5 326.9H456.5M450.5 370.3H456.5" stroke="#111" stroke-width="1.7"/>
<path d="M124.0 550.3V557.6M121.0 550.3H127.0M121.0 557.6H127.0" stroke="#111" stroke-width="1.7"/>
<path d="M189.9 471.9V489.5M186.9 471.9H192.9M186.9 489.5H192.9" stroke="#111" stroke-width="1.7"/>
<path d="M255.8 459.2V483.6M252.8 459.2H258.8M252.8 483.6H258.8" stroke="#111" stroke-width="1.7"/>
<path d="M453.5 470.7V495.1M450.5 470.7H456.5M450.5 495.1H456.5" stroke="#111" stroke-width="1.7"/>
<path d="M124.0 549.3V556.7M121.0 549.3H127.0M121.0 556.7H127.0" stroke="#111" stroke-width="1.7"/>
<path d="M189.9 510.5V522.7M186.9 510.5H192.9M186.9 522.7H192.9" stroke="#111" stroke-width="1.7"/>
<path d="M255.8 487.1V507.1M252.8 487.1H258.8M252.8 507.1H258.8" stroke="#111" stroke-width="1.7"/>
<path d="M453.5 499.8V514.4M450.5 499.8H456.5M450.5 514.4H456.5" stroke="#111" stroke-width="1.7"/>
<path d="M124.0 553.2V560.6M121.0 553.2H127.0M121.0 560.6H127.0" stroke="#111" stroke-width="1.7"/>
<path d="M189.9 518.3V532.0M186.9 518.3H192.9M186.9 532.0H192.9" stroke="#111" stroke-width="1.7"/>
<path d="M255.8 513.9V531.0M252.8 513.9H258.8M252.8 531.0H258.8" stroke="#111" stroke-width="1.7"/>
<path d="M453.5 505.6V525.2M450.5 505.6H456.5M450.5 525.2H456.5" stroke="#111" stroke-width="1.7"/>
<path d="M124.0 542.3L189.9 448.0L255.8 359.6L453.5 348.6" fill="none" stroke="#111" stroke-width="1.15"/>
<path d="M124.0 554.0L189.9 480.7L255.8 471.4L453.5 482.9" fill="none" stroke="#111" stroke-width="1.15"/>
<path d="M124.0 553.0L189.9 516.6L255.8 497.1L453.5 507.1" fill="none" stroke="#111" stroke-width="1.15"/>
<path d="M124.0 556.9L189.9 525.2L255.8 522.5L453.5 515.4" fill="none" stroke="#111" stroke-width="1.15"/>
<path d="M120.2 539.0H127.8L124.0 546.2Z" fill="#111"/>
<path d="M186.1 444.8H193.7L189.9 451.9Z" fill="#111"/>
<path d="M252.0 356.4H259.6L255.8 363.5Z" fill="#111"/>
<path d="M449.7 345.4H457.3L453.5 352.5Z" fill="#111"/>
<path d="M121.2 551.6H126.8L124.0 556.8Z" fill="#fff" stroke="#111" stroke-width="1.2" stroke-linejoin="miter"/>
<path d="M187.1 478.3H192.7L189.9 483.6Z" fill="#fff" stroke="#111" stroke-width="1.2" stroke-linejoin="miter"/>
<path d="M253.0 469.1H258.6L255.8 474.3Z" fill="#fff" stroke="#111" stroke-width="1.2" stroke-linejoin="miter"/>
<path d="M450.7 480.5H456.3L453.5 485.8Z" fill="#fff" stroke="#111" stroke-width="1.2" stroke-linejoin="miter"/>
<circle cx="124.0" cy="553.0" r="3.04" fill="#111"/>
<circle cx="189.9" cy="516.6" r="3.04" fill="#111"/>
<circle cx="255.8" cy="497.1" r="3.04" fill="#111"/>
<circle cx="453.5" cy="507.1" r="3.04" fill="#111"/>
<circle cx="124.0" cy="556.9" r="2.67" fill="#fff" stroke="#111" stroke-width="1.3"/>
<circle cx="189.9" cy="525.2" r="2.67" fill="#fff" stroke="#111" stroke-width="1.3"/>
<circle cx="255.8" cy="522.5" r="2.67" fill="#fff" stroke="#111" stroke-width="1.3"/>
<circle cx="453.5" cy="515.4" r="2.67" fill="#fff" stroke="#111" stroke-width="1.3"/>
<path d="M124.0 817.6V831.7M121.0 817.6H127.0M121.0 831.7H127.0" stroke="#111" stroke-width="1.7"/>
<path d="M189.9 718.4V756.5M186.9 718.4H192.9M186.9 756.5H192.9" stroke="#111" stroke-width="1.7"/>
<path d="M255.8 645.7V699.6M252.8 645.7H258.8M252.8 699.6H258.8" stroke="#111" stroke-width="1.7"/>
<path d="M453.5 627.8V690.3M450.5 627.8H456.5M450.5 690.3H456.5" stroke="#111" stroke-width="1.7"/>
<path d="M124.0 820.5V834.6M121.0 820.5H127.0M121.0 834.6H127.0" stroke="#111" stroke-width="1.7"/>
<path d="M189.9 765.1V785.9M186.9 765.1H192.9M186.9 785.9H192.9" stroke="#111" stroke-width="1.7"/>
<path d="M255.8 722.8V768.0M252.8 722.8H258.8M252.8 768.0H258.8" stroke="#111" stroke-width="1.7"/>
<path d="M453.5 736.9V764.0M450.5 736.9H456.5M450.5 764.0H456.5" stroke="#111" stroke-width="1.7"/>
<path d="M124.0 822.3V836.3M121.0 822.3H127.0M121.0 836.3H127.0" stroke="#111" stroke-width="1.7"/>
<path d="M189.9 795.4V817.6M186.9 795.4H192.9M186.9 817.6H192.9" stroke="#111" stroke-width="1.7"/>
<path d="M255.8 808.3V824.4M252.8 808.3H258.8M252.8 824.4H258.8" stroke="#111" stroke-width="1.7"/>
<path d="M453.5 812.6V826.6M450.5 812.6H456.5M450.5 826.6H456.5" stroke="#111" stroke-width="1.7"/>
<path d="M124.0 829.9V840.4M121.0 829.9H127.0M121.0 840.4H127.0" stroke="#111" stroke-width="1.7"/>
<path d="M189.9 796.6V818.8M186.9 796.6H192.9M186.9 818.8H192.9" stroke="#111" stroke-width="1.7"/>
<path d="M255.8 816.7V830.7M252.8 816.7H258.8M252.8 830.7H258.8" stroke="#111" stroke-width="1.7"/>
<path d="M453.5 821.2V834.3M450.5 821.2H456.5M450.5 834.3H456.5" stroke="#111" stroke-width="1.7"/>
<path d="M124.0 824.6L189.9 737.5L255.8 672.7L453.5 659.1" fill="none" stroke="#111" stroke-width="1.15"/>
<path d="M124.0 827.6L189.9 775.5L255.8 745.4L453.5 750.5" fill="none" stroke="#111" stroke-width="1.15"/>
<path d="M124.0 829.3L189.9 806.5L255.8 816.3L453.5 819.6" fill="none" stroke="#111" stroke-width="1.15"/>
<path d="M124.0 835.2L189.9 807.7L255.8 823.7L453.5 827.8" fill="none" stroke="#111" stroke-width="1.15"/>
<path d="M120.2 821.4H127.8L124.0 828.5Z" fill="#111"/>
<path d="M186.1 734.2H193.7L189.9 741.4Z" fill="#111"/>
<path d="M252.0 669.4H259.6L255.8 676.6Z" fill="#111"/>
<path d="M449.7 655.9H457.3L453.5 663.0Z" fill="#111"/>
<circle cx="124.0" cy="827.6" r="3.04" fill="#111"/>
<circle cx="189.9" cy="775.5" r="3.04" fill="#111"/>
<circle cx="255.8" cy="745.4" r="3.04" fill="#111"/>
<circle cx="453.5" cy="750.5" r="3.04" fill="#111"/>
<path d="M121.2 826.9H126.8L124.0 832.2Z" fill="#fff" stroke="#111" stroke-width="1.2" stroke-linejoin="miter"/>
<path d="M187.1 804.1H192.7L189.9 809.4Z" fill="#fff" stroke="#111" stroke-width="1.2" stroke-linejoin="miter"/>
<path d="M253.0 814.0H258.6L255.8 819.2Z" fill="#fff" stroke="#111" stroke-width="1.2" stroke-linejoin="miter"/>
<path d="M450.7 817.2H456.3L453.5 822.5Z" fill="#fff" stroke="#111" stroke-width="1.2" stroke-linejoin="miter"/>
<circle cx="124.0" cy="835.2" r="2.67" fill="#fff" stroke="#111" stroke-width="1.3"/>
<circle cx="189.9" cy="807.7" r="2.67" fill="#fff" stroke="#111" stroke-width="1.3"/>
<circle cx="255.8" cy="823.7" r="2.67" fill="#fff" stroke="#111" stroke-width="1.3"/>
<circle cx="453.5" cy="827.8" r="2.67" fill="#fff" stroke="#111" stroke-width="1.3"/>
<path d="M124.0 1101.7V1111.0M121.0 1101.7H127.0M121.0 1111.0H127.0" stroke="#111" stroke-width="1.7"/>
<path d="M189.9 958.6V996.6M186.9 958.6H192.9M186.9 996.6H192.9" stroke="#111" stroke-width="1.7"/>
<path d="M255.8 889.5V939.6M252.8 889.5H258.8M252.8 939.6H258.8" stroke="#111" stroke-width="1.7"/>
<path d="M453.5 885.7V928.0M450.5 885.7H456.5M450.5 928.0H456.5" stroke="#111" stroke-width="1.7"/>
<path d="M124.0 1108.7V1118.0M121.0 1108.7H127.0M121.0 1118.0H127.0" stroke="#111" stroke-width="1.7"/>
<path d="M189.9 1002.7V1032.8M186.9 1002.7H192.9M186.9 1032.8H192.9" stroke="#111" stroke-width="1.7"/>
<path d="M255.8 986.9V1020.3M252.8 986.9H258.8M252.8 1020.3H258.8" stroke="#111" stroke-width="1.7"/>
<path d="M453.5 1004.5V1030.1M450.5 1004.5H456.5M450.5 1030.1H456.5" stroke="#111" stroke-width="1.7"/>
<path d="M124.0 1106.4V1115.7M121.0 1106.4H127.0M121.0 1115.7H127.0" stroke="#111" stroke-width="1.7"/>
<path d="M189.9 1063.2V1080.9M186.9 1063.2H192.9M186.9 1080.9H192.9" stroke="#111" stroke-width="1.7"/>
<path d="M255.8 1054.2V1070.4M252.8 1054.2H258.8M252.8 1070.4H258.8" stroke="#111" stroke-width="1.7"/>
<path d="M453.5 1050.0V1070.0M450.5 1050.0H456.5M450.5 1070.0H456.5" stroke="#111" stroke-width="1.7"/>
<path d="M124.0 1118.0V1127.3M121.0 1118.0H127.0M121.0 1127.3H127.0" stroke="#111" stroke-width="1.7"/>
<path d="M189.9 1076.5V1090.4M186.9 1076.5H192.9M186.9 1090.4H192.9" stroke="#111" stroke-width="1.7"/>
<path d="M255.8 1069.3V1090.1M252.8 1069.3H258.8M252.8 1090.1H258.8" stroke="#111" stroke-width="1.7"/>
<path d="M453.5 1076.5V1101.0M450.5 1076.5H456.5M450.5 1101.0H456.5" stroke="#111" stroke-width="1.7"/>
<path d="M124.0 1106.4L189.9 977.6L255.8 914.5L453.5 906.9" fill="none" stroke="#111" stroke-width="1.15"/>
<path d="M124.0 1113.3L189.9 1017.8L255.8 1003.6L453.5 1017.3" fill="none" stroke="#111" stroke-width="1.15"/>
<path d="M124.0 1111.0L189.9 1072.0L255.8 1062.3L453.5 1060.0" fill="none" stroke="#111" stroke-width="1.15"/>
<path d="M124.0 1122.6L189.9 1083.4L255.8 1079.7L453.5 1088.7" fill="none" stroke="#111" stroke-width="1.15"/>
<path d="M120.2 1103.2H127.8L124.0 1110.3Z" fill="#111"/>
<path d="M186.1 974.4H193.7L189.9 981.5Z" fill="#111"/>
<path d="M252.0 911.3H259.6L255.8 918.4Z" fill="#111"/>
<path d="M449.7 903.6H457.3L453.5 910.8Z" fill="#111"/>
<path d="M121.2 1111.0H126.8L124.0 1116.2Z" fill="#fff" stroke="#111" stroke-width="1.2" stroke-linejoin="miter"/>
<path d="M187.1 1015.4H192.7L189.9 1020.6Z" fill="#fff" stroke="#111" stroke-width="1.2" stroke-linejoin="miter"/>
<path d="M253.0 1001.2H258.6L255.8 1006.5Z" fill="#fff" stroke="#111" stroke-width="1.2" stroke-linejoin="miter"/>
<path d="M450.7 1014.9H456.3L453.5 1020.1Z" fill="#fff" stroke="#111" stroke-width="1.2" stroke-linejoin="miter"/>
<circle cx="124.0" cy="1111.0" r="3.04" fill="#111"/>
<circle cx="189.9" cy="1072.0" r="3.04" fill="#111"/>
<circle cx="255.8" cy="1062.3" r="3.04" fill="#111"/>
<circle cx="453.5" cy="1060.0" r="3.04" fill="#111"/>
<circle cx="124.0" cy="1122.6" r="2.67" fill="#fff" stroke="#111" stroke-width="1.3"/>
<circle cx="189.9" cy="1083.4" r="2.67" fill="#fff" stroke="#111" stroke-width="1.3"/>
<circle cx="255.8" cy="1079.7" r="2.67" fill="#fff" stroke="#111" stroke-width="1.3"/>
<circle cx="453.5" cy="1088.7" r="2.67" fill="#fff" stroke="#111" stroke-width="1.3"/>
<path d="M98.9 299.6H123.5" stroke="#111" stroke-width="1.8"/>
<circle cx="111.2" cy="299.6" r="2.72" fill="#111"/>
<text x="130.5" y="305.6" font-size="15.5" font-weight="bold" textLength="62.3" lengthAdjust="spacingAndGlyphs" fill="#111" stroke="#111" stroke-width="0.4" >2-12H Tg</text>
<path d="M98.9 318.0H123.5" stroke="#111" stroke-width="1.8"/>
<circle cx="111.2" cy="318.0" r="2.46" fill="#fff" stroke="#111" stroke-width="1.3"/>
<text x="130.5" y="321.9" font-size="15.5" font-weight="bold" textLength="46.46" lengthAdjust="spacingAndGlyphs" fill="#111" stroke="#111" stroke-width="0.4" >2-12H/</text>
<text x="176.96" y="321.9" font-size="15.5" font-weight="normal" font-style="italic" textLength="23.48" lengthAdjust="spacingAndGlyphs" fill="#111" stroke="#111" stroke-width="0.3" >Fas</text>
<g transform="translate(200.44,321.90) scale(0.969)" fill="none" stroke="#111" stroke-width="1.35"><path d="M1.2 -12.8C3 -13.6 4.2 -12 4.8 -9.6"/><ellipse cx="5.2" cy="-7.6" rx="2.4" ry="1.5"/><path d="M4.6 -7V-2.8M2.4 -2.6H7.2"/><path d="M5.2 -10.2H14L9.6 -6.2H6Z" fill="#111" stroke-width="0.8"/></g>
<path d="M231.5 298.8H256.5" stroke="#111" stroke-width="1.8"/>
<path d="M241.2 296.4H246.8L244.0 301.7Z" fill="#111"/>
<text x="261" y="305.6" font-size="15.5" font-weight="bold" textLength="80" lengthAdjust="spacingAndGlyphs" fill="#111" stroke="#111" stroke-width="0.4" >2-12H MRL</text>
<path d="M231.5 316.8H256.5" stroke="#111" stroke-width="1.8"/>
<path d="M241.5 314.7H246.5L244.0 319.4Z" fill="#fff" stroke="#111" stroke-width="1.2" stroke-linejoin="miter"/>
<text x="261" y="321.9" font-size="15.5" font-weight="bold" textLength="87.18" lengthAdjust="spacingAndGlyphs" fill="#111" stroke="#111" stroke-width="0.4" >2-12H MRL/</text>
<text x="348.18" y="321.9" font-size="15.5" font-weight="normal" font-style="italic" textLength="23.26" lengthAdjust="spacingAndGlyphs" fill="#111" stroke="#111" stroke-width="0.3" >Fas</text>
<g transform="translate(371.44,321.90) scale(0.969)" fill="none" stroke="#111" stroke-width="1.35"><path d="M1.2 -12.8C3 -13.6 4.2 -12 4.8 -9.6"/><ellipse cx="5.2" cy="-7.6" rx="2.4" ry="1.5"/><path d="M4.6 -7V-2.8M2.4 -2.6H7.2"/><path d="M5.2 -10.2H14L9.6 -6.2H6Z" fill="#111" stroke-width="0.8"/></g>
<path d="M100.5 595.8H126.6" stroke="#111" stroke-width="1.8"/>
<circle cx="113.9" cy="595.8" r="2.72" fill="#111"/>
<text x="132.3" y="601.9" font-size="15.5" font-weight="bold" textLength="61.5" lengthAdjust="spacingAndGlyphs" fill="#111" stroke="#111" stroke-width="0.4" >2-12H Tg</text>
<path d="M100.5 614.0H126.6" stroke="#111" stroke-width="1.8"/>
<circle cx="113.9" cy="614.0" r="2.46" fill="#fff" stroke="#111" stroke-width="1.3"/>
<text x="131.7" y="617.4" font-size="15.5" font-weight="bold" textLength="46.59" lengthAdjust="spacingAndGlyphs" fill="#111" stroke="#111" stroke-width="0.4" >2-12H/</text>
<text x="178.29" y="617.4" font-size="15.5" font-weight="normal" font-style="italic" textLength="23.55" lengthAdjust="spacingAndGlyphs" fill="#111" stroke="#111" stroke-width="0.3" >Fas</text>
<g transform="translate(201.84,617.40) scale(0.969)" fill="none" stroke="#111" stroke-width="1.35"><path d="M1.2 -12.8C3 -13.6 4.2 -12 4.8 -9.6"/><ellipse cx="5.2" cy="-7.6" rx="2.4" ry="1.5"/><path d="M4.6 -7V-2.8M2.4 -2.6H7.2"/><path d="M5.2 -10.2H14L9.6 -6.2H6Z" fill="#111" stroke-width="0.8"/></g>
<path d="M232.3 595.8H257" stroke="#111" stroke-width="1.8"/>
<path d="M242.0 593.4H247.6L244.8 598.7Z" fill="#111"/>
<text x="263" y="601.9" font-size="15.5" font-weight="bold" textLength="80.9" lengthAdjust="spacingAndGlyphs" fill="#111" stroke="#111" stroke-width="0.4" >2-12H MRL</text>
<path d="M232.3 612.8H257" stroke="#111" stroke-width="1.8"/>
<path d="M242.3 610.7H247.3L244.8 615.3Z" fill="#fff" stroke="#111" stroke-width="1.2" stroke-linejoin="miter"/>
<text x="263" y="617.4" font-size="15.5" font-weight="bold" textLength="88.2" lengthAdjust="spacingAndGlyphs" fill="#111" stroke="#111" stroke-width="0.4" >2-12H MRL/</text>
<text x="351.2" y="617.4" font-size="15.5" font-weight="normal" font-style="italic" textLength="23.53" lengthAdjust="spacingAndGlyphs" fill="#111" stroke="#111" stroke-width="0.3" >Fas</text>
<g transform="translate(374.74,617.40) scale(0.969)" fill="none" stroke="#111" stroke-width="1.35"><path d="M1.2 -12.8C3 -13.6 4.2 -12 4.8 -9.6"/><ellipse cx="5.2" cy="-7.6" rx="2.4" ry="1.5"/><path d="M4.6 -7V-2.8M2.4 -2.6H7.2"/><path d="M5.2 -10.2H14L9.6 -6.2H6Z" fill="#111" stroke-width="0.8"/></g>
<path d="M100.8 890.1H126.7" stroke="#111" stroke-width="1.8"/>
<circle cx="113.7" cy="890.1" r="2.72" fill="#111"/>
<text x="132.4" y="893.7" font-size="15.5" font-weight="bold" textLength="51" lengthAdjust="spacingAndGlyphs" fill="#111" stroke="#111" stroke-width="0.4" >Non-Tg</text>
<path d="M100.8 906.8H126.7" stroke="#111" stroke-width="1.8"/>
<circle cx="113.7" cy="906.8" r="2.46" fill="#fff" stroke="#111" stroke-width="1.3"/>
<text x="133.6" y="911.2" font-size="15.5" font-weight="bold" textLength="60.67" lengthAdjust="spacingAndGlyphs" fill="#111" stroke="#111" stroke-width="0.4" >Non-Tg /</text>
<text x="194.27" y="911.2" font-size="15.5" font-weight="normal" font-style="italic" textLength="23.27" lengthAdjust="spacingAndGlyphs" fill="#111" stroke="#111" stroke-width="0.3" >Fas</text>
<g transform="translate(217.54,911.20) scale(0.969)" fill="none" stroke="#111" stroke-width="1.35"><path d="M1.2 -12.8C3 -13.6 4.2 -12 4.8 -9.6"/><ellipse cx="5.2" cy="-7.6" rx="2.4" ry="1.5"/><path d="M4.6 -7V-2.8M2.4 -2.6H7.2"/><path d="M5.2 -10.2H14L9.6 -6.2H6Z" fill="#111" stroke-width="0.8"/></g>
<path d="M274.8 948.1H300.3" stroke="#111" stroke-width="1.8"/>
<path d="M284.7 945.7H290.3L287.5 951.0Z" fill="#111"/>
<text x="305.5" y="953.8" font-size="14.5" font-weight="bold" textLength="89.5" lengthAdjust="spacingAndGlyphs" fill="#111" stroke="#111" stroke-width="0.4" >Non-Tg MRL</text>
<path d="M274.8 966.2H300.3" stroke="#111" stroke-width="1.8"/>
<path d="M285.0 964.1H290.0L287.5 968.8Z" fill="#fff" stroke="#111" stroke-width="1.2" stroke-linejoin="miter"/>
<text x="305.5" y="971.9" font-size="14.5" font-weight="bold" textLength="99.62" lengthAdjust="spacingAndGlyphs" fill="#111" stroke="#111" stroke-width="0.4" >Non-Tg MRL/</text>
<text x="405.12" y="971.9" font-size="14.5" font-weight="normal" font-style="italic" textLength="23.69" lengthAdjust="spacingAndGlyphs" fill="#111" stroke="#111" stroke-width="0.3" >Fas</text>
<g transform="translate(428.81,971.90) scale(0.906)" fill="none" stroke="#111" stroke-width="1.35"><path d="M1.2 -12.8C3 -13.6 4.2 -12 4.8 -9.6"/><ellipse cx="5.2" cy="-7.6" rx="2.4" ry="1.5"/><path d="M4.6 -7V-2.8M2.4 -2.6H7.2"/><path d="M5.2 -10.2H14L9.6 -6.2H6Z" fill="#111" stroke-width="0.8"/></g>
<path d="M188.6 427.7V431.5M185.5 430.3L191.7 430.3M188.6 430.7L186.1 434.3M188.6 430.7L191.1 434.3" stroke="#111" stroke-width="1.15" stroke-linecap="round"/>
<path d="M199.7 427.7V431.5M196.6 430.3L202.8 430.3M199.7 430.7L197.2 434.3M199.7 430.7L202.2 434.3" stroke="#111" stroke-width="1.15" stroke-linecap="round"/>
<path d="M199.7 469.4V473.2M196.6 472.0L202.8 472.0M199.7 472.4L197.2 476.0M199.7 472.4L202.2 476.0" stroke="#111" stroke-width="1.15" stroke-linecap="round"/>
<path d="M266.0 337.2V341.0M262.9 339.8L269.1 339.8M266.0 340.2L263.5 343.8M266.0 340.2L268.5 343.8" stroke="#111" stroke-width="1.15" stroke-linecap="round"/>
<path d="M276.5 337.2V341.0M273.4 339.8L279.6 339.8M276.5 340.2L274.0 343.8M276.5 340.2L279.0 343.8" stroke="#111" stroke-width="1.15" stroke-linecap="round"/>
<path d="M453.0 316.9V320.7M449.9 319.5L456.1 319.5M453.0 319.9L450.5 323.5M453.0 319.9L455.5 323.5" stroke="#111" stroke-width="1.15" stroke-linecap="round"/>
<path d="M463.5 316.9V320.7M460.4 319.5L466.6 319.5M463.5 319.9L461.0 323.5M463.5 319.9L466.0 323.5" stroke="#111" stroke-width="1.15" stroke-linecap="round"/>
<path d="M191.4 706.7V710.5M188.3 709.3L194.5 709.3M191.4 709.7L188.9 713.3M191.4 709.7L193.9 713.3" stroke="#111" stroke-width="1.15" stroke-linecap="round"/>
<path d="M201.4 793.7V797.5M198.3 796.3L204.5 796.3M201.4 796.7L198.9 800.3M201.4 796.7L203.9 800.3" stroke="#111" stroke-width="1.15" stroke-linecap="round"/>
<path d="M193.4 827.0V830.8M190.3 829.6L196.5 829.6M193.4 830.0L190.9 833.6M193.4 830.0L195.9 833.6" stroke="#111" stroke-width="1.15" stroke-linecap="round"/>
<path d="M255.5 634.7V638.5M252.4 637.3L258.6 637.3M255.5 637.7L253.0 641.3M255.5 637.7L258.0 641.3" stroke="#111" stroke-width="1.15" stroke-linecap="round"/>
<path d="M265.0 634.7V638.5M261.9 637.3L268.1 637.3M265.0 637.7L262.5 641.3M265.0 637.7L267.5 641.3" stroke="#111" stroke-width="1.15" stroke-linecap="round"/>
<path d="M255.5 796.7V800.5M252.4 799.3L258.6 799.3M255.5 799.7L253.0 803.3M255.5 799.7L258.0 803.3" stroke="#111" stroke-width="1.15" stroke-linecap="round"/>
<path d="M265.0 796.7V800.5M261.9 799.3L268.1 799.3M265.0 799.7L262.5 803.3M265.0 799.7L267.5 803.3" stroke="#111" stroke-width="1.15" stroke-linecap="round"/>
<path d="M255.5 837.9V841.7M252.4 840.5L258.6 840.5M255.5 840.9L253.0 844.5M255.5 840.9L258.0 844.5" stroke="#111" stroke-width="1.15" stroke-linecap="round"/>
<path d="M265.0 837.9V841.7M261.9 840.5L268.1 840.5M265.0 840.9L262.5 844.5M265.0 840.9L267.5 844.5" stroke="#111" stroke-width="1.15" stroke-linecap="round"/>
<path d="M453.5 618.4V622.2M450.4 621.0L456.6 621.0M453.5 621.4L451.0 625.0M453.5 621.4L456.0 625.0" stroke="#111" stroke-width="1.15" stroke-linecap="round"/>
<path d="M463.5 618.4V622.2M460.4 621.0L466.6 621.0M463.5 621.4L461.0 625.0M463.5 621.4L466.0 625.0" stroke="#111" stroke-width="1.15" stroke-linecap="round"/>
<path d="M453.5 802.0V805.8M450.4 804.6L456.6 804.6M453.5 805.0L451.0 808.6M453.5 805.0L456.0 808.6" stroke="#111" stroke-width="1.15" stroke-linecap="round"/>
<path d="M463.5 802.0V805.8M460.4 804.6L466.6 804.6M463.5 805.0L461.0 808.6M463.5 805.0L466.0 808.6" stroke="#111" stroke-width="1.15" stroke-linecap="round"/>
<path d="M453.5 843.4V847.2M450.4 846.0L456.6 846.0M453.5 846.4L451.0 850.0M453.5 846.4L456.0 850.0" stroke="#111" stroke-width="1.15" stroke-linecap="round"/>
<path d="M463.5 843.4V847.2M460.4 846.0L466.6 846.0M463.5 846.4L461.0 850.0M463.5 846.4L466.0 850.0" stroke="#111" stroke-width="1.15" stroke-linecap="round"/>
<path d="M255.5 877.9V881.7M252.4 880.5L258.6 880.5M255.5 880.9L253.0 884.5M255.5 880.9L258.0 884.5" stroke="#111" stroke-width="1.15" stroke-linecap="round"/>
<path d="M265.0 877.9V881.7M261.9 880.5L268.1 880.5M265.0 880.9L262.5 884.5M265.0 880.9L267.5 884.5" stroke="#111" stroke-width="1.15" stroke-linecap="round"/>
<path d="M188.5 948.0V951.8M185.4 950.6L191.6 950.6M188.5 951.0L186.0 954.6M188.5 951.0L191.0 954.6" stroke="#111" stroke-width="1.15" stroke-linecap="round"/>
<path d="M197.0 948.0V951.8M193.9 950.6L200.1 950.6M197.0 951.0L194.5 954.6M197.0 951.0L199.5 954.6" stroke="#111" stroke-width="1.15" stroke-linecap="round"/>
<path d="M200.5 1002.7V1006.5M197.4 1005.3L203.6 1005.3M200.5 1005.7L198.0 1009.3M200.5 1005.7L203.0 1009.3" stroke="#111" stroke-width="1.15" stroke-linecap="round"/>
<path d="M209.5 1002.7V1006.5M206.4 1005.3L212.6 1005.3M209.5 1005.7L207.0 1009.3M209.5 1005.7L212.0 1009.3" stroke="#111" stroke-width="1.15" stroke-linecap="round"/>
<path d="M255.5 976.3V980.1M252.4 978.9L258.6 978.9M255.5 979.3L253.0 982.9M255.5 979.3L258.0 982.9" stroke="#111" stroke-width="1.15" stroke-linecap="round"/>
<path d="M265.0 976.3V980.1M261.9 978.9L268.1 978.9M265.0 979.3L262.5 982.9M265.0 979.3L267.5 982.9" stroke="#111" stroke-width="1.15" stroke-linecap="round"/>
<path d="M452.0 873.4V877.2M448.9 876.0L455.1 876.0M452.0 876.4L449.5 880.0M452.0 876.4L454.5 880.0" stroke="#111" stroke-width="1.15" stroke-linecap="round"/>
<path d="M461.5 873.4V877.2M458.4 876.0L464.6 876.0M461.5 876.4L459.0 880.0M461.5 876.4L464.0 880.0" stroke="#111" stroke-width="1.15" stroke-linecap="round"/>
<path d="M455.0 994.1V997.9M451.9 996.7L458.1 996.7M455.0 997.1L452.5 1000.7M455.0 997.1L457.5 1000.7" stroke="#111" stroke-width="1.15" stroke-linecap="round"/>
</svg>
</body></html>
